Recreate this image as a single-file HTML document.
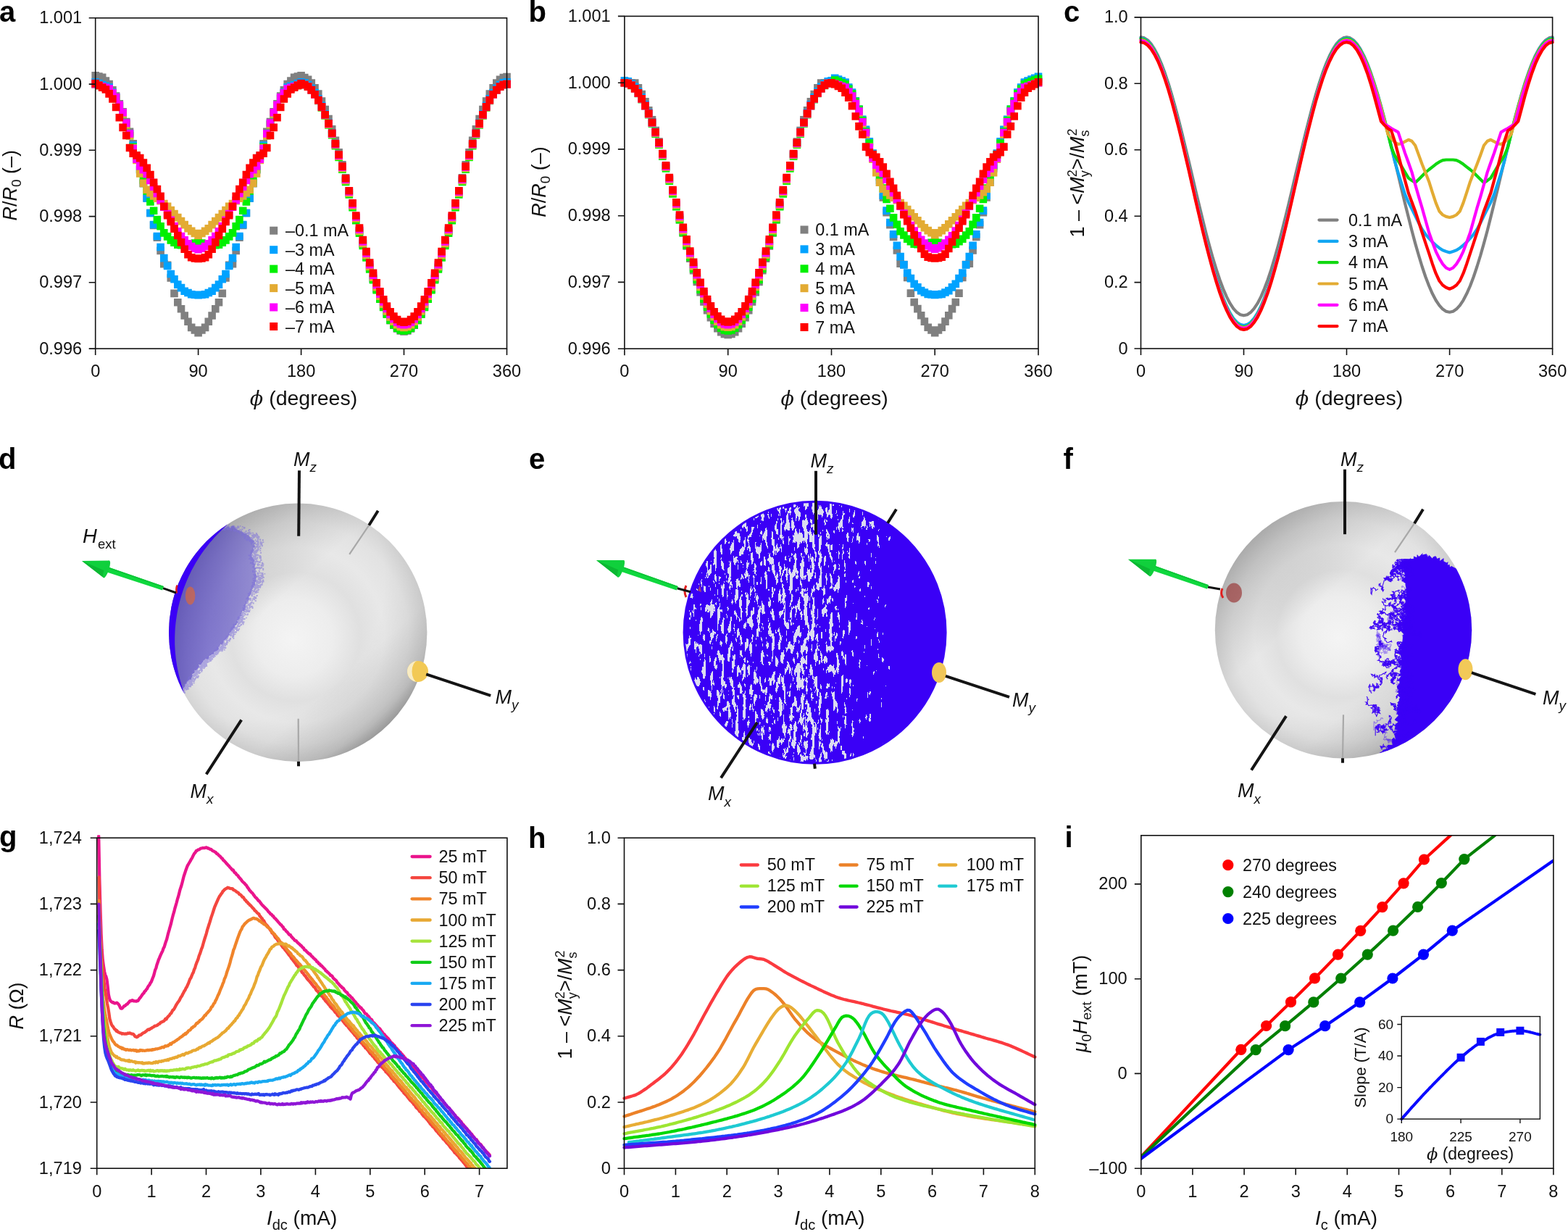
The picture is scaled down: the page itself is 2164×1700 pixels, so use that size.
<!DOCTYPE html>
<html><head><meta charset="utf-8"><title>Figure</title>
<style>html,body{margin:0;padding:0;background:#fff;} svg{display:block;}</style>
</head><body>
<svg width="2164" height="1700" viewBox="0 0 2164 1700" font-family="'Liberation Sans', Arial, sans-serif"><defs><clipPath id="clipG"><rect x="133.7" y="1152.2" width="566.2" height="460.0"/></clipPath><clipPath id="clipI"><rect x="1574.8" y="1152.8" width="569.1000000000001" height="459.4000000000001"/></clipPath>
<radialGradient id="sphG" cx="0.5" cy="0.5" r="0.5" fx="0.48" fy="0.53">
  <stop offset="0" stop-color="#f4f4f4"/>
  <stop offset="0.3" stop-color="#ededed"/>
  <stop offset="0.5" stop-color="#e0e0e0"/>
  <stop offset="0.68" stop-color="#e8e8e8"/>
  <stop offset="0.86" stop-color="#e2e2e2"/>
  <stop offset="1" stop-color="#d4d4d4"/>
</radialGradient>
<radialGradient id="sphS" cx="0.3" cy="0.3" r="0.86">
  <stop offset="0.62" stop-color="#000" stop-opacity="0"/>
  <stop offset="0.86" stop-color="#000" stop-opacity="0.07"/>
  <stop offset="1" stop-color="#000" stop-opacity="0.30"/>
</radialGradient>
<linearGradient id="sphT" x1="0.1" y1="0.05" x2="0.9" y2="0.95">
  <stop offset="0" stop-color="#000" stop-opacity="0.26"/>
  <stop offset="0.2" stop-color="#000" stop-opacity="0.11"/>
  <stop offset="0.38" stop-color="#000" stop-opacity="0"/>
  <stop offset="0.7" stop-color="#000" stop-opacity="0"/>
  <stop offset="0.86" stop-color="#000" stop-opacity="0.08"/>
  <stop offset="1" stop-color="#000" stop-opacity="0.25"/>
</linearGradient>
<linearGradient id="arrG" x1="0" y1="0" x2="0" y2="1">
  <stop offset="0" stop-color="#5ef07a"/>
  <stop offset="0.45" stop-color="#22d048"/>
  <stop offset="1" stop-color="#0f9a30"/>
</linearGradient>
<clipPath id="clipD"><circle cx="411.2" cy="872.8" r="178.2"/></clipPath><linearGradient id="lavD" gradientUnits="userSpaceOnUse" x1="235" y1="0" x2="365" y2="0"><stop offset="0" stop-color="#3424b0" stop-opacity="0.66"/><stop offset="0.5" stop-color="#3a2ac0" stop-opacity="0.55"/><stop offset="1" stop-color="#4434d0" stop-opacity="0.42"/></linearGradient><clipPath id="clipE"><circle cx="1124.6" cy="872.8" r="180.5"/></clipPath><linearGradient id="densE" gradientUnits="userSpaceOnUse" x1="944" y1="0" x2="1305" y2="0"><stop offset="0" stop-color="rgb(130,0,0)"/><stop offset="0.02" stop-color="rgb(150,0,0)"/><stop offset="0.08" stop-color="rgb(151,0,0)"/><stop offset="0.14" stop-color="rgb(158,0,0)"/><stop offset="0.2" stop-color="rgb(161,0,0)"/><stop offset="0.26" stop-color="rgb(158,0,0)"/><stop offset="0.33" stop-color="rgb(156,0,0)"/><stop offset="0.39" stop-color="rgb(160,0,0)"/><stop offset="0.43" stop-color="rgb(171,0,0)"/><stop offset="0.48" stop-color="rgb(172,0,0)"/><stop offset="0.51" stop-color="rgb(160,0,0)"/><stop offset="0.57" stop-color="rgb(156,0,0)"/><stop offset="0.6" stop-color="rgb(146,0,0)"/><stop offset="0.63" stop-color="rgb(136,0,0)"/><stop offset="0.66" stop-color="rgb(124,0,0)"/><stop offset="0.74" stop-color="rgb(118,0,0)"/><stop offset="0.8" stop-color="rgb(95,0,0)"/><stop offset="1" stop-color="rgb(80,0,0)"/></linearGradient><radialGradient id="densE2" gradientUnits="userSpaceOnUse" cx="1190" cy="725" r="70"><stop offset="0" stop-color="rgb(150,0,0)" stop-opacity="0.9"/><stop offset="1" stop-color="rgb(150,0,0)" stop-opacity="0"/></radialGradient>
<filter id="speckE" filterUnits="userSpaceOnUse" x="940" y="688" width="372" height="372" color-interpolation-filters="sRGB">
 <feTurbulence type="fractalNoise" baseFrequency="0.2 0.06" numOctaves="3" seed="4" result="n"/>
 <feColorMatrix in="n" type="matrix" values="1 0 0 0 0  1 0 0 0 0  1 0 0 0 0  0 0 0 0 1" result="n2"/>
 <feComposite in="n2" in2="SourceGraphic" operator="arithmetic" k2="1" k3="1" k4="-0.5" result="s"/>
 <feColorMatrix in="s" type="matrix" values="0 0 0 0 0.86  0 0 0 0 0.86  0 0 0 0 0.94  1 0 0 0 0" result="t"/>
 <feComponentTransfer in="t"><feFuncA type="discrete" tableValues="0 0 0 0 0 0 0 1 1 1"/></feComponentTransfer>
</filter><clipPath id="clipF"><circle cx="1854.0" cy="869.2" r="177.2"/></clipPath></defs><rect width="2164" height="1700" fill="#fff"/><text x="-1.0" y="29.6" font-size="40" text-anchor="start" font-weight="bold" fill="#000" >a</text>
<text x="729.5" y="29.6" font-size="40" text-anchor="start" font-weight="bold" fill="#000" >b</text>
<text x="1468.0" y="29.6" font-size="40" text-anchor="start" font-weight="bold" fill="#000" >c</text>
<text x="-2.0" y="646.7" font-size="40" text-anchor="start" font-weight="bold" fill="#000" >d</text>
<text x="730.0" y="646.7" font-size="40" text-anchor="start" font-weight="bold" fill="#000" >e</text>
<text x="1467.5" y="646.7" font-size="40" text-anchor="start" font-weight="bold" fill="#000" >f</text>
<text x="-1.0" y="1168.0" font-size="40" text-anchor="start" font-weight="bold" fill="#000" >g</text>
<text x="729.0" y="1169.6" font-size="40" text-anchor="start" font-weight="bold" fill="#000" >h</text>
<text x="1469.5" y="1168.6" font-size="40" text-anchor="start" font-weight="bold" fill="#000" >i</text>
<path d="M126.4,98.9h10.6v10.6h-10.6zM131.1,100.3h10.6v10.6h-10.6zM135.9,101.6h10.6v10.6h-10.6zM140.6,106.2h10.6v10.6h-10.6zM145.3,110.8h10.6v10.6h-10.6zM150.1,119.0h10.6v10.6h-10.6zM154.8,127.2h10.6v10.6h-10.6zM159.5,138.1h10.6v10.6h-10.6zM164.3,149.1h10.6v10.6h-10.6zM169.0,162.8h10.6v10.6h-10.6zM173.7,176.5h10.6v10.6h-10.6zM178.4,192.9h10.6v10.6h-10.6zM183.2,209.3h10.6v10.6h-10.6zM187.9,228.5h10.6v10.6h-10.6zM192.6,247.6h10.6v10.6h-10.6zM197.4,268.2h10.6v10.6h-10.6zM202.1,288.7h10.6v10.6h-10.6zM206.8,305.6h10.6v10.6h-10.6zM211.6,322.5h10.6v10.6h-10.6zM216.3,340.7h10.6v10.6h-10.6zM221.0,359.0h10.6v10.6h-10.6zM225.8,360.4h10.6v10.6h-10.6zM230.5,378.2h10.6v10.6h-10.6zM235.2,399.6h10.6v10.6h-10.6zM240.0,411.9h10.6v10.6h-10.6zM244.7,421.0h10.6v10.6h-10.6zM249.4,430.2h10.6v10.6h-10.6zM254.2,438.4h10.6v10.6h-10.6zM258.9,446.6h10.6v10.6h-10.6zM263.6,450.2h10.6v10.6h-10.6zM268.3,453.9h10.6v10.6h-10.6zM273.1,450.2h10.6v10.6h-10.6zM277.8,446.6h10.6v10.6h-10.6zM282.5,438.4h10.6v10.6h-10.6zM287.3,430.2h10.6v10.6h-10.6zM292.0,421.0h10.6v10.6h-10.6zM296.7,411.9h10.6v10.6h-10.6zM301.5,399.6h10.6v10.6h-10.6zM306.2,378.2h10.6v10.6h-10.6zM310.9,360.4h10.6v10.6h-10.6zM315.7,359.0h10.6v10.6h-10.6zM320.4,340.7h10.6v10.6h-10.6zM325.1,322.5h10.6v10.6h-10.6zM329.9,305.6h10.6v10.6h-10.6zM334.6,288.7h10.6v10.6h-10.6zM339.3,268.2h10.6v10.6h-10.6zM344.1,247.6h10.6v10.6h-10.6zM348.8,228.5h10.6v10.6h-10.6zM353.5,209.3h10.6v10.6h-10.6zM358.3,192.9h10.6v10.6h-10.6zM363.0,176.5h10.6v10.6h-10.6zM367.7,162.8h10.6v10.6h-10.6zM372.4,149.1h10.6v10.6h-10.6zM377.2,138.1h10.6v10.6h-10.6zM381.9,127.2h10.6v10.6h-10.6zM386.6,119.0h10.6v10.6h-10.6zM391.4,110.8h10.6v10.6h-10.6zM396.1,106.2h10.6v10.6h-10.6zM400.8,101.6h10.6v10.6h-10.6zM405.6,100.3h10.6v10.6h-10.6zM410.3,98.9h10.6v10.6h-10.6zM415.0,101.7h10.6v10.6h-10.6zM419.8,104.6h10.6v10.6h-10.6zM424.5,109.3h10.6v10.6h-10.6zM429.2,115.9h10.6v10.6h-10.6zM434.0,124.3h10.6v10.6h-10.6zM438.7,134.3h10.6v10.6h-10.6zM443.4,145.8h10.6v10.6h-10.6zM448.2,158.8h10.6v10.6h-10.6zM452.9,173.1h10.6v10.6h-10.6zM457.6,188.6h10.6v10.6h-10.6zM462.3,204.9h10.6v10.6h-10.6zM467.1,222.1h10.6v10.6h-10.6zM471.8,239.9h10.6v10.6h-10.6zM476.5,258.0h10.6v10.6h-10.6zM481.3,276.4h10.6v10.6h-10.6zM486.0,294.8h10.6v10.6h-10.6zM490.7,312.9h10.6v10.6h-10.6zM495.5,330.7h10.6v10.6h-10.6zM500.2,347.9h10.6v10.6h-10.6zM504.9,364.2h10.6v10.6h-10.6zM509.7,379.7h10.6v10.6h-10.6zM514.4,393.9h10.6v10.6h-10.6zM519.1,406.9h10.6v10.6h-10.6zM523.9,418.5h10.6v10.6h-10.6zM528.6,428.5h10.6v10.6h-10.6zM533.3,436.9h10.6v10.6h-10.6zM538.1,443.5h10.6v10.6h-10.6zM542.8,448.2h10.6v10.6h-10.6zM547.5,451.1h10.6v10.6h-10.6zM552.2,452.1h10.6v10.6h-10.6zM557.0,451.1h10.6v10.6h-10.6zM561.7,448.2h10.6v10.6h-10.6zM566.4,443.5h10.6v10.6h-10.6zM571.2,436.9h10.6v10.6h-10.6zM575.9,428.5h10.6v10.6h-10.6zM580.6,418.5h10.6v10.6h-10.6zM585.4,406.9h10.6v10.6h-10.6zM590.1,393.9h10.6v10.6h-10.6zM594.8,379.7h10.6v10.6h-10.6zM599.6,364.2h10.6v10.6h-10.6zM604.3,347.9h10.6v10.6h-10.6zM609.0,330.7h10.6v10.6h-10.6zM613.8,312.9h10.6v10.6h-10.6zM618.5,294.8h10.6v10.6h-10.6zM623.2,276.4h10.6v10.6h-10.6zM628.0,258.0h10.6v10.6h-10.6zM632.7,239.9h10.6v10.6h-10.6zM637.4,222.1h10.6v10.6h-10.6zM642.2,204.9h10.6v10.6h-10.6zM646.9,188.6h10.6v10.6h-10.6zM651.6,173.1h10.6v10.6h-10.6zM656.3,158.8h10.6v10.6h-10.6zM661.1,145.8h10.6v10.6h-10.6zM665.8,134.3h10.6v10.6h-10.6zM670.5,124.3h10.6v10.6h-10.6zM675.3,115.9h10.6v10.6h-10.6zM680.0,109.3h10.6v10.6h-10.6zM684.7,104.6h10.6v10.6h-10.6zM689.5,101.7h10.6v10.6h-10.6zM694.2,100.7h10.6v10.6h-10.6z" fill="#808080"/>
<path d="M126.4,108.0h10.6v10.6h-10.6zM131.1,109.8h10.6v10.6h-10.6zM135.9,111.7h10.6v10.6h-10.6zM140.6,113.5h10.6v10.6h-10.6zM145.3,115.3h10.6v10.6h-10.6zM150.1,122.2h10.6v10.6h-10.6zM154.8,129.0h10.6v10.6h-10.6zM159.5,140.4h10.6v10.6h-10.6zM164.3,151.8h10.6v10.6h-10.6zM169.0,165.5h10.6v10.6h-10.6zM173.7,179.2h10.6v10.6h-10.6zM178.4,195.2h10.6v10.6h-10.6zM183.2,211.1h10.6v10.6h-10.6zM187.9,229.4h10.6v10.6h-10.6zM192.6,247.6h10.6v10.6h-10.6zM197.4,268.2h10.6v10.6h-10.6zM202.1,288.7h10.6v10.6h-10.6zM206.8,304.7h10.6v10.6h-10.6zM211.6,320.7h10.6v10.6h-10.6zM216.3,335.7h10.6v10.6h-10.6zM221.0,350.8h10.6v10.6h-10.6zM225.8,361.7h10.6v10.6h-10.6zM230.5,372.7h10.6v10.6h-10.6zM235.2,380.0h10.6v10.6h-10.6zM240.0,387.3h10.6v10.6h-10.6zM244.7,391.8h10.6v10.6h-10.6zM249.4,396.4h10.6v10.6h-10.6zM254.2,398.7h10.6v10.6h-10.6zM258.9,401.0h10.6v10.6h-10.6zM263.6,401.4h10.6v10.6h-10.6zM268.3,401.9h10.6v10.6h-10.6zM273.1,401.4h10.6v10.6h-10.6zM277.8,401.0h10.6v10.6h-10.6zM282.5,398.7h10.6v10.6h-10.6zM287.3,396.4h10.6v10.6h-10.6zM292.0,391.8h10.6v10.6h-10.6zM296.7,387.3h10.6v10.6h-10.6zM301.5,380.0h10.6v10.6h-10.6zM306.2,372.7h10.6v10.6h-10.6zM310.9,361.7h10.6v10.6h-10.6zM315.7,350.8h10.6v10.6h-10.6zM320.4,335.7h10.6v10.6h-10.6zM325.1,320.7h10.6v10.6h-10.6zM329.9,304.7h10.6v10.6h-10.6zM334.6,288.7h10.6v10.6h-10.6zM339.3,268.2h10.6v10.6h-10.6zM344.1,247.6h10.6v10.6h-10.6zM348.8,229.4h10.6v10.6h-10.6zM353.5,211.1h10.6v10.6h-10.6zM358.3,195.2h10.6v10.6h-10.6zM363.0,179.2h10.6v10.6h-10.6zM367.7,165.5h10.6v10.6h-10.6zM372.4,151.8h10.6v10.6h-10.6zM377.2,140.4h10.6v10.6h-10.6zM381.9,129.0h10.6v10.6h-10.6zM386.6,122.2h10.6v10.6h-10.6zM391.4,115.3h10.6v10.6h-10.6zM396.1,113.5h10.6v10.6h-10.6zM400.8,111.7h10.6v10.6h-10.6zM405.6,109.8h10.6v10.6h-10.6zM410.3,108.0h10.6v10.6h-10.6zM415.0,109.0h10.6v10.6h-10.6zM419.8,111.8h10.6v10.6h-10.6zM424.5,116.4h10.6v10.6h-10.6zM429.2,122.8h10.6v10.6h-10.6zM434.0,130.9h10.6v10.6h-10.6zM438.7,140.6h10.6v10.6h-10.6zM443.4,151.9h10.6v10.6h-10.6zM448.2,164.5h10.6v10.6h-10.6zM452.9,178.4h10.6v10.6h-10.6zM457.6,193.4h10.6v10.6h-10.6zM462.3,209.3h10.6v10.6h-10.6zM467.1,225.9h10.6v10.6h-10.6zM471.8,243.2h10.6v10.6h-10.6zM476.5,260.8h10.6v10.6h-10.6zM481.3,278.7h10.6v10.6h-10.6zM486.0,296.5h10.6v10.6h-10.6zM490.7,314.2h10.6v10.6h-10.6zM495.5,331.4h10.6v10.6h-10.6zM500.2,348.1h10.6v10.6h-10.6zM504.9,364.0h10.6v10.6h-10.6zM509.7,379.0h10.6v10.6h-10.6zM514.4,392.9h10.6v10.6h-10.6zM519.1,405.5h10.6v10.6h-10.6zM523.9,416.7h10.6v10.6h-10.6zM528.6,426.5h10.6v10.6h-10.6zM533.3,434.6h10.6v10.6h-10.6zM538.1,441.0h10.6v10.6h-10.6zM542.8,445.6h10.6v10.6h-10.6zM547.5,448.4h10.6v10.6h-10.6zM552.2,449.3h10.6v10.6h-10.6zM557.0,448.4h10.6v10.6h-10.6zM561.7,445.6h10.6v10.6h-10.6zM566.4,441.0h10.6v10.6h-10.6zM571.2,434.6h10.6v10.6h-10.6zM575.9,426.5h10.6v10.6h-10.6zM580.6,416.7h10.6v10.6h-10.6zM585.4,405.5h10.6v10.6h-10.6zM590.1,392.9h10.6v10.6h-10.6zM594.8,379.0h10.6v10.6h-10.6zM599.6,364.0h10.6v10.6h-10.6zM604.3,348.1h10.6v10.6h-10.6zM609.0,331.4h10.6v10.6h-10.6zM613.8,314.2h10.6v10.6h-10.6zM618.5,296.5h10.6v10.6h-10.6zM623.2,278.7h10.6v10.6h-10.6zM628.0,260.8h10.6v10.6h-10.6zM632.7,243.2h10.6v10.6h-10.6zM637.4,225.9h10.6v10.6h-10.6zM642.2,209.3h10.6v10.6h-10.6zM646.9,193.4h10.6v10.6h-10.6zM651.6,178.4h10.6v10.6h-10.6zM656.3,164.5h10.6v10.6h-10.6zM661.1,151.9h10.6v10.6h-10.6zM665.8,140.6h10.6v10.6h-10.6zM670.5,130.9h10.6v10.6h-10.6zM675.3,122.8h10.6v10.6h-10.6zM680.0,116.4h10.6v10.6h-10.6zM684.7,111.8h10.6v10.6h-10.6zM689.5,109.0h10.6v10.6h-10.6zM694.2,108.0h10.6v10.6h-10.6z" fill="#00a2ff"/>
<path d="M126.4,110.8h10.6v10.6h-10.6zM131.1,112.6h10.6v10.6h-10.6zM135.9,114.4h10.6v10.6h-10.6zM140.6,116.2h10.6v10.6h-10.6zM145.3,118.1h10.6v10.6h-10.6zM150.1,124.4h10.6v10.6h-10.6zM154.8,130.8h10.6v10.6h-10.6zM159.5,141.3h10.6v10.6h-10.6zM164.3,151.8h10.6v10.6h-10.6zM169.0,166.9h10.6v10.6h-10.6zM173.7,181.9h10.6v10.6h-10.6zM178.4,197.5h10.6v10.6h-10.6zM183.2,213.0h10.6v10.6h-10.6zM187.9,228.0h10.6v10.6h-10.6zM192.6,243.1h10.6v10.6h-10.6zM197.4,258.1h10.6v10.6h-10.6zM202.1,273.2h10.6v10.6h-10.6zM206.8,285.5h10.6v10.6h-10.6zM211.6,297.8h10.6v10.6h-10.6zM216.3,307.0h10.6v10.6h-10.6zM221.0,316.1h10.6v10.6h-10.6zM225.8,321.1h10.6v10.6h-10.6zM230.5,326.1h10.6v10.6h-10.6zM235.2,329.3h10.6v10.6h-10.6zM240.0,332.5h10.6v10.6h-10.6zM244.7,332.9h10.6v10.6h-10.6zM249.4,333.2h10.6v10.6h-10.6zM254.2,333.0h10.6v10.6h-10.6zM258.9,331.6h10.6v10.6h-10.6zM263.6,330.2h10.6v10.6h-10.6zM268.3,328.9h10.6v10.6h-10.6zM273.1,330.2h10.6v10.6h-10.6zM277.8,331.6h10.6v10.6h-10.6zM282.5,333.0h10.6v10.6h-10.6zM287.3,333.2h10.6v10.6h-10.6zM292.0,332.9h10.6v10.6h-10.6zM296.7,332.5h10.6v10.6h-10.6zM301.5,329.3h10.6v10.6h-10.6zM306.2,326.1h10.6v10.6h-10.6zM310.9,321.1h10.6v10.6h-10.6zM315.7,316.1h10.6v10.6h-10.6zM320.4,307.0h10.6v10.6h-10.6zM325.1,297.8h10.6v10.6h-10.6zM329.9,285.5h10.6v10.6h-10.6zM334.6,273.2h10.6v10.6h-10.6zM339.3,258.1h10.6v10.6h-10.6zM344.1,243.1h10.6v10.6h-10.6zM348.8,228.0h10.6v10.6h-10.6zM353.5,213.0h10.6v10.6h-10.6zM358.3,197.5h10.6v10.6h-10.6zM363.0,181.9h10.6v10.6h-10.6zM367.7,166.9h10.6v10.6h-10.6zM372.4,151.8h10.6v10.6h-10.6zM377.2,141.3h10.6v10.6h-10.6zM381.9,130.8h10.6v10.6h-10.6zM386.6,124.4h10.6v10.6h-10.6zM391.4,118.1h10.6v10.6h-10.6zM396.1,116.2h10.6v10.6h-10.6zM400.8,114.4h10.6v10.6h-10.6zM405.6,112.6h10.6v10.6h-10.6zM410.3,110.8h10.6v10.6h-10.6zM415.0,111.7h10.6v10.6h-10.6zM419.8,114.5h10.6v10.6h-10.6zM424.5,119.1h10.6v10.6h-10.6zM429.2,125.5h10.6v10.6h-10.6zM434.0,133.6h10.6v10.6h-10.6zM438.7,143.3h10.6v10.6h-10.6zM443.4,154.5h10.6v10.6h-10.6zM448.2,167.1h10.6v10.6h-10.6zM452.9,180.9h10.6v10.6h-10.6zM457.6,195.9h10.6v10.6h-10.6zM462.3,211.7h10.6v10.6h-10.6zM467.1,228.4h10.6v10.6h-10.6zM471.8,245.6h10.6v10.6h-10.6zM476.5,263.2h10.6v10.6h-10.6zM481.3,281.0h10.6v10.6h-10.6zM486.0,298.8h10.6v10.6h-10.6zM490.7,316.3h10.6v10.6h-10.6zM495.5,333.6h10.6v10.6h-10.6zM500.2,350.2h10.6v10.6h-10.6zM504.9,366.1h10.6v10.6h-10.6zM509.7,381.0h10.6v10.6h-10.6zM514.4,394.8h10.6v10.6h-10.6zM519.1,407.4h10.6v10.6h-10.6zM523.9,418.7h10.6v10.6h-10.6zM528.6,428.4h10.6v10.6h-10.6zM533.3,436.4h10.6v10.6h-10.6zM538.1,442.8h10.6v10.6h-10.6zM542.8,447.4h10.6v10.6h-10.6zM547.5,450.2h10.6v10.6h-10.6zM552.2,451.2h10.6v10.6h-10.6zM557.0,450.2h10.6v10.6h-10.6zM561.7,447.4h10.6v10.6h-10.6zM566.4,442.8h10.6v10.6h-10.6zM571.2,436.4h10.6v10.6h-10.6zM575.9,428.4h10.6v10.6h-10.6zM580.6,418.7h10.6v10.6h-10.6zM585.4,407.4h10.6v10.6h-10.6zM590.1,394.8h10.6v10.6h-10.6zM594.8,381.0h10.6v10.6h-10.6zM599.6,366.1h10.6v10.6h-10.6zM604.3,350.2h10.6v10.6h-10.6zM609.0,333.6h10.6v10.6h-10.6zM613.8,316.3h10.6v10.6h-10.6zM618.5,298.8h10.6v10.6h-10.6zM623.2,281.0h10.6v10.6h-10.6zM628.0,263.2h10.6v10.6h-10.6zM632.7,245.6h10.6v10.6h-10.6zM637.4,228.4h10.6v10.6h-10.6zM642.2,211.7h10.6v10.6h-10.6zM646.9,195.9h10.6v10.6h-10.6zM651.6,180.9h10.6v10.6h-10.6zM656.3,167.1h10.6v10.6h-10.6zM661.1,154.5h10.6v10.6h-10.6zM665.8,143.3h10.6v10.6h-10.6zM670.5,133.6h10.6v10.6h-10.6zM675.3,125.5h10.6v10.6h-10.6zM680.0,119.1h10.6v10.6h-10.6zM684.7,114.5h10.6v10.6h-10.6zM689.5,111.7h10.6v10.6h-10.6zM694.2,110.8h10.6v10.6h-10.6z" fill="#00f000"/>
<path d="M126.4,110.8h10.6v10.6h-10.6zM131.1,112.6h10.6v10.6h-10.6zM135.9,114.4h10.6v10.6h-10.6zM140.6,116.2h10.6v10.6h-10.6zM145.3,118.1h10.6v10.6h-10.6zM150.1,124.4h10.6v10.6h-10.6zM154.8,130.8h10.6v10.6h-10.6zM159.5,141.3h10.6v10.6h-10.6zM164.3,151.8h10.6v10.6h-10.6zM169.0,166.9h10.6v10.6h-10.6zM173.7,181.9h10.6v10.6h-10.6zM178.4,198.8h10.6v10.6h-10.6zM183.2,215.7h10.6v10.6h-10.6zM187.9,234.2h10.6v10.6h-10.6zM192.6,247.6h10.6v10.6h-10.6zM197.4,256.5h10.6v10.6h-10.6zM202.1,261.0h10.6v10.6h-10.6zM206.8,265.1h10.6v10.6h-10.6zM211.6,268.3h10.6v10.6h-10.6zM216.3,271.8h10.6v10.6h-10.6zM221.0,275.7h10.6v10.6h-10.6zM225.8,279.6h10.6v10.6h-10.6zM230.5,284.7h10.6v10.6h-10.6zM235.2,289.8h10.6v10.6h-10.6zM240.0,294.8h10.6v10.6h-10.6zM244.7,299.8h10.6v10.6h-10.6zM249.4,304.8h10.6v10.6h-10.6zM254.2,309.9h10.6v10.6h-10.6zM258.9,313.6h10.6v10.6h-10.6zM263.6,316.7h10.6v10.6h-10.6zM268.3,319.7h10.6v10.6h-10.6zM273.1,316.7h10.6v10.6h-10.6zM277.8,313.6h10.6v10.6h-10.6zM282.5,309.9h10.6v10.6h-10.6zM287.3,304.8h10.6v10.6h-10.6zM292.0,299.8h10.6v10.6h-10.6zM296.7,294.8h10.6v10.6h-10.6zM301.5,289.8h10.6v10.6h-10.6zM306.2,284.7h10.6v10.6h-10.6zM310.9,279.6h10.6v10.6h-10.6zM315.7,275.7h10.6v10.6h-10.6zM320.4,271.8h10.6v10.6h-10.6zM325.1,268.3h10.6v10.6h-10.6zM329.9,265.1h10.6v10.6h-10.6zM334.6,261.0h10.6v10.6h-10.6zM339.3,256.5h10.6v10.6h-10.6zM344.1,247.6h10.6v10.6h-10.6zM348.8,234.2h10.6v10.6h-10.6zM353.5,215.7h10.6v10.6h-10.6zM358.3,198.8h10.6v10.6h-10.6zM363.0,181.9h10.6v10.6h-10.6zM367.7,166.9h10.6v10.6h-10.6zM372.4,151.8h10.6v10.6h-10.6zM377.2,141.3h10.6v10.6h-10.6zM381.9,130.8h10.6v10.6h-10.6zM386.6,124.4h10.6v10.6h-10.6zM391.4,118.1h10.6v10.6h-10.6zM396.1,116.2h10.6v10.6h-10.6zM400.8,114.4h10.6v10.6h-10.6zM405.6,112.6h10.6v10.6h-10.6zM410.3,110.8h10.6v10.6h-10.6zM415.0,111.7h10.6v10.6h-10.6zM419.8,114.4h10.6v10.6h-10.6zM424.5,119.0h10.6v10.6h-10.6zM429.2,125.3h10.6v10.6h-10.6zM434.0,133.3h10.6v10.6h-10.6zM438.7,142.8h10.6v10.6h-10.6zM443.4,153.9h10.6v10.6h-10.6zM448.2,166.3h10.6v10.6h-10.6zM452.9,180.0h10.6v10.6h-10.6zM457.6,194.7h10.6v10.6h-10.6zM462.3,210.4h10.6v10.6h-10.6zM467.1,226.8h10.6v10.6h-10.6zM471.8,243.8h10.6v10.6h-10.6zM476.5,261.1h10.6v10.6h-10.6zM481.3,278.7h10.6v10.6h-10.6zM486.0,296.2h10.6v10.6h-10.6zM490.7,313.6h10.6v10.6h-10.6zM495.5,330.6h10.6v10.6h-10.6zM500.2,347.0h10.6v10.6h-10.6zM504.9,362.6h10.6v10.6h-10.6zM509.7,377.4h10.6v10.6h-10.6zM514.4,391.0h10.6v10.6h-10.6zM519.1,403.5h10.6v10.6h-10.6zM523.9,414.5h10.6v10.6h-10.6zM528.6,424.1h10.6v10.6h-10.6zM533.3,432.1h10.6v10.6h-10.6zM538.1,438.4h10.6v10.6h-10.6zM542.8,442.9h10.6v10.6h-10.6zM547.5,445.7h10.6v10.6h-10.6zM552.2,446.6h10.6v10.6h-10.6zM557.0,445.7h10.6v10.6h-10.6zM561.7,442.9h10.6v10.6h-10.6zM566.4,438.4h10.6v10.6h-10.6zM571.2,432.1h10.6v10.6h-10.6zM575.9,424.1h10.6v10.6h-10.6zM580.6,414.5h10.6v10.6h-10.6zM585.4,403.5h10.6v10.6h-10.6zM590.1,391.0h10.6v10.6h-10.6zM594.8,377.4h10.6v10.6h-10.6zM599.6,362.6h10.6v10.6h-10.6zM604.3,347.0h10.6v10.6h-10.6zM609.0,330.6h10.6v10.6h-10.6zM613.8,313.6h10.6v10.6h-10.6zM618.5,296.2h10.6v10.6h-10.6zM623.2,278.7h10.6v10.6h-10.6zM628.0,261.1h10.6v10.6h-10.6zM632.7,243.8h10.6v10.6h-10.6zM637.4,226.8h10.6v10.6h-10.6zM642.2,210.4h10.6v10.6h-10.6zM646.9,194.7h10.6v10.6h-10.6zM651.6,180.0h10.6v10.6h-10.6zM656.3,166.3h10.6v10.6h-10.6zM661.1,153.9h10.6v10.6h-10.6zM665.8,142.8h10.6v10.6h-10.6zM670.5,133.3h10.6v10.6h-10.6zM675.3,125.3h10.6v10.6h-10.6zM680.0,119.0h10.6v10.6h-10.6zM684.7,114.4h10.6v10.6h-10.6zM689.5,111.7h10.6v10.6h-10.6zM694.2,110.8h10.6v10.6h-10.6z" fill="#e3ab33"/>
<path d="M126.4,110.8h10.6v10.6h-10.6zM131.1,112.4h10.6v10.6h-10.6zM135.9,114.0h10.6v10.6h-10.6zM140.6,115.6h10.6v10.6h-10.6zM145.3,117.1h10.6v10.6h-10.6zM150.1,123.1h10.6v10.6h-10.6zM154.8,129.0h10.6v10.6h-10.6zM159.5,139.5h10.6v10.6h-10.6zM164.3,150.0h10.6v10.6h-10.6zM169.0,164.6h10.6v10.6h-10.6zM173.7,179.2h10.6v10.6h-10.6zM178.4,199.7h10.6v10.6h-10.6zM183.2,214.3h10.6v10.6h-10.6zM187.9,223.8h10.6v10.6h-10.6zM192.6,228.8h10.6v10.6h-10.6zM197.4,235.0h10.6v10.6h-10.6zM202.1,243.7h10.6v10.6h-10.6zM206.8,252.5h10.6v10.6h-10.6zM211.6,261.6h10.6v10.6h-10.6zM216.3,270.9h10.6v10.6h-10.6zM221.0,280.5h10.6v10.6h-10.6zM225.8,289.8h10.6v10.6h-10.6zM230.5,298.5h10.6v10.6h-10.6zM235.2,306.7h10.6v10.6h-10.6zM240.0,314.0h10.6v10.6h-10.6zM244.7,320.7h10.6v10.6h-10.6zM249.4,326.1h10.6v10.6h-10.6zM254.2,331.0h10.6v10.6h-10.6zM258.9,334.7h10.6v10.6h-10.6zM263.6,337.5h10.6v10.6h-10.6zM268.3,338.9h10.6v10.6h-10.6zM273.1,337.5h10.6v10.6h-10.6zM277.8,334.7h10.6v10.6h-10.6zM282.5,331.0h10.6v10.6h-10.6zM287.3,326.1h10.6v10.6h-10.6zM292.0,320.7h10.6v10.6h-10.6zM296.7,314.0h10.6v10.6h-10.6zM301.5,306.7h10.6v10.6h-10.6zM306.2,298.5h10.6v10.6h-10.6zM310.9,289.8h10.6v10.6h-10.6zM315.7,280.5h10.6v10.6h-10.6zM320.4,270.9h10.6v10.6h-10.6zM325.1,261.6h10.6v10.6h-10.6zM329.9,252.5h10.6v10.6h-10.6zM334.6,243.7h10.6v10.6h-10.6zM339.3,235.0h10.6v10.6h-10.6zM344.1,228.8h10.6v10.6h-10.6zM348.8,223.8h10.6v10.6h-10.6zM353.5,214.3h10.6v10.6h-10.6zM358.3,199.7h10.6v10.6h-10.6zM363.0,179.2h10.6v10.6h-10.6zM367.7,164.6h10.6v10.6h-10.6zM372.4,150.0h10.6v10.6h-10.6zM377.2,139.5h10.6v10.6h-10.6zM381.9,129.0h10.6v10.6h-10.6zM386.6,123.1h10.6v10.6h-10.6zM391.4,117.1h10.6v10.6h-10.6zM396.1,115.6h10.6v10.6h-10.6zM400.8,114.0h10.6v10.6h-10.6zM405.6,112.4h10.6v10.6h-10.6zM410.3,110.8h10.6v10.6h-10.6zM415.0,111.7h10.6v10.6h-10.6zM419.8,114.4h10.6v10.6h-10.6zM424.5,118.9h10.6v10.6h-10.6zM429.2,125.1h10.6v10.6h-10.6zM434.0,133.0h10.6v10.6h-10.6zM438.7,142.5h10.6v10.6h-10.6zM443.4,153.4h10.6v10.6h-10.6zM448.2,165.7h10.6v10.6h-10.6zM452.9,179.2h10.6v10.6h-10.6zM457.6,193.8h10.6v10.6h-10.6zM462.3,209.3h10.6v10.6h-10.6zM467.1,225.5h10.6v10.6h-10.6zM471.8,242.3h10.6v10.6h-10.6zM476.5,259.5h10.6v10.6h-10.6zM481.3,276.9h10.6v10.6h-10.6zM486.0,294.2h10.6v10.6h-10.6zM490.7,311.4h10.6v10.6h-10.6zM495.5,328.2h10.6v10.6h-10.6zM500.2,344.4h10.6v10.6h-10.6zM504.9,359.9h10.6v10.6h-10.6zM509.7,374.5h10.6v10.6h-10.6zM514.4,388.0h10.6v10.6h-10.6zM519.1,400.3h10.6v10.6h-10.6zM523.9,411.2h10.6v10.6h-10.6zM528.6,420.7h10.6v10.6h-10.6zM533.3,428.6h10.6v10.6h-10.6zM538.1,434.8h10.6v10.6h-10.6zM542.8,439.3h10.6v10.6h-10.6zM547.5,442.0h10.6v10.6h-10.6zM552.2,442.9h10.6v10.6h-10.6zM557.0,442.0h10.6v10.6h-10.6zM561.7,439.3h10.6v10.6h-10.6zM566.4,434.8h10.6v10.6h-10.6zM571.2,428.6h10.6v10.6h-10.6zM575.9,420.7h10.6v10.6h-10.6zM580.6,411.2h10.6v10.6h-10.6zM585.4,400.3h10.6v10.6h-10.6zM590.1,388.0h10.6v10.6h-10.6zM594.8,374.5h10.6v10.6h-10.6zM599.6,359.9h10.6v10.6h-10.6zM604.3,344.4h10.6v10.6h-10.6zM609.0,328.2h10.6v10.6h-10.6zM613.8,311.4h10.6v10.6h-10.6zM618.5,294.2h10.6v10.6h-10.6zM623.2,276.9h10.6v10.6h-10.6zM628.0,259.5h10.6v10.6h-10.6zM632.7,242.3h10.6v10.6h-10.6zM637.4,225.5h10.6v10.6h-10.6zM642.2,209.3h10.6v10.6h-10.6zM646.9,193.8h10.6v10.6h-10.6zM651.6,179.2h10.6v10.6h-10.6zM656.3,165.7h10.6v10.6h-10.6zM661.1,153.4h10.6v10.6h-10.6zM665.8,142.5h10.6v10.6h-10.6zM670.5,133.0h10.6v10.6h-10.6zM675.3,125.1h10.6v10.6h-10.6zM680.0,118.9h10.6v10.6h-10.6zM684.7,114.4h10.6v10.6h-10.6zM689.5,111.7h10.6v10.6h-10.6zM694.2,110.8h10.6v10.6h-10.6z" fill="#ff00ff"/>
<path d="M126.4,109.8h10.6v10.6h-10.6zM131.1,112.6h10.6v10.6h-10.6zM135.9,115.4h10.6v10.6h-10.6zM140.6,118.2h10.6v10.6h-10.6zM145.3,124.1h10.6v10.6h-10.6zM150.1,131.2h10.6v10.6h-10.6zM154.8,142.7h10.6v10.6h-10.6zM159.5,156.9h10.6v10.6h-10.6zM164.3,170.6h10.6v10.6h-10.6zM169.0,181.7h10.6v10.6h-10.6zM173.7,198.7h10.6v10.6h-10.6zM178.4,206.3h10.6v10.6h-10.6zM183.2,209.2h10.6v10.6h-10.6zM187.9,212.8h10.6v10.6h-10.6zM192.6,219.2h10.6v10.6h-10.6zM197.4,226.5h10.6v10.6h-10.6zM202.1,235.7h10.6v10.6h-10.6zM206.8,246.6h10.6v10.6h-10.6zM211.6,255.7h10.6v10.6h-10.6zM216.3,265.6h10.6v10.6h-10.6zM221.0,279.6h10.6v10.6h-10.6zM225.8,291.8h10.6v10.6h-10.6zM230.5,300.6h10.6v10.6h-10.6zM235.2,310.3h10.6v10.6h-10.6zM240.0,319.7h10.6v10.6h-10.6zM244.7,329.1h10.6v10.6h-10.6zM249.4,338.4h10.6v10.6h-10.6zM254.2,346.0h10.6v10.6h-10.6zM258.9,349.9h10.6v10.6h-10.6zM263.6,351.2h10.6v10.6h-10.6zM268.3,351.7h10.6v10.6h-10.6zM273.1,351.2h10.6v10.6h-10.6zM277.8,349.9h10.6v10.6h-10.6zM282.5,346.0h10.6v10.6h-10.6zM287.3,338.4h10.6v10.6h-10.6zM292.0,329.1h10.6v10.6h-10.6zM296.7,319.7h10.6v10.6h-10.6zM301.5,310.3h10.6v10.6h-10.6zM306.2,300.6h10.6v10.6h-10.6zM310.9,291.8h10.6v10.6h-10.6zM315.7,279.6h10.6v10.6h-10.6zM320.4,265.6h10.6v10.6h-10.6zM325.1,255.7h10.6v10.6h-10.6zM329.9,246.6h10.6v10.6h-10.6zM334.6,235.7h10.6v10.6h-10.6zM339.3,226.5h10.6v10.6h-10.6zM344.1,219.2h10.6v10.6h-10.6zM348.8,212.8h10.6v10.6h-10.6zM353.5,209.2h10.6v10.6h-10.6zM358.3,206.3h10.6v10.6h-10.6zM363.0,198.7h10.6v10.6h-10.6zM367.7,181.7h10.6v10.6h-10.6zM372.4,170.6h10.6v10.6h-10.6zM377.2,156.9h10.6v10.6h-10.6zM381.9,142.7h10.6v10.6h-10.6zM386.6,131.2h10.6v10.6h-10.6zM391.4,124.1h10.6v10.6h-10.6zM396.1,118.2h10.6v10.6h-10.6zM400.8,115.4h10.6v10.6h-10.6zM405.6,112.6h10.6v10.6h-10.6zM410.3,109.8h10.6v10.6h-10.6zM415.0,111.7h10.6v10.6h-10.6zM419.8,114.3h10.6v10.6h-10.6zM424.5,118.8h10.6v10.6h-10.6zM429.2,125.0h10.6v10.6h-10.6zM434.0,132.8h10.6v10.6h-10.6zM438.7,142.1h10.6v10.6h-10.6zM443.4,153.0h10.6v10.6h-10.6zM448.2,165.1h10.6v10.6h-10.6zM452.9,178.5h10.6v10.6h-10.6zM457.6,192.9h10.6v10.6h-10.6zM462.3,208.2h10.6v10.6h-10.6zM467.1,224.3h10.6v10.6h-10.6zM471.8,240.9h10.6v10.6h-10.6zM476.5,257.9h10.6v10.6h-10.6zM481.3,275.0h10.6v10.6h-10.6zM486.0,292.2h10.6v10.6h-10.6zM490.7,309.2h10.6v10.6h-10.6zM495.5,325.8h10.6v10.6h-10.6zM500.2,341.8h10.6v10.6h-10.6zM504.9,357.2h10.6v10.6h-10.6zM509.7,371.6h10.6v10.6h-10.6zM514.4,384.9h10.6v10.6h-10.6zM519.1,397.1h10.6v10.6h-10.6zM523.9,407.9h10.6v10.6h-10.6zM528.6,417.3h10.6v10.6h-10.6zM533.3,425.1h10.6v10.6h-10.6zM538.1,431.3h10.6v10.6h-10.6zM542.8,435.7h10.6v10.6h-10.6zM547.5,438.4h10.6v10.6h-10.6zM552.2,439.3h10.6v10.6h-10.6zM557.0,438.4h10.6v10.6h-10.6zM561.7,435.7h10.6v10.6h-10.6zM566.4,431.3h10.6v10.6h-10.6zM571.2,425.1h10.6v10.6h-10.6zM575.9,417.3h10.6v10.6h-10.6zM580.6,407.9h10.6v10.6h-10.6zM585.4,397.1h10.6v10.6h-10.6zM590.1,384.9h10.6v10.6h-10.6zM594.8,371.6h10.6v10.6h-10.6zM599.6,357.2h10.6v10.6h-10.6zM604.3,341.8h10.6v10.6h-10.6zM609.0,325.8h10.6v10.6h-10.6zM613.8,309.2h10.6v10.6h-10.6zM618.5,292.2h10.6v10.6h-10.6zM623.2,275.0h10.6v10.6h-10.6zM628.0,257.9h10.6v10.6h-10.6zM632.7,240.9h10.6v10.6h-10.6zM637.4,224.3h10.6v10.6h-10.6zM642.2,208.2h10.6v10.6h-10.6zM646.9,192.9h10.6v10.6h-10.6zM651.6,178.5h10.6v10.6h-10.6zM656.3,165.1h10.6v10.6h-10.6zM661.1,153.0h10.6v10.6h-10.6zM665.8,142.1h10.6v10.6h-10.6zM670.5,132.8h10.6v10.6h-10.6zM675.3,125.0h10.6v10.6h-10.6zM680.0,118.8h10.6v10.6h-10.6zM684.7,114.3h10.6v10.6h-10.6zM689.5,111.7h10.6v10.6h-10.6zM694.2,110.8h10.6v10.6h-10.6z" fill="#ff0000"/>
<rect x="372.2" y="312.7" width="11" height="11" fill="#808080"/>
<text x="394.0" y="326.2" font-size="23.4" text-anchor="start" fill="#111" >–0.1 mA</text>
<rect x="372.2" y="339.2" width="11" height="11" fill="#00a2ff"/>
<text x="394.0" y="352.7" font-size="23.4" text-anchor="start" fill="#111" >–3 mA</text>
<rect x="372.2" y="365.6" width="11" height="11" fill="#00f000"/>
<text x="394.0" y="379.1" font-size="23.4" text-anchor="start" fill="#111" >–4 mA</text>
<rect x="372.2" y="392.1" width="11" height="11" fill="#e3ab33"/>
<text x="394.0" y="405.6" font-size="23.4" text-anchor="start" fill="#111" >–5 mA</text>
<rect x="372.2" y="418.5" width="11" height="11" fill="#ff00ff"/>
<text x="394.0" y="432.0" font-size="23.4" text-anchor="start" fill="#111" >–6 mA</text>
<rect x="372.2" y="445.0" width="11" height="11" fill="#ff0000"/>
<text x="394.0" y="458.5" font-size="23.4" text-anchor="start" fill="#111" >–7 mA</text>
<path d="M856.6,108.9h10.6v10.6h-10.6zM861.4,108.9h10.6v10.6h-10.6zM866.1,108.9h10.6v10.6h-10.6zM870.9,109.2h10.6v10.6h-10.6zM875.6,116.1h10.6v10.6h-10.6zM880.4,124.8h10.6v10.6h-10.6zM885.2,135.1h10.6v10.6h-10.6zM889.9,146.9h10.6v10.6h-10.6zM894.7,160.1h10.6v10.6h-10.6zM899.4,174.7h10.6v10.6h-10.6zM904.2,190.3h10.6v10.6h-10.6zM909.0,206.9h10.6v10.6h-10.6zM913.7,224.3h10.6v10.6h-10.6zM918.5,242.3h10.6v10.6h-10.6zM923.2,260.7h10.6v10.6h-10.6zM928.0,279.3h10.6v10.6h-10.6zM932.7,297.8h10.6v10.6h-10.6zM937.5,316.2h10.6v10.6h-10.6zM942.3,334.1h10.6v10.6h-10.6zM947.0,351.5h10.6v10.6h-10.6zM951.8,368.0h10.6v10.6h-10.6zM956.5,383.6h10.6v10.6h-10.6zM961.3,398.0h10.6v10.6h-10.6zM966.1,411.1h10.6v10.6h-10.6zM970.8,422.8h10.6v10.6h-10.6zM975.6,432.9h10.6v10.6h-10.6zM980.3,441.3h10.6v10.6h-10.6zM985.1,448.0h10.6v10.6h-10.6zM989.9,452.8h10.6v10.6h-10.6zM994.6,455.7h10.6v10.6h-10.6zM999.4,456.6h10.6v10.6h-10.6zM1004.1,455.7h10.6v10.6h-10.6zM1008.9,452.8h10.6v10.6h-10.6zM1013.7,448.0h10.6v10.6h-10.6zM1018.4,441.3h10.6v10.6h-10.6zM1023.2,432.9h10.6v10.6h-10.6zM1027.9,422.8h10.6v10.6h-10.6zM1032.7,411.1h10.6v10.6h-10.6zM1037.4,398.0h10.6v10.6h-10.6zM1042.2,383.6h10.6v10.6h-10.6zM1047.0,368.0h10.6v10.6h-10.6zM1051.7,351.5h10.6v10.6h-10.6zM1056.5,334.1h10.6v10.6h-10.6zM1061.2,316.2h10.6v10.6h-10.6zM1066.0,297.8h10.6v10.6h-10.6zM1070.8,279.3h10.6v10.6h-10.6zM1075.5,260.7h10.6v10.6h-10.6zM1080.3,242.3h10.6v10.6h-10.6zM1085.0,224.3h10.6v10.6h-10.6zM1089.8,206.9h10.6v10.6h-10.6zM1094.6,190.3h10.6v10.6h-10.6zM1099.3,174.7h10.6v10.6h-10.6zM1104.1,160.1h10.6v10.6h-10.6zM1108.8,146.9h10.6v10.6h-10.6zM1113.6,135.1h10.6v10.6h-10.6zM1118.4,124.8h10.6v10.6h-10.6zM1123.1,116.1h10.6v10.6h-10.6zM1127.9,109.2h10.6v10.6h-10.6zM1132.6,108.9h10.6v10.6h-10.6zM1137.4,108.9h10.6v10.6h-10.6zM1142.2,108.9h10.6v10.6h-10.6zM1146.9,107.0h10.6v10.6h-10.6zM1151.7,107.0h10.6v10.6h-10.6zM1156.4,107.0h10.6v10.6h-10.6zM1161.2,108.9h10.6v10.6h-10.6zM1165.9,117.1h10.6v10.6h-10.6zM1170.7,125.4h10.6v10.6h-10.6zM1175.5,136.4h10.6v10.6h-10.6zM1180.2,147.4h10.6v10.6h-10.6zM1185.0,161.2h10.6v10.6h-10.6zM1189.7,174.9h10.6v10.6h-10.6zM1194.5,191.4h10.6v10.6h-10.6zM1199.3,208.0h10.6v10.6h-10.6zM1204.0,227.2h10.6v10.6h-10.6zM1208.8,246.5h10.6v10.6h-10.6zM1213.5,267.1h10.6v10.6h-10.6zM1218.3,287.8h10.6v10.6h-10.6zM1223.1,304.8h10.6v10.6h-10.6zM1227.8,321.7h10.6v10.6h-10.6zM1232.6,340.1h10.6v10.6h-10.6zM1237.3,358.4h10.6v10.6h-10.6zM1242.1,359.8h10.6v10.6h-10.6zM1246.9,377.7h10.6v10.6h-10.6zM1251.6,399.3h10.6v10.6h-10.6zM1256.4,411.7h10.6v10.6h-10.6zM1261.1,420.8h10.6v10.6h-10.6zM1265.9,430.0h10.6v10.6h-10.6zM1270.6,438.3h10.6v10.6h-10.6zM1275.4,446.5h10.6v10.6h-10.6zM1280.2,450.2h10.6v10.6h-10.6zM1284.9,453.9h10.6v10.6h-10.6zM1289.7,450.2h10.6v10.6h-10.6zM1294.4,446.5h10.6v10.6h-10.6zM1299.2,438.3h10.6v10.6h-10.6zM1304.0,430.0h10.6v10.6h-10.6zM1308.7,420.8h10.6v10.6h-10.6zM1313.5,411.7h10.6v10.6h-10.6zM1318.2,399.3h10.6v10.6h-10.6zM1323.0,377.7h10.6v10.6h-10.6zM1327.8,359.8h10.6v10.6h-10.6zM1332.5,358.4h10.6v10.6h-10.6zM1337.3,340.1h10.6v10.6h-10.6zM1342.0,321.7h10.6v10.6h-10.6zM1346.8,304.8h10.6v10.6h-10.6zM1351.6,287.8h10.6v10.6h-10.6zM1356.3,267.1h10.6v10.6h-10.6zM1361.1,246.5h10.6v10.6h-10.6zM1365.8,227.2h10.6v10.6h-10.6zM1370.6,208.0h10.6v10.6h-10.6zM1375.3,191.4h10.6v10.6h-10.6zM1380.1,174.9h10.6v10.6h-10.6zM1384.9,161.2h10.6v10.6h-10.6zM1389.6,147.4h10.6v10.6h-10.6zM1394.4,136.4h10.6v10.6h-10.6zM1399.1,125.4h10.6v10.6h-10.6zM1403.9,117.1h10.6v10.6h-10.6zM1408.7,108.9h10.6v10.6h-10.6zM1413.4,107.0h10.6v10.6h-10.6zM1418.2,107.0h10.6v10.6h-10.6zM1422.9,107.0h10.6v10.6h-10.6zM1427.7,107.0h10.6v10.6h-10.6z" fill="#808080"/>
<path d="M856.6,106.1h10.6v10.6h-10.6zM861.4,107.0h10.6v10.6h-10.6zM866.1,109.9h10.6v10.6h-10.6zM870.9,114.5h10.6v10.6h-10.6zM875.6,120.9h10.6v10.6h-10.6zM880.4,129.1h10.6v10.6h-10.6zM885.2,138.9h10.6v10.6h-10.6zM889.9,150.2h10.6v10.6h-10.6zM894.7,162.9h10.6v10.6h-10.6zM899.4,176.8h10.6v10.6h-10.6zM904.2,191.9h10.6v10.6h-10.6zM909.0,207.9h10.6v10.6h-10.6zM913.7,224.7h10.6v10.6h-10.6zM918.5,242.0h10.6v10.6h-10.6zM923.2,259.8h10.6v10.6h-10.6zM928.0,277.7h10.6v10.6h-10.6zM932.7,295.6h10.6v10.6h-10.6zM937.5,313.4h10.6v10.6h-10.6zM942.3,330.7h10.6v10.6h-10.6zM947.0,347.5h10.6v10.6h-10.6zM951.8,363.5h10.6v10.6h-10.6zM956.5,378.6h10.6v10.6h-10.6zM961.3,392.5h10.6v10.6h-10.6zM966.1,405.2h10.6v10.6h-10.6zM970.8,416.5h10.6v10.6h-10.6zM975.6,426.3h10.6v10.6h-10.6zM980.3,434.5h10.6v10.6h-10.6zM985.1,440.9h10.6v10.6h-10.6zM989.9,445.5h10.6v10.6h-10.6zM994.6,448.3h10.6v10.6h-10.6zM999.4,449.3h10.6v10.6h-10.6zM1004.1,448.3h10.6v10.6h-10.6zM1008.9,445.5h10.6v10.6h-10.6zM1013.7,440.9h10.6v10.6h-10.6zM1018.4,434.5h10.6v10.6h-10.6zM1023.2,426.3h10.6v10.6h-10.6zM1027.9,416.5h10.6v10.6h-10.6zM1032.7,405.2h10.6v10.6h-10.6zM1037.4,392.5h10.6v10.6h-10.6zM1042.2,378.6h10.6v10.6h-10.6zM1047.0,363.5h10.6v10.6h-10.6zM1051.7,347.5h10.6v10.6h-10.6zM1056.5,330.7h10.6v10.6h-10.6zM1061.2,313.4h10.6v10.6h-10.6zM1066.0,295.6h10.6v10.6h-10.6zM1070.8,277.7h10.6v10.6h-10.6zM1075.5,259.8h10.6v10.6h-10.6zM1080.3,242.0h10.6v10.6h-10.6zM1085.0,224.7h10.6v10.6h-10.6zM1089.8,207.9h10.6v10.6h-10.6zM1094.6,191.9h10.6v10.6h-10.6zM1099.3,176.8h10.6v10.6h-10.6zM1104.1,162.9h10.6v10.6h-10.6zM1108.8,150.2h10.6v10.6h-10.6zM1113.6,138.9h10.6v10.6h-10.6zM1118.4,129.1h10.6v10.6h-10.6zM1123.1,120.9h10.6v10.6h-10.6zM1127.9,114.5h10.6v10.6h-10.6zM1132.6,109.9h10.6v10.6h-10.6zM1137.4,107.0h10.6v10.6h-10.6zM1142.2,106.1h10.6v10.6h-10.6zM1146.9,102.5h10.6v10.6h-10.6zM1151.7,104.3h10.6v10.6h-10.6zM1156.4,106.2h10.6v10.6h-10.6zM1161.2,108.2h10.6v10.6h-10.6zM1165.9,115.2h10.6v10.6h-10.6zM1170.7,122.2h10.6v10.6h-10.6zM1175.5,133.9h10.6v10.6h-10.6zM1180.2,145.6h10.6v10.6h-10.6zM1185.0,159.5h10.6v10.6h-10.6zM1189.7,173.6h10.6v10.6h-10.6zM1194.5,189.9h10.6v10.6h-10.6zM1199.3,206.2h10.6v10.6h-10.6zM1204.0,224.8h10.6v10.6h-10.6zM1208.8,243.5h10.6v10.6h-10.6zM1213.5,264.4h10.6v10.6h-10.6zM1218.3,285.3h10.6v10.6h-10.6zM1223.1,301.7h10.6v10.6h-10.6zM1227.8,318.0h10.6v10.6h-10.6zM1232.6,333.4h10.6v10.6h-10.6zM1237.3,348.8h10.6v10.6h-10.6zM1242.1,360.1h10.6v10.6h-10.6zM1246.9,371.3h10.6v10.6h-10.6zM1251.6,378.8h10.6v10.6h-10.6zM1256.4,386.4h10.6v10.6h-10.6zM1261.1,391.1h10.6v10.6h-10.6zM1265.9,395.8h10.6v10.6h-10.6zM1270.6,398.2h10.6v10.6h-10.6zM1275.4,400.6h10.6v10.6h-10.6zM1280.2,401.1h10.6v10.6h-10.6zM1284.9,401.6h10.6v10.6h-10.6zM1289.7,401.1h10.6v10.6h-10.6zM1294.4,400.6h10.6v10.6h-10.6zM1299.2,398.2h10.6v10.6h-10.6zM1304.0,395.8h10.6v10.6h-10.6zM1308.7,391.1h10.6v10.6h-10.6zM1313.5,386.4h10.6v10.6h-10.6zM1318.2,378.8h10.6v10.6h-10.6zM1323.0,371.3h10.6v10.6h-10.6zM1327.8,360.1h10.6v10.6h-10.6zM1332.5,348.8h10.6v10.6h-10.6zM1337.3,333.4h10.6v10.6h-10.6zM1342.0,318.0h10.6v10.6h-10.6zM1346.8,301.7h10.6v10.6h-10.6zM1351.6,285.3h10.6v10.6h-10.6zM1356.3,264.4h10.6v10.6h-10.6zM1361.1,243.5h10.6v10.6h-10.6zM1365.8,224.8h10.6v10.6h-10.6zM1370.6,206.2h10.6v10.6h-10.6zM1375.3,189.9h10.6v10.6h-10.6zM1380.1,173.6h10.6v10.6h-10.6zM1384.9,159.5h10.6v10.6h-10.6zM1389.6,145.6h10.6v10.6h-10.6zM1394.4,133.9h10.6v10.6h-10.6zM1399.1,122.2h10.6v10.6h-10.6zM1403.9,115.2h10.6v10.6h-10.6zM1408.7,108.2h10.6v10.6h-10.6zM1413.4,106.2h10.6v10.6h-10.6zM1418.2,104.3h10.6v10.6h-10.6zM1422.9,102.5h10.6v10.6h-10.6zM1427.7,100.6h10.6v10.6h-10.6z" fill="#00a2ff"/>
<path d="M856.6,108.9h10.6v10.6h-10.6zM861.4,109.8h10.6v10.6h-10.6zM866.1,112.6h10.6v10.6h-10.6zM870.9,117.2h10.6v10.6h-10.6zM875.6,123.7h10.6v10.6h-10.6zM880.4,131.8h10.6v10.6h-10.6zM885.2,141.5h10.6v10.6h-10.6zM889.9,152.8h10.6v10.6h-10.6zM894.7,165.5h10.6v10.6h-10.6zM899.4,179.4h10.6v10.6h-10.6zM904.2,194.4h10.6v10.6h-10.6zM909.0,210.4h10.6v10.6h-10.6zM913.7,227.1h10.6v10.6h-10.6zM918.5,244.4h10.6v10.6h-10.6zM923.2,262.1h10.6v10.6h-10.6zM928.0,280.0h10.6v10.6h-10.6zM932.7,297.9h10.6v10.6h-10.6zM937.5,315.6h10.6v10.6h-10.6zM942.3,332.9h10.6v10.6h-10.6zM947.0,349.6h10.6v10.6h-10.6zM951.8,365.6h10.6v10.6h-10.6zM956.5,380.6h10.6v10.6h-10.6zM961.3,394.5h10.6v10.6h-10.6zM966.1,407.2h10.6v10.6h-10.6zM970.8,418.4h10.6v10.6h-10.6zM975.6,428.2h10.6v10.6h-10.6zM980.3,436.3h10.6v10.6h-10.6zM985.1,442.7h10.6v10.6h-10.6zM989.9,447.4h10.6v10.6h-10.6zM994.6,450.2h10.6v10.6h-10.6zM999.4,451.1h10.6v10.6h-10.6zM1004.1,450.2h10.6v10.6h-10.6zM1008.9,447.4h10.6v10.6h-10.6zM1013.7,442.7h10.6v10.6h-10.6zM1018.4,436.3h10.6v10.6h-10.6zM1023.2,428.2h10.6v10.6h-10.6zM1027.9,418.4h10.6v10.6h-10.6zM1032.7,407.2h10.6v10.6h-10.6zM1037.4,394.5h10.6v10.6h-10.6zM1042.2,380.6h10.6v10.6h-10.6zM1047.0,365.6h10.6v10.6h-10.6zM1051.7,349.6h10.6v10.6h-10.6zM1056.5,332.9h10.6v10.6h-10.6zM1061.2,315.6h10.6v10.6h-10.6zM1066.0,297.9h10.6v10.6h-10.6zM1070.8,280.0h10.6v10.6h-10.6zM1075.5,262.1h10.6v10.6h-10.6zM1080.3,244.4h10.6v10.6h-10.6zM1085.0,227.1h10.6v10.6h-10.6zM1089.8,210.4h10.6v10.6h-10.6zM1094.6,194.4h10.6v10.6h-10.6zM1099.3,179.4h10.6v10.6h-10.6zM1104.1,165.5h10.6v10.6h-10.6zM1108.8,152.8h10.6v10.6h-10.6zM1113.6,141.5h10.6v10.6h-10.6zM1118.4,131.8h10.6v10.6h-10.6zM1123.1,123.7h10.6v10.6h-10.6zM1127.9,117.2h10.6v10.6h-10.6zM1132.6,112.6h10.6v10.6h-10.6zM1137.4,109.8h10.6v10.6h-10.6zM1142.2,108.9h10.6v10.6h-10.6zM1146.9,105.2h10.6v10.6h-10.6zM1151.7,107.1h10.6v10.6h-10.6zM1156.4,109.0h10.6v10.6h-10.6zM1161.2,110.9h10.6v10.6h-10.6zM1165.9,117.5h10.6v10.6h-10.6zM1170.7,124.1h10.6v10.6h-10.6zM1175.5,134.8h10.6v10.6h-10.6zM1180.2,145.6h10.6v10.6h-10.6zM1185.0,160.9h10.6v10.6h-10.6zM1189.7,176.3h10.6v10.6h-10.6zM1194.5,192.2h10.6v10.6h-10.6zM1199.3,208.0h10.6v10.6h-10.6zM1204.0,223.4h10.6v10.6h-10.6zM1208.8,238.9h10.6v10.6h-10.6zM1213.5,254.3h10.6v10.6h-10.6zM1218.3,269.7h10.6v10.6h-10.6zM1223.1,282.4h10.6v10.6h-10.6zM1227.8,295.1h10.6v10.6h-10.6zM1232.6,304.5h10.6v10.6h-10.6zM1237.3,313.9h10.6v10.6h-10.6zM1242.1,319.2h10.6v10.6h-10.6zM1246.9,324.5h10.6v10.6h-10.6zM1251.6,327.9h10.6v10.6h-10.6zM1256.4,331.3h10.6v10.6h-10.6zM1261.1,331.8h10.6v10.6h-10.6zM1265.9,332.3h10.6v10.6h-10.6zM1270.6,332.2h10.6v10.6h-10.6zM1275.4,330.9h10.6v10.6h-10.6zM1280.2,329.5h10.6v10.6h-10.6zM1284.9,328.2h10.6v10.6h-10.6zM1289.7,329.5h10.6v10.6h-10.6zM1294.4,330.9h10.6v10.6h-10.6zM1299.2,332.2h10.6v10.6h-10.6zM1304.0,332.3h10.6v10.6h-10.6zM1308.7,331.8h10.6v10.6h-10.6zM1313.5,331.3h10.6v10.6h-10.6zM1318.2,327.9h10.6v10.6h-10.6zM1323.0,324.5h10.6v10.6h-10.6zM1327.8,319.2h10.6v10.6h-10.6zM1332.5,313.9h10.6v10.6h-10.6zM1337.3,304.5h10.6v10.6h-10.6zM1342.0,295.1h10.6v10.6h-10.6zM1346.8,282.4h10.6v10.6h-10.6zM1351.6,269.7h10.6v10.6h-10.6zM1356.3,254.3h10.6v10.6h-10.6zM1361.1,238.9h10.6v10.6h-10.6zM1365.8,223.4h10.6v10.6h-10.6zM1370.6,208.0h10.6v10.6h-10.6zM1375.3,192.2h10.6v10.6h-10.6zM1380.1,176.3h10.6v10.6h-10.6zM1384.9,160.9h10.6v10.6h-10.6zM1389.6,145.6h10.6v10.6h-10.6zM1394.4,134.8h10.6v10.6h-10.6zM1399.1,124.1h10.6v10.6h-10.6zM1403.9,117.5h10.6v10.6h-10.6zM1408.7,110.9h10.6v10.6h-10.6zM1413.4,109.0h10.6v10.6h-10.6zM1418.2,107.1h10.6v10.6h-10.6zM1422.9,105.2h10.6v10.6h-10.6zM1427.7,103.4h10.6v10.6h-10.6z" fill="#00f000"/>
<path d="M856.6,108.9h10.6v10.6h-10.6zM861.4,109.8h10.6v10.6h-10.6zM866.1,112.5h10.6v10.6h-10.6zM870.9,117.1h10.6v10.6h-10.6zM875.6,123.5h10.6v10.6h-10.6zM880.4,131.5h10.6v10.6h-10.6zM885.2,141.1h10.6v10.6h-10.6zM889.9,152.2h10.6v10.6h-10.6zM894.7,164.7h10.6v10.6h-10.6zM899.4,178.5h10.6v10.6h-10.6zM904.2,193.3h10.6v10.6h-10.6zM909.0,209.0h10.6v10.6h-10.6zM913.7,225.5h10.6v10.6h-10.6zM918.5,242.6h10.6v10.6h-10.6zM923.2,260.0h10.6v10.6h-10.6zM928.0,277.7h10.6v10.6h-10.6zM932.7,295.3h10.6v10.6h-10.6zM937.5,312.8h10.6v10.6h-10.6zM942.3,329.9h10.6v10.6h-10.6zM947.0,346.4h10.6v10.6h-10.6zM951.8,362.1h10.6v10.6h-10.6zM956.5,376.9h10.6v10.6h-10.6zM961.3,390.7h10.6v10.6h-10.6zM966.1,403.2h10.6v10.6h-10.6zM970.8,414.3h10.6v10.6h-10.6zM975.6,423.9h10.6v10.6h-10.6zM980.3,431.9h10.6v10.6h-10.6zM985.1,438.3h10.6v10.6h-10.6zM989.9,442.8h10.6v10.6h-10.6zM994.6,445.6h10.6v10.6h-10.6zM999.4,446.5h10.6v10.6h-10.6zM1004.1,445.6h10.6v10.6h-10.6zM1008.9,442.8h10.6v10.6h-10.6zM1013.7,438.3h10.6v10.6h-10.6zM1018.4,431.9h10.6v10.6h-10.6zM1023.2,423.9h10.6v10.6h-10.6zM1027.9,414.3h10.6v10.6h-10.6zM1032.7,403.2h10.6v10.6h-10.6zM1037.4,390.7h10.6v10.6h-10.6zM1042.2,376.9h10.6v10.6h-10.6zM1047.0,362.1h10.6v10.6h-10.6zM1051.7,346.4h10.6v10.6h-10.6zM1056.5,329.9h10.6v10.6h-10.6zM1061.2,312.8h10.6v10.6h-10.6zM1066.0,295.3h10.6v10.6h-10.6zM1070.8,277.7h10.6v10.6h-10.6zM1075.5,260.0h10.6v10.6h-10.6zM1080.3,242.6h10.6v10.6h-10.6zM1085.0,225.5h10.6v10.6h-10.6zM1089.8,209.0h10.6v10.6h-10.6zM1094.6,193.3h10.6v10.6h-10.6zM1099.3,178.5h10.6v10.6h-10.6zM1104.1,164.7h10.6v10.6h-10.6zM1108.8,152.2h10.6v10.6h-10.6zM1113.6,141.1h10.6v10.6h-10.6zM1118.4,131.5h10.6v10.6h-10.6zM1123.1,123.5h10.6v10.6h-10.6zM1127.9,117.1h10.6v10.6h-10.6zM1132.6,112.5h10.6v10.6h-10.6zM1137.4,109.8h10.6v10.6h-10.6zM1142.2,108.9h10.6v10.6h-10.6zM1146.9,110.7h10.6v10.6h-10.6zM1151.7,112.5h10.6v10.6h-10.6zM1156.4,114.4h10.6v10.6h-10.6zM1161.2,116.2h10.6v10.6h-10.6zM1165.9,122.6h10.6v10.6h-10.6zM1170.7,129.0h10.6v10.6h-10.6zM1175.5,139.6h10.6v10.6h-10.6zM1180.2,150.2h10.6v10.6h-10.6zM1185.0,165.3h10.6v10.6h-10.6zM1189.7,180.4h10.6v10.6h-10.6zM1194.5,197.4h10.6v10.6h-10.6zM1199.3,214.4h10.6v10.6h-10.6zM1204.0,233.0h10.6v10.6h-10.6zM1208.8,246.5h10.6v10.6h-10.6zM1213.5,255.4h10.6v10.6h-10.6zM1218.3,260.0h10.6v10.6h-10.6zM1223.1,264.1h10.6v10.6h-10.6zM1227.8,267.3h10.6v10.6h-10.6zM1232.6,270.8h10.6v10.6h-10.6zM1237.3,274.7h10.6v10.6h-10.6zM1242.1,278.6h10.6v10.6h-10.6zM1246.9,283.7h10.6v10.6h-10.6zM1251.6,288.8h10.6v10.6h-10.6zM1256.4,293.9h10.6v10.6h-10.6zM1261.1,299.0h10.6v10.6h-10.6zM1265.9,304.0h10.6v10.6h-10.6zM1270.6,309.0h10.6v10.6h-10.6zM1275.4,312.8h10.6v10.6h-10.6zM1280.2,315.9h10.6v10.6h-10.6zM1284.9,319.0h10.6v10.6h-10.6zM1289.7,315.9h10.6v10.6h-10.6zM1294.4,312.8h10.6v10.6h-10.6zM1299.2,309.0h10.6v10.6h-10.6zM1304.0,304.0h10.6v10.6h-10.6zM1308.7,299.0h10.6v10.6h-10.6zM1313.5,293.9h10.6v10.6h-10.6zM1318.2,288.8h10.6v10.6h-10.6zM1323.0,283.7h10.6v10.6h-10.6zM1327.8,278.6h10.6v10.6h-10.6zM1332.5,274.7h10.6v10.6h-10.6zM1337.3,270.8h10.6v10.6h-10.6zM1342.0,267.3h10.6v10.6h-10.6zM1346.8,264.1h10.6v10.6h-10.6zM1351.6,260.0h10.6v10.6h-10.6zM1356.3,255.4h10.6v10.6h-10.6zM1361.1,246.5h10.6v10.6h-10.6zM1365.8,233.0h10.6v10.6h-10.6zM1370.6,214.4h10.6v10.6h-10.6zM1375.3,197.4h10.6v10.6h-10.6zM1380.1,180.4h10.6v10.6h-10.6zM1384.9,165.3h10.6v10.6h-10.6zM1389.6,150.2h10.6v10.6h-10.6zM1394.4,139.6h10.6v10.6h-10.6zM1399.1,129.0h10.6v10.6h-10.6zM1403.9,122.6h10.6v10.6h-10.6zM1408.7,116.2h10.6v10.6h-10.6zM1413.4,114.4h10.6v10.6h-10.6zM1418.2,112.5h10.6v10.6h-10.6zM1422.9,110.7h10.6v10.6h-10.6zM1427.7,108.9h10.6v10.6h-10.6z" fill="#e3ab33"/>
<path d="M856.6,108.9h10.6v10.6h-10.6zM861.4,109.8h10.6v10.6h-10.6zM866.1,112.5h10.6v10.6h-10.6zM870.9,117.0h10.6v10.6h-10.6zM875.6,123.3h10.6v10.6h-10.6zM880.4,131.2h10.6v10.6h-10.6zM885.2,140.8h10.6v10.6h-10.6zM889.9,151.8h10.6v10.6h-10.6zM894.7,164.1h10.6v10.6h-10.6zM899.4,177.7h10.6v10.6h-10.6zM904.2,192.4h10.6v10.6h-10.6zM909.0,207.9h10.6v10.6h-10.6zM913.7,224.3h10.6v10.6h-10.6zM918.5,241.1h10.6v10.6h-10.6zM923.2,258.4h10.6v10.6h-10.6zM928.0,275.9h10.6v10.6h-10.6zM932.7,293.3h10.6v10.6h-10.6zM937.5,310.6h10.6v10.6h-10.6zM942.3,327.5h10.6v10.6h-10.6zM947.0,343.8h10.6v10.6h-10.6zM951.8,359.4h10.6v10.6h-10.6zM956.5,374.0h10.6v10.6h-10.6zM961.3,387.6h10.6v10.6h-10.6zM966.1,400.0h10.6v10.6h-10.6zM970.8,411.0h10.6v10.6h-10.6zM975.6,420.5h10.6v10.6h-10.6zM980.3,428.4h10.6v10.6h-10.6zM985.1,434.7h10.6v10.6h-10.6zM989.9,439.2h10.6v10.6h-10.6zM994.6,442.0h10.6v10.6h-10.6zM999.4,442.9h10.6v10.6h-10.6zM1004.1,442.0h10.6v10.6h-10.6zM1008.9,439.2h10.6v10.6h-10.6zM1013.7,434.7h10.6v10.6h-10.6zM1018.4,428.4h10.6v10.6h-10.6zM1023.2,420.5h10.6v10.6h-10.6zM1027.9,411.0h10.6v10.6h-10.6zM1032.7,400.0h10.6v10.6h-10.6zM1037.4,387.6h10.6v10.6h-10.6zM1042.2,374.0h10.6v10.6h-10.6zM1047.0,359.4h10.6v10.6h-10.6zM1051.7,343.8h10.6v10.6h-10.6zM1056.5,327.5h10.6v10.6h-10.6zM1061.2,310.6h10.6v10.6h-10.6zM1066.0,293.3h10.6v10.6h-10.6zM1070.8,275.9h10.6v10.6h-10.6zM1075.5,258.4h10.6v10.6h-10.6zM1080.3,241.1h10.6v10.6h-10.6zM1085.0,224.3h10.6v10.6h-10.6zM1089.8,207.9h10.6v10.6h-10.6zM1094.6,192.4h10.6v10.6h-10.6zM1099.3,177.7h10.6v10.6h-10.6zM1104.1,164.1h10.6v10.6h-10.6zM1108.8,151.8h10.6v10.6h-10.6zM1113.6,140.8h10.6v10.6h-10.6zM1118.4,131.2h10.6v10.6h-10.6zM1123.1,123.3h10.6v10.6h-10.6zM1127.9,117.0h10.6v10.6h-10.6zM1132.6,112.5h10.6v10.6h-10.6zM1137.4,109.8h10.6v10.6h-10.6zM1142.2,108.9h10.6v10.6h-10.6zM1146.9,110.5h10.6v10.6h-10.6zM1151.7,112.1h10.6v10.6h-10.6zM1156.4,113.7h10.6v10.6h-10.6zM1161.2,115.3h10.6v10.6h-10.6zM1165.9,121.2h10.6v10.6h-10.6zM1170.7,127.2h10.6v10.6h-10.6zM1175.5,137.8h10.6v10.6h-10.6zM1180.2,148.3h10.6v10.6h-10.6zM1185.0,163.0h10.6v10.6h-10.6zM1189.7,177.7h10.6v10.6h-10.6zM1194.5,198.3h10.6v10.6h-10.6zM1199.3,213.0h10.6v10.6h-10.6zM1204.0,222.5h10.6v10.6h-10.6zM1208.8,227.5h10.6v10.6h-10.6zM1213.5,233.8h10.6v10.6h-10.6zM1218.3,242.5h10.6v10.6h-10.6zM1223.1,251.4h10.6v10.6h-10.6zM1227.8,260.6h10.6v10.6h-10.6zM1232.6,269.9h10.6v10.6h-10.6zM1237.3,279.5h10.6v10.6h-10.6zM1242.1,288.9h10.6v10.6h-10.6zM1246.9,297.6h10.6v10.6h-10.6zM1251.6,305.8h10.6v10.6h-10.6zM1256.4,313.2h10.6v10.6h-10.6zM1261.1,319.9h10.6v10.6h-10.6zM1265.9,325.4h10.6v10.6h-10.6zM1270.6,330.3h10.6v10.6h-10.6zM1275.4,334.0h10.6v10.6h-10.6zM1280.2,336.9h10.6v10.6h-10.6zM1284.9,338.3h10.6v10.6h-10.6zM1289.7,336.9h10.6v10.6h-10.6zM1294.4,334.0h10.6v10.6h-10.6zM1299.2,330.3h10.6v10.6h-10.6zM1304.0,325.4h10.6v10.6h-10.6zM1308.7,319.9h10.6v10.6h-10.6zM1313.5,313.2h10.6v10.6h-10.6zM1318.2,305.8h10.6v10.6h-10.6zM1323.0,297.6h10.6v10.6h-10.6zM1327.8,288.9h10.6v10.6h-10.6zM1332.5,279.5h10.6v10.6h-10.6zM1337.3,269.9h10.6v10.6h-10.6zM1342.0,260.6h10.6v10.6h-10.6zM1346.8,251.4h10.6v10.6h-10.6zM1351.6,242.5h10.6v10.6h-10.6zM1356.3,233.8h10.6v10.6h-10.6zM1361.1,227.5h10.6v10.6h-10.6zM1365.8,222.5h10.6v10.6h-10.6zM1370.6,213.0h10.6v10.6h-10.6zM1375.3,198.3h10.6v10.6h-10.6zM1380.1,177.7h10.6v10.6h-10.6zM1384.9,163.0h10.6v10.6h-10.6zM1389.6,148.3h10.6v10.6h-10.6zM1394.4,137.8h10.6v10.6h-10.6zM1399.1,127.2h10.6v10.6h-10.6zM1403.9,121.2h10.6v10.6h-10.6zM1408.7,115.3h10.6v10.6h-10.6zM1413.4,113.7h10.6v10.6h-10.6zM1418.2,112.1h10.6v10.6h-10.6zM1422.9,110.5h10.6v10.6h-10.6zM1427.7,108.9h10.6v10.6h-10.6z" fill="#ff00ff"/>
<path d="M856.6,108.9h10.6v10.6h-10.6zM861.4,109.8h10.6v10.6h-10.6zM866.1,112.5h10.6v10.6h-10.6zM870.9,116.9h10.6v10.6h-10.6zM875.6,123.1h10.6v10.6h-10.6zM880.4,131.0h10.6v10.6h-10.6zM885.2,140.4h10.6v10.6h-10.6zM889.9,151.3h10.6v10.6h-10.6zM894.7,163.5h10.6v10.6h-10.6zM899.4,176.9h10.6v10.6h-10.6zM904.2,191.4h10.6v10.6h-10.6zM909.0,206.8h10.6v10.6h-10.6zM913.7,223.0h10.6v10.6h-10.6zM918.5,239.7h10.6v10.6h-10.6zM923.2,256.8h10.6v10.6h-10.6zM928.0,274.0h10.6v10.6h-10.6zM932.7,291.3h10.6v10.6h-10.6zM937.5,308.4h10.6v10.6h-10.6zM942.3,325.1h10.6v10.6h-10.6zM947.0,341.2h10.6v10.6h-10.6zM951.8,356.6h10.6v10.6h-10.6zM956.5,371.1h10.6v10.6h-10.6zM961.3,384.5h10.6v10.6h-10.6zM966.1,396.8h10.6v10.6h-10.6zM970.8,407.7h10.6v10.6h-10.6zM975.6,417.1h10.6v10.6h-10.6zM980.3,424.9h10.6v10.6h-10.6zM985.1,431.1h10.6v10.6h-10.6zM989.9,435.6h10.6v10.6h-10.6zM994.6,438.3h10.6v10.6h-10.6zM999.4,439.2h10.6v10.6h-10.6zM1004.1,438.3h10.6v10.6h-10.6zM1008.9,435.6h10.6v10.6h-10.6zM1013.7,431.1h10.6v10.6h-10.6zM1018.4,424.9h10.6v10.6h-10.6zM1023.2,417.1h10.6v10.6h-10.6zM1027.9,407.7h10.6v10.6h-10.6zM1032.7,396.8h10.6v10.6h-10.6zM1037.4,384.5h10.6v10.6h-10.6zM1042.2,371.1h10.6v10.6h-10.6zM1047.0,356.6h10.6v10.6h-10.6zM1051.7,341.2h10.6v10.6h-10.6zM1056.5,325.1h10.6v10.6h-10.6zM1061.2,308.4h10.6v10.6h-10.6zM1066.0,291.3h10.6v10.6h-10.6zM1070.8,274.0h10.6v10.6h-10.6zM1075.5,256.8h10.6v10.6h-10.6zM1080.3,239.7h10.6v10.6h-10.6zM1085.0,223.0h10.6v10.6h-10.6zM1089.8,206.8h10.6v10.6h-10.6zM1094.6,191.4h10.6v10.6h-10.6zM1099.3,176.9h10.6v10.6h-10.6zM1104.1,163.5h10.6v10.6h-10.6zM1108.8,151.3h10.6v10.6h-10.6zM1113.6,140.4h10.6v10.6h-10.6zM1118.4,131.0h10.6v10.6h-10.6zM1123.1,123.1h10.6v10.6h-10.6zM1127.9,116.9h10.6v10.6h-10.6zM1132.6,112.5h10.6v10.6h-10.6zM1137.4,109.8h10.6v10.6h-10.6zM1142.2,108.9h10.6v10.6h-10.6zM1146.9,110.8h10.6v10.6h-10.6zM1151.7,113.6h10.6v10.6h-10.6zM1156.4,116.4h10.6v10.6h-10.6zM1161.2,122.3h10.6v10.6h-10.6zM1165.9,129.4h10.6v10.6h-10.6zM1170.7,141.0h10.6v10.6h-10.6zM1175.5,155.2h10.6v10.6h-10.6zM1180.2,169.1h10.6v10.6h-10.6zM1185.0,180.2h10.6v10.6h-10.6zM1189.7,197.3h10.6v10.6h-10.6zM1194.5,205.0h10.6v10.6h-10.6zM1199.3,207.8h10.6v10.6h-10.6zM1204.0,211.5h10.6v10.6h-10.6zM1208.8,217.9h10.6v10.6h-10.6zM1213.5,225.2h10.6v10.6h-10.6zM1218.3,234.5h10.6v10.6h-10.6zM1223.1,245.5h10.6v10.6h-10.6zM1227.8,254.6h10.6v10.6h-10.6zM1232.6,264.5h10.6v10.6h-10.6zM1237.3,278.6h10.6v10.6h-10.6zM1242.1,290.8h10.6v10.6h-10.6zM1246.9,299.8h10.6v10.6h-10.6zM1251.6,309.5h10.6v10.6h-10.6zM1256.4,319.0h10.6v10.6h-10.6zM1261.1,328.4h10.6v10.6h-10.6zM1265.9,337.7h10.6v10.6h-10.6zM1270.6,345.3h10.6v10.6h-10.6zM1275.4,349.3h10.6v10.6h-10.6zM1280.2,350.6h10.6v10.6h-10.6zM1284.9,351.1h10.6v10.6h-10.6zM1289.7,350.6h10.6v10.6h-10.6zM1294.4,349.3h10.6v10.6h-10.6zM1299.2,345.3h10.6v10.6h-10.6zM1304.0,337.7h10.6v10.6h-10.6zM1308.7,328.4h10.6v10.6h-10.6zM1313.5,319.0h10.6v10.6h-10.6zM1318.2,309.5h10.6v10.6h-10.6zM1323.0,299.8h10.6v10.6h-10.6zM1327.8,290.8h10.6v10.6h-10.6zM1332.5,278.6h10.6v10.6h-10.6zM1337.3,264.5h10.6v10.6h-10.6zM1342.0,254.6h10.6v10.6h-10.6zM1346.8,245.5h10.6v10.6h-10.6zM1351.6,234.5h10.6v10.6h-10.6zM1356.3,225.2h10.6v10.6h-10.6zM1361.1,217.9h10.6v10.6h-10.6zM1365.8,211.5h10.6v10.6h-10.6zM1370.6,207.8h10.6v10.6h-10.6zM1375.3,205.0h10.6v10.6h-10.6zM1380.1,197.3h10.6v10.6h-10.6zM1384.9,180.2h10.6v10.6h-10.6zM1389.6,169.1h10.6v10.6h-10.6zM1394.4,155.2h10.6v10.6h-10.6zM1399.1,141.0h10.6v10.6h-10.6zM1403.9,129.4h10.6v10.6h-10.6zM1408.7,122.3h10.6v10.6h-10.6zM1413.4,116.4h10.6v10.6h-10.6zM1418.2,113.6h10.6v10.6h-10.6zM1422.9,110.8h10.6v10.6h-10.6zM1427.7,107.9h10.6v10.6h-10.6z" fill="#ff0000"/>
<rect x="1104.5" y="311.5" width="11" height="11" fill="#808080"/>
<text x="1125.3" y="325.0" font-size="23.4" text-anchor="start" fill="#111" >0.1 mA</text>
<rect x="1104.5" y="338.4" width="11" height="11" fill="#00a2ff"/>
<text x="1125.3" y="351.9" font-size="23.4" text-anchor="start" fill="#111" >3 mA</text>
<rect x="1104.5" y="365.3" width="11" height="11" fill="#00f000"/>
<text x="1125.3" y="378.8" font-size="23.4" text-anchor="start" fill="#111" >4 mA</text>
<rect x="1104.5" y="392.2" width="11" height="11" fill="#e3ab33"/>
<text x="1125.3" y="405.7" font-size="23.4" text-anchor="start" fill="#111" >5 mA</text>
<rect x="1104.5" y="419.1" width="11" height="11" fill="#ff00ff"/>
<text x="1125.3" y="432.6" font-size="23.4" text-anchor="start" fill="#111" >6 mA</text>
<rect x="1104.5" y="446.0" width="11" height="11" fill="#ff0000"/>
<text x="1125.3" y="459.5" font-size="23.4" text-anchor="start" fill="#111" >7 mA</text>
<rect x="131.7" y="24.8" width="567.8" height="456.3" fill="none" stroke="#111" stroke-width="1.6"/>
<path d="M131.7,481.1v9M273.6,481.1v9M415.6,481.1v9M557.5,481.1v9M699.5,481.1v9M131.7,481.1h-9M131.7,389.8h-9M131.7,298.6h-9M131.7,207.3h-9M131.7,116.1h-9M131.7,24.8h-9" stroke="#111" stroke-width="1.6" fill="none"/>
<text x="131.7" y="520.2" font-size="23.6" text-anchor="middle" fill="#111" >0</text>
<text x="273.6" y="520.2" font-size="23.6" text-anchor="middle" fill="#111" >90</text>
<text x="415.6" y="520.2" font-size="23.6" text-anchor="middle" fill="#111" >180</text>
<text x="557.5" y="520.2" font-size="23.6" text-anchor="middle" fill="#111" >270</text>
<text x="699.5" y="520.2" font-size="23.6" text-anchor="middle" fill="#111" >360</text>
<text x="113.2" y="488.6" font-size="23.6" text-anchor="end" fill="#111" >0.996</text>
<text x="113.2" y="397.4" font-size="23.6" text-anchor="end" fill="#111" >0.997</text>
<text x="113.2" y="306.1" font-size="23.6" text-anchor="end" fill="#111" >0.998</text>
<text x="113.2" y="214.8" font-size="23.6" text-anchor="end" fill="#111" >0.999</text>
<text x="113.2" y="123.6" font-size="23.6" text-anchor="end" fill="#111" >1.000</text>
<text x="113.2" y="32.3" font-size="23.6" text-anchor="end" fill="#111" >1.001</text>
<rect x="861.9" y="22.4" width="571.1" height="458.8" fill="none" stroke="#111" stroke-width="1.6"/>
<path d="M861.9,481.2v9M1004.7,481.2v9M1147.5,481.2v9M1290.2,481.2v9M1433.0,481.2v9M861.9,481.2h-9M861.9,389.4h-9M861.9,297.7h-9M861.9,205.9h-9M861.9,114.2h-9M861.9,22.4h-9" stroke="#111" stroke-width="1.6" fill="none"/>
<text x="861.9" y="520.2" font-size="23.6" text-anchor="middle" fill="#111" >0</text>
<text x="1004.7" y="520.2" font-size="23.6" text-anchor="middle" fill="#111" >90</text>
<text x="1147.5" y="520.2" font-size="23.6" text-anchor="middle" fill="#111" >180</text>
<text x="1290.2" y="520.2" font-size="23.6" text-anchor="middle" fill="#111" >270</text>
<text x="1433.0" y="520.2" font-size="23.6" text-anchor="middle" fill="#111" >360</text>
<text x="842.7" y="488.7" font-size="23.6" text-anchor="end" fill="#111" >0.996</text>
<text x="842.7" y="397.0" font-size="23.6" text-anchor="end" fill="#111" >0.997</text>
<text x="842.7" y="305.2" font-size="23.6" text-anchor="end" fill="#111" >0.998</text>
<text x="842.7" y="213.4" font-size="23.6" text-anchor="end" fill="#111" >0.999</text>
<text x="842.7" y="121.7" font-size="23.6" text-anchor="end" fill="#111" >1.000</text>
<text x="842.7" y="29.9" font-size="23.6" text-anchor="end" fill="#111" >1.001</text>
<text x="419.0" y="559.0" font-size="28.5" text-anchor="middle" fill="#111"><tspan font-family="'DejaVu Serif', 'Liberation Serif', serif" font-style="italic" font-size="27">ϕ</tspan> (degrees)</text>
<text x="1151.7" y="559.0" font-size="28.5" text-anchor="middle" fill="#111"><tspan font-family="'DejaVu Serif', 'Liberation Serif', serif" font-style="italic" font-size="27">ϕ</tspan> (degrees)</text>
<text x="1862.0" y="559.0" font-size="28.5" text-anchor="middle" fill="#111"><tspan font-family="'DejaVu Serif', 'Liberation Serif', serif" font-style="italic" font-size="27">ϕ</tspan> (degrees)</text>
<text transform="translate(23.0,255.7) rotate(-90)" x="0" y="0" font-size="27" text-anchor="middle" fill="#111"><tspan font-style="italic">R</tspan>/<tspan font-style="italic">R</tspan><tspan font-size="19" dy="6">0</tspan><tspan dy="-6"> (–)</tspan></text>
<text transform="translate(753.0,251.0) rotate(-90)" x="0" y="0" font-size="27" text-anchor="middle" fill="#111"><tspan font-style="italic">R</tspan>/<tspan font-style="italic">R</tspan><tspan font-size="19" dy="6">0</tspan><tspan dy="-6"> (–)</tspan></text>
<path d="M1574.5,51.3 L1579.2,52.4 L1584.0,55.5 L1588.7,60.7 L1593.4,67.9 L1598.2,77.0 L1602.9,88.0 L1607.6,100.6 L1612.4,114.8 L1617.1,130.5 L1621.8,147.3 L1626.6,165.2 L1631.3,184.0 L1636.0,203.4 L1640.8,223.2 L1645.5,243.3 L1650.2,263.4 L1655.0,283.2 L1659.7,302.6 L1664.4,321.4 L1669.2,339.3 L1673.9,356.2 L1678.7,371.8 L1683.4,386.0 L1688.1,398.6 L1692.9,409.6 L1697.6,418.7 L1702.3,425.9 L1707.1,431.1 L1711.8,434.2 L1716.5,435.3 L1721.3,434.2 L1726.0,431.1 L1730.7,425.9 L1735.5,418.7 L1740.2,409.6 L1744.9,398.6 L1749.7,386.0 L1754.4,371.8 L1759.1,356.2 L1763.9,339.3 L1768.6,321.4 L1773.3,302.6 L1778.1,283.2 L1782.8,263.4 L1787.5,243.3 L1792.3,223.2 L1797.0,203.4 L1801.7,184.0 L1806.5,165.2 L1811.2,147.3 L1815.9,130.5 L1820.7,114.8 L1825.4,100.6 L1830.1,88.0 L1834.9,77.0 L1839.6,67.9 L1844.3,60.7 L1849.1,55.5 L1853.8,52.4 L1858.5,51.3 L1863.3,52.4 L1868.0,55.5 L1872.8,60.6 L1877.5,67.7 L1882.2,76.7 L1887.0,87.6 L1891.7,100.1 L1896.4,114.1 L1901.2,129.5 L1905.9,146.2 L1910.6,163.9 L1915.4,182.4 L1920.1,201.6 L1924.8,221.2 L1929.6,241.0 L1934.3,260.9 L1939.0,280.5 L1943.8,299.6 L1948.5,318.2 L1953.2,335.9 L1958.0,352.5 L1962.7,368.0 L1967.4,382.0 L1972.2,394.5 L1976.9,405.3 L1981.6,414.3 L1986.4,421.4 L1991.1,426.6 L1995.8,429.7 L2000.6,430.7 L2005.3,429.7 L2010.0,426.6 L2014.8,421.4 L2019.5,414.3 L2024.2,405.3 L2029.0,394.5 L2033.7,382.0 L2038.4,368.0 L2043.2,352.5 L2047.9,335.9 L2052.7,318.2 L2057.4,299.6 L2062.1,280.5 L2066.9,260.9 L2071.6,241.0 L2076.3,221.2 L2081.1,201.6 L2085.8,182.4 L2090.5,163.9 L2095.3,146.2 L2100.0,129.5 L2104.7,114.1 L2109.5,100.1 L2114.2,87.6 L2118.9,76.7 L2123.7,67.7 L2128.4,60.6 L2133.1,55.5 L2137.9,52.4 L2142.6,51.3" stroke="#808080" stroke-width="4.2" fill="none" stroke-linejoin="round" stroke-linecap="round" />
<path d="M1574.5,52.7 L1579.2,53.8 L1584.0,57.0 L1588.7,62.4 L1593.4,69.8 L1598.2,79.2 L1602.9,90.5 L1607.6,103.6 L1612.4,118.3 L1617.1,134.4 L1621.8,151.8 L1626.6,170.3 L1631.3,189.6 L1636.0,209.7 L1640.8,230.1 L1645.5,250.9 L1650.2,271.6 L1655.0,292.0 L1659.7,312.1 L1664.4,331.4 L1669.2,349.9 L1673.9,367.3 L1678.7,383.4 L1683.4,398.1 L1688.1,411.2 L1692.9,422.5 L1697.6,431.9 L1702.3,439.3 L1707.1,444.7 L1711.8,447.9 L1716.5,449.0 L1721.3,447.9 L1726.0,444.7 L1730.7,439.3 L1735.5,431.9 L1740.2,422.5 L1744.9,411.2 L1749.7,398.1 L1754.4,383.4 L1759.1,367.3 L1763.9,349.9 L1768.6,331.4 L1773.3,312.1 L1778.1,292.0 L1782.8,271.6 L1787.5,250.9 L1792.3,230.1 L1797.0,209.7 L1801.7,189.6 L1806.5,170.3 L1811.2,151.8 L1815.9,134.4 L1820.7,118.3 L1825.4,103.6 L1830.1,90.5 L1834.9,79.2 L1839.6,69.8 L1844.3,62.4 L1849.1,57.0 L1853.8,53.8 L1858.5,52.7 L1863.3,53.7 L1868.0,56.8 L1872.8,61.9 L1877.5,69.0 L1882.2,78.0 L1887.0,88.8 L1891.7,101.2 L1896.4,115.2 L1901.2,130.6 L1905.9,147.2 L1910.6,164.8 L1915.4,183.3 L1920.1,202.4 L1924.8,222.0 L1929.6,238.7 L1934.3,253.4 L1939.0,268.1 L1943.8,279.1 L1948.5,288.3 L1953.2,297.8 L1958.0,307.6 L1962.7,316.4 L1967.4,323.3 L1972.2,328.9 L1976.9,334.0 L1981.6,338.3 L1986.4,342.2 L1991.1,345.3 L1995.8,346.9 L2000.6,348.4 L2005.3,346.9 L2010.0,345.3 L2014.8,342.2 L2019.5,338.3 L2024.2,334.0 L2029.0,328.9 L2033.7,323.3 L2038.4,316.4 L2043.2,307.6 L2047.9,297.8 L2052.7,288.3 L2057.4,279.1 L2062.1,268.1 L2066.9,253.4 L2071.6,238.7 L2076.3,222.0 L2081.1,202.4 L2085.8,183.3 L2090.5,164.8 L2095.3,147.2 L2100.0,130.6 L2104.7,115.2 L2109.5,101.2 L2114.2,88.8 L2118.9,78.0 L2123.7,69.0 L2128.4,61.9 L2133.1,56.8 L2137.9,53.7 L2142.6,52.7" stroke="#12a6f2" stroke-width="4.2" fill="none" stroke-linejoin="round" stroke-linecap="round" />
<path d="M1574.5,53.6 L1579.2,54.7 L1584.0,58.0 L1588.7,63.3 L1593.4,70.8 L1598.2,80.3 L1602.9,91.6 L1607.6,104.7 L1612.4,119.4 L1617.1,135.6 L1621.8,153.0 L1626.6,171.6 L1631.3,191.0 L1636.0,211.1 L1640.8,231.7 L1645.5,252.4 L1650.2,273.2 L1655.0,293.8 L1659.7,313.9 L1664.4,333.3 L1669.2,351.9 L1673.9,369.3 L1678.7,385.5 L1683.4,400.2 L1688.1,413.3 L1692.9,424.6 L1697.6,434.1 L1702.3,441.6 L1707.1,446.9 L1711.8,450.2 L1716.5,451.3 L1721.3,450.2 L1726.0,446.9 L1730.7,441.6 L1735.5,434.1 L1740.2,424.6 L1744.9,413.3 L1749.7,400.2 L1754.4,385.5 L1759.1,369.3 L1763.9,351.9 L1768.6,333.3 L1773.3,313.9 L1778.1,293.8 L1782.8,273.2 L1787.5,252.5 L1792.3,231.7 L1797.0,211.1 L1801.7,191.0 L1806.5,171.6 L1811.2,153.0 L1815.9,135.6 L1820.7,119.4 L1825.4,104.7 L1830.1,91.6 L1834.9,80.3 L1839.6,70.8 L1844.3,63.3 L1849.1,58.0 L1853.8,54.7 L1858.5,53.6 L1863.3,54.6 L1868.0,57.7 L1872.8,62.8 L1877.5,69.9 L1882.2,78.9 L1887.0,89.6 L1891.7,102.0 L1896.4,116.0 L1901.2,131.3 L1905.9,147.9 L1910.6,165.5 L1915.4,183.9 L1920.1,203.0 L1924.8,214.5 L1929.6,222.0 L1934.3,229.6 L1939.0,237.6 L1943.8,245.6 L1948.5,249.1 L1953.2,252.1 L1958.0,247.4 L1962.7,242.7 L1967.4,238.0 L1972.2,234.0 L1976.9,230.3 L1981.6,226.6 L1986.4,223.4 L1991.1,221.2 L1995.8,220.5 L2000.6,220.5 L2005.3,220.5 L2010.0,221.2 L2014.8,223.4 L2019.5,226.6 L2024.2,230.3 L2029.0,234.0 L2033.7,238.0 L2038.4,242.7 L2043.2,247.4 L2047.9,252.1 L2052.7,249.1 L2057.4,245.6 L2062.1,237.6 L2066.9,229.6 L2071.6,222.0 L2076.3,214.5 L2081.1,203.0 L2085.8,183.9 L2090.5,165.5 L2095.3,147.9 L2100.0,131.3 L2104.7,116.0 L2109.5,102.0 L2114.2,89.6 L2118.9,78.9 L2123.7,69.9 L2128.4,62.8 L2133.1,57.7 L2137.9,54.6 L2142.6,53.6" stroke="#10d810" stroke-width="4.2" fill="none" stroke-linejoin="round" stroke-linecap="round" />
<path d="M1574.5,55.0 L1579.2,56.1 L1584.0,59.3 L1588.7,64.7 L1593.4,72.2 L1598.2,81.6 L1602.9,92.9 L1607.6,106.0 L1612.4,120.7 L1617.1,136.9 L1621.8,154.3 L1626.6,172.8 L1631.3,192.2 L1636.0,212.3 L1640.8,232.8 L1645.5,253.6 L1650.2,274.4 L1655.0,294.9 L1659.7,315.0 L1664.4,334.4 L1669.2,352.9 L1673.9,370.3 L1678.7,386.5 L1683.4,401.2 L1688.1,414.3 L1692.9,425.6 L1697.6,435.0 L1702.3,442.5 L1707.1,447.9 L1711.8,451.1 L1716.5,452.2 L1721.3,451.1 L1726.0,447.9 L1730.7,442.5 L1735.5,435.0 L1740.2,425.6 L1744.9,414.3 L1749.7,401.2 L1754.4,386.5 L1759.1,370.3 L1763.9,352.9 L1768.6,334.4 L1773.3,315.0 L1778.1,294.9 L1782.8,274.4 L1787.5,253.6 L1792.3,232.8 L1797.0,212.3 L1801.7,192.2 L1806.5,172.8 L1811.2,154.3 L1815.9,136.9 L1820.7,120.7 L1825.4,106.0 L1830.1,92.9 L1834.9,81.6 L1839.6,72.2 L1844.3,64.7 L1849.1,59.3 L1853.8,56.1 L1858.5,55.0 L1863.3,56.0 L1868.0,59.1 L1872.8,64.2 L1877.5,71.2 L1882.2,80.2 L1887.0,90.9 L1891.7,103.2 L1896.4,117.1 L1901.2,132.4 L1905.9,148.9 L1910.6,166.4 L1915.4,184.8 L1920.1,191.1 L1924.8,196.2 L1929.6,199.0 L1934.3,198.1 L1939.0,195.3 L1943.8,192.8 L1948.5,194.8 L1953.2,200.8 L1958.0,213.9 L1962.7,226.7 L1967.4,238.6 L1972.2,250.7 L1976.9,265.7 L1981.6,279.9 L1986.4,291.5 L1991.1,296.5 L1995.8,298.9 L2000.6,300.0 L2005.3,298.9 L2010.0,296.5 L2014.8,291.5 L2019.5,279.9 L2024.2,265.7 L2029.0,250.7 L2033.7,238.6 L2038.4,226.7 L2043.2,213.9 L2047.9,200.8 L2052.7,194.8 L2057.4,192.8 L2062.1,195.3 L2066.9,198.1 L2071.6,199.0 L2076.3,196.2 L2081.1,191.1 L2085.8,184.8 L2090.5,166.4 L2095.3,148.9 L2100.0,132.4 L2104.7,117.1 L2109.5,103.2 L2114.2,90.9 L2118.9,80.2 L2123.7,71.2 L2128.4,64.2 L2133.1,59.1 L2137.9,56.0 L2142.6,55.0" stroke="#e3ab33" stroke-width="4.2" fill="none" stroke-linejoin="round" stroke-linecap="round" />
<path d="M1574.5,55.9 L1579.2,57.0 L1584.0,60.2 L1588.7,65.6 L1593.4,73.1 L1598.2,82.5 L1602.9,93.8 L1607.6,106.9 L1612.4,121.6 L1617.1,137.8 L1621.8,155.2 L1626.6,173.7 L1631.3,193.1 L1636.0,213.2 L1640.8,233.7 L1645.5,254.5 L1650.2,275.3 L1655.0,295.8 L1659.7,315.9 L1664.4,335.3 L1669.2,353.8 L1673.9,371.2 L1678.7,387.4 L1683.4,402.1 L1688.1,415.2 L1692.9,426.5 L1697.6,435.9 L1702.3,443.4 L1707.1,448.8 L1711.8,452.0 L1716.5,453.1 L1721.3,452.0 L1726.0,448.8 L1730.7,443.4 L1735.5,435.9 L1740.2,426.5 L1744.9,415.2 L1749.7,402.1 L1754.4,387.4 L1759.1,371.2 L1763.9,353.8 L1768.6,335.3 L1773.3,315.9 L1778.1,295.8 L1782.8,275.3 L1787.5,254.5 L1792.3,233.7 L1797.0,213.2 L1801.7,193.1 L1806.5,173.7 L1811.2,155.2 L1815.9,137.8 L1820.7,121.6 L1825.4,106.9 L1830.1,93.8 L1834.9,82.5 L1839.6,73.1 L1844.3,65.6 L1849.1,60.2 L1853.8,57.0 L1858.5,55.9 L1863.3,57.0 L1868.0,60.2 L1872.8,65.4 L1877.5,72.7 L1882.2,82.0 L1887.0,93.1 L1891.7,105.9 L1896.4,120.3 L1901.2,136.0 L1905.9,153.0 L1910.6,171.0 L1915.4,174.0 L1920.1,177.0 L1924.8,179.7 L1929.6,182.3 L1934.3,196.6 L1939.0,211.1 L1943.8,224.2 L1948.5,237.6 L1953.2,254.7 L1958.0,271.4 L1962.7,287.2 L1967.4,304.0 L1972.2,321.0 L1976.9,334.2 L1981.6,346.8 L1986.4,356.6 L1991.1,364.4 L1995.8,369.7 L2000.6,371.8 L2005.3,369.7 L2010.0,364.4 L2014.8,356.6 L2019.5,346.8 L2024.2,334.2 L2029.0,321.0 L2033.7,304.0 L2038.4,287.2 L2043.2,271.4 L2047.9,254.7 L2052.7,237.6 L2057.4,224.2 L2062.1,211.1 L2066.9,196.6 L2071.6,182.3 L2076.3,179.7 L2081.1,177.0 L2085.8,174.0 L2090.5,171.0 L2095.3,153.0 L2100.0,136.0 L2104.7,120.3 L2109.5,105.9 L2114.2,93.1 L2118.9,82.0 L2123.7,72.7 L2128.4,65.4 L2133.1,60.2 L2137.9,57.0 L2142.6,55.9" stroke="#ff00ff" stroke-width="4.2" fill="none" stroke-linejoin="round" stroke-linecap="round" />
<path d="M1574.5,58.2 L1579.2,59.3 L1584.0,62.5 L1588.7,67.9 L1593.4,75.3 L1598.2,84.8 L1602.9,96.1 L1607.6,109.1 L1612.4,123.8 L1617.1,140.0 L1621.8,157.4 L1626.6,175.9 L1631.3,195.3 L1636.0,215.3 L1640.8,235.8 L1645.5,256.6 L1650.2,277.3 L1655.0,297.8 L1659.7,317.9 L1664.4,337.3 L1669.2,355.8 L1673.9,373.2 L1678.7,389.3 L1683.4,404.0 L1688.1,417.1 L1692.9,428.4 L1697.6,437.8 L1702.3,445.2 L1707.1,450.6 L1711.8,453.9 L1716.5,454.9 L1721.3,453.9 L1726.0,450.6 L1730.7,445.2 L1735.5,437.8 L1740.2,428.4 L1744.9,417.1 L1749.7,404.0 L1754.4,389.3 L1759.1,373.2 L1763.9,355.8 L1768.6,337.3 L1773.3,317.9 L1778.1,297.8 L1782.8,277.3 L1787.5,256.6 L1792.3,235.8 L1797.0,215.3 L1801.7,195.3 L1806.5,175.9 L1811.2,157.4 L1815.9,140.0 L1820.7,123.8 L1825.4,109.1 L1830.1,96.1 L1834.9,84.8 L1839.6,75.3 L1844.3,67.9 L1849.1,62.5 L1853.8,59.3 L1858.5,58.2 L1863.3,59.4 L1868.0,63.1 L1872.8,69.2 L1877.5,77.6 L1882.2,88.2 L1887.0,100.9 L1891.7,115.5 L1896.4,131.8 L1901.2,149.6 L1905.9,167.3 L1910.6,172.6 L1915.4,177.2 L1920.1,180.3 L1924.8,194.6 L1929.6,212.8 L1934.3,231.0 L1939.0,248.7 L1943.8,266.2 L1948.5,278.7 L1953.2,291.4 L1958.0,306.4 L1962.7,321.2 L1967.4,335.3 L1972.2,349.6 L1976.9,364.2 L1981.6,377.2 L1986.4,387.5 L1991.1,393.5 L1995.8,396.8 L2000.6,398.7 L2005.3,396.8 L2010.0,393.5 L2014.8,387.5 L2019.5,377.2 L2024.2,364.2 L2029.0,349.6 L2033.7,335.3 L2038.4,321.2 L2043.2,306.4 L2047.9,291.4 L2052.7,278.7 L2057.4,266.2 L2062.1,248.7 L2066.9,231.0 L2071.6,212.8 L2076.3,194.6 L2081.1,180.3 L2085.8,177.2 L2090.5,172.6 L2095.3,167.3 L2100.0,149.6 L2104.7,131.8 L2109.5,115.5 L2114.2,100.9 L2118.9,88.2 L2123.7,77.6 L2128.4,69.2 L2133.1,63.1 L2137.9,59.4 L2142.6,58.2" stroke="#ff0000" stroke-width="4.2" fill="none" stroke-linejoin="round" stroke-linecap="round" />
<rect x="1574.5" y="23.9" width="568.1" height="457.1" fill="none" stroke="#111" stroke-width="1.6"/>
<path d="M1574.5,481.0v9M1716.5,481.0v9M1858.5,481.0v9M2000.6,481.0v9M2142.6,481.0v9M1574.5,481.0h-9M1574.5,389.6h-9M1574.5,298.2h-9M1574.5,206.7h-9M1574.5,115.3h-9M1574.5,23.9h-9" stroke="#111" stroke-width="1.6" fill="none"/>
<text x="1574.5" y="520.2" font-size="23.6" text-anchor="middle" fill="#111" >0</text>
<text x="1716.5" y="520.2" font-size="23.6" text-anchor="middle" fill="#111" >90</text>
<text x="1858.5" y="520.2" font-size="23.6" text-anchor="middle" fill="#111" >180</text>
<text x="2000.6" y="520.2" font-size="23.6" text-anchor="middle" fill="#111" >270</text>
<text x="2142.6" y="520.2" font-size="23.6" text-anchor="middle" fill="#111" >360</text>
<text x="1556.7" y="488.5" font-size="23.6" text-anchor="end" fill="#111" >0</text>
<text x="1556.7" y="397.1" font-size="23.6" text-anchor="end" fill="#111" >0.2</text>
<text x="1556.7" y="305.7" font-size="23.6" text-anchor="end" fill="#111" >0.4</text>
<text x="1556.7" y="214.3" font-size="23.6" text-anchor="end" fill="#111" >0.6</text>
<text x="1556.7" y="122.8" font-size="23.6" text-anchor="end" fill="#111" >0.8</text>
<text x="1556.7" y="31.4" font-size="23.6" text-anchor="end" fill="#111" >1.0</text>
<path d="M1820.5,303.6H1845.5" stroke="#808080" stroke-width="4.2" stroke-linecap="round"/>
<text x="1861.0" y="311.6" font-size="23.4" text-anchor="start" fill="#111" >0.1 mA</text>
<path d="M1820.5,332.9H1845.5" stroke="#12a6f2" stroke-width="4.2" stroke-linecap="round"/>
<text x="1861.0" y="340.9" font-size="23.4" text-anchor="start" fill="#111" >3 mA</text>
<path d="M1820.5,362.2H1845.5" stroke="#10d810" stroke-width="4.2" stroke-linecap="round"/>
<text x="1861.0" y="370.2" font-size="23.4" text-anchor="start" fill="#111" >4 mA</text>
<path d="M1820.5,391.5H1845.5" stroke="#e3ab33" stroke-width="4.2" stroke-linecap="round"/>
<text x="1861.0" y="399.5" font-size="23.4" text-anchor="start" fill="#111" >5 mA</text>
<path d="M1820.5,420.8H1845.5" stroke="#ff00ff" stroke-width="4.2" stroke-linecap="round"/>
<text x="1861.0" y="428.8" font-size="23.4" text-anchor="start" fill="#111" >6 mA</text>
<path d="M1820.5,450.1H1845.5" stroke="#ff0000" stroke-width="4.2" stroke-linecap="round"/>
<text x="1861.0" y="458.1" font-size="23.4" text-anchor="start" fill="#111" >7 mA</text>
<text transform="translate(1496.0,252.5) rotate(-90)" x="0" y="0" font-size="27" text-anchor="middle" fill="#111">1 – &lt;<tspan font-style="italic">M</tspan><tspan font-size="18" dy="7">y</tspan><tspan font-size="18" dx="-9" dy="-17">2</tspan><tspan dy="10">&gt;/</tspan><tspan font-style="italic">M</tspan><tspan font-size="18" dy="7">s</tspan><tspan font-size="18" dx="-8" dy="-17">2</tspan></text>
<g clip-path="url(#clipG)">
<path d="M136.2,1153.7 L137.3,1212.3 L138.5,1256.1 L139.6,1289.0 L140.7,1311.0 L141.8,1324.9 L143.0,1333.6 L144.1,1340.7 L145.2,1345.1 L146.4,1347.7 L147.5,1351.9 L148.6,1360.8 L149.8,1372.5 L150.9,1377.3 L152.0,1380.3 L153.2,1381.8 L154.3,1382.6 L155.4,1383.4 L156.6,1383.1 L157.7,1384.3 L158.8,1384.5 L159.9,1384.2 L161.1,1383.6 L162.2,1384.3 L163.3,1385.4 L164.5,1387.0 L165.6,1389.4 L166.7,1391.5 L167.9,1391.7 L169.0,1390.9 L170.1,1389.6 L171.3,1388.1 L172.4,1388.1 L173.5,1386.8 L174.6,1385.9 L175.8,1385.5 L176.9,1383.9 L178.0,1383.0 L179.2,1381.3 L180.3,1381.0 L181.4,1381.1 L182.6,1380.1 L183.7,1380.6 L184.8,1381.4 L186.0,1381.3 L187.1,1381.5 L188.2,1381.6 L189.4,1380.9 L190.5,1381.0 L191.6,1379.2 L192.7,1377.5 L193.9,1376.2 L195.0,1374.6 L196.1,1373.0 L197.3,1371.2 L198.4,1370.5 L199.5,1368.1 L200.7,1367.4 L201.8,1365.5 L202.9,1364.5 L204.1,1361.9 L205.2,1360.2 L206.3,1359.1 L207.5,1356.5 L208.6,1355.2 L209.7,1352.4 L210.8,1349.5 L212.0,1346.6 L213.1,1342.5 L214.2,1338.3 L215.4,1335.6 L216.5,1331.3 L217.6,1328.3 L218.8,1324.5 L219.9,1322.1 L221.0,1319.3 L222.2,1316.7 L223.3,1314.3 L224.4,1312.2 L225.6,1308.5 L226.7,1306.6 L227.8,1302.9 L228.9,1299.4 L230.1,1296.2 L231.2,1291.8 L232.3,1287.3 L233.5,1283.4 L234.6,1279.3 L235.7,1275.7 L236.9,1270.5 L238.0,1266.1 L239.1,1261.8 L240.3,1257.9 L241.4,1253.3 L242.5,1249.6 L243.7,1245.5 L244.8,1241.2 L245.9,1237.7 L247.0,1233.6 L248.2,1228.7 L249.3,1225.2 L250.4,1222.0 L251.6,1217.5 L252.7,1213.0 L253.8,1208.7 L255.0,1205.2 L256.1,1201.8 L257.2,1198.7 L258.4,1195.5 L259.5,1193.3 L260.6,1191.5 L261.8,1189.5 L262.9,1187.7 L264.0,1185.4 L265.1,1183.9 L266.3,1181.3 L267.4,1179.1 L268.5,1177.3 L269.7,1176.2 L270.8,1174.1 L271.9,1173.9 L273.1,1172.6 L274.2,1172.4 L275.3,1172.1 L276.5,1170.9 L277.6,1170.5 L278.7,1170.3 L279.9,1170.0 L281.0,1170.2 L282.1,1170.1 L283.2,1169.9 L284.4,1169.3 L285.5,1169.8 L286.6,1170.6 L287.8,1170.5 L288.9,1171.3 L290.0,1171.8 L291.2,1171.8 L292.3,1172.9 L293.4,1174.0 L294.6,1174.4 L295.7,1174.9 L296.8,1175.7 L297.9,1176.2 L299.1,1177.9 L300.2,1178.3 L301.3,1179.5 L302.5,1180.7 L303.6,1181.5 L304.7,1182.7 L305.9,1184.3 L307.0,1184.8 L308.1,1186.9 L309.3,1187.6 L310.4,1188.9 L311.5,1190.0 L312.7,1191.7 L313.8,1192.7 L314.9,1194.0 L316.0,1194.8 L317.2,1196.7 L318.3,1197.6 L319.4,1198.9 L320.6,1200.5 L321.7,1200.3 L322.8,1202.5 L324.0,1204.3 L325.1,1204.5 L326.2,1206.6 L327.4,1207.3 L328.5,1208.4 L329.6,1210.3 L330.8,1211.5 L331.9,1212.8 L333.0,1214.0 L334.1,1215.8 L335.3,1217.0 L336.4,1218.0 L337.5,1218.9 L338.7,1220.5 L339.8,1221.4 L340.9,1223.2 L342.1,1225.0 L343.2,1226.3 L344.3,1228.4 L345.5,1229.4 L346.6,1230.8 L347.7,1231.8 L348.9,1233.0 L350.0,1234.8 L351.1,1236.2 L352.2,1238.0 L353.4,1238.8 L354.5,1240.0 L355.6,1241.3 L356.8,1243.1 L357.9,1243.4 L359.0,1245.0 L360.2,1246.7 L361.3,1248.1 L362.4,1249.3 L363.6,1250.4 L364.7,1251.7 L365.8,1252.7 L367.0,1253.8 L368.1,1254.8 L369.2,1256.1 L370.3,1257.8 L371.5,1258.8 L372.6,1260.2 L373.7,1261.5 L374.9,1261.8 L376.0,1263.8 L377.1,1264.1 L378.3,1266.1 L379.4,1267.1 L380.5,1268.0 L381.7,1269.6 L382.8,1270.7 L383.9,1272.1 L385.1,1273.4 L386.2,1274.6 L387.3,1276.0 L388.4,1276.5 L389.6,1278.5 L390.7,1279.1 L391.8,1282.1 L393.0,1282.4 L394.1,1283.6 L395.2,1285.2 L396.4,1286.0 L397.5,1287.5 L398.6,1289.0 L399.8,1290.0 L400.9,1290.2 L402.0,1292.3 L403.2,1293.4 L404.3,1294.8 L405.4,1295.7 L406.5,1297.4 L407.7,1298.1 L408.8,1298.2 L409.9,1299.8 L411.1,1301.0 L412.2,1301.9 L413.3,1302.7 L414.5,1304.3 L415.6,1304.8 L416.7,1306.2 L417.9,1307.6 L419.0,1308.2 L420.1,1310.7 L421.2,1311.1 L422.4,1311.9 L423.5,1313.4 L424.6,1314.2 L425.8,1315.5 L426.9,1316.6 L428.0,1316.5 L429.2,1318.3 L430.3,1319.7 L431.4,1320.3 L432.6,1322.0 L433.7,1322.7 L434.8,1324.0 L436.0,1324.7 L437.1,1326.9 L438.2,1327.2 L439.3,1328.6 L440.5,1330.1 L441.6,1330.4 L442.7,1332.3 L443.9,1332.5 L445.0,1334.0 L446.1,1335.1 L447.3,1336.4 L448.4,1337.3 L449.5,1339.4 L450.7,1339.9 L451.8,1341.3 L452.9,1342.1 L454.1,1343.4 L455.2,1344.3 L456.3,1346.0 L457.4,1346.2 L458.6,1347.2 L459.7,1349.3 L460.8,1350.4 L462.0,1351.5 L463.1,1352.4 L464.2,1353.3 L465.4,1355.7 L466.5,1356.7 L467.6,1358.0 L468.8,1359.3 L469.9,1360.7 L471.0,1361.2 L472.2,1362.9 L473.3,1363.2 L474.4,1364.6 L475.5,1366.6 L476.7,1367.8 L477.8,1368.9 L478.9,1369.4 L480.1,1371.4 L481.2,1372.9 L482.3,1373.6 L483.5,1374.7 L484.6,1376.3 L485.7,1376.7 L486.9,1378.5 L488.0,1379.7 L489.1,1381.4 L490.3,1382.3 L491.4,1383.6 L492.5,1385.7 L493.6,1386.0 L494.8,1388.0 L495.9,1388.6 L497.0,1390.4 L498.2,1390.4 L499.3,1392.2 L500.4,1393.3 L501.6,1394.5 L502.7,1396.6 L503.8,1398.2 L505.0,1398.8 L506.1,1399.6 L507.2,1401.2 L508.4,1402.2 L509.5,1403.4 L510.6,1405.6 L511.7,1406.2 L512.9,1406.8 L514.0,1409.0 L515.1,1410.8 L516.3,1411.4 L517.4,1412.8 L518.5,1413.8 L519.7,1415.5 L520.8,1416.4 L521.9,1418.5 L523.1,1418.7 L524.2,1419.7 L525.3,1421.1 L526.5,1423.4 L527.6,1424.0 L528.7,1426.5 L529.8,1426.6 L531.0,1428.0 L532.1,1429.6 L533.2,1430.4 L534.4,1431.8 L535.5,1432.7 L536.6,1434.3 L537.8,1435.6 L538.9,1437.6 L540.0,1438.6 L541.2,1439.7 L542.3,1440.7 L543.4,1442.1 L544.5,1442.8 L545.7,1445.0 L546.8,1446.0 L547.9,1447.1 L549.1,1448.6 L550.2,1449.6 L551.3,1451.3 L552.5,1451.9 L553.6,1453.8 L554.7,1454.6 L555.9,1456.3 L557.0,1457.0 L558.1,1459.3 L559.3,1459.9 L560.4,1461.6 L561.5,1462.6 L562.6,1463.6 L563.8,1465.7 L564.9,1467.1 L566.0,1468.2 L567.2,1469.1 L568.3,1471.2 L569.4,1471.7 L570.6,1473.5 L571.7,1474.8 L572.8,1475.8 L574.0,1476.8 L575.1,1478.5 L576.2,1479.7 L577.4,1480.8 L578.5,1482.2 L579.6,1484.4 L580.7,1484.9 L581.9,1486.0 L583.0,1486.9 L584.1,1487.8 L585.3,1489.6 L586.4,1491.1 L587.5,1492.8 L588.7,1493.7 L589.8,1494.8 L590.9,1495.9 L592.1,1498.0 L593.2,1498.8 L594.3,1499.9 L595.5,1500.8 L596.6,1502.7 L597.7,1504.3 L598.8,1505.7 L600.0,1506.8 L601.1,1508.2 L602.2,1509.0 L603.4,1510.2 L604.5,1511.6 L605.6,1512.8 L606.8,1514.7 L607.9,1515.7 L609.0,1517.2 L610.2,1518.4 L611.3,1519.2 L612.4,1521.0 L613.6,1523.0 L614.7,1523.7 L615.8,1525.2 L616.9,1526.7 L618.1,1527.8 L619.2,1528.4 L620.3,1529.5 L621.5,1531.6 L622.6,1532.3 L623.7,1533.6 L624.9,1535.7 L626.0,1536.6 L627.1,1537.9 L628.3,1539.1 L629.4,1541.1 L630.5,1541.9 L631.7,1542.7 L632.8,1543.9 L633.9,1545.0 L635.0,1547.1 L636.2,1547.6 L637.3,1549.4 L638.4,1551.4 L639.6,1551.9 L640.7,1553.7 L641.8,1554.6 L643.0,1556.2 L644.1,1557.0 L645.2,1558.6 L646.4,1560.1 L647.5,1561.0 L648.6,1562.5 L649.8,1564.1 L650.9,1564.8 L652.0,1566.7 L653.1,1568.1 L654.3,1569.3 L655.4,1571.0 L656.5,1572.0 L657.7,1572.4 L658.8,1574.7 L659.9,1575.7 L661.1,1577.4 L662.2,1578.5 L663.3,1579.0 L664.5,1580.5 L665.6,1582.4 L666.7,1583.5 L667.8,1585.1 L669.0,1586.4 L670.1,1587.7 L671.2,1589.0 L672.4,1589.9 L673.5,1591.1 L674.6,1592.4 L675.8,1593.9" stroke="#ea148c" stroke-width="4.3" fill="none" stroke-linejoin="round" stroke-linecap="round" />
</g>
<g clip-path="url(#clipG)">
<path d="M136.7,1210.5 L137.8,1271.8 L139.0,1296.8 L140.1,1315.5 L141.2,1331.2 L142.4,1343.8 L143.5,1354.8 L144.6,1364.1 L145.8,1370.7 L146.9,1377.3 L148.0,1384.8 L149.2,1390.9 L150.3,1397.8 L151.4,1405.8 L152.6,1409.9 L153.7,1413.2 L154.8,1415.4 L155.9,1416.3 L157.1,1418.3 L158.2,1420.0 L159.3,1420.6 L160.5,1422.7 L161.6,1422.3 L162.7,1424.0 L163.9,1424.3 L165.0,1425.2 L166.1,1425.4 L167.3,1425.6 L168.4,1426.5 L169.5,1426.1 L170.7,1426.5 L171.8,1426.7 L172.9,1426.4 L174.0,1426.6 L175.2,1426.4 L176.3,1425.6 L177.4,1425.9 L178.6,1425.4 L179.7,1425.6 L180.8,1426.2 L182.0,1426.7 L183.1,1426.6 L184.2,1427.2 L185.4,1428.7 L186.5,1430.4 L187.6,1430.4 L188.8,1431.2 L189.9,1430.6 L191.0,1429.6 L192.1,1428.3 L193.3,1428.4 L194.4,1428.2 L195.5,1426.9 L196.7,1426.1 L197.8,1425.2 L198.9,1424.9 L200.1,1424.3 L201.2,1423.2 L202.3,1422.4 L203.5,1421.2 L204.6,1420.4 L205.7,1420.8 L206.9,1420.1 L208.0,1419.3 L209.1,1418.8 L210.2,1417.9 L211.4,1417.3 L212.5,1416.7 L213.6,1415.7 L214.8,1415.6 L215.9,1415.2 L217.0,1414.7 L218.2,1413.8 L219.3,1413.0 L220.4,1412.6 L221.6,1411.0 L222.7,1410.5 L223.8,1410.0 L224.9,1409.4 L226.1,1408.9 L227.2,1407.8 L228.3,1405.9 L229.5,1406.4 L230.6,1404.4 L231.7,1403.0 L232.9,1401.9 L234.0,1400.7 L235.1,1398.9 L236.3,1398.0 L237.4,1395.8 L238.5,1393.9 L239.7,1393.1 L240.8,1391.3 L241.9,1389.2 L243.0,1387.0 L244.2,1385.1 L245.3,1383.4 L246.4,1382.0 L247.6,1380.3 L248.7,1377.9 L249.8,1375.8 L251.0,1374.4 L252.1,1372.0 L253.2,1369.9 L254.4,1367.6 L255.5,1366.2 L256.6,1363.5 L257.8,1361.9 L258.9,1359.4 L260.0,1356.9 L261.1,1354.0 L262.3,1350.8 L263.4,1349.4 L264.5,1346.6 L265.7,1343.7 L266.8,1341.8 L267.9,1338.1 L269.1,1335.8 L270.2,1331.7 L271.3,1328.7 L272.5,1325.9 L273.6,1323.1 L274.7,1319.0 L275.9,1316.2 L277.0,1312.9 L278.1,1309.4 L279.2,1306.8 L280.4,1302.5 L281.5,1298.6 L282.6,1295.0 L283.8,1291.3 L284.9,1287.8 L286.0,1283.4 L287.2,1279.8 L288.3,1276.2 L289.4,1272.9 L290.6,1268.9 L291.7,1265.2 L292.8,1262.1 L294.0,1258.5 L295.1,1255.0 L296.2,1251.7 L297.3,1249.1 L298.5,1246.4 L299.6,1243.9 L300.7,1241.3 L301.9,1238.9 L303.0,1236.7 L304.1,1235.4 L305.3,1233.4 L306.4,1232.2 L307.5,1229.9 L308.7,1229.1 L309.8,1227.6 L310.9,1226.9 L312.1,1226.0 L313.2,1225.7 L314.3,1224.6 L315.4,1225.1 L316.6,1225.5 L317.7,1226.0 L318.8,1226.2 L320.0,1226.2 L321.1,1226.3 L322.2,1228.0 L323.4,1228.4 L324.5,1228.9 L325.6,1229.8 L326.8,1231.0 L327.9,1231.3 L329.0,1232.0 L330.2,1233.9 L331.3,1234.3 L332.4,1235.1 L333.5,1236.3 L334.7,1238.0 L335.8,1238.2 L336.9,1240.0 L338.1,1241.8 L339.2,1242.4 L340.3,1244.4 L341.5,1244.8 L342.6,1246.8 L343.7,1247.3 L344.9,1249.0 L346.0,1249.5 L347.1,1250.9 L348.2,1252.2 L349.4,1253.5 L350.5,1254.4 L351.6,1256.6 L352.8,1257.1 L353.9,1258.3 L355.0,1259.6 L356.2,1260.8 L357.3,1261.1 L358.4,1263.8 L359.6,1264.9 L360.7,1266.6 L361.8,1267.5 L363.0,1270.3 L364.1,1270.4 L365.2,1272.8 L366.3,1274.9 L367.5,1276.0 L368.6,1277.2 L369.7,1278.6 L370.9,1280.2 L372.0,1281.5 L373.1,1283.4 L374.3,1284.9 L375.4,1287.3 L376.5,1287.9 L377.7,1289.2 L378.8,1291.3 L379.9,1293.4 L381.1,1294.7 L382.2,1295.2 L383.3,1297.5 L384.4,1299.0 L385.6,1300.6 L386.7,1301.5 L387.8,1303.5 L389.0,1305.1 L390.1,1306.8 L391.2,1307.8 L392.4,1308.9 L393.5,1310.8 L394.6,1311.9 L395.8,1313.6 L396.9,1315.1 L398.0,1316.6 L399.2,1318.1 L400.3,1319.3 L401.4,1320.9 L402.5,1322.8 L403.7,1324.0 L404.8,1325.6 L405.9,1326.9 L407.1,1328.5 L408.2,1329.8 L409.3,1332.0 L410.5,1332.8 L411.6,1333.9 L412.7,1336.3 L413.9,1336.7 L415.0,1338.7 L416.1,1340.3 L417.3,1342.3 L418.4,1342.7 L419.5,1344.9 L420.6,1346.2 L421.8,1347.2 L422.9,1349.2 L424.0,1350.6 L425.2,1352.1 L426.3,1353.2 L427.4,1354.3 L428.6,1355.8 L429.7,1357.2 L430.8,1358.8 L432.0,1360.1 L433.1,1361.7 L434.2,1362.1 L435.4,1364.2 L436.5,1366.3 L437.6,1367.4 L438.7,1367.8 L439.9,1370.2 L441.0,1371.2 L442.1,1372.3 L443.3,1374.2 L444.4,1374.7 L445.5,1375.8 L446.7,1378.1 L447.8,1378.7 L448.9,1380.8 L450.1,1382.1 L451.2,1383.0 L452.3,1384.3 L453.5,1386.0 L454.6,1386.8 L455.7,1388.9 L456.8,1390.0 L458.0,1391.5 L459.1,1392.1 L460.2,1393.4 L461.4,1394.8 L462.5,1396.8 L463.6,1397.6 L464.8,1398.8 L465.9,1400.9 L467.0,1401.9 L468.2,1402.7 L469.3,1404.0 L470.4,1405.5 L471.5,1406.8 L472.7,1408.2 L473.8,1409.6 L474.9,1411.0 L476.1,1412.6 L477.2,1413.7 L478.3,1415.1 L479.5,1415.4 L480.6,1417.5 L481.7,1418.9 L482.9,1420.4 L484.0,1421.6 L485.1,1423.0 L486.3,1424.1 L487.4,1425.6 L488.5,1426.6 L489.6,1428.5 L490.8,1429.4 L491.9,1430.6 L493.0,1432.6 L494.2,1433.5 L495.3,1434.8 L496.4,1436.3 L497.6,1437.7 L498.7,1439.5 L499.8,1439.8 L501.0,1441.8 L502.1,1443.3 L503.2,1443.9 L504.4,1446.1 L505.5,1446.4 L506.6,1448.0 L507.7,1449.2 L508.9,1450.8 L510.0,1452.5 L511.1,1454.1 L512.3,1454.2 L513.4,1456.2 L514.5,1457.6 L515.7,1458.1 L516.8,1460.3 L517.9,1461.5 L519.1,1462.8 L520.2,1464.1 L521.3,1465.7 L522.5,1466.9 L523.6,1467.5 L524.7,1469.1 L525.8,1471.7 L527.0,1472.7 L528.1,1473.2 L529.2,1474.7 L530.4,1476.1 L531.5,1476.9 L532.6,1479.3 L533.8,1479.5 L534.9,1481.2 L536.0,1482.4 L537.2,1483.8 L538.3,1484.9 L539.4,1486.7 L540.6,1488.1 L541.7,1488.9 L542.8,1490.5 L543.9,1492.3 L545.1,1492.7 L546.2,1494.1 L547.3,1495.3 L548.5,1497.2 L549.6,1498.4 L550.7,1500.0 L551.9,1501.5 L553.0,1502.5 L554.1,1503.8 L555.3,1505.4 L556.4,1505.8 L557.5,1508.4 L558.7,1509.4 L559.8,1510.7 L560.9,1511.3 L562.0,1513.2 L563.2,1514.6 L564.3,1516.1 L565.4,1517.4 L566.6,1518.9 L567.7,1519.4 L568.8,1520.9 L570.0,1522.0 L571.1,1524.0 L572.2,1524.1 L573.4,1526.7 L574.5,1528.5 L575.6,1529.2 L576.8,1530.3 L577.9,1531.4 L579.0,1533.4 L580.1,1534.1 L581.3,1535.1 L582.4,1537.3 L583.5,1538.6 L584.7,1540.3 L585.8,1540.9 L586.9,1542.0 L588.1,1543.4 L589.2,1544.7 L590.3,1545.8 L591.5,1547.6 L592.6,1548.6 L593.7,1550.6 L594.8,1551.9 L596.0,1552.8 L597.1,1554.6 L598.2,1555.4 L599.4,1556.4 L600.5,1558.1 L601.6,1559.8 L602.8,1561.2 L603.9,1561.7 L605.0,1563.8 L606.2,1564.8 L607.3,1566.3 L608.4,1567.5 L609.6,1568.5 L610.7,1570.4 L611.8,1572.0 L612.9,1572.3 L614.1,1574.1 L615.2,1575.2 L616.3,1576.8 L617.5,1577.9 L618.6,1579.0 L619.7,1580.3 L620.9,1582.2 L622.0,1583.6 L623.1,1584.6 L624.3,1586.0 L625.4,1587.2 L626.5,1589.0 L627.7,1590.9 L628.8,1591.2 L629.9,1592.5 L631.0,1593.8 L632.2,1594.8 L633.3,1596.4 L634.4,1598.2 L635.6,1599.0 L636.7,1600.7 L637.8,1601.6 L639.0,1603.3 L640.1,1604.5 L641.2,1605.9 L642.4,1607.3 L643.5,1609.2 L644.6,1610.0 L645.8,1612.1 L646.9,1612.5 L648.0,1613.6 L649.1,1614.5 L650.3,1616.5 L651.4,1618.2 L652.5,1619.9 L653.7,1619.9 L654.8,1622.5 L655.9,1622.9 L657.1,1625.4 L658.2,1625.9 L659.3,1627.0 L660.5,1628.4 L661.6,1629.9 L662.7,1631.5 L663.9,1632.9 L665.0,1633.5 L666.1,1635.0 L667.2,1636.6 L668.4,1637.8 L669.5,1639.5 L670.6,1640.1 L671.8,1641.4 L672.9,1643.4 L674.0,1644.5 L675.2,1645.4 L676.3,1647.4" stroke="#f4463f" stroke-width="4.3" fill="none" stroke-linejoin="round" stroke-linecap="round" />
</g>
<g clip-path="url(#clipG)">
<path d="M136.7,1243.0 L137.8,1280.8 L139.0,1320.0 L140.1,1349.9 L141.2,1366.4 L142.4,1379.9 L143.5,1388.8 L144.6,1396.5 L145.8,1402.6 L146.9,1407.6 L148.0,1413.4 L149.2,1419.4 L150.3,1424.1 L151.4,1427.3 L152.6,1430.1 L153.7,1432.8 L154.8,1434.9 L155.9,1436.8 L157.1,1438.0 L158.2,1439.7 L159.3,1441.3 L160.5,1442.1 L161.6,1442.4 L162.7,1443.7 L163.9,1444.3 L165.0,1444.7 L166.1,1445.7 L167.3,1445.5 L168.4,1447.2 L169.5,1446.3 L170.7,1447.4 L171.8,1448.0 L172.9,1447.8 L174.0,1448.8 L175.2,1448.2 L176.3,1448.3 L177.4,1448.9 L178.6,1449.0 L179.7,1448.6 L180.8,1449.3 L182.0,1449.1 L183.1,1449.1 L184.2,1448.8 L185.4,1449.6 L186.5,1449.5 L187.6,1449.1 L188.8,1450.5 L189.9,1449.7 L191.0,1450.4 L192.1,1450.4 L193.3,1449.0 L194.4,1449.6 L195.5,1449.2 L196.7,1449.8 L197.8,1449.5 L198.9,1449.8 L200.1,1449.8 L201.2,1449.5 L202.3,1449.4 L203.5,1448.8 L204.6,1449.3 L205.7,1449.0 L206.9,1449.0 L208.0,1448.7 L209.1,1449.1 L210.2,1448.1 L211.4,1448.5 L212.5,1448.1 L213.6,1448.0 L214.8,1447.4 L215.9,1447.4 L217.0,1447.3 L218.2,1447.0 L219.3,1446.7 L220.4,1446.3 L221.6,1446.1 L222.7,1445.5 L223.8,1445.0 L224.9,1445.0 L226.1,1445.3 L227.2,1443.8 L228.3,1443.2 L229.5,1443.6 L230.6,1443.1 L231.7,1443.2 L232.9,1441.6 L234.0,1441.6 L235.1,1439.9 L236.3,1440.9 L237.4,1439.3 L238.5,1438.4 L239.7,1438.0 L240.8,1437.5 L241.9,1436.4 L243.0,1435.9 L244.2,1435.1 L245.3,1434.2 L246.4,1433.6 L247.6,1432.6 L248.7,1431.5 L249.8,1431.1 L251.0,1430.0 L252.1,1429.5 L253.2,1428.0 L254.4,1427.9 L255.5,1426.2 L256.6,1426.7 L257.8,1425.0 L258.9,1424.4 L260.0,1422.5 L261.1,1421.8 L262.3,1421.4 L263.4,1420.1 L264.5,1418.4 L265.7,1418.0 L266.8,1416.7 L267.9,1416.5 L269.1,1415.4 L270.2,1413.6 L271.3,1412.0 L272.5,1412.0 L273.6,1410.5 L274.7,1410.0 L275.9,1408.1 L277.0,1407.7 L278.1,1406.6 L279.2,1406.0 L280.4,1404.3 L281.5,1402.9 L282.6,1401.2 L283.8,1400.9 L284.9,1398.8 L286.0,1397.9 L287.2,1396.5 L288.3,1395.3 L289.4,1394.1 L290.6,1392.4 L291.7,1389.7 L292.8,1389.1 L294.0,1387.1 L295.1,1384.7 L296.2,1384.0 L297.3,1381.0 L298.5,1379.1 L299.6,1376.5 L300.7,1373.8 L301.9,1371.6 L303.0,1368.9 L304.1,1365.8 L305.3,1363.0 L306.4,1360.6 L307.5,1357.4 L308.7,1354.8 L309.8,1350.8 L310.9,1348.6 L312.1,1345.1 L313.2,1341.3 L314.3,1338.3 L315.4,1335.1 L316.6,1331.5 L317.7,1327.6 L318.8,1323.1 L320.0,1319.4 L321.1,1315.7 L322.2,1310.9 L323.4,1308.6 L324.5,1305.0 L325.6,1301.7 L326.8,1298.2 L327.9,1295.0 L329.0,1292.0 L330.2,1288.7 L331.3,1285.9 L332.4,1283.6 L333.5,1282.0 L334.7,1278.8 L335.8,1277.6 L336.9,1276.0 L338.1,1274.4 L339.2,1273.6 L340.3,1272.4 L341.5,1271.2 L342.6,1270.5 L343.7,1269.6 L344.9,1269.4 L346.0,1268.5 L347.1,1268.3 L348.2,1267.4 L349.4,1266.9 L350.5,1267.0 L351.6,1267.6 L352.8,1267.6 L353.9,1267.9 L355.0,1268.2 L356.2,1269.3 L357.3,1270.1 L358.4,1271.1 L359.6,1270.7 L360.7,1272.5 L361.8,1273.4 L363.0,1273.8 L364.1,1275.3 L365.2,1275.1 L366.3,1276.4 L367.5,1277.3 L368.6,1278.8 L369.7,1279.7 L370.9,1280.3 L372.0,1281.5 L373.1,1281.9 L374.3,1283.8 L375.4,1286.1 L376.5,1286.7 L377.7,1288.2 L378.8,1289.0 L379.9,1290.7 L381.1,1291.9 L382.2,1293.6 L383.3,1294.6 L384.4,1295.7 L385.6,1297.8 L386.7,1299.7 L387.8,1300.7 L389.0,1301.2 L390.1,1303.0 L391.2,1304.5 L392.4,1306.1 L393.5,1306.7 L394.6,1308.3 L395.8,1309.8 L396.9,1311.3 L398.0,1312.4 L399.2,1313.8 L400.3,1314.8 L401.4,1315.9 L402.5,1318.4 L403.7,1319.5 L404.8,1320.3 L405.9,1321.6 L407.1,1323.5 L408.2,1324.5 L409.3,1325.7 L410.5,1327.1 L411.6,1328.4 L412.7,1329.6 L413.9,1330.6 L415.0,1332.0 L416.1,1333.4 L417.3,1334.9 L418.4,1336.6 L419.5,1337.9 L420.6,1338.8 L421.8,1340.4 L422.9,1341.5 L424.0,1343.1 L425.2,1344.5 L426.3,1345.8 L427.4,1347.9 L428.6,1348.8 L429.7,1350.4 L430.8,1351.3 L432.0,1353.3 L433.1,1354.3 L434.2,1356.0 L435.4,1357.1 L436.5,1358.5 L437.6,1360.3 L438.7,1361.6 L439.9,1363.0 L441.0,1364.2 L442.1,1366.1 L443.3,1367.4 L444.4,1369.0 L445.5,1370.7 L446.7,1371.7 L447.8,1373.1 L448.9,1375.0 L450.1,1375.5 L451.2,1377.8 L452.3,1378.7 L453.5,1380.3 L454.6,1382.5 L455.7,1383.3 L456.8,1385.4 L458.0,1386.3 L459.1,1387.4 L460.2,1388.4 L461.4,1390.2 L462.5,1392.5 L463.6,1393.5 L464.8,1394.2 L465.9,1396.1 L467.0,1396.9 L468.2,1399.2 L469.3,1400.5 L470.4,1402.2 L471.5,1403.2 L472.7,1404.0 L473.8,1406.1 L474.9,1406.9 L476.1,1408.4 L477.2,1409.6 L478.3,1411.3 L479.5,1412.6 L480.6,1413.1 L481.7,1415.7 L482.9,1416.3 L484.0,1417.4 L485.1,1419.1 L486.3,1420.0 L487.4,1423.0 L488.5,1423.3 L489.6,1425.0 L490.8,1426.0 L491.9,1427.2 L493.0,1428.3 L494.2,1430.1 L495.3,1430.8 L496.4,1433.0 L497.6,1433.4 L498.7,1435.1 L499.8,1437.0 L501.0,1438.3 L502.1,1439.6 L503.2,1440.6 L504.4,1441.6 L505.5,1442.4 L506.6,1443.9 L507.7,1446.0 L508.9,1447.7 L510.0,1448.3 L511.1,1450.0 L512.3,1450.9 L513.4,1452.4 L514.5,1452.5 L515.7,1455.4 L516.8,1456.0 L517.9,1456.8 L519.1,1458.9 L520.2,1460.4 L521.3,1460.8 L522.5,1463.5 L523.6,1464.7 L524.7,1465.8 L525.8,1466.6 L527.0,1467.8 L528.1,1469.4 L529.2,1469.9 L530.4,1472.1 L531.5,1473.4 L532.6,1474.8 L533.8,1475.6 L534.9,1477.3 L536.0,1478.8 L537.2,1479.4 L538.3,1480.8 L539.4,1482.3 L540.6,1484.4 L541.7,1485.7 L542.8,1486.7 L543.9,1488.0 L545.1,1489.4 L546.2,1490.7 L547.3,1491.7 L548.5,1493.6 L549.6,1494.5 L550.7,1496.0 L551.9,1497.4 L553.0,1498.7 L554.1,1499.6 L555.3,1501.1 L556.4,1502.8 L557.5,1503.7 L558.7,1505.1 L559.8,1506.4 L560.9,1507.9 L562.0,1508.8 L563.2,1510.3 L564.3,1512.2 L565.4,1513.6 L566.6,1515.0 L567.7,1515.6 L568.8,1517.4 L570.0,1518.6 L571.1,1519.8 L572.2,1520.6 L573.4,1521.6 L574.5,1523.8 L575.6,1524.3 L576.8,1526.2 L577.9,1527.3 L579.0,1529.1 L580.1,1530.8 L581.3,1531.5 L582.4,1532.6 L583.5,1534.9 L584.7,1535.7 L585.8,1536.9 L586.9,1538.1 L588.1,1540.1 L589.2,1541.2 L590.3,1542.0 L591.5,1543.0 L592.6,1544.9 L593.7,1545.9 L594.8,1547.6 L596.0,1548.8 L597.1,1550.4 L598.2,1551.7 L599.4,1553.1 L600.5,1554.2 L601.6,1555.2 L602.8,1556.8 L603.9,1558.0 L605.0,1559.8 L606.2,1560.6 L607.3,1563.4 L608.4,1564.1 L609.6,1565.0 L610.7,1566.9 L611.8,1567.3 L612.9,1568.8 L614.1,1570.5 L615.2,1571.5 L616.3,1573.4 L617.5,1574.5 L618.6,1575.6 L619.7,1577.4 L620.9,1577.8 L622.0,1579.7 L623.1,1580.4 L624.3,1582.2 L625.4,1583.3 L626.5,1585.1 L627.7,1586.2 L628.8,1587.6 L629.9,1588.7 L631.0,1589.6 L632.2,1591.6 L633.3,1592.8 L634.4,1593.9 L635.6,1595.1 L636.7,1596.8 L637.8,1598.2 L639.0,1599.6 L640.1,1600.7 L641.2,1601.9 L642.4,1603.6 L643.5,1604.8 L644.6,1605.7 L645.8,1607.3 L646.9,1608.9 L648.0,1609.7 L649.1,1611.1 L650.3,1612.4 L651.4,1613.7 L652.5,1615.4 L653.7,1616.5 L654.8,1617.8 L655.9,1619.2 L657.1,1621.2 L658.2,1621.9 L659.3,1623.1 L660.5,1624.4 L661.6,1626.0 L662.7,1627.2 L663.9,1629.2 L665.0,1630.4 L666.1,1632.3 L667.2,1632.6 L668.4,1633.3 L669.5,1634.6 L670.6,1636.9 L671.8,1637.6 L672.9,1638.7 L674.0,1640.6 L675.2,1642.6 L676.3,1642.6" stroke="#f0842a" stroke-width="4.3" fill="none" stroke-linejoin="round" stroke-linecap="round" />
</g>
<g clip-path="url(#clipG)">
<path d="M136.3,1251.2 L137.5,1281.9 L138.6,1313.6 L139.7,1344.4 L140.9,1368.6 L142.0,1384.8 L143.1,1398.1 L144.3,1408.4 L145.4,1415.8 L146.5,1422.7 L147.7,1428.3 L148.8,1434.2 L149.9,1440.1 L151.0,1444.4 L152.2,1448.1 L153.3,1450.9 L154.4,1453.0 L155.6,1454.4 L156.7,1455.6 L157.8,1457.0 L159.0,1457.2 L160.1,1458.7 L161.2,1458.1 L162.4,1459.8 L163.5,1460.1 L164.6,1460.2 L165.8,1461.2 L166.9,1462.1 L168.0,1462.5 L169.1,1462.3 L170.3,1462.6 L171.4,1462.7 L172.5,1463.2 L173.7,1463.7 L174.8,1463.6 L175.9,1463.4 L177.1,1464.5 L178.2,1463.0 L179.3,1464.7 L180.5,1464.2 L181.6,1464.1 L182.7,1464.7 L183.8,1465.1 L185.0,1465.1 L186.1,1465.0 L187.2,1466.7 L188.4,1465.7 L189.5,1466.2 L190.6,1466.4 L191.8,1466.2 L192.9,1466.3 L194.0,1466.3 L195.2,1466.8 L196.3,1466.2 L197.4,1467.5 L198.6,1467.1 L199.7,1467.3 L200.8,1466.8 L201.9,1467.0 L203.1,1466.7 L204.2,1467.1 L205.3,1466.3 L206.5,1466.5 L207.6,1466.9 L208.7,1467.2 L209.9,1467.0 L211.0,1467.0 L212.1,1465.9 L213.3,1465.9 L214.4,1466.5 L215.5,1465.1 L216.7,1465.8 L217.8,1466.3 L218.9,1464.8 L220.0,1464.5 L221.2,1464.7 L222.3,1464.8 L223.4,1463.8 L224.6,1464.2 L225.7,1463.7 L226.8,1463.3 L228.0,1463.0 L229.1,1463.0 L230.2,1463.0 L231.4,1462.0 L232.5,1462.8 L233.6,1461.5 L234.8,1461.2 L235.9,1460.8 L237.0,1460.8 L238.1,1460.2 L239.3,1459.7 L240.4,1460.0 L241.5,1459.2 L242.7,1458.7 L243.8,1459.0 L244.9,1458.5 L246.1,1457.2 L247.2,1457.0 L248.3,1457.2 L249.5,1456.3 L250.6,1456.0 L251.7,1455.2 L252.9,1454.9 L254.0,1455.8 L255.1,1454.6 L256.2,1453.5 L257.4,1453.0 L258.5,1453.4 L259.6,1453.1 L260.8,1452.1 L261.9,1452.0 L263.0,1451.3 L264.2,1451.3 L265.3,1450.1 L266.4,1449.7 L267.6,1449.3 L268.7,1449.4 L269.8,1449.1 L271.0,1448.4 L272.1,1447.3 L273.2,1447.6 L274.3,1446.2 L275.5,1445.3 L276.6,1445.6 L277.7,1444.9 L278.9,1443.9 L280.0,1443.4 L281.1,1443.4 L282.3,1442.6 L283.4,1441.9 L284.5,1441.4 L285.7,1440.5 L286.8,1439.9 L287.9,1438.9 L289.1,1439.4 L290.2,1437.6 L291.3,1437.1 L292.4,1436.7 L293.6,1435.8 L294.7,1434.8 L295.8,1434.3 L297.0,1433.7 L298.1,1432.7 L299.2,1432.3 L300.4,1431.7 L301.5,1430.7 L302.6,1429.8 L303.8,1428.5 L304.9,1427.4 L306.0,1426.6 L307.1,1425.2 L308.3,1424.8 L309.4,1424.0 L310.5,1423.0 L311.7,1422.0 L312.8,1420.7 L313.9,1419.0 L315.1,1418.8 L316.2,1416.9 L317.3,1415.9 L318.5,1414.4 L319.6,1413.6 L320.7,1411.9 L321.9,1411.0 L323.0,1409.2 L324.1,1408.8 L325.2,1406.5 L326.4,1404.9 L327.5,1404.3 L328.6,1401.9 L329.8,1401.0 L330.9,1398.6 L332.0,1397.3 L333.2,1395.2 L334.3,1393.5 L335.4,1392.1 L336.6,1389.1 L337.7,1387.2 L338.8,1385.9 L340.0,1383.1 L341.1,1380.9 L342.2,1379.0 L343.3,1376.9 L344.5,1373.6 L345.6,1371.9 L346.7,1369.0 L347.9,1366.2 L349.0,1364.1 L350.1,1361.7 L351.3,1358.0 L352.4,1355.7 L353.5,1352.3 L354.7,1347.7 L355.8,1345.8 L356.9,1342.3 L358.1,1339.8 L359.2,1336.7 L360.3,1334.0 L361.4,1332.6 L362.6,1329.4 L363.7,1326.6 L364.8,1324.2 L366.0,1322.2 L367.1,1320.4 L368.2,1317.9 L369.4,1316.2 L370.5,1314.4 L371.6,1312.3 L372.8,1309.7 L373.9,1309.3 L375.0,1307.2 L376.2,1306.2 L377.3,1305.8 L378.4,1304.7 L379.5,1303.7 L380.7,1303.3 L381.8,1302.6 L382.9,1302.7 L384.1,1302.5 L385.2,1301.7 L386.3,1302.0 L387.5,1302.4 L388.6,1302.1 L389.7,1301.6 L390.9,1302.6 L392.0,1303.2 L393.1,1302.6 L394.3,1302.6 L395.4,1303.3 L396.5,1304.7 L397.6,1305.6 L398.8,1305.0 L399.9,1306.2 L401.0,1306.7 L402.2,1307.8 L403.3,1307.9 L404.4,1309.4 L405.6,1310.4 L406.7,1311.1 L407.8,1312.5 L409.0,1313.0 L410.1,1314.0 L411.2,1315.8 L412.4,1316.5 L413.5,1317.6 L414.6,1318.8 L415.7,1319.2 L416.9,1320.0 L418.0,1321.5 L419.1,1323.4 L420.3,1324.8 L421.4,1325.1 L422.5,1326.8 L423.7,1328.1 L424.8,1329.9 L425.9,1331.6 L427.1,1331.5 L428.2,1334.0 L429.3,1335.4 L430.4,1337.3 L431.6,1337.8 L432.7,1340.1 L433.8,1341.6 L435.0,1343.1 L436.1,1344.8 L437.2,1345.9 L438.4,1348.7 L439.5,1349.5 L440.6,1351.6 L441.8,1353.2 L442.9,1355.0 L444.0,1356.3 L445.2,1358.6 L446.3,1360.1 L447.4,1361.4 L448.5,1363.5 L449.7,1365.2 L450.8,1366.6 L451.9,1368.4 L453.1,1370.3 L454.2,1371.8 L455.3,1373.9 L456.5,1374.9 L457.6,1377.3 L458.7,1379.2 L459.9,1380.1 L461.0,1382.4 L462.1,1383.9 L463.3,1385.2 L464.4,1386.5 L465.5,1388.5 L466.6,1390.1 L467.8,1391.6 L468.9,1392.9 L470.0,1394.7 L471.2,1395.9 L472.3,1396.9 L473.4,1399.0 L474.6,1400.5 L475.7,1402.1 L476.8,1403.4 L478.0,1405.0 L479.1,1406.4 L480.2,1407.5 L481.4,1408.6 L482.5,1409.9 L483.6,1411.6 L484.7,1412.6 L485.9,1414.5 L487.0,1414.6 L488.1,1415.8 L489.3,1418.1 L490.4,1419.1 L491.5,1420.6 L492.7,1421.6 L493.8,1423.4 L494.9,1425.0 L496.1,1425.5 L497.2,1427.5 L498.3,1428.2 L499.5,1430.0 L500.6,1431.2 L501.7,1431.8 L502.8,1432.9 L504.0,1434.8 L505.1,1436.2 L506.2,1437.2 L507.4,1438.8 L508.5,1440.5 L509.6,1441.2 L510.8,1443.3 L511.9,1443.6 L513.0,1445.2 L514.2,1446.3 L515.3,1448.2 L516.4,1449.3 L517.6,1450.1 L518.7,1451.2 L519.8,1452.7 L520.9,1454.2 L522.1,1456.1 L523.2,1456.8 L524.3,1458.3 L525.5,1459.7 L526.6,1460.5 L527.7,1462.6 L528.9,1463.0 L530.0,1465.2 L531.1,1466.5 L532.3,1467.6 L533.4,1469.4 L534.5,1470.4 L535.7,1471.5 L536.8,1473.5 L537.9,1474.5 L539.0,1476.1 L540.2,1477.0 L541.3,1477.8 L542.4,1479.7 L543.6,1480.9 L544.7,1482.1 L545.8,1483.9 L547.0,1484.8 L548.1,1486.4 L549.2,1487.7 L550.4,1489.4 L551.5,1490.4 L552.6,1491.1 L553.7,1492.4 L554.9,1494.2 L556.0,1495.4 L557.1,1496.9 L558.3,1498.5 L559.4,1500.1 L560.5,1500.1 L561.7,1502.4 L562.8,1503.3 L563.9,1504.2 L565.1,1506.2 L566.2,1507.5 L567.3,1508.6 L568.5,1510.2 L569.6,1511.3 L570.7,1512.8 L571.8,1513.6 L573.0,1515.2 L574.1,1517.1 L575.2,1518.5 L576.4,1519.6 L577.5,1520.9 L578.6,1522.2 L579.8,1523.0 L580.9,1524.9 L582.0,1526.1 L583.2,1527.2 L584.3,1529.3 L585.4,1529.8 L586.6,1531.1 L587.7,1532.1 L588.8,1534.3 L589.9,1535.4 L591.1,1536.5 L592.2,1538.0 L593.3,1539.8 L594.5,1540.2 L595.6,1542.0 L596.7,1543.1 L597.9,1544.9 L599.0,1545.5 L600.1,1547.3 L601.3,1548.8 L602.4,1549.5 L603.5,1550.8 L604.7,1552.8 L605.8,1553.5 L606.9,1554.6 L608.0,1556.4 L609.2,1558.3 L610.3,1558.9 L611.4,1560.1 L612.6,1562.1 L613.7,1562.5 L614.8,1564.5 L616.0,1565.8 L617.1,1566.7 L618.2,1568.3 L619.4,1569.3 L620.5,1571.1 L621.6,1572.2 L622.8,1573.7 L623.9,1575.0 L625.0,1576.2 L626.1,1577.5 L627.3,1579.1 L628.4,1580.0 L629.5,1581.7 L630.7,1582.6 L631.8,1584.1 L632.9,1585.7 L634.1,1587.3 L635.2,1588.3 L636.3,1589.1 L637.5,1590.9 L638.6,1591.9 L639.7,1593.7 L640.9,1595.1 L642.0,1596.5 L643.1,1598.3 L644.2,1598.8 L645.4,1600.2 L646.5,1601.6 L647.6,1602.6 L648.8,1604.6 L649.9,1604.9 L651.0,1607.4 L652.2,1608.1 L653.3,1610.0 L654.4,1611.0 L655.6,1611.8 L656.7,1614.1 L657.8,1614.8 L659.0,1616.1 L660.1,1617.4 L661.2,1618.7 L662.3,1619.9 L663.5,1621.3 L664.6,1622.7 L665.7,1623.8 L666.9,1625.2 L668.0,1626.8 L669.1,1628.6 L670.3,1629.2 L671.4,1630.9 L672.5,1631.5 L673.7,1633.6 L674.8,1635.2 L675.9,1635.7" stroke="#e8a832" stroke-width="4.3" fill="none" stroke-linejoin="round" stroke-linecap="round" />
</g>
<g clip-path="url(#clipG)">
<path d="M136.3,1257.7 L137.5,1285.0 L138.6,1312.6 L139.7,1342.0 L140.9,1367.4 L142.0,1390.8 L143.1,1407.4 L144.3,1420.2 L145.4,1430.5 L146.5,1437.1 L147.7,1442.8 L148.8,1447.0 L149.9,1451.0 L151.0,1454.8 L152.2,1459.0 L153.3,1462.0 L154.4,1463.7 L155.6,1466.3 L156.7,1468.0 L157.8,1470.1 L159.0,1471.1 L160.1,1471.6 L161.2,1472.0 L162.4,1472.3 L163.5,1471.9 L164.6,1473.8 L165.8,1473.9 L166.9,1473.9 L168.0,1474.4 L169.1,1474.4 L170.3,1475.2 L171.4,1475.7 L172.5,1474.8 L173.7,1475.7 L174.8,1476.4 L175.9,1476.3 L177.1,1476.4 L178.2,1477.0 L179.3,1476.3 L180.5,1476.6 L181.6,1476.9 L182.7,1477.1 L183.8,1476.3 L185.0,1477.0 L186.1,1477.3 L187.2,1477.8 L188.4,1477.4 L189.5,1476.8 L190.6,1476.5 L191.8,1477.5 L192.9,1477.8 L194.0,1477.1 L195.2,1477.1 L196.3,1476.8 L197.4,1477.4 L198.6,1477.1 L199.7,1477.9 L200.8,1477.7 L201.9,1477.5 L203.1,1477.5 L204.2,1477.1 L205.3,1476.9 L206.5,1477.9 L207.6,1476.8 L208.7,1477.8 L209.9,1477.7 L211.0,1477.1 L212.1,1478.4 L213.3,1478.1 L214.4,1477.9 L215.5,1477.6 L216.7,1477.2 L217.8,1477.2 L218.9,1478.0 L220.0,1477.4 L221.2,1477.8 L222.3,1477.1 L223.4,1477.7 L224.6,1477.2 L225.7,1477.9 L226.8,1477.2 L228.0,1478.0 L229.1,1477.4 L230.2,1478.0 L231.4,1477.4 L232.5,1477.6 L233.6,1477.6 L234.8,1477.1 L235.9,1476.8 L237.0,1477.0 L238.1,1476.8 L239.3,1476.6 L240.4,1476.3 L241.5,1476.3 L242.7,1476.4 L243.8,1475.7 L244.9,1476.5 L246.1,1475.8 L247.2,1476.4 L248.3,1475.0 L249.5,1475.8 L250.6,1475.5 L251.7,1474.8 L252.9,1475.2 L254.0,1475.3 L255.1,1475.5 L256.2,1474.7 L257.4,1473.7 L258.5,1474.1 L259.6,1473.3 L260.8,1473.5 L261.9,1473.7 L263.0,1473.8 L264.2,1473.1 L265.3,1472.6 L266.4,1472.7 L267.6,1472.3 L268.7,1471.9 L269.8,1471.9 L271.0,1472.1 L272.1,1471.4 L273.2,1470.8 L274.3,1471.0 L275.5,1470.8 L276.6,1470.5 L277.7,1469.9 L278.9,1469.5 L280.0,1469.2 L281.1,1469.3 L282.3,1468.5 L283.4,1468.4 L284.5,1468.2 L285.7,1468.2 L286.8,1467.5 L287.9,1467.0 L289.1,1466.4 L290.2,1465.9 L291.3,1465.6 L292.4,1465.2 L293.6,1465.3 L294.7,1464.2 L295.8,1463.7 L297.0,1463.4 L298.1,1463.4 L299.2,1462.8 L300.4,1462.5 L301.5,1462.4 L302.6,1461.6 L303.8,1461.6 L304.9,1461.2 L306.0,1459.9 L307.1,1459.4 L308.3,1458.9 L309.4,1458.9 L310.5,1458.3 L311.7,1457.6 L312.8,1457.5 L313.9,1457.7 L315.1,1455.6 L316.2,1455.5 L317.3,1455.1 L318.5,1455.0 L319.6,1454.9 L320.7,1454.0 L321.9,1453.5 L323.0,1453.6 L324.1,1452.8 L325.2,1451.9 L326.4,1451.0 L327.5,1450.8 L328.6,1450.7 L329.8,1450.5 L330.9,1448.7 L332.0,1448.9 L333.2,1448.1 L334.3,1447.8 L335.4,1447.7 L336.6,1445.8 L337.7,1445.8 L338.8,1445.0 L340.0,1445.1 L341.1,1444.2 L342.2,1443.1 L343.3,1443.1 L344.5,1442.5 L345.6,1442.0 L346.7,1441.4 L347.9,1439.9 L349.0,1439.6 L350.1,1439.5 L351.3,1437.5 L352.4,1436.9 L353.5,1436.1 L354.7,1436.5 L355.8,1435.0 L356.9,1433.7 L358.1,1433.8 L359.2,1432.8 L360.3,1431.7 L361.4,1431.4 L362.6,1429.4 L363.7,1428.0 L364.8,1426.8 L366.0,1425.1 L367.1,1424.1 L368.2,1422.6 L369.4,1421.1 L370.5,1419.6 L371.6,1418.0 L372.8,1416.0 L373.9,1414.0 L375.0,1412.2 L376.2,1410.0 L377.3,1408.1 L378.4,1405.8 L379.5,1404.2 L380.7,1402.7 L381.8,1400.0 L382.9,1396.4 L384.1,1394.2 L385.2,1391.8 L386.3,1388.9 L387.5,1385.9 L388.6,1383.1 L389.7,1379.9 L390.9,1376.8 L392.0,1373.8 L393.1,1371.7 L394.3,1369.1 L395.4,1366.7 L396.5,1364.2 L397.6,1361.6 L398.8,1360.0 L399.9,1356.7 L401.0,1355.2 L402.2,1352.9 L403.3,1351.6 L404.4,1349.5 L405.6,1347.7 L406.7,1345.7 L407.8,1344.8 L409.0,1342.3 L410.1,1341.6 L411.2,1339.5 L412.4,1338.1 L413.5,1337.5 L414.6,1336.8 L415.7,1336.1 L416.9,1335.6 L418.0,1335.0 L419.1,1334.4 L420.3,1334.2 L421.4,1333.7 L422.5,1334.0 L423.7,1334.1 L424.8,1334.1 L425.9,1334.5 L427.1,1334.4 L428.2,1334.7 L429.3,1334.2 L430.4,1335.1 L431.6,1335.2 L432.7,1337.1 L433.8,1336.8 L435.0,1337.2 L436.1,1338.1 L437.2,1339.1 L438.4,1339.6 L439.5,1340.4 L440.6,1341.2 L441.8,1342.0 L442.9,1342.6 L444.0,1343.8 L445.2,1344.7 L446.3,1345.7 L447.4,1346.5 L448.5,1347.8 L449.7,1348.3 L450.8,1349.5 L451.9,1350.0 L453.1,1351.4 L454.2,1352.1 L455.3,1353.1 L456.5,1354.4 L457.6,1354.6 L458.7,1355.9 L459.9,1357.2 L461.0,1358.0 L462.1,1359.9 L463.3,1361.2 L464.4,1362.4 L465.5,1363.5 L466.6,1366.0 L467.8,1367.1 L468.9,1369.3 L470.0,1371.4 L471.2,1372.6 L472.3,1374.1 L473.4,1376.2 L474.6,1377.9 L475.7,1380.3 L476.8,1382.5 L478.0,1383.4 L479.1,1385.9 L480.2,1387.2 L481.4,1389.3 L482.5,1390.8 L483.6,1392.4 L484.7,1395.2 L485.9,1396.5 L487.0,1398.4 L488.1,1399.7 L489.3,1402.0 L490.4,1404.1 L491.5,1405.9 L492.7,1406.9 L493.8,1409.7 L494.9,1411.1 L496.1,1412.9 L497.2,1415.2 L498.3,1416.8 L499.5,1419.0 L500.6,1420.3 L501.7,1421.5 L502.8,1423.4 L504.0,1425.8 L505.1,1426.3 L506.2,1428.9 L507.4,1430.4 L508.5,1431.0 L509.6,1433.0 L510.8,1434.7 L511.9,1435.6 L513.0,1437.7 L514.2,1439.0 L515.3,1440.8 L516.4,1442.0 L517.6,1443.4 L518.7,1444.4 L519.8,1446.4 L520.9,1447.6 L522.1,1449.7 L523.2,1450.9 L524.3,1451.3 L525.5,1453.1 L526.6,1454.3 L527.7,1455.3 L528.9,1456.9 L530.0,1458.1 L531.1,1459.5 L532.3,1461.4 L533.4,1461.7 L534.5,1462.7 L535.7,1464.0 L536.8,1465.7 L537.9,1466.9 L539.0,1468.1 L540.2,1468.9 L541.3,1470.3 L542.4,1472.1 L543.6,1473.3 L544.7,1474.6 L545.8,1476.0 L547.0,1477.3 L548.1,1478.4 L549.2,1480.5 L550.4,1480.8 L551.5,1482.4 L552.6,1484.0 L553.7,1484.9 L554.9,1486.4 L556.0,1487.1 L557.1,1489.2 L558.3,1490.1 L559.4,1491.4 L560.5,1493.1 L561.7,1494.6 L562.8,1495.3 L563.9,1496.9 L565.1,1498.5 L566.2,1500.0 L567.3,1500.5 L568.5,1501.5 L569.6,1503.6 L570.7,1504.6 L571.8,1505.7 L573.0,1507.0 L574.1,1508.9 L575.2,1509.9 L576.4,1511.1 L577.5,1511.8 L578.6,1513.9 L579.8,1515.0 L580.9,1516.4 L582.0,1517.8 L583.2,1519.7 L584.3,1520.5 L585.4,1521.4 L586.6,1523.4 L587.7,1524.5 L588.8,1526.2 L589.9,1527.2 L591.1,1528.5 L592.2,1529.7 L593.3,1531.4 L594.5,1532.7 L595.6,1534.1 L596.7,1535.1 L597.9,1536.5 L599.0,1537.1 L600.1,1539.4 L601.3,1540.3 L602.4,1542.1 L603.5,1543.4 L604.7,1544.1 L605.8,1545.7 L606.9,1547.0 L608.0,1549.0 L609.2,1548.9 L610.3,1550.4 L611.4,1552.7 L612.6,1554.3 L613.7,1555.4 L614.8,1556.4 L616.0,1558.1 L617.1,1559.0 L618.2,1560.7 L619.4,1560.8 L620.5,1563.2 L621.6,1564.6 L622.8,1565.0 L623.9,1567.0 L625.0,1568.4 L626.1,1569.7 L627.3,1570.9 L628.4,1572.5 L629.5,1573.7 L630.7,1575.2 L631.8,1576.8 L632.9,1577.8 L634.1,1579.0 L635.2,1579.8 L636.3,1581.6 L637.5,1583.1 L638.6,1584.3 L639.7,1585.4 L640.9,1587.8 L642.0,1588.5 L643.1,1590.4 L644.2,1591.6 L645.4,1592.6 L646.5,1593.7 L647.6,1594.9 L648.8,1596.2 L649.9,1597.1 L651.0,1598.8 L652.2,1600.1 L653.3,1601.7 L654.4,1602.2 L655.6,1603.8 L656.7,1605.8 L657.8,1607.1 L659.0,1607.9 L660.1,1609.2 L661.2,1611.0 L662.3,1611.8 L663.5,1613.9 L664.6,1614.9 L665.7,1615.8 L666.9,1617.7 L668.0,1618.8 L669.1,1620.2 L670.3,1621.6 L671.4,1623.5 L672.5,1624.2 L673.7,1625.4 L674.8,1626.7 L675.9,1627.8" stroke="#a6e33a" stroke-width="4.3" fill="none" stroke-linejoin="round" stroke-linecap="round" />
</g>
<g clip-path="url(#clipG)">
<path d="M136.3,1263.5 L137.5,1291.5 L138.6,1320.8 L139.7,1349.2 L140.9,1376.4 L142.0,1399.5 L143.1,1416.6 L144.3,1428.4 L145.4,1437.2 L146.5,1443.9 L147.7,1448.3 L148.8,1452.1 L149.9,1455.8 L151.0,1459.2 L152.2,1464.0 L153.3,1466.6 L154.4,1470.2 L155.6,1472.6 L156.7,1474.1 L157.8,1476.7 L159.0,1477.9 L160.1,1479.0 L161.2,1479.4 L162.4,1479.7 L163.5,1479.8 L164.6,1480.9 L165.8,1480.8 L166.9,1481.9 L168.0,1481.1 L169.1,1482.3 L170.3,1482.6 L171.4,1482.5 L172.5,1482.8 L173.7,1483.1 L174.8,1483.8 L175.9,1483.0 L177.1,1483.1 L178.2,1483.6 L179.3,1483.9 L180.5,1483.5 L181.6,1483.2 L182.7,1484.2 L183.8,1484.0 L185.0,1483.6 L186.1,1483.9 L187.2,1483.7 L188.4,1483.6 L189.5,1483.2 L190.6,1483.2 L191.8,1483.1 L192.9,1483.1 L194.0,1483.6 L195.2,1484.3 L196.3,1483.3 L197.4,1483.3 L198.6,1483.3 L199.7,1483.7 L200.8,1482.9 L201.9,1484.2 L203.1,1483.4 L204.2,1483.6 L205.3,1483.6 L206.5,1483.5 L207.6,1483.9 L208.7,1484.0 L209.9,1484.3 L211.0,1484.0 L212.1,1484.3 L213.3,1484.2 L214.4,1485.0 L215.5,1485.2 L216.7,1484.7 L217.8,1484.6 L218.9,1485.4 L220.0,1485.3 L221.2,1485.2 L222.3,1485.0 L223.4,1485.1 L224.6,1484.9 L225.7,1485.4 L226.8,1485.3 L228.0,1485.0 L229.1,1485.7 L230.2,1484.8 L231.4,1485.8 L232.5,1485.7 L233.6,1486.5 L234.8,1485.9 L235.9,1486.2 L237.0,1486.3 L238.1,1486.0 L239.3,1486.6 L240.4,1486.2 L241.5,1487.0 L242.7,1486.5 L243.8,1485.9 L244.9,1486.4 L246.1,1486.3 L247.2,1486.9 L248.3,1487.1 L249.5,1486.2 L250.6,1486.4 L251.7,1486.5 L252.9,1486.8 L254.0,1486.4 L255.1,1487.0 L256.2,1486.7 L257.4,1486.7 L258.5,1487.3 L259.6,1486.5 L260.8,1487.0 L261.9,1486.8 L263.0,1487.7 L264.2,1487.6 L265.3,1487.3 L266.4,1487.0 L267.6,1486.8 L268.7,1487.1 L269.8,1487.3 L271.0,1487.1 L272.1,1487.4 L273.2,1487.3 L274.3,1487.2 L275.5,1487.7 L276.6,1487.3 L277.7,1488.0 L278.9,1487.8 L280.0,1487.3 L281.1,1487.8 L282.3,1487.4 L283.4,1487.5 L284.5,1487.7 L285.7,1487.1 L286.8,1487.5 L287.9,1487.9 L289.1,1487.9 L290.2,1487.7 L291.3,1488.3 L292.4,1487.3 L293.6,1487.8 L294.7,1488.3 L295.8,1488.1 L297.0,1487.2 L298.1,1487.6 L299.2,1486.9 L300.4,1487.6 L301.5,1487.4 L302.6,1486.8 L303.8,1486.6 L304.9,1487.6 L306.0,1486.9 L307.1,1487.5 L308.3,1487.2 L309.4,1487.5 L310.5,1486.5 L311.7,1487.0 L312.8,1486.7 L313.9,1485.6 L315.1,1485.8 L316.2,1485.9 L317.3,1486.3 L318.5,1485.3 L319.6,1486.0 L320.7,1485.2 L321.9,1484.4 L323.0,1484.0 L324.1,1483.9 L325.2,1483.3 L326.4,1483.2 L327.5,1483.1 L328.6,1482.4 L329.8,1481.4 L330.9,1481.6 L332.0,1481.0 L333.2,1480.5 L334.3,1480.7 L335.4,1480.1 L336.6,1479.7 L337.7,1478.6 L338.8,1478.3 L340.0,1478.1 L341.1,1477.6 L342.2,1476.3 L343.3,1475.7 L344.5,1475.3 L345.6,1474.9 L346.7,1474.2 L347.9,1473.8 L349.0,1473.2 L350.1,1472.9 L351.3,1472.5 L352.4,1471.9 L353.5,1471.0 L354.7,1469.9 L355.8,1470.3 L356.9,1469.9 L358.1,1468.7 L359.2,1468.2 L360.3,1468.2 L361.4,1467.7 L362.6,1467.1 L363.7,1466.3 L364.8,1464.8 L366.0,1465.6 L367.1,1464.7 L368.2,1464.5 L369.4,1463.7 L370.5,1463.1 L371.6,1462.5 L372.8,1462.4 L373.9,1461.8 L375.0,1460.5 L376.2,1460.2 L377.3,1459.6 L378.4,1458.8 L379.5,1458.6 L380.7,1457.2 L381.8,1457.3 L382.9,1456.7 L384.1,1456.1 L385.2,1455.1 L386.3,1453.4 L387.5,1453.7 L388.6,1452.8 L389.7,1451.6 L390.9,1451.4 L392.0,1450.8 L393.1,1449.5 L394.3,1448.3 L395.4,1447.6 L396.5,1445.8 L397.6,1444.3 L398.8,1442.1 L399.9,1441.0 L401.0,1439.7 L402.2,1438.2 L403.3,1436.6 L404.4,1435.2 L405.6,1432.8 L406.7,1431.7 L407.8,1429.1 L409.0,1426.5 L410.1,1425.3 L411.2,1423.0 L412.4,1421.4 L413.5,1419.6 L414.6,1416.6 L415.7,1414.5 L416.9,1411.9 L418.0,1409.6 L419.1,1407.1 L420.3,1405.1 L421.4,1402.5 L422.5,1400.0 L423.7,1398.4 L424.8,1396.2 L425.9,1393.8 L427.1,1392.1 L428.2,1390.4 L429.3,1389.0 L430.4,1386.7 L431.6,1384.3 L432.7,1383.2 L433.8,1381.4 L435.0,1380.0 L436.1,1378.2 L437.2,1376.7 L438.4,1375.2 L439.5,1374.2 L440.6,1373.2 L441.8,1371.0 L442.9,1370.8 L444.0,1370.3 L445.2,1369.4 L446.3,1368.6 L447.4,1367.9 L448.5,1367.8 L449.7,1367.7 L450.8,1367.1 L451.9,1367.6 L453.1,1367.4 L454.2,1366.5 L455.3,1366.8 L456.5,1367.0 L457.6,1367.3 L458.7,1367.7 L459.9,1367.5 L461.0,1367.9 L462.1,1367.7 L463.3,1369.1 L464.4,1369.3 L465.5,1370.0 L466.6,1370.8 L467.8,1370.4 L468.9,1371.2 L470.0,1372.3 L471.2,1373.4 L472.3,1373.4 L473.4,1374.0 L474.6,1375.0 L475.7,1376.0 L476.8,1375.5 L478.0,1377.4 L479.1,1377.3 L480.2,1378.8 L481.4,1379.6 L482.5,1380.1 L483.6,1381.9 L484.7,1382.8 L485.9,1383.9 L487.0,1384.8 L488.1,1386.3 L489.3,1388.1 L490.4,1390.1 L491.5,1390.7 L492.7,1392.8 L493.8,1394.1 L494.9,1396.4 L496.1,1397.5 L497.2,1398.8 L498.3,1400.8 L499.5,1402.1 L500.6,1403.5 L501.7,1405.1 L502.8,1407.5 L504.0,1409.6 L505.1,1411.6 L506.2,1412.6 L507.4,1414.8 L508.5,1415.8 L509.6,1418.4 L510.8,1419.0 L511.9,1421.1 L513.0,1423.5 L514.2,1424.5 L515.3,1426.1 L516.4,1427.9 L517.6,1429.8 L518.7,1431.3 L519.8,1433.0 L520.9,1435.0 L522.1,1436.5 L523.2,1438.7 L524.3,1439.6 L525.5,1442.0 L526.6,1443.2 L527.7,1445.1 L528.9,1445.9 L530.0,1447.7 L531.1,1449.7 L532.3,1450.7 L533.4,1452.4 L534.5,1453.5 L535.7,1455.2 L536.8,1456.6 L537.9,1458.1 L539.0,1460.0 L540.2,1460.7 L541.3,1462.0 L542.4,1463.9 L543.6,1464.8 L544.7,1465.9 L545.8,1467.3 L547.0,1468.5 L548.1,1470.0 L549.2,1471.8 L550.4,1472.1 L551.5,1474.2 L552.6,1475.7 L553.7,1476.3 L554.9,1478.3 L556.0,1479.1 L557.1,1480.9 L558.3,1481.5 L559.4,1482.8 L560.5,1484.6 L561.7,1485.6 L562.8,1486.8 L563.9,1488.3 L565.1,1489.4 L566.2,1490.9 L567.3,1492.4 L568.5,1493.8 L569.6,1494.6 L570.7,1495.8 L571.8,1497.0 L573.0,1498.4 L574.1,1499.6 L575.2,1501.3 L576.4,1501.9 L577.5,1504.1 L578.6,1504.9 L579.8,1506.5 L580.9,1507.9 L582.0,1508.4 L583.2,1510.3 L584.3,1512.2 L585.4,1513.0 L586.6,1514.6 L587.7,1515.1 L588.8,1517.4 L589.9,1518.4 L591.1,1519.9 L592.2,1521.3 L593.3,1522.1 L594.5,1523.3 L595.6,1524.6 L596.7,1526.4 L597.9,1527.9 L599.0,1528.8 L600.1,1530.5 L601.3,1531.1 L602.4,1533.5 L603.5,1534.2 L604.7,1536.1 L605.8,1537.3 L606.9,1538.9 L608.0,1540.1 L609.2,1540.8 L610.3,1542.6 L611.4,1544.0 L612.6,1545.4 L613.7,1546.6 L614.8,1547.8 L616.0,1548.6 L617.1,1550.3 L618.2,1551.6 L619.4,1553.0 L620.5,1554.0 L621.6,1555.9 L622.8,1556.8 L623.9,1558.6 L625.0,1559.9 L626.1,1560.7 L627.3,1562.2 L628.4,1563.6 L629.5,1565.2 L630.7,1566.0 L631.8,1566.8 L632.9,1568.7 L634.1,1570.0 L635.2,1571.5 L636.3,1572.4 L637.5,1574.3 L638.6,1574.4 L639.7,1576.7 L640.9,1578.1 L642.0,1579.0 L643.1,1581.2 L644.2,1582.4 L645.4,1583.7 L646.5,1584.8 L647.6,1585.5 L648.8,1587.8 L649.9,1587.9 L651.0,1589.7 L652.2,1590.8 L653.3,1592.6 L654.4,1594.6 L655.6,1595.8 L656.7,1596.2 L657.8,1598.1 L659.0,1599.2 L660.1,1600.6 L661.2,1601.5 L662.3,1602.9 L663.5,1604.5 L664.6,1605.9 L665.7,1607.0 L666.9,1609.0 L668.0,1610.2 L669.1,1611.8 L670.3,1612.9 L671.4,1614.5 L672.5,1615.0 L673.7,1616.7 L674.8,1617.3 L675.9,1619.4" stroke="#0fcc18" stroke-width="4.3" fill="none" stroke-linejoin="round" stroke-linecap="round" />
</g>
<g clip-path="url(#clipG)">
<path d="M136.3,1274.6 L137.5,1302.2 L138.6,1330.8 L139.7,1359.7 L140.9,1386.7 L142.0,1408.9 L143.1,1425.7 L144.3,1437.2 L145.4,1445.5 L146.5,1450.3 L147.7,1454.8 L148.8,1457.8 L149.9,1460.2 L151.0,1464.2 L152.2,1468.1 L153.3,1471.1 L154.4,1473.6 L155.6,1476.1 L156.7,1477.7 L157.8,1479.7 L159.0,1481.0 L160.1,1481.1 L161.2,1481.3 L162.4,1481.9 L163.5,1482.9 L164.6,1483.0 L165.8,1483.6 L166.9,1483.3 L168.0,1484.1 L169.1,1484.4 L170.3,1484.2 L171.4,1484.8 L172.5,1485.5 L173.7,1486.2 L174.8,1486.3 L175.9,1486.9 L177.1,1486.1 L178.2,1487.0 L179.3,1486.9 L180.5,1487.4 L181.6,1487.9 L182.7,1487.8 L183.8,1488.0 L185.0,1488.3 L186.1,1488.5 L187.2,1488.6 L188.4,1489.2 L189.5,1489.1 L190.6,1489.4 L191.8,1489.7 L192.9,1489.5 L194.0,1490.5 L195.2,1490.3 L196.3,1490.1 L197.4,1489.6 L198.6,1490.1 L199.7,1490.7 L200.8,1490.0 L201.9,1490.6 L203.1,1491.0 L204.2,1490.9 L205.3,1490.5 L206.5,1490.8 L207.6,1491.5 L208.7,1491.7 L209.9,1491.2 L211.0,1491.9 L212.1,1491.8 L213.3,1491.5 L214.4,1492.2 L215.5,1492.2 L216.7,1491.9 L217.8,1492.2 L218.9,1491.7 L220.0,1492.3 L221.2,1492.2 L222.3,1492.2 L223.4,1492.8 L224.6,1492.4 L225.7,1492.3 L226.8,1492.9 L228.0,1493.2 L229.1,1493.2 L230.2,1492.7 L231.4,1493.3 L232.5,1493.6 L233.6,1494.0 L234.8,1493.7 L235.9,1494.2 L237.0,1493.6 L238.1,1494.3 L239.3,1494.6 L240.4,1493.9 L241.5,1494.2 L242.7,1494.3 L243.8,1494.9 L244.9,1494.4 L246.1,1494.7 L247.2,1494.8 L248.3,1494.7 L249.5,1494.7 L250.6,1495.2 L251.7,1494.7 L252.9,1495.2 L254.0,1495.5 L255.1,1495.3 L256.2,1495.5 L257.4,1495.2 L258.5,1495.7 L259.6,1495.9 L260.8,1495.9 L261.9,1495.7 L263.0,1496.6 L264.2,1496.6 L265.3,1496.3 L266.4,1496.1 L267.6,1496.1 L268.7,1496.5 L269.8,1497.0 L271.0,1497.3 L272.1,1496.7 L273.2,1496.8 L274.3,1496.6 L275.5,1496.4 L276.6,1497.1 L277.7,1496.4 L278.9,1497.0 L280.0,1497.0 L281.1,1496.9 L282.3,1497.7 L283.4,1496.2 L284.5,1497.2 L285.7,1496.7 L286.8,1497.4 L287.9,1497.7 L289.1,1497.6 L290.2,1497.6 L291.3,1497.9 L292.4,1498.1 L293.6,1497.0 L294.7,1497.5 L295.8,1497.2 L297.0,1496.9 L298.1,1497.5 L299.2,1497.3 L300.4,1497.0 L301.5,1497.2 L302.6,1497.2 L303.8,1497.6 L304.9,1497.6 L306.0,1497.0 L307.1,1497.3 L308.3,1496.9 L309.4,1496.9 L310.5,1497.0 L311.7,1496.9 L312.8,1497.0 L313.9,1496.6 L315.1,1497.7 L316.2,1497.2 L317.3,1496.7 L318.5,1496.2 L319.6,1497.3 L320.7,1496.8 L321.9,1496.4 L323.0,1496.0 L324.1,1496.5 L325.2,1497.0 L326.4,1496.1 L327.5,1495.8 L328.6,1495.9 L329.8,1495.8 L330.9,1495.6 L332.0,1496.0 L333.2,1495.4 L334.3,1495.2 L335.4,1495.4 L336.6,1495.6 L337.7,1495.4 L338.8,1494.8 L340.0,1495.2 L341.1,1494.4 L342.2,1494.6 L343.3,1494.7 L344.5,1494.2 L345.6,1494.4 L346.7,1493.5 L347.9,1493.6 L349.0,1494.3 L350.1,1494.0 L351.3,1494.5 L352.4,1493.4 L353.5,1493.4 L354.7,1493.3 L355.8,1493.8 L356.9,1492.6 L358.1,1492.6 L359.2,1493.0 L360.3,1492.9 L361.4,1492.7 L362.6,1492.1 L363.7,1492.1 L364.8,1492.1 L366.0,1492.0 L367.1,1492.2 L368.2,1491.7 L369.4,1491.9 L370.5,1490.8 L371.6,1490.9 L372.8,1490.7 L373.9,1490.6 L375.0,1490.6 L376.2,1490.7 L377.3,1490.1 L378.4,1489.7 L379.5,1489.4 L380.7,1488.6 L381.8,1488.3 L382.9,1488.8 L384.1,1488.4 L385.2,1487.5 L386.3,1488.4 L387.5,1487.4 L388.6,1486.8 L389.7,1486.7 L390.9,1486.6 L392.0,1485.9 L393.1,1486.1 L394.3,1485.8 L395.4,1485.1 L396.5,1484.9 L397.6,1484.2 L398.8,1483.6 L399.9,1483.1 L401.0,1484.0 L402.2,1482.5 L403.3,1482.0 L404.4,1481.3 L405.6,1481.1 L406.7,1480.5 L407.8,1479.6 L409.0,1479.4 L410.1,1479.0 L411.2,1477.4 L412.4,1476.6 L413.5,1476.5 L414.6,1474.9 L415.7,1474.8 L416.9,1473.5 L418.0,1473.2 L419.1,1471.8 L420.3,1471.1 L421.4,1470.1 L422.5,1468.8 L423.7,1467.7 L424.8,1467.2 L425.9,1465.2 L427.1,1465.0 L428.2,1464.2 L429.3,1462.6 L430.4,1460.6 L431.6,1460.3 L432.7,1459.4 L433.8,1457.9 L435.0,1456.2 L436.1,1454.7 L437.2,1453.2 L438.4,1451.3 L439.5,1449.3 L440.6,1448.2 L441.8,1446.3 L442.9,1444.6 L444.0,1442.6 L445.2,1440.4 L446.3,1438.9 L447.4,1437.6 L448.5,1435.2 L449.7,1433.2 L450.8,1431.9 L451.9,1429.5 L453.1,1427.9 L454.2,1426.9 L455.3,1424.6 L456.5,1423.0 L457.6,1420.9 L458.7,1419.2 L459.9,1417.1 L461.0,1415.3 L462.1,1414.6 L463.3,1412.1 L464.4,1411.1 L465.5,1409.4 L466.6,1408.7 L467.8,1408.3 L468.9,1406.5 L470.0,1405.3 L471.2,1404.3 L472.3,1403.5 L473.4,1403.0 L474.6,1402.2 L475.7,1401.4 L476.8,1400.7 L478.0,1399.7 L479.1,1399.0 L480.2,1398.3 L481.4,1398.0 L482.5,1397.8 L483.6,1397.2 L484.7,1397.1 L485.9,1397.3 L487.0,1396.5 L488.1,1396.9 L489.3,1397.1 L490.4,1396.9 L491.5,1397.5 L492.7,1397.9 L493.8,1397.9 L494.9,1398.7 L496.1,1399.4 L497.2,1400.3 L498.3,1401.8 L499.5,1402.6 L500.6,1402.7 L501.7,1402.2 L502.8,1403.8 L504.0,1404.5 L505.1,1404.8 L506.2,1405.2 L507.4,1406.2 L508.5,1406.9 L509.6,1407.7 L510.8,1408.8 L511.9,1409.7 L513.0,1411.3 L514.2,1411.5 L515.3,1412.7 L516.4,1413.8 L517.6,1414.9 L518.7,1417.1 L519.8,1418.5 L520.9,1419.3 L522.1,1421.6 L523.2,1422.5 L524.3,1424.1 L525.5,1425.4 L526.6,1427.5 L527.7,1428.5 L528.9,1430.8 L530.0,1431.7 L531.1,1433.6 L532.3,1435.3 L533.4,1436.7 L534.5,1438.0 L535.7,1440.5 L536.8,1441.8 L537.9,1443.8 L539.0,1444.7 L540.2,1446.5 L541.3,1448.7 L542.4,1450.1 L543.6,1452.1 L544.7,1453.4 L545.8,1454.7 L547.0,1456.9 L548.1,1458.3 L549.2,1460.6 L550.4,1461.0 L551.5,1463.6 L552.6,1464.8 L553.7,1466.6 L554.9,1467.6 L556.0,1469.7 L557.1,1471.3 L558.3,1473.2 L559.4,1473.8 L560.5,1476.3 L561.7,1476.7 L562.8,1478.2 L563.9,1479.5 L565.1,1481.9 L566.2,1483.2 L567.3,1484.3 L568.5,1485.4 L569.6,1487.6 L570.7,1488.1 L571.8,1490.3 L573.0,1491.0 L574.1,1492.6 L575.2,1493.9 L576.4,1495.4 L577.5,1496.4 L578.6,1498.6 L579.8,1498.9 L580.9,1500.8 L582.0,1502.0 L583.2,1503.5 L584.3,1504.3 L585.4,1505.7 L586.6,1507.3 L587.7,1508.7 L588.8,1509.0 L589.9,1511.1 L591.1,1512.1 L592.2,1513.7 L593.3,1514.5 L594.5,1515.6 L595.6,1517.0 L596.7,1518.1 L597.9,1519.4 L599.0,1522.0 L600.1,1522.8 L601.3,1524.3 L602.4,1524.9 L603.5,1526.3 L604.7,1528.2 L605.8,1528.5 L606.9,1530.3 L608.0,1531.1 L609.2,1533.2 L610.3,1534.0 L611.4,1535.2 L612.6,1537.1 L613.7,1538.2 L614.8,1539.7 L616.0,1541.1 L617.1,1542.2 L618.2,1544.3 L619.4,1544.7 L620.5,1546.2 L621.6,1548.1 L622.8,1548.7 L623.9,1551.0 L625.0,1552.0 L626.1,1552.5 L627.3,1554.1 L628.4,1555.8 L629.5,1556.4 L630.7,1558.3 L631.8,1559.6 L632.9,1560.9 L634.1,1562.0 L635.2,1563.4 L636.3,1565.2 L637.5,1566.3 L638.6,1567.3 L639.7,1568.4 L640.9,1570.1 L642.0,1571.2 L643.1,1572.5 L644.2,1574.5 L645.4,1575.6 L646.5,1576.0 L647.6,1578.2 L648.8,1579.2 L649.9,1581.2 L651.0,1581.0 L652.2,1583.7 L653.3,1584.5 L654.4,1585.9 L655.6,1588.0 L656.7,1588.8 L657.8,1589.7 L659.0,1591.6 L660.1,1592.4 L661.2,1594.2 L662.3,1594.9 L663.5,1595.9 L664.6,1598.4 L665.7,1599.2 L666.9,1600.9 L668.0,1602.4 L669.1,1603.3 L670.3,1604.6 L671.4,1605.8 L672.5,1607.2 L673.7,1609.4 L674.8,1610.2 L675.9,1612.1" stroke="#19a9f2" stroke-width="4.3" fill="none" stroke-linejoin="round" stroke-linecap="round" />
</g>
<g clip-path="url(#clipG)">
<path d="M136.3,1283.8 L137.5,1310.9 L138.6,1340.3 L139.7,1369.5 L140.9,1395.8 L142.0,1418.0 L143.1,1434.3 L144.3,1445.7 L145.4,1452.9 L146.5,1457.0 L147.7,1460.4 L148.8,1462.6 L149.9,1465.2 L151.0,1468.3 L152.2,1471.5 L153.3,1474.7 L154.4,1477.3 L155.6,1479.5 L156.7,1481.3 L157.8,1482.7 L159.0,1484.7 L160.1,1484.5 L161.2,1486.0 L162.4,1486.0 L163.5,1486.8 L164.6,1487.0 L165.8,1487.3 L166.9,1487.4 L168.0,1487.9 L169.1,1488.0 L170.3,1488.8 L171.4,1488.5 L172.5,1489.9 L173.7,1489.6 L174.8,1489.9 L175.9,1490.5 L177.1,1490.6 L178.2,1491.2 L179.3,1491.0 L180.5,1491.6 L181.6,1491.4 L182.7,1491.8 L183.8,1492.0 L185.0,1492.4 L186.1,1492.9 L187.2,1492.6 L188.4,1492.8 L189.5,1493.4 L190.6,1493.8 L191.8,1493.9 L192.9,1493.5 L194.0,1494.6 L195.2,1494.1 L196.3,1494.5 L197.4,1494.3 L198.6,1495.2 L199.7,1494.7 L200.8,1495.4 L201.9,1495.0 L203.1,1494.7 L204.2,1495.6 L205.3,1495.0 L206.5,1495.8 L207.6,1495.7 L208.7,1495.2 L209.9,1495.8 L211.0,1496.1 L212.1,1497.3 L213.3,1496.9 L214.4,1496.6 L215.5,1497.1 L216.7,1497.3 L217.8,1496.9 L218.9,1497.7 L220.0,1497.7 L221.2,1497.2 L222.3,1496.9 L223.4,1498.0 L224.6,1497.8 L225.7,1497.8 L226.8,1498.3 L228.0,1498.6 L229.1,1498.2 L230.2,1498.9 L231.4,1498.9 L232.5,1498.2 L233.6,1499.6 L234.8,1498.4 L235.9,1498.8 L237.0,1499.6 L238.1,1499.2 L239.3,1499.6 L240.4,1500.2 L241.5,1500.2 L242.7,1500.4 L243.8,1499.8 L244.9,1500.9 L246.1,1501.0 L247.2,1500.9 L248.3,1501.1 L249.5,1500.3 L250.6,1501.3 L251.7,1501.6 L252.9,1501.7 L254.0,1501.9 L255.1,1502.4 L256.2,1501.8 L257.4,1502.2 L258.5,1502.2 L259.6,1501.8 L260.8,1502.0 L261.9,1502.2 L263.0,1502.9 L264.2,1502.8 L265.3,1503.1 L266.4,1503.1 L267.6,1503.2 L268.7,1503.4 L269.8,1503.0 L271.0,1503.7 L272.1,1503.1 L273.2,1503.6 L274.3,1503.9 L275.5,1503.8 L276.6,1504.2 L277.7,1504.3 L278.9,1503.9 L280.0,1504.5 L281.1,1503.0 L282.3,1505.0 L283.4,1505.2 L284.5,1504.4 L285.7,1505.1 L286.8,1505.3 L287.9,1505.5 L289.1,1505.4 L290.2,1505.7 L291.3,1505.2 L292.4,1505.8 L293.6,1505.7 L294.7,1505.6 L295.8,1505.8 L297.0,1506.2 L298.1,1506.5 L299.2,1506.8 L300.4,1506.9 L301.5,1506.2 L302.6,1506.7 L303.8,1506.8 L304.9,1506.7 L306.0,1506.7 L307.1,1506.5 L308.3,1506.8 L309.4,1507.2 L310.5,1507.6 L311.7,1507.1 L312.8,1507.4 L313.9,1507.5 L315.1,1507.9 L316.2,1507.6 L317.3,1507.4 L318.5,1507.9 L319.6,1507.7 L320.7,1508.0 L321.9,1508.2 L323.0,1507.8 L324.1,1508.4 L325.2,1508.3 L326.4,1509.0 L327.5,1508.2 L328.6,1508.8 L329.8,1508.8 L330.9,1508.9 L332.0,1508.8 L333.2,1509.2 L334.3,1509.4 L335.4,1509.1 L336.6,1509.1 L337.7,1509.5 L338.8,1509.1 L340.0,1509.1 L341.1,1509.8 L342.2,1509.5 L343.3,1509.5 L344.5,1510.3 L345.6,1510.3 L346.7,1510.7 L347.9,1509.5 L349.0,1510.2 L350.1,1510.2 L351.3,1509.9 L352.4,1509.7 L353.5,1510.1 L354.7,1509.7 L355.8,1509.9 L356.9,1509.1 L358.1,1510.8 L359.2,1510.6 L360.3,1510.8 L361.4,1510.3 L362.6,1510.8 L363.7,1510.3 L364.8,1511.2 L366.0,1510.2 L367.1,1510.4 L368.2,1510.0 L369.4,1510.3 L370.5,1510.5 L371.6,1510.3 L372.8,1511.2 L373.9,1510.5 L375.0,1510.3 L376.2,1509.7 L377.3,1510.2 L378.4,1510.7 L379.5,1509.3 L380.7,1510.4 L381.8,1509.9 L382.9,1510.2 L384.1,1510.9 L385.2,1509.2 L386.3,1509.5 L387.5,1508.9 L388.6,1509.2 L389.7,1508.5 L390.9,1507.9 L392.0,1508.1 L393.1,1508.1 L394.3,1508.0 L395.4,1507.5 L396.5,1507.8 L397.6,1507.0 L398.8,1506.5 L399.9,1507.0 L401.0,1506.6 L402.2,1505.2 L403.3,1505.6 L404.4,1504.6 L405.6,1504.8 L406.7,1504.4 L407.8,1504.3 L409.0,1503.5 L410.1,1503.3 L411.2,1503.5 L412.4,1503.9 L413.5,1503.4 L414.6,1502.7 L415.7,1502.8 L416.9,1502.0 L418.0,1501.8 L419.1,1501.5 L420.3,1501.2 L421.4,1501.0 L422.5,1500.7 L423.7,1500.5 L424.8,1500.7 L425.9,1500.0 L427.1,1499.7 L428.2,1499.0 L429.3,1499.2 L430.4,1499.0 L431.6,1497.6 L432.7,1497.7 L433.8,1497.2 L435.0,1496.6 L436.1,1496.8 L437.2,1495.9 L438.4,1495.7 L439.5,1495.7 L440.6,1494.7 L441.8,1494.2 L442.9,1493.5 L444.0,1493.2 L445.2,1492.6 L446.3,1492.3 L447.4,1490.9 L448.5,1491.3 L449.7,1489.8 L450.8,1489.3 L451.9,1488.5 L453.1,1487.5 L454.2,1486.9 L455.3,1486.5 L456.5,1485.8 L457.6,1484.8 L458.7,1483.4 L459.9,1482.3 L461.0,1481.2 L462.1,1480.0 L463.3,1478.9 L464.4,1477.9 L465.5,1477.1 L466.6,1475.4 L467.8,1474.0 L468.9,1471.7 L470.0,1470.4 L471.2,1469.5 L472.3,1467.6 L473.4,1465.4 L474.6,1464.1 L475.7,1462.1 L476.8,1460.7 L478.0,1459.0 L479.1,1457.2 L480.2,1456.0 L481.4,1454.5 L482.5,1452.8 L483.6,1450.8 L484.7,1449.6 L485.9,1448.7 L487.0,1446.4 L488.1,1445.2 L489.3,1443.6 L490.4,1442.4 L491.5,1441.1 L492.7,1440.5 L493.8,1438.4 L494.9,1437.9 L496.1,1436.2 L497.2,1434.4 L498.3,1434.1 L499.5,1433.2 L500.6,1432.7 L501.7,1431.8 L502.8,1431.8 L504.0,1430.9 L505.1,1430.3 L506.2,1430.1 L507.4,1430.1 L508.5,1430.3 L509.6,1429.5 L510.8,1429.4 L511.9,1429.2 L513.0,1428.8 L514.2,1429.6 L515.3,1428.7 L516.4,1429.5 L517.6,1428.3 L518.7,1428.9 L519.8,1429.4 L520.9,1430.2 L522.1,1430.2 L523.2,1430.6 L524.3,1431.3 L525.5,1431.7 L526.6,1431.6 L527.7,1432.5 L528.9,1432.4 L530.0,1433.2 L531.1,1434.3 L532.3,1434.6 L533.4,1435.5 L534.5,1436.7 L535.7,1436.8 L536.8,1438.1 L537.9,1438.2 L539.0,1439.4 L540.2,1441.7 L541.3,1442.0 L542.4,1443.7 L543.6,1444.0 L544.7,1445.9 L545.8,1447.1 L547.0,1448.3 L548.1,1450.2 L549.2,1451.1 L550.4,1452.1 L551.5,1454.1 L552.6,1455.1 L553.7,1456.7 L554.9,1457.2 L556.0,1458.7 L557.1,1460.8 L558.3,1462.3 L559.4,1463.5 L560.5,1465.1 L561.7,1466.5 L562.8,1468.1 L563.9,1468.7 L565.1,1470.0 L566.2,1472.0 L567.3,1474.2 L568.5,1475.6 L569.6,1476.3 L570.7,1478.3 L571.8,1479.6 L573.0,1480.8 L574.1,1482.4 L575.2,1483.2 L576.4,1485.6 L577.5,1486.5 L578.6,1488.3 L579.8,1489.3 L580.9,1491.4 L582.0,1492.3 L583.2,1493.1 L584.3,1495.2 L585.4,1496.2 L586.6,1497.8 L587.7,1498.9 L588.8,1500.5 L589.9,1501.5 L591.1,1503.5 L592.2,1504.5 L593.3,1505.5 L594.5,1507.4 L595.6,1508.2 L596.7,1509.5 L597.9,1511.0 L599.0,1513.2 L600.1,1513.1 L601.3,1515.5 L602.4,1516.4 L603.5,1517.6 L604.7,1518.5 L605.8,1520.4 L606.9,1522.0 L608.0,1522.8 L609.2,1523.8 L610.3,1526.0 L611.4,1526.8 L612.6,1528.3 L613.7,1529.6 L614.8,1531.0 L616.0,1532.1 L617.1,1533.3 L618.2,1534.0 L619.4,1536.9 L620.5,1536.9 L621.6,1538.8 L622.8,1540.5 L623.9,1542.0 L625.0,1542.3 L626.1,1544.7 L627.3,1544.7 L628.4,1547.3 L629.5,1547.9 L630.7,1549.7 L631.8,1551.2 L632.9,1552.3 L634.1,1552.7 L635.2,1554.6 L636.3,1555.9 L637.5,1557.0 L638.6,1558.2 L639.7,1560.3 L640.9,1561.2 L642.0,1562.6 L643.1,1564.1 L644.2,1566.1 L645.4,1566.3 L646.5,1567.7 L647.6,1569.5 L648.8,1569.3 L649.9,1572.4 L651.0,1573.4 L652.2,1574.5 L653.3,1576.2 L654.4,1577.3 L655.6,1578.0 L656.7,1580.3 L657.8,1582.0 L659.0,1582.8 L660.1,1584.2 L661.2,1585.4 L662.3,1586.8 L663.5,1587.9 L664.6,1588.4 L665.7,1590.5 L666.9,1591.1 L668.0,1593.2 L669.1,1594.7 L670.3,1596.6 L671.4,1597.1 L672.5,1598.3 L673.7,1598.9 L674.8,1601.8 L675.9,1602.8" stroke="#2a44ef" stroke-width="4.3" fill="none" stroke-linejoin="round" stroke-linecap="round" />
</g>
<g clip-path="url(#clipG)">
<path d="M136.3,1247.6 L137.5,1286.2 L138.6,1327.1 L139.7,1365.5 L140.9,1395.2 L142.0,1414.4 L143.1,1427.2 L144.3,1435.1 L145.4,1440.1 L146.5,1444.5 L147.7,1448.4 L148.8,1451.9 L149.9,1455.5 L151.0,1458.9 L152.2,1461.4 L153.3,1464.9 L154.4,1467.0 L155.6,1469.2 L156.7,1470.2 L157.8,1472.2 L159.0,1473.8 L160.1,1475.1 L161.2,1475.4 L162.4,1477.1 L163.5,1477.0 L164.6,1477.9 L165.8,1478.8 L166.9,1479.6 L168.0,1480.4 L169.1,1480.7 L170.3,1481.7 L171.4,1481.9 L172.5,1483.3 L173.7,1482.8 L174.8,1483.9 L175.9,1483.9 L177.1,1484.6 L178.2,1485.4 L179.3,1485.7 L180.5,1486.3 L181.6,1486.1 L182.7,1487.3 L183.8,1487.7 L185.0,1487.1 L186.1,1487.7 L187.2,1488.5 L188.4,1488.2 L189.5,1489.2 L190.6,1489.0 L191.8,1489.8 L192.9,1489.3 L194.0,1489.9 L195.2,1490.1 L196.3,1491.2 L197.4,1491.2 L198.6,1491.6 L199.7,1491.5 L200.8,1491.7 L201.9,1492.6 L203.1,1492.5 L204.2,1492.6 L205.3,1492.7 L206.5,1493.2 L207.6,1493.4 L208.7,1493.3 L209.9,1494.7 L211.0,1493.9 L212.1,1495.1 L213.3,1494.9 L214.4,1495.4 L215.5,1495.3 L216.7,1495.8 L217.8,1495.5 L218.9,1496.8 L220.0,1496.1 L221.2,1496.5 L222.3,1496.5 L223.4,1497.4 L224.6,1496.9 L225.7,1497.6 L226.8,1497.6 L228.0,1498.1 L229.1,1498.1 L230.2,1498.1 L231.4,1498.9 L232.5,1499.7 L233.6,1499.2 L234.8,1499.2 L235.9,1500.0 L237.0,1500.1 L238.1,1500.7 L239.3,1500.2 L240.4,1500.9 L241.5,1500.4 L242.7,1500.6 L243.8,1500.5 L244.9,1500.9 L246.1,1501.2 L247.2,1501.7 L248.3,1501.2 L249.5,1502.9 L250.6,1502.8 L251.7,1501.9 L252.9,1503.0 L254.0,1503.4 L255.1,1503.4 L256.2,1503.1 L257.4,1503.2 L258.5,1503.5 L259.6,1504.1 L260.8,1504.2 L261.9,1504.1 L263.0,1504.6 L264.2,1504.5 L265.3,1505.4 L266.4,1504.7 L267.6,1505.3 L268.7,1505.5 L269.8,1505.9 L271.0,1506.8 L272.1,1505.6 L273.2,1506.5 L274.3,1506.5 L275.5,1506.7 L276.6,1506.5 L277.7,1507.1 L278.9,1506.5 L280.0,1507.1 L281.1,1507.7 L282.3,1508.0 L283.4,1507.0 L284.5,1508.4 L285.7,1508.4 L286.8,1508.8 L287.9,1508.5 L289.1,1508.8 L290.2,1508.5 L291.3,1509.5 L292.4,1509.8 L293.6,1508.8 L294.7,1510.6 L295.8,1509.8 L297.0,1510.6 L298.1,1509.9 L299.2,1510.5 L300.4,1510.1 L301.5,1510.7 L302.6,1510.6 L303.8,1511.3 L304.9,1511.0 L306.0,1511.1 L307.1,1511.3 L308.3,1511.1 L309.4,1511.3 L310.5,1510.8 L311.7,1512.4 L312.8,1512.0 L313.9,1512.3 L315.1,1512.2 L316.2,1512.1 L317.3,1512.0 L318.5,1512.3 L319.6,1513.4 L320.7,1513.6 L321.9,1513.8 L323.0,1513.6 L324.1,1514.3 L325.2,1514.0 L326.4,1514.7 L327.5,1514.4 L328.6,1514.4 L329.8,1514.2 L330.9,1514.8 L332.0,1515.1 L333.2,1514.9 L334.3,1515.6 L335.4,1515.0 L336.6,1515.7 L337.7,1515.7 L338.8,1516.2 L340.0,1516.3 L341.1,1516.7 L342.2,1517.0 L343.3,1517.0 L344.5,1516.9 L345.6,1518.0 L346.7,1517.7 L347.9,1517.6 L349.0,1518.3 L350.1,1518.1 L351.3,1518.5 L352.4,1519.4 L353.5,1519.5 L354.7,1519.0 L355.8,1519.3 L356.9,1519.8 L358.1,1520.2 L359.2,1521.4 L360.3,1520.8 L361.4,1521.6 L362.6,1521.3 L363.7,1521.5 L364.8,1521.7 L366.0,1521.7 L367.1,1522.1 L368.2,1522.8 L369.4,1522.7 L370.5,1522.3 L371.6,1522.1 L372.8,1523.4 L373.9,1523.0 L375.0,1522.9 L376.2,1523.2 L377.3,1523.6 L378.4,1523.2 L379.5,1523.0 L380.7,1523.7 L381.8,1524.1 L382.9,1524.4 L384.1,1523.6 L385.2,1523.4 L386.3,1524.0 L387.5,1523.9 L388.6,1524.0 L389.7,1523.1 L390.9,1524.2 L392.0,1523.6 L393.1,1524.0 L394.3,1523.5 L395.4,1523.5 L396.5,1523.1 L397.6,1523.6 L398.8,1523.7 L399.9,1523.6 L401.0,1523.6 L402.2,1522.8 L403.3,1523.1 L404.4,1523.6 L405.6,1522.8 L406.7,1523.0 L407.8,1523.3 L409.0,1522.7 L410.1,1522.5 L411.2,1522.6 L412.4,1522.4 L413.5,1522.6 L414.6,1522.5 L415.7,1521.2 L416.9,1522.3 L418.0,1521.5 L419.1,1521.4 L420.3,1521.5 L421.4,1522.1 L422.5,1520.9 L423.7,1521.5 L424.8,1520.3 L425.9,1521.2 L427.1,1521.3 L428.2,1520.4 L429.3,1520.9 L430.4,1520.6 L431.6,1520.3 L432.7,1520.9 L433.8,1520.9 L435.0,1520.4 L436.1,1519.9 L437.2,1520.3 L438.4,1520.3 L439.5,1519.5 L440.6,1519.5 L441.8,1519.8 L442.9,1519.0 L444.0,1519.8 L445.2,1519.4 L446.3,1519.8 L447.4,1519.1 L448.5,1518.8 L449.7,1519.1 L450.8,1519.5 L451.9,1518.7 L453.1,1518.8 L454.2,1518.4 L455.3,1518.9 L456.5,1518.2 L457.6,1518.4 L458.7,1517.6 L459.9,1517.7 L461.0,1517.5 L462.1,1517.1 L463.3,1516.7 L464.4,1516.1 L465.5,1516.4 L466.6,1516.0 L467.8,1516.1 L468.9,1515.5 L470.0,1515.7 L471.2,1515.1 L472.3,1514.2 L473.4,1514.5 L474.6,1514.4 L475.7,1514.3 L476.8,1514.3 L478.0,1513.6 L479.1,1513.9 L480.2,1514.5 L481.4,1514.6 L482.5,1515.9 L483.6,1516.5 L484.7,1511.8 L485.9,1508.8 L487.0,1507.7 L488.1,1507.6 L489.3,1506.7 L490.4,1506.0 L491.5,1505.1 L492.7,1504.9 L493.8,1504.4 L494.9,1504.1 L496.1,1503.5 L497.2,1502.4 L498.3,1501.6 L499.5,1500.8 L500.6,1500.0 L501.7,1498.5 L502.8,1497.4 L504.0,1495.9 L505.1,1494.2 L506.2,1492.9 L507.4,1491.3 L508.5,1491.0 L509.6,1488.4 L510.8,1487.9 L511.9,1485.9 L513.0,1484.6 L514.2,1482.9 L515.3,1482.1 L516.4,1480.0 L517.6,1479.4 L518.7,1476.7 L519.8,1475.9 L520.9,1473.1 L522.1,1472.6 L523.2,1471.0 L524.3,1469.6 L525.5,1468.1 L526.6,1467.3 L527.7,1466.3 L528.9,1465.5 L530.0,1464.4 L531.1,1463.1 L532.3,1462.9 L533.4,1461.9 L534.5,1461.4 L535.7,1460.7 L536.8,1459.9 L537.9,1459.4 L539.0,1459.4 L540.2,1458.4 L541.3,1458.3 L542.4,1457.9 L543.6,1456.9 L544.7,1457.7 L545.8,1458.3 L547.0,1457.2 L548.1,1458.2 L549.2,1458.3 L550.4,1458.5 L551.5,1458.3 L552.6,1459.5 L553.7,1459.5 L554.9,1460.0 L556.0,1459.8 L557.1,1460.4 L558.3,1461.0 L559.4,1461.4 L560.5,1462.2 L561.7,1462.8 L562.8,1462.6 L563.9,1463.7 L565.1,1464.2 L566.2,1465.2 L567.3,1466.3 L568.5,1467.2 L569.6,1467.6 L570.7,1468.2 L571.8,1470.2 L573.0,1470.8 L574.1,1472.7 L575.2,1474.0 L576.4,1475.0 L577.5,1476.9 L578.6,1477.9 L579.8,1479.4 L580.9,1480.4 L582.0,1482.7 L583.2,1483.0 L584.3,1484.4 L585.4,1486.1 L586.6,1487.5 L587.7,1489.1 L588.8,1490.6 L589.9,1491.8 L591.1,1493.8 L592.2,1495.1 L593.3,1496.4 L594.5,1496.9 L595.6,1499.3 L596.7,1499.9 L597.9,1502.4 L599.0,1504.8 L600.1,1505.1 L601.3,1506.5 L602.4,1507.3 L603.5,1509.8 L604.7,1510.7 L605.8,1512.7 L606.9,1513.7 L608.0,1515.0 L609.2,1517.0 L610.3,1517.8 L611.4,1519.3 L612.6,1521.2 L613.7,1522.0 L614.8,1524.0 L616.0,1524.9 L617.1,1526.6 L618.2,1528.1 L619.4,1528.7 L620.5,1529.8 L621.6,1531.5 L622.8,1533.0 L623.9,1534.7 L625.0,1535.1 L626.1,1537.2 L627.3,1538.4 L628.4,1540.1 L629.5,1541.7 L630.7,1542.4 L631.8,1543.6 L632.9,1545.6 L634.1,1546.7 L635.2,1547.9 L636.3,1549.1 L637.5,1550.9 L638.6,1552.4 L639.7,1553.4 L640.9,1554.4 L642.0,1555.5 L643.1,1557.2 L644.2,1557.8 L645.4,1560.2 L646.5,1561.2 L647.6,1562.3 L648.8,1563.6 L649.9,1564.9 L651.0,1566.6 L652.2,1567.9 L653.3,1569.5 L654.4,1570.0 L655.6,1571.8 L656.7,1572.9 L657.8,1573.8 L659.0,1575.5 L660.1,1577.4 L661.2,1578.2 L662.3,1579.4 L663.5,1580.2 L664.6,1582.0 L665.7,1583.8 L666.9,1583.6 L668.0,1585.7 L669.1,1587.3 L670.3,1589.1 L671.4,1590.6 L672.5,1591.5 L673.7,1592.7 L674.8,1594.3 L675.9,1595.3" stroke="#8f16d6" stroke-width="4.3" fill="none" stroke-linejoin="round" stroke-linecap="round" />
</g>
<rect x="133.7" y="1156.2" width="566.2" height="456.0" fill="none" stroke="#111" stroke-width="1.6"/>
<path d="M133.7,1612.2v9M209.1,1612.2v9M284.5,1612.2v9M359.9,1612.2v9M435.4,1612.2v9M510.8,1612.2v9M586.2,1612.2v9M661.6,1612.2v9M133.7,1612.2h-9M133.7,1521.0h-9M133.7,1429.8h-9M133.7,1338.6h-9M133.7,1247.4h-9M133.7,1156.2h-9" stroke="#111" stroke-width="1.6" fill="none"/>
<text x="133.7" y="1651.5" font-size="23.6" text-anchor="middle" fill="#111" >0</text>
<text x="209.1" y="1651.5" font-size="23.6" text-anchor="middle" fill="#111" >1</text>
<text x="284.5" y="1651.5" font-size="23.6" text-anchor="middle" fill="#111" >2</text>
<text x="359.9" y="1651.5" font-size="23.6" text-anchor="middle" fill="#111" >3</text>
<text x="435.4" y="1651.5" font-size="23.6" text-anchor="middle" fill="#111" >4</text>
<text x="510.8" y="1651.5" font-size="23.6" text-anchor="middle" fill="#111" >5</text>
<text x="586.2" y="1651.5" font-size="23.6" text-anchor="middle" fill="#111" >6</text>
<text x="661.6" y="1651.5" font-size="23.6" text-anchor="middle" fill="#111" >7</text>
<text x="112.9" y="1619.7" font-size="23.6" text-anchor="end" fill="#111" >1,719</text>
<text x="112.9" y="1528.5" font-size="23.6" text-anchor="end" fill="#111" >1,720</text>
<text x="112.9" y="1437.3" font-size="23.6" text-anchor="end" fill="#111" >1,721</text>
<text x="112.9" y="1346.1" font-size="23.6" text-anchor="end" fill="#111" >1,722</text>
<text x="112.9" y="1254.9" font-size="23.6" text-anchor="end" fill="#111" >1,723</text>
<text x="112.9" y="1163.7" font-size="23.6" text-anchor="end" fill="#111" >1,724</text>
<path d="M568.6,1182.0H593.6" stroke="#ea148c" stroke-width="4.3" stroke-linecap="round"/>
<text x="605.5" y="1190.0" font-size="23.4" text-anchor="start" fill="#111" >25 mT</text>
<path d="M568.6,1211.2H593.6" stroke="#f4463f" stroke-width="4.3" stroke-linecap="round"/>
<text x="605.5" y="1219.2" font-size="23.4" text-anchor="start" fill="#111" >50 mT</text>
<path d="M568.6,1240.3H593.6" stroke="#f0842a" stroke-width="4.3" stroke-linecap="round"/>
<text x="605.5" y="1248.3" font-size="23.4" text-anchor="start" fill="#111" >75 mT</text>
<path d="M568.6,1269.5H593.6" stroke="#e8a832" stroke-width="4.3" stroke-linecap="round"/>
<text x="605.5" y="1277.5" font-size="23.4" text-anchor="start" fill="#111" >100 mT</text>
<path d="M568.6,1298.6H593.6" stroke="#a6e33a" stroke-width="4.3" stroke-linecap="round"/>
<text x="605.5" y="1306.6" font-size="23.4" text-anchor="start" fill="#111" >125 mT</text>
<path d="M568.6,1327.8H593.6" stroke="#0fcc18" stroke-width="4.3" stroke-linecap="round"/>
<text x="605.5" y="1335.8" font-size="23.4" text-anchor="start" fill="#111" >150 mT</text>
<path d="M568.6,1356.9H593.6" stroke="#19a9f2" stroke-width="4.3" stroke-linecap="round"/>
<text x="605.5" y="1364.9" font-size="23.4" text-anchor="start" fill="#111" >175 mT</text>
<path d="M568.6,1386.0H593.6" stroke="#2a44ef" stroke-width="4.3" stroke-linecap="round"/>
<text x="605.5" y="1394.0" font-size="23.4" text-anchor="start" fill="#111" >200 mT</text>
<path d="M568.6,1415.2H593.6" stroke="#8f16d6" stroke-width="4.3" stroke-linecap="round"/>
<text x="605.5" y="1423.2" font-size="23.4" text-anchor="start" fill="#111" >225 mT</text>
<text x="416.6" y="1690.0" font-size="28" text-anchor="middle" fill="#111"><tspan font-style="italic">I</tspan><tspan font-size="20" dy="7">dc</tspan><tspan dy="-7"> (mA)</tspan></text>
<text x="1145.0" y="1690.0" font-size="28" text-anchor="middle" fill="#111"><tspan font-style="italic">I</tspan><tspan font-size="20" dy="7">dc</tspan><tspan dy="-7"> (mA)</tspan></text>
<text x="1858.0" y="1690.0" font-size="28" text-anchor="middle" fill="#111"><tspan font-style="italic">I</tspan><tspan font-size="20" dy="7">c</tspan><tspan dy="-7"> (mA)</tspan></text>
<text transform="translate(31.5,1388.0) rotate(-90)" x="0" y="0" font-size="27" text-anchor="middle" fill="#111"><tspan font-style="italic">R</tspan> (Ω)</text>
<path d="M861.5,1515.5 L864.3,1514.7 L867.2,1513.9 L870.0,1513.1 L872.8,1512.3 L875.7,1511.4 L878.5,1510.2 L881.3,1508.8 L884.2,1507.1 L887.0,1505.3 L889.8,1503.4 L892.7,1501.4 L895.5,1499.3 L898.3,1497.1 L901.2,1495.0 L904.0,1492.8 L906.8,1490.7 L909.7,1488.5 L912.5,1486.2 L915.3,1483.9 L918.2,1481.3 L921.0,1478.6 L923.8,1475.7 L926.7,1472.6 L929.5,1469.3 L932.4,1465.9 L935.2,1462.3 L938.0,1458.5 L940.9,1454.5 L943.7,1450.2 L946.5,1445.8 L949.4,1441.2 L952.2,1436.4 L955.0,1431.6 L957.9,1426.6 L960.7,1421.4 L963.5,1416.1 L966.4,1410.7 L969.2,1405.4 L972.0,1400.2 L974.9,1395.1 L977.7,1390.0 L980.5,1384.9 L983.4,1379.9 L986.2,1375.0 L989.0,1370.2 L991.9,1365.5 L994.7,1360.7 L997.5,1356.1 L1000.4,1351.6 L1003.2,1347.4 L1006.0,1343.6 L1008.9,1340.1 L1011.7,1337.0 L1014.5,1334.1 L1017.4,1331.4 L1020.2,1328.9 L1023.0,1326.5 L1025.9,1324.3 L1028.7,1322.4 L1031.5,1321.0 L1034.4,1320.2 L1037.2,1320.4 L1040.0,1321.2 L1042.9,1322.1 L1045.7,1322.8 L1048.5,1323.0 L1051.4,1323.3 L1054.2,1323.9 L1057.0,1325.2 L1059.9,1326.7 L1062.7,1328.3 L1065.5,1330.0 L1068.4,1331.8 L1071.2,1333.6 L1074.0,1335.4 L1076.9,1337.2 L1079.7,1339.0 L1082.6,1340.8 L1085.4,1342.5 L1088.2,1344.1 L1091.1,1345.7 L1093.9,1347.2 L1096.7,1348.7 L1099.6,1350.2 L1102.4,1351.7 L1105.2,1353.1 L1108.1,1354.5 L1110.9,1355.9 L1113.7,1357.3 L1116.6,1358.7 L1119.4,1360.1 L1122.2,1361.4 L1125.1,1362.8 L1127.9,1364.1 L1130.7,1365.5 L1133.6,1366.8 L1136.4,1368.2 L1139.2,1369.5 L1142.1,1370.8 L1144.9,1372.0 L1147.7,1373.2 L1150.6,1374.3 L1153.4,1375.4 L1156.2,1376.4 L1159.1,1377.4 L1161.9,1378.2 L1164.7,1379.0 L1167.6,1379.7 L1170.4,1380.4 L1173.2,1381.0 L1176.1,1381.6 L1178.9,1382.2 L1181.7,1382.8 L1184.6,1383.5 L1187.4,1384.1 L1190.2,1384.8 L1193.1,1385.6 L1195.9,1386.3 L1198.7,1387.0 L1201.6,1387.8 L1204.4,1388.6 L1207.2,1389.3 L1210.1,1390.1 L1212.9,1390.8 L1215.8,1391.5 L1218.6,1392.3 L1221.4,1393.0 L1224.3,1393.7 L1227.1,1394.3 L1229.9,1395.0 L1232.8,1395.6 L1235.6,1396.2 L1238.4,1396.8 L1241.3,1397.4 L1244.1,1398.0 L1246.9,1398.6 L1249.8,1399.3 L1252.6,1400.0 L1255.4,1400.7 L1258.3,1401.5 L1261.1,1402.3 L1263.9,1403.1 L1266.8,1404.0 L1269.6,1404.9 L1272.4,1405.8 L1275.3,1406.7 L1278.1,1407.7 L1280.9,1408.6 L1283.8,1409.5 L1286.6,1410.4 L1289.4,1411.3 L1292.3,1412.2 L1295.1,1413.1 L1297.9,1413.9 L1300.8,1414.8 L1303.6,1415.7 L1306.4,1416.5 L1309.3,1417.4 L1312.1,1418.2 L1314.9,1419.1 L1317.8,1419.9 L1320.6,1420.7 L1323.4,1421.6 L1326.3,1422.4 L1329.1,1423.3 L1331.9,1424.1 L1334.8,1424.9 L1337.6,1425.8 L1340.4,1426.6 L1343.3,1427.4 L1346.1,1428.3 L1348.9,1429.1 L1351.8,1429.9 L1354.6,1430.8 L1357.4,1431.6 L1360.3,1432.5 L1363.1,1433.3 L1366.0,1434.0 L1368.8,1434.8 L1371.6,1435.6 L1374.5,1436.4 L1377.3,1437.2 L1380.1,1438.1 L1383.0,1438.9 L1385.8,1439.9 L1388.6,1440.9 L1391.5,1441.9 L1394.3,1443.0 L1397.1,1444.2 L1400.0,1445.4 L1402.8,1446.7 L1405.6,1448.0 L1408.5,1449.3 L1411.3,1450.6 L1414.1,1451.9 L1417.0,1453.3 L1419.8,1454.6 L1422.6,1455.9 L1425.5,1457.2 L1428.3,1458.5" stroke="#fb3a3f" stroke-width="4.3" fill="none" stroke-linejoin="round" stroke-linecap="round" />
<path d="M861.5,1540.6 L864.3,1539.6 L867.2,1538.6 L870.0,1537.7 L872.8,1536.7 L875.7,1535.8 L878.5,1534.9 L881.3,1534.0 L884.2,1533.1 L887.0,1532.2 L889.8,1531.3 L892.7,1530.3 L895.5,1529.4 L898.3,1528.4 L901.2,1527.4 L904.0,1526.4 L906.8,1525.3 L909.7,1524.2 L912.5,1523.0 L915.3,1521.8 L918.2,1520.5 L921.0,1519.2 L923.8,1517.8 L926.7,1516.3 L929.5,1514.7 L932.4,1513.0 L935.2,1511.2 L938.0,1509.3 L940.9,1507.3 L943.7,1505.2 L946.5,1502.9 L949.4,1500.6 L952.2,1498.1 L955.0,1495.5 L957.9,1492.7 L960.7,1489.8 L963.5,1486.8 L966.4,1483.7 L969.2,1480.4 L972.0,1477.0 L974.9,1473.5 L977.7,1469.9 L980.5,1466.2 L983.4,1462.3 L986.2,1458.4 L989.0,1454.3 L991.9,1449.9 L994.7,1445.3 L997.5,1440.4 L1000.4,1435.4 L1003.2,1430.2 L1006.0,1425.0 L1008.9,1419.8 L1011.7,1414.6 L1014.5,1409.6 L1017.4,1404.6 L1020.2,1399.4 L1023.0,1394.0 L1025.9,1388.7 L1028.7,1383.5 L1031.5,1378.6 L1034.4,1374.1 L1037.2,1370.0 L1040.0,1366.8 L1042.9,1365.0 L1045.7,1364.3 L1048.5,1364.2 L1051.4,1364.2 L1054.2,1364.1 L1057.0,1364.4 L1059.9,1365.3 L1062.7,1366.9 L1065.5,1368.9 L1068.4,1371.1 L1071.2,1373.5 L1074.0,1376.2 L1076.9,1379.1 L1079.7,1382.3 L1082.6,1385.9 L1085.4,1389.7 L1088.2,1393.8 L1091.1,1398.0 L1093.9,1402.0 L1096.7,1405.8 L1099.6,1409.2 L1102.4,1412.4 L1105.2,1415.6 L1108.1,1418.6 L1110.9,1421.5 L1113.7,1424.3 L1116.6,1426.9 L1119.4,1429.4 L1122.2,1431.6 L1125.1,1433.7 L1127.9,1435.7 L1130.7,1437.6 L1133.6,1439.4 L1136.4,1441.1 L1139.2,1442.8 L1142.1,1444.4 L1144.9,1446.0 L1147.7,1447.5 L1150.6,1449.1 L1153.4,1450.6 L1156.2,1452.1 L1159.1,1453.7 L1161.9,1455.2 L1164.7,1456.7 L1167.6,1458.2 L1170.4,1459.6 L1173.2,1461.0 L1176.1,1462.4 L1178.9,1463.8 L1181.7,1465.1 L1184.6,1466.4 L1187.4,1467.6 L1190.2,1468.9 L1193.1,1470.0 L1195.9,1471.2 L1198.7,1472.3 L1201.6,1473.3 L1204.4,1474.4 L1207.2,1475.4 L1210.1,1476.4 L1212.9,1477.3 L1215.8,1478.2 L1218.6,1479.1 L1221.4,1480.0 L1224.3,1480.8 L1227.1,1481.6 L1229.9,1482.4 L1232.8,1483.1 L1235.6,1483.7 L1238.4,1484.4 L1241.3,1485.0 L1244.1,1485.7 L1246.9,1486.3 L1249.8,1486.9 L1252.6,1487.6 L1255.4,1488.3 L1258.3,1489.0 L1261.1,1489.7 L1263.9,1490.4 L1266.8,1491.2 L1269.6,1491.9 L1272.4,1492.7 L1275.3,1493.4 L1278.1,1494.2 L1280.9,1494.9 L1283.8,1495.6 L1286.6,1496.4 L1289.4,1497.1 L1292.3,1497.8 L1295.1,1498.5 L1297.9,1499.2 L1300.8,1499.9 L1303.6,1500.6 L1306.4,1501.2 L1309.3,1501.9 L1312.1,1502.6 L1314.9,1503.3 L1317.8,1504.0 L1320.6,1504.7 L1323.4,1505.5 L1326.3,1506.3 L1329.1,1507.1 L1331.9,1507.9 L1334.8,1508.8 L1337.6,1509.6 L1340.4,1510.5 L1343.3,1511.4 L1346.1,1512.2 L1348.9,1513.1 L1351.8,1513.9 L1354.6,1514.7 L1357.4,1515.5 L1360.3,1516.3 L1363.1,1517.1 L1366.0,1517.8 L1368.8,1518.6 L1371.6,1519.4 L1374.5,1520.1 L1377.3,1520.9 L1380.1,1521.6 L1383.0,1522.4 L1385.8,1523.1 L1388.6,1523.9 L1391.5,1524.6 L1394.3,1525.3 L1397.1,1526.1 L1400.0,1526.8 L1402.8,1527.6 L1405.6,1528.3 L1408.5,1529.0 L1411.3,1529.8 L1414.1,1530.5 L1417.0,1531.2 L1419.8,1532.0 L1422.6,1532.7 L1425.5,1533.5 L1428.3,1534.2" stroke="#ec8128" stroke-width="4.3" fill="none" stroke-linejoin="round" stroke-linecap="round" />
<path d="M861.5,1555.2 L864.3,1554.5 L867.2,1553.8 L870.0,1553.2 L872.8,1552.5 L875.7,1551.9 L878.5,1551.2 L881.3,1550.6 L884.2,1549.9 L887.0,1549.3 L889.8,1548.6 L892.7,1548.0 L895.5,1547.3 L898.3,1546.6 L901.2,1545.9 L904.0,1545.2 L906.8,1544.5 L909.7,1543.8 L912.5,1543.0 L915.3,1542.2 L918.2,1541.4 L921.0,1540.6 L923.8,1539.8 L926.7,1538.9 L929.5,1538.1 L932.4,1537.2 L935.2,1536.3 L938.0,1535.4 L940.9,1534.5 L943.7,1533.6 L946.5,1532.6 L949.4,1531.6 L952.2,1530.6 L955.0,1529.5 L957.9,1528.4 L960.7,1527.2 L963.5,1526.0 L966.4,1524.7 L969.2,1523.4 L972.0,1522.0 L974.9,1520.5 L977.7,1519.0 L980.5,1517.3 L983.4,1515.5 L986.2,1513.7 L989.0,1511.8 L991.9,1509.7 L994.7,1507.6 L997.5,1505.3 L1000.4,1503.0 L1003.2,1500.6 L1006.0,1498.0 L1008.9,1495.2 L1011.7,1492.0 L1014.5,1488.6 L1017.4,1484.9 L1020.2,1481.0 L1023.0,1476.8 L1025.9,1472.5 L1028.7,1467.6 L1031.5,1462.2 L1034.4,1456.5 L1037.2,1450.9 L1040.0,1445.5 L1042.9,1440.4 L1045.7,1435.6 L1048.5,1430.7 L1051.4,1425.8 L1054.2,1421.0 L1057.0,1416.3 L1059.9,1411.7 L1062.7,1407.3 L1065.5,1403.2 L1068.4,1399.3 L1071.2,1395.7 L1074.0,1392.7 L1076.9,1390.3 L1079.7,1388.6 L1082.6,1387.6 L1085.4,1387.4 L1088.2,1388.2 L1091.1,1389.8 L1093.9,1391.9 L1096.7,1394.4 L1099.6,1397.2 L1102.4,1400.2 L1105.2,1403.5 L1108.1,1407.0 L1110.9,1410.6 L1113.7,1414.2 L1116.6,1417.9 L1119.4,1421.6 L1122.2,1425.2 L1125.1,1428.9 L1127.9,1432.6 L1130.7,1436.4 L1133.6,1440.3 L1136.4,1444.2 L1139.2,1448.0 L1142.1,1451.8 L1144.9,1455.5 L1147.7,1459.0 L1150.6,1462.4 L1153.4,1465.6 L1156.2,1468.6 L1159.1,1471.3 L1161.9,1473.8 L1164.7,1476.2 L1167.6,1478.4 L1170.4,1480.4 L1173.2,1482.4 L1176.1,1484.2 L1178.9,1486.0 L1181.7,1487.7 L1184.6,1489.4 L1187.4,1491.0 L1190.2,1492.7 L1193.1,1494.3 L1195.9,1495.7 L1198.7,1497.2 L1201.6,1498.5 L1204.4,1499.8 L1207.2,1501.0 L1210.1,1502.2 L1212.9,1503.4 L1215.8,1504.5 L1218.6,1505.6 L1221.4,1506.8 L1224.3,1507.9 L1227.1,1509.0 L1229.9,1510.1 L1232.8,1511.1 L1235.6,1512.2 L1238.4,1513.2 L1241.3,1514.2 L1244.1,1515.1 L1246.9,1516.1 L1249.8,1517.0 L1252.6,1517.9 L1255.4,1518.7 L1258.3,1519.6 L1261.1,1520.5 L1263.9,1521.3 L1266.8,1522.2 L1269.6,1523.0 L1272.4,1523.9 L1275.3,1524.7 L1278.1,1525.6 L1280.9,1526.4 L1283.8,1527.3 L1286.6,1528.1 L1289.4,1528.9 L1292.3,1529.7 L1295.1,1530.5 L1297.9,1531.3 L1300.8,1532.1 L1303.6,1532.8 L1306.4,1533.5 L1309.3,1534.2 L1312.1,1534.9 L1314.9,1535.6 L1317.8,1536.2 L1320.6,1536.8 L1323.4,1537.4 L1326.3,1538.0 L1329.1,1538.5 L1331.9,1539.0 L1334.8,1539.6 L1337.6,1540.1 L1340.4,1540.6 L1343.3,1541.1 L1346.1,1541.5 L1348.9,1542.0 L1351.8,1542.4 L1354.6,1542.9 L1357.4,1543.3 L1360.3,1543.8 L1363.1,1544.2 L1366.0,1544.6 L1368.8,1545.0 L1371.6,1545.4 L1374.5,1545.8 L1377.3,1546.2 L1380.1,1546.6 L1383.0,1547.0 L1385.8,1547.4 L1388.6,1547.8 L1391.5,1548.2 L1394.3,1548.6 L1397.1,1548.9 L1400.0,1549.3 L1402.8,1549.7 L1405.6,1550.1 L1408.5,1550.5 L1411.3,1550.9 L1414.1,1551.3 L1417.0,1551.7 L1419.8,1552.1 L1422.6,1552.5 L1425.5,1552.9 L1428.3,1553.4" stroke="#e8ad35" stroke-width="4.3" fill="none" stroke-linejoin="round" stroke-linecap="round" />
<path d="M861.5,1564.3 L864.3,1563.8 L867.2,1563.2 L870.0,1562.7 L872.8,1562.2 L875.7,1561.6 L878.5,1561.1 L881.3,1560.6 L884.2,1560.1 L887.0,1559.6 L889.8,1559.0 L892.7,1558.5 L895.5,1558.0 L898.3,1557.4 L901.2,1556.9 L904.0,1556.3 L906.8,1555.7 L909.7,1555.1 L912.5,1554.5 L915.3,1553.8 L918.2,1553.2 L921.0,1552.5 L923.8,1551.7 L926.7,1551.0 L929.5,1550.3 L932.4,1549.6 L935.2,1548.8 L938.0,1548.0 L940.9,1547.3 L943.7,1546.5 L946.5,1545.7 L949.4,1544.9 L952.2,1544.1 L955.0,1543.3 L957.9,1542.4 L960.7,1541.6 L963.5,1540.7 L966.4,1539.8 L969.2,1538.9 L972.0,1538.0 L974.9,1537.1 L977.7,1536.1 L980.5,1535.2 L983.4,1534.2 L986.2,1533.2 L989.0,1532.1 L991.9,1531.1 L994.7,1530.0 L997.5,1528.9 L1000.4,1527.8 L1003.2,1526.6 L1006.0,1525.4 L1008.9,1524.1 L1011.7,1522.8 L1014.5,1521.5 L1017.4,1520.1 L1020.2,1518.6 L1023.0,1517.1 L1025.9,1515.6 L1028.7,1514.0 L1031.5,1512.3 L1034.4,1510.6 L1037.2,1508.6 L1040.0,1506.6 L1042.9,1504.3 L1045.7,1501.9 L1048.5,1499.4 L1051.4,1496.6 L1054.2,1493.8 L1057.0,1490.7 L1059.9,1487.4 L1062.7,1483.8 L1065.5,1480.0 L1068.4,1475.9 L1071.2,1471.8 L1074.0,1467.5 L1076.9,1463.1 L1079.7,1458.4 L1082.6,1453.5 L1085.4,1448.4 L1088.2,1443.3 L1091.1,1438.4 L1093.9,1433.8 L1096.7,1429.5 L1099.6,1425.5 L1102.4,1421.7 L1105.2,1418.0 L1108.1,1414.5 L1110.9,1411.0 L1113.7,1407.7 L1116.6,1404.3 L1119.4,1400.8 L1122.2,1397.5 L1125.1,1395.1 L1127.9,1394.1 L1130.7,1394.4 L1133.6,1395.6 L1136.4,1397.9 L1139.2,1401.5 L1142.1,1406.6 L1144.9,1412.7 L1147.7,1419.4 L1150.6,1426.3 L1153.4,1432.8 L1156.2,1438.5 L1159.1,1443.5 L1161.9,1448.3 L1164.7,1453.1 L1167.6,1457.7 L1170.4,1462.1 L1173.2,1466.3 L1176.1,1470.3 L1178.9,1474.2 L1181.7,1477.7 L1184.6,1481.0 L1187.4,1484.0 L1190.2,1486.7 L1193.1,1489.1 L1195.9,1491.4 L1198.7,1493.5 L1201.6,1495.4 L1204.4,1497.3 L1207.2,1499.1 L1210.1,1500.9 L1212.9,1502.6 L1215.8,1504.2 L1218.6,1505.8 L1221.4,1507.3 L1224.3,1508.8 L1227.1,1510.2 L1229.9,1511.5 L1232.8,1512.7 L1235.6,1513.9 L1238.4,1515.0 L1241.3,1516.0 L1244.1,1517.0 L1246.9,1518.0 L1249.8,1518.9 L1252.6,1519.8 L1255.4,1520.6 L1258.3,1521.4 L1261.1,1522.2 L1263.9,1523.0 L1266.8,1523.7 L1269.6,1524.4 L1272.4,1525.1 L1275.3,1525.8 L1278.1,1526.4 L1280.9,1527.1 L1283.8,1527.7 L1286.6,1528.4 L1289.4,1529.0 L1292.3,1529.7 L1295.1,1530.3 L1297.9,1530.9 L1300.8,1531.6 L1303.6,1532.2 L1306.4,1532.8 L1309.3,1533.3 L1312.1,1533.9 L1314.9,1534.5 L1317.8,1535.0 L1320.6,1535.6 L1323.4,1536.1 L1326.3,1536.7 L1329.1,1537.2 L1331.9,1537.8 L1334.8,1538.3 L1337.6,1538.8 L1340.4,1539.3 L1343.3,1539.9 L1346.1,1540.4 L1348.9,1540.9 L1351.8,1541.4 L1354.6,1541.9 L1357.4,1542.4 L1360.3,1542.9 L1363.1,1543.4 L1366.0,1543.9 L1368.8,1544.4 L1371.6,1544.9 L1374.5,1545.4 L1377.3,1545.9 L1380.1,1546.4 L1383.0,1546.8 L1385.8,1547.3 L1388.6,1547.8 L1391.5,1548.3 L1394.3,1548.7 L1397.1,1549.2 L1400.0,1549.6 L1402.8,1550.1 L1405.6,1550.6 L1408.5,1551.0 L1411.3,1551.5 L1414.1,1551.9 L1417.0,1552.4 L1419.8,1552.9 L1422.6,1553.3 L1425.5,1553.8 L1428.3,1554.3" stroke="#9de531" stroke-width="4.3" fill="none" stroke-linejoin="round" stroke-linecap="round" />
<path d="M861.5,1571.2 L864.3,1570.8 L867.2,1570.4 L870.0,1570.0 L872.8,1569.6 L875.7,1569.2 L878.5,1568.8 L881.3,1568.5 L884.2,1568.1 L887.0,1567.7 L889.8,1567.3 L892.7,1566.9 L895.5,1566.6 L898.3,1566.2 L901.2,1565.7 L904.0,1565.3 L906.8,1564.9 L909.7,1564.5 L912.5,1564.0 L915.3,1563.5 L918.2,1563.0 L921.0,1562.5 L923.8,1562.0 L926.7,1561.4 L929.5,1560.9 L932.4,1560.3 L935.2,1559.7 L938.0,1559.1 L940.9,1558.6 L943.7,1558.0 L946.5,1557.3 L949.4,1556.7 L952.2,1556.1 L955.0,1555.5 L957.9,1554.8 L960.7,1554.2 L963.5,1553.5 L966.4,1552.9 L969.2,1552.2 L972.0,1551.5 L974.9,1550.8 L977.7,1550.1 L980.5,1549.4 L983.4,1548.7 L986.2,1548.0 L989.0,1547.3 L991.9,1546.5 L994.7,1545.8 L997.5,1545.1 L1000.4,1544.3 L1003.2,1543.6 L1006.0,1542.8 L1008.9,1542.0 L1011.7,1541.2 L1014.5,1540.4 L1017.4,1539.6 L1020.2,1538.7 L1023.0,1537.8 L1025.9,1536.9 L1028.7,1536.0 L1031.5,1535.0 L1034.4,1534.0 L1037.2,1532.9 L1040.0,1531.9 L1042.9,1530.7 L1045.7,1529.5 L1048.5,1528.3 L1051.4,1527.0 L1054.2,1525.6 L1057.0,1524.2 L1059.9,1522.7 L1062.7,1521.1 L1065.5,1519.5 L1068.4,1517.8 L1071.2,1516.0 L1074.0,1514.1 L1076.9,1512.3 L1079.7,1510.4 L1082.6,1508.4 L1085.4,1506.4 L1088.2,1504.3 L1091.1,1502.1 L1093.9,1499.9 L1096.7,1497.4 L1099.6,1494.9 L1102.4,1492.2 L1105.2,1489.4 L1108.1,1486.3 L1110.9,1482.9 L1113.7,1479.3 L1116.6,1475.4 L1119.4,1471.3 L1122.2,1467.2 L1125.1,1462.9 L1127.9,1458.6 L1130.7,1454.3 L1133.6,1450.0 L1136.4,1445.5 L1139.2,1440.9 L1142.1,1436.1 L1144.9,1431.3 L1147.7,1426.6 L1150.6,1421.8 L1153.4,1417.2 L1156.2,1412.2 L1159.1,1407.3 L1161.9,1403.9 L1164.7,1402.3 L1167.6,1401.7 L1170.4,1401.8 L1173.2,1402.7 L1176.1,1404.3 L1178.9,1406.7 L1181.7,1410.0 L1184.6,1413.9 L1187.4,1418.3 L1190.2,1422.7 L1193.1,1427.6 L1195.9,1432.9 L1198.7,1438.3 L1201.6,1443.7 L1204.4,1448.7 L1207.2,1453.2 L1210.1,1457.2 L1212.9,1460.9 L1215.8,1464.3 L1218.6,1467.6 L1221.4,1470.7 L1224.3,1473.7 L1227.1,1476.8 L1229.9,1479.9 L1232.8,1483.0 L1235.6,1486.0 L1238.4,1488.9 L1241.3,1491.6 L1244.1,1494.2 L1246.9,1496.5 L1249.8,1498.7 L1252.6,1500.6 L1255.4,1502.4 L1258.3,1504.2 L1261.1,1505.8 L1263.9,1507.4 L1266.8,1508.9 L1269.6,1510.4 L1272.4,1511.8 L1275.3,1513.1 L1278.1,1514.3 L1280.9,1515.6 L1283.8,1516.7 L1286.6,1517.8 L1289.4,1518.9 L1292.3,1519.9 L1295.1,1520.9 L1297.9,1521.9 L1300.8,1522.7 L1303.6,1523.6 L1306.4,1524.4 L1309.3,1525.1 L1312.1,1525.8 L1314.9,1526.5 L1317.8,1527.2 L1320.6,1527.9 L1323.4,1528.5 L1326.3,1529.2 L1329.1,1529.8 L1331.9,1530.4 L1334.8,1531.1 L1337.6,1531.7 L1340.4,1532.4 L1343.3,1533.1 L1346.1,1533.7 L1348.9,1534.4 L1351.8,1535.1 L1354.6,1535.7 L1357.4,1536.4 L1360.3,1537.0 L1363.1,1537.6 L1366.0,1538.3 L1368.8,1538.9 L1371.6,1539.5 L1374.5,1540.2 L1377.3,1540.8 L1380.1,1541.4 L1383.0,1542.1 L1385.8,1542.7 L1388.6,1543.3 L1391.5,1543.9 L1394.3,1544.5 L1397.1,1545.2 L1400.0,1545.8 L1402.8,1546.4 L1405.6,1547.0 L1408.5,1547.6 L1411.3,1548.3 L1414.1,1548.9 L1417.0,1549.5 L1419.8,1550.1 L1422.6,1550.7 L1425.5,1551.4 L1428.3,1552.0" stroke="#00d800" stroke-width="4.3" fill="none" stroke-linejoin="round" stroke-linecap="round" />
<path d="M867.9,1576.2 L870.7,1575.8 L873.5,1575.5 L876.4,1575.1 L879.2,1574.7 L882.0,1574.4 L884.9,1574.0 L887.7,1573.7 L890.5,1573.3 L893.4,1573.0 L896.2,1572.6 L899.1,1572.2 L901.9,1571.9 L904.7,1571.5 L907.6,1571.2 L910.4,1570.8 L913.2,1570.4 L916.1,1570.0 L918.9,1569.6 L921.7,1569.2 L924.6,1568.8 L927.4,1568.5 L930.2,1568.1 L933.1,1567.7 L935.9,1567.3 L938.7,1567.0 L941.6,1566.6 L944.4,1566.2 L947.2,1565.8 L950.1,1565.5 L952.9,1565.1 L955.7,1564.7 L958.6,1564.3 L961.4,1563.9 L964.2,1563.4 L967.1,1563.0 L969.9,1562.6 L972.7,1562.1 L975.6,1561.6 L978.4,1561.2 L981.2,1560.7 L984.1,1560.1 L986.9,1559.6 L989.7,1559.0 L992.6,1558.4 L995.4,1557.9 L998.2,1557.3 L1001.1,1556.7 L1003.9,1556.0 L1006.7,1555.4 L1009.6,1554.8 L1012.4,1554.1 L1015.2,1553.5 L1018.1,1552.8 L1020.9,1552.1 L1023.7,1551.4 L1026.6,1550.7 L1029.4,1549.9 L1032.2,1549.2 L1035.1,1548.4 L1037.9,1547.7 L1040.8,1546.9 L1043.6,1546.1 L1046.4,1545.2 L1049.3,1544.4 L1052.1,1543.5 L1054.9,1542.7 L1057.8,1541.8 L1060.6,1540.9 L1063.4,1539.9 L1066.3,1539.0 L1069.1,1538.0 L1071.9,1537.0 L1074.8,1536.0 L1077.6,1534.9 L1080.4,1533.9 L1083.3,1532.7 L1086.1,1531.6 L1088.9,1530.4 L1091.8,1529.2 L1094.6,1527.9 L1097.4,1526.6 L1100.3,1525.2 L1103.1,1523.8 L1105.9,1522.4 L1108.8,1520.8 L1111.6,1519.2 L1114.4,1517.5 L1117.3,1515.7 L1120.1,1513.8 L1122.9,1511.8 L1125.8,1509.7 L1128.6,1507.6 L1131.4,1505.3 L1134.3,1503.0 L1137.1,1500.5 L1139.9,1498.0 L1142.8,1495.4 L1145.6,1492.7 L1148.4,1489.9 L1151.3,1487.0 L1154.1,1483.9 L1156.9,1480.6 L1159.8,1477.1 L1162.6,1473.5 L1165.4,1469.6 L1168.3,1465.4 L1171.1,1460.7 L1173.9,1455.6 L1176.8,1450.2 L1179.6,1444.5 L1182.5,1438.8 L1185.3,1433.1 L1188.1,1426.9 L1191.0,1419.9 L1193.8,1412.7 L1196.6,1406.3 L1199.5,1401.5 L1202.3,1398.6 L1205.1,1396.9 L1208.0,1396.2 L1210.8,1396.2 L1213.6,1396.7 L1216.5,1398.0 L1219.3,1400.4 L1222.1,1404.1 L1225.0,1408.8 L1227.8,1414.1 L1230.6,1419.7 L1233.5,1425.6 L1236.3,1431.6 L1239.1,1437.3 L1242.0,1442.8 L1244.8,1447.8 L1247.6,1452.7 L1250.5,1457.4 L1253.3,1462.0 L1256.1,1466.3 L1259.0,1470.3 L1261.8,1473.8 L1264.6,1476.9 L1267.5,1479.7 L1270.3,1482.2 L1273.1,1484.5 L1276.0,1486.6 L1278.8,1488.6 L1281.6,1490.4 L1284.5,1492.2 L1287.3,1493.8 L1290.1,1495.5 L1293.0,1497.1 L1295.8,1498.6 L1298.6,1500.2 L1301.5,1501.7 L1304.3,1503.2 L1307.1,1504.6 L1310.0,1506.0 L1312.8,1507.4 L1315.6,1508.8 L1318.5,1510.1 L1321.3,1511.4 L1324.2,1512.6 L1327.0,1513.9 L1329.8,1515.1 L1332.7,1516.2 L1335.5,1517.3 L1338.3,1518.4 L1341.2,1519.4 L1344.0,1520.4 L1346.8,1521.4 L1349.7,1522.4 L1352.5,1523.4 L1355.3,1524.3 L1358.2,1525.2 L1361.0,1526.1 L1363.8,1527.0 L1366.7,1527.9 L1369.5,1528.7 L1372.3,1529.6 L1375.2,1530.4 L1378.0,1531.2 L1380.8,1532.1 L1383.7,1532.9 L1386.5,1533.7 L1389.3,1534.5 L1392.2,1535.3 L1395.0,1536.1 L1397.8,1536.9 L1400.7,1537.7 L1403.5,1538.5 L1406.3,1539.3 L1409.2,1540.1 L1412.0,1540.9 L1414.8,1541.7 L1417.7,1542.5 L1420.5,1543.3 L1423.3,1544.1 L1426.2,1545.0" stroke="#1ecad2" stroke-width="4.3" fill="none" stroke-linejoin="round" stroke-linecap="round" />
<path d="M861.5,1579.8 L864.3,1579.6 L867.2,1579.4 L870.0,1579.2 L872.8,1579.0 L875.7,1578.8 L878.5,1578.6 L881.3,1578.4 L884.2,1578.2 L887.0,1578.0 L889.8,1577.8 L892.7,1577.6 L895.5,1577.4 L898.3,1577.2 L901.2,1577.0 L904.0,1576.8 L906.8,1576.6 L909.7,1576.4 L912.5,1576.2 L915.3,1576.0 L918.2,1575.8 L921.0,1575.6 L923.8,1575.3 L926.7,1575.1 L929.5,1574.9 L932.4,1574.7 L935.2,1574.4 L938.0,1574.2 L940.9,1573.9 L943.7,1573.7 L946.5,1573.4 L949.4,1573.1 L952.2,1572.8 L955.0,1572.5 L957.9,1572.2 L960.7,1571.9 L963.5,1571.6 L966.4,1571.3 L969.2,1571.1 L972.0,1570.8 L974.9,1570.5 L977.7,1570.2 L980.5,1569.9 L983.4,1569.6 L986.2,1569.3 L989.0,1569.0 L991.9,1568.6 L994.7,1568.3 L997.5,1568.0 L1000.4,1567.7 L1003.2,1567.3 L1006.0,1567.0 L1008.9,1566.7 L1011.7,1566.3 L1014.5,1565.9 L1017.4,1565.6 L1020.2,1565.2 L1023.0,1564.8 L1025.9,1564.4 L1028.7,1564.0 L1031.5,1563.5 L1034.4,1563.1 L1037.2,1562.6 L1040.0,1562.2 L1042.9,1561.7 L1045.7,1561.2 L1048.5,1560.7 L1051.4,1560.1 L1054.2,1559.6 L1057.0,1559.0 L1059.9,1558.4 L1062.7,1557.9 L1065.5,1557.2 L1068.4,1556.6 L1071.2,1556.0 L1074.0,1555.3 L1076.9,1554.6 L1079.7,1553.9 L1082.6,1553.2 L1085.4,1552.4 L1088.2,1551.6 L1091.1,1550.8 L1093.9,1549.9 L1096.7,1549.0 L1099.6,1548.1 L1102.4,1547.1 L1105.2,1546.1 L1108.1,1545.1 L1110.9,1544.0 L1113.7,1542.9 L1116.6,1541.7 L1119.4,1540.5 L1122.2,1539.2 L1125.1,1537.9 L1127.9,1536.5 L1130.7,1534.9 L1133.6,1533.3 L1136.4,1531.6 L1139.2,1529.8 L1142.1,1527.9 L1144.9,1526.0 L1147.7,1523.9 L1150.6,1521.8 L1153.4,1519.7 L1156.2,1517.4 L1159.1,1515.1 L1161.9,1512.8 L1164.7,1510.4 L1167.6,1507.9 L1170.4,1505.3 L1173.2,1502.6 L1176.1,1499.7 L1178.9,1496.8 L1181.7,1493.7 L1184.6,1490.5 L1187.4,1487.2 L1190.2,1483.8 L1193.1,1480.4 L1195.9,1476.8 L1198.7,1473.1 L1201.6,1469.3 L1204.4,1465.1 L1207.2,1460.6 L1210.1,1455.8 L1212.9,1450.9 L1215.8,1445.9 L1218.6,1440.9 L1221.4,1435.9 L1224.3,1430.6 L1227.1,1425.0 L1229.9,1419.4 L1232.8,1414.1 L1235.6,1409.4 L1238.4,1405.5 L1241.3,1402.2 L1244.1,1399.4 L1246.9,1397.1 L1249.8,1395.1 L1252.6,1393.8 L1255.4,1394.1 L1258.3,1396.6 L1261.1,1400.1 L1263.9,1404.1 L1266.8,1408.4 L1269.6,1412.8 L1272.4,1417.3 L1275.3,1421.8 L1278.1,1426.4 L1280.9,1431.3 L1283.8,1436.1 L1286.6,1440.9 L1289.4,1445.6 L1292.3,1450.0 L1295.1,1454.2 L1297.9,1458.3 L1300.8,1462.4 L1303.6,1466.4 L1306.4,1470.2 L1309.3,1473.9 L1312.1,1477.2 L1314.9,1480.2 L1317.8,1482.9 L1320.6,1485.3 L1323.4,1487.6 L1326.3,1489.8 L1329.1,1491.8 L1331.9,1493.8 L1334.8,1495.7 L1337.6,1497.5 L1340.4,1499.2 L1343.3,1500.9 L1346.1,1502.6 L1348.9,1504.2 L1351.8,1505.9 L1354.6,1507.5 L1357.4,1509.1 L1360.3,1510.8 L1363.1,1512.4 L1366.0,1513.9 L1368.8,1515.4 L1371.6,1516.9 L1374.5,1518.3 L1377.3,1519.7 L1380.1,1521.0 L1383.0,1522.3 L1385.8,1523.5 L1388.6,1524.7 L1391.5,1525.8 L1394.3,1526.9 L1397.1,1527.9 L1400.0,1528.9 L1402.8,1529.8 L1405.6,1530.7 L1408.5,1531.6 L1411.3,1532.4 L1414.1,1533.2 L1417.0,1534.0 L1419.8,1534.9 L1422.6,1535.7 L1425.5,1536.5 L1428.3,1537.4" stroke="#1f3dff" stroke-width="4.3" fill="none" stroke-linejoin="round" stroke-linecap="round" />
<path d="M861.5,1583.5 L864.3,1583.2 L867.2,1583.0 L870.0,1582.8 L872.8,1582.5 L875.7,1582.3 L878.5,1582.1 L881.3,1581.9 L884.2,1581.6 L887.0,1581.4 L889.8,1581.2 L892.7,1581.0 L895.5,1580.8 L898.3,1580.6 L901.2,1580.4 L904.0,1580.1 L906.8,1579.9 L909.7,1579.7 L912.5,1579.5 L915.3,1579.3 L918.2,1579.1 L921.0,1578.9 L923.8,1578.7 L926.7,1578.4 L929.5,1578.2 L932.4,1578.0 L935.2,1577.8 L938.0,1577.5 L940.9,1577.3 L943.7,1577.1 L946.5,1576.8 L949.4,1576.6 L952.2,1576.3 L955.0,1576.1 L957.9,1575.8 L960.7,1575.5 L963.5,1575.2 L966.4,1575.0 L969.2,1574.7 L972.0,1574.4 L974.9,1574.1 L977.7,1573.8 L980.5,1573.4 L983.4,1573.1 L986.2,1572.8 L989.0,1572.4 L991.9,1572.1 L994.7,1571.7 L997.5,1571.4 L1000.4,1571.0 L1003.2,1570.6 L1006.0,1570.2 L1008.9,1569.8 L1011.7,1569.5 L1014.5,1569.0 L1017.4,1568.6 L1020.2,1568.2 L1023.0,1567.8 L1025.9,1567.4 L1028.7,1566.9 L1031.5,1566.5 L1034.4,1566.0 L1037.2,1565.6 L1040.0,1565.1 L1042.9,1564.6 L1045.7,1564.1 L1048.5,1563.6 L1051.4,1563.1 L1054.2,1562.6 L1057.0,1562.1 L1059.9,1561.6 L1062.7,1561.0 L1065.5,1560.5 L1068.4,1559.9 L1071.2,1559.4 L1074.0,1558.8 L1076.9,1558.2 L1079.7,1557.6 L1082.6,1557.0 L1085.4,1556.4 L1088.2,1555.8 L1091.1,1555.2 L1093.9,1554.5 L1096.7,1553.9 L1099.6,1553.2 L1102.4,1552.5 L1105.2,1551.7 L1108.1,1551.0 L1110.9,1550.2 L1113.7,1549.4 L1116.6,1548.6 L1119.4,1547.8 L1122.2,1546.9 L1125.1,1546.1 L1127.9,1545.2 L1130.7,1544.3 L1133.6,1543.4 L1136.4,1542.5 L1139.2,1541.5 L1142.1,1540.6 L1144.9,1539.6 L1147.7,1538.6 L1150.6,1537.6 L1153.4,1536.6 L1156.2,1535.6 L1159.1,1534.5 L1161.9,1533.4 L1164.7,1532.3 L1167.6,1531.1 L1170.4,1529.8 L1173.2,1528.5 L1176.1,1527.1 L1178.9,1525.6 L1181.7,1524.0 L1184.6,1522.3 L1187.4,1520.6 L1190.2,1518.7 L1193.1,1516.7 L1195.9,1514.5 L1198.7,1512.2 L1201.6,1509.7 L1204.4,1507.2 L1207.2,1504.5 L1210.1,1501.8 L1212.9,1499.0 L1215.8,1496.2 L1218.6,1493.3 L1221.4,1490.5 L1224.3,1487.6 L1227.1,1484.6 L1229.9,1481.4 L1232.8,1478.1 L1235.6,1474.5 L1238.4,1470.6 L1241.3,1466.3 L1244.1,1461.2 L1246.9,1455.6 L1249.8,1449.6 L1252.6,1443.6 L1255.4,1437.9 L1258.3,1432.7 L1261.1,1427.6 L1263.9,1422.7 L1266.8,1417.9 L1269.6,1413.5 L1272.4,1409.3 L1275.3,1405.6 L1278.1,1402.4 L1280.9,1399.6 L1283.8,1397.2 L1286.6,1395.1 L1289.4,1393.5 L1292.3,1392.6 L1295.1,1392.7 L1297.9,1394.2 L1300.8,1396.5 L1303.6,1399.5 L1306.4,1403.1 L1309.3,1407.3 L1312.1,1412.0 L1314.9,1417.5 L1317.8,1423.4 L1320.6,1429.4 L1323.4,1435.2 L1326.3,1440.5 L1329.1,1445.1 L1331.9,1449.4 L1334.8,1453.5 L1337.6,1457.4 L1340.4,1461.1 L1343.3,1464.6 L1346.1,1467.8 L1348.9,1470.8 L1351.8,1473.7 L1354.6,1476.5 L1357.4,1479.1 L1360.3,1481.6 L1363.1,1484.1 L1366.0,1486.4 L1368.8,1488.6 L1371.6,1490.7 L1374.5,1492.8 L1377.3,1494.7 L1380.1,1496.6 L1383.0,1498.3 L1385.8,1500.0 L1388.6,1501.7 L1391.5,1503.3 L1394.3,1504.8 L1397.1,1506.4 L1400.0,1507.9 L1402.8,1509.5 L1405.6,1511.1 L1408.5,1512.8 L1411.3,1514.4 L1414.1,1516.0 L1417.0,1517.7 L1419.8,1519.3 L1422.6,1520.9 L1425.5,1522.6 L1428.3,1524.2" stroke="#7008dc" stroke-width="4.3" fill="none" stroke-linejoin="round" stroke-linecap="round" />
<rect x="861.5" y="1156.2" width="566.8" height="456.0" fill="none" stroke="#111" stroke-width="1.6"/>
<path d="M861.5,1612.2v9M932.4,1612.2v9M1003.2,1612.2v9M1074.0,1612.2v9M1144.9,1612.2v9M1215.8,1612.2v9M1286.6,1612.2v9M1357.4,1612.2v9M1428.3,1612.2v9M861.5,1612.2h-9M861.5,1521.0h-9M861.5,1429.8h-9M861.5,1338.6h-9M861.5,1247.4h-9M861.5,1156.2h-9" stroke="#111" stroke-width="1.6" fill="none"/>
<text x="861.5" y="1651.5" font-size="23.6" text-anchor="middle" fill="#111" >0</text>
<text x="932.4" y="1651.5" font-size="23.6" text-anchor="middle" fill="#111" >1</text>
<text x="1003.2" y="1651.5" font-size="23.6" text-anchor="middle" fill="#111" >2</text>
<text x="1074.0" y="1651.5" font-size="23.6" text-anchor="middle" fill="#111" >3</text>
<text x="1144.9" y="1651.5" font-size="23.6" text-anchor="middle" fill="#111" >4</text>
<text x="1215.8" y="1651.5" font-size="23.6" text-anchor="middle" fill="#111" >5</text>
<text x="1286.6" y="1651.5" font-size="23.6" text-anchor="middle" fill="#111" >6</text>
<text x="1357.4" y="1651.5" font-size="23.6" text-anchor="middle" fill="#111" >7</text>
<text x="1428.3" y="1651.5" font-size="23.6" text-anchor="middle" fill="#111" >8</text>
<text x="842.9" y="1619.7" font-size="23.6" text-anchor="end" fill="#111" >0</text>
<text x="842.9" y="1528.5" font-size="23.6" text-anchor="end" fill="#111" >0.2</text>
<text x="842.9" y="1437.3" font-size="23.6" text-anchor="end" fill="#111" >0.4</text>
<text x="842.9" y="1346.1" font-size="23.6" text-anchor="end" fill="#111" >0.6</text>
<text x="842.9" y="1254.9" font-size="23.6" text-anchor="end" fill="#111" >0.8</text>
<text x="842.9" y="1163.7" font-size="23.6" text-anchor="end" fill="#111" >1.0</text>
<path d="M1022.8,1193.5h23" stroke="#fb3a3f" stroke-width="4.3" stroke-linecap="round"/>
<text x="1058.7" y="1200.5" font-size="23.4" text-anchor="start" fill="#111" >50 mT</text>
<path d="M1159.6,1193.5h23" stroke="#ec8128" stroke-width="4.3" stroke-linecap="round"/>
<text x="1195.5" y="1200.5" font-size="23.4" text-anchor="start" fill="#111" >75 mT</text>
<path d="M1296.2,1193.5h23" stroke="#e8ad35" stroke-width="4.3" stroke-linecap="round"/>
<text x="1333.7" y="1200.5" font-size="23.4" text-anchor="start" fill="#111" >100 mT</text>
<path d="M1022.8,1222.7h23" stroke="#9de531" stroke-width="4.3" stroke-linecap="round"/>
<text x="1058.7" y="1229.7" font-size="23.4" text-anchor="start" fill="#111" >125 mT</text>
<path d="M1159.6,1222.7h23" stroke="#00d800" stroke-width="4.3" stroke-linecap="round"/>
<text x="1195.5" y="1229.7" font-size="23.4" text-anchor="start" fill="#111" >150 mT</text>
<path d="M1296.2,1222.7h23" stroke="#1ecad2" stroke-width="4.3" stroke-linecap="round"/>
<text x="1333.7" y="1229.7" font-size="23.4" text-anchor="start" fill="#111" >175 mT</text>
<path d="M1022.8,1251.5h23" stroke="#1f3dff" stroke-width="4.3" stroke-linecap="round"/>
<text x="1058.7" y="1258.5" font-size="23.4" text-anchor="start" fill="#111" >200 mT</text>
<path d="M1159.6,1251.5h23" stroke="#7008dc" stroke-width="4.3" stroke-linecap="round"/>
<text x="1195.5" y="1258.5" font-size="23.4" text-anchor="start" fill="#111" >225 mT</text>
<text transform="translate(789.0,1386.5) rotate(-90)" x="0" y="0" font-size="27" text-anchor="middle" fill="#111">1 – &lt;<tspan font-style="italic">M</tspan><tspan font-size="18" dy="7">y</tspan><tspan font-size="18" dx="-9" dy="-17">2</tspan><tspan dy="10">&gt;/</tspan><tspan font-style="italic">M</tspan><tspan font-size="18" dy="7">s</tspan><tspan font-size="18" dx="-8" dy="-17">2</tspan></text>
<g clip-path="url(#clipI)">
<path d="M1574.8,1596.1 L1712.8,1448.3 L1747.6,1415.5 L1781.5,1382.7 L1814.5,1349.9 L1846.5,1317.1 L1877.7,1284.3 L1907.8,1251.6 L1937.1,1218.8 L1965.4,1186.0 L2001.7,1152.9" stroke="#ff0000" stroke-width="4.2" fill="none" stroke-linejoin="round" stroke-linecap="round" />
<path d="M1574.8,1596.6 L1733.1,1448.6 L1773.6,1415.7 L1812.8,1382.9 L1850.7,1350.0 L1887.3,1317.1 L1922.6,1284.2 L1956.6,1251.4 L1989.3,1218.5 L2020.8,1185.6 L2062.9,1152.9" stroke="#008000" stroke-width="4.2" fill="none" stroke-linejoin="round" stroke-linecap="round" />
<path d="M1574.8,1598.8 L1778.1,1448.6 L1828.7,1415.7 L1876.7,1382.9 L1921.9,1350.0 L1964.5,1317.1 L2004.3,1284.2 L2144.3,1187.2" stroke="#0000ff" stroke-width="4.2" fill="none" stroke-linejoin="round" stroke-linecap="round" />
</g>
<circle cx="1712.8" cy="1448.3" r="7.6" fill="#ff0000"/>
<circle cx="1747.6" cy="1415.5" r="7.6" fill="#ff0000"/>
<circle cx="1781.5" cy="1382.7" r="7.6" fill="#ff0000"/>
<circle cx="1814.5" cy="1349.9" r="7.6" fill="#ff0000"/>
<circle cx="1846.5" cy="1317.1" r="7.6" fill="#ff0000"/>
<circle cx="1877.7" cy="1284.3" r="7.6" fill="#ff0000"/>
<circle cx="1907.8" cy="1251.6" r="7.6" fill="#ff0000"/>
<circle cx="1937.1" cy="1218.8" r="7.6" fill="#ff0000"/>
<circle cx="1965.4" cy="1186.0" r="7.6" fill="#ff0000"/>
<circle cx="1733.1" cy="1448.6" r="7.6" fill="#008000"/>
<circle cx="1773.6" cy="1415.7" r="7.6" fill="#008000"/>
<circle cx="1812.8" cy="1382.9" r="7.6" fill="#008000"/>
<circle cx="1850.7" cy="1350.0" r="7.6" fill="#008000"/>
<circle cx="1887.3" cy="1317.1" r="7.6" fill="#008000"/>
<circle cx="1922.6" cy="1284.2" r="7.6" fill="#008000"/>
<circle cx="1956.6" cy="1251.4" r="7.6" fill="#008000"/>
<circle cx="1989.3" cy="1218.5" r="7.6" fill="#008000"/>
<circle cx="2020.8" cy="1185.6" r="7.6" fill="#008000"/>
<circle cx="1778.1" cy="1448.6" r="7.6" fill="#0000ff"/>
<circle cx="1828.7" cy="1415.7" r="7.6" fill="#0000ff"/>
<circle cx="1876.7" cy="1382.9" r="7.6" fill="#0000ff"/>
<circle cx="1921.9" cy="1350.0" r="7.6" fill="#0000ff"/>
<circle cx="1964.5" cy="1317.1" r="7.6" fill="#0000ff"/>
<circle cx="2004.3" cy="1284.2" r="7.6" fill="#0000ff"/>
<rect x="1574.8" y="1152.8" width="569.1" height="459.4" fill="none" stroke="#111" stroke-width="1.6"/>
<path d="M1574.8,1612.2v9M1645.9,1612.2v9M1717.1,1612.2v9M1788.2,1612.2v9M1859.3,1612.2v9M1930.5,1612.2v9M2001.6,1612.2v9M2072.8,1612.2v9M2143.9,1612.2v9M1574.8,1612.2h-9M1574.8,1481.4h-9M1574.8,1350.7h-9M1574.8,1219.9h-9" stroke="#111" stroke-width="1.6" fill="none"/>
<text x="1574.8" y="1651.5" font-size="23.6" text-anchor="middle" fill="#111" >0</text>
<text x="1645.9" y="1651.5" font-size="23.6" text-anchor="middle" fill="#111" >1</text>
<text x="1717.1" y="1651.5" font-size="23.6" text-anchor="middle" fill="#111" >2</text>
<text x="1788.2" y="1651.5" font-size="23.6" text-anchor="middle" fill="#111" >3</text>
<text x="1859.3" y="1651.5" font-size="23.6" text-anchor="middle" fill="#111" >4</text>
<text x="1930.5" y="1651.5" font-size="23.6" text-anchor="middle" fill="#111" >5</text>
<text x="2001.6" y="1651.5" font-size="23.6" text-anchor="middle" fill="#111" >6</text>
<text x="2072.8" y="1651.5" font-size="23.6" text-anchor="middle" fill="#111" >7</text>
<text x="2143.9" y="1651.5" font-size="23.6" text-anchor="middle" fill="#111" >8</text>
<text x="1555.7" y="1619.7" font-size="23.6" text-anchor="end" fill="#111" >–100</text>
<text x="1555.7" y="1489.0" font-size="23.6" text-anchor="end" fill="#111" >0</text>
<text x="1555.7" y="1358.2" font-size="23.6" text-anchor="end" fill="#111" >100</text>
<text x="1555.7" y="1227.4" font-size="23.6" text-anchor="end" fill="#111" >200</text>
<circle cx="1694.8" cy="1193.7" r="7.6" fill="#ff0000"/>
<text x="1715.0" y="1201.7" font-size="23.4" text-anchor="start" fill="#111" >270 degrees</text>
<circle cx="1694.8" cy="1230.6" r="7.6" fill="#008000"/>
<text x="1715.0" y="1238.6" font-size="23.4" text-anchor="start" fill="#111" >240 degrees</text>
<circle cx="1694.8" cy="1267.5" r="7.6" fill="#0000ff"/>
<text x="1715.0" y="1275.5" font-size="23.4" text-anchor="start" fill="#111" >225 degrees</text>
<text transform="translate(1500,1385) rotate(-90)" font-size="27" text-anchor="middle" fill="#111"><tspan font-style="italic">μ</tspan><tspan font-size="19" dy="6">0</tspan><tspan dy="-6" font-style="italic">H</tspan><tspan font-size="19" dy="6">ext</tspan><tspan dy="-6"> (mT)</tspan></text>
<path d="M1934.3,1544.1 L1936.1,1542.1 L1937.9,1540.0 L1939.8,1538.0 L1941.6,1535.9 L1943.4,1533.9 L1945.2,1531.8 L1947.0,1529.7 L1948.8,1527.7 L1950.7,1525.7 L1952.5,1523.6 L1954.3,1521.6 L1956.1,1519.6 L1957.9,1517.6 L1959.8,1515.6 L1961.6,1513.6 L1963.4,1511.7 L1965.2,1509.7 L1967.0,1507.8 L1968.8,1505.9 L1970.7,1504.0 L1972.5,1502.0 L1974.3,1500.1 L1976.1,1498.3 L1977.9,1496.4 L1979.8,1494.5 L1981.6,1492.7 L1983.4,1490.8 L1985.2,1489.0 L1987.0,1487.1 L1988.8,1485.3 L1990.7,1483.5 L1992.5,1481.7 L1994.3,1479.9 L1996.1,1478.0 L1997.9,1476.2 L1999.8,1474.4 L2001.6,1472.6 L2003.4,1470.9 L2005.2,1469.1 L2007.0,1467.4 L2008.8,1465.7 L2010.7,1464.0 L2012.5,1462.4 L2014.3,1460.8 L2016.1,1459.2 L2017.9,1457.7 L2019.8,1456.1 L2021.6,1454.6 L2023.4,1453.1 L2025.2,1451.6 L2027.0,1450.1 L2028.8,1448.7 L2030.7,1447.3 L2032.5,1445.9 L2034.3,1444.5 L2036.1,1443.2 L2037.9,1442.0 L2039.8,1440.8 L2041.6,1439.6 L2043.4,1438.5 L2045.2,1437.4 L2047.0,1436.4 L2048.9,1435.3 L2050.7,1434.2 L2052.5,1433.1 L2054.3,1432.1 L2056.1,1431.1 L2057.9,1430.2 L2059.8,1429.3 L2061.6,1428.4 L2063.4,1427.7 L2065.2,1427.0 L2067.0,1426.4 L2068.9,1425.9 L2070.7,1425.5 L2072.5,1425.1 L2074.3,1424.8 L2076.1,1424.4 L2077.9,1424.1 L2079.8,1423.8 L2081.6,1423.6 L2083.4,1423.3 L2085.2,1423.1 L2087.0,1422.8 L2088.9,1422.7 L2090.7,1422.5 L2092.5,1422.4 L2094.3,1422.3 L2096.1,1422.2 L2097.9,1422.2 L2099.8,1422.2 L2101.6,1422.4 L2103.4,1422.6 L2105.2,1422.9 L2107.0,1423.2 L2108.9,1423.6 L2110.7,1424.0 L2112.5,1424.5 L2114.3,1424.9 L2116.1,1425.4 L2117.9,1425.9 L2119.8,1426.4 L2121.6,1426.8 L2123.4,1427.2 L2125.2,1427.6" stroke="#0a0aff" stroke-width="4.0" fill="none" stroke-linejoin="round" stroke-linecap="round" />
<rect x="2010.6" y="1453.7" width="11" height="11" fill="#0a0aff"/>
<rect x="2037.9" y="1431.9" width="11" height="11" fill="#0a0aff"/>
<rect x="2065.2" y="1418.9" width="11" height="11" fill="#0a0aff"/>
<rect x="2092.4" y="1416.7" width="11" height="11" fill="#0a0aff"/>
<rect x="1934.3" y="1402.6" width="191.1" height="141.5" fill="none" stroke="#111" stroke-width="1.4"/>
<path d="M1934.3,1544.1v6M2016.1,1544.1v6M2097.9,1544.1v6M1934.3,1544.1h-6M1934.3,1500.6h-6M1934.3,1457.0h-6M1934.3,1413.5h-6" stroke="#111" stroke-width="1.4" fill="none"/>
<text x="1934.3" y="1575.0" font-size="19" text-anchor="middle" fill="#111" >180</text>
<text x="2016.1" y="1575.0" font-size="19" text-anchor="middle" fill="#111" >225</text>
<text x="2097.9" y="1575.0" font-size="19" text-anchor="middle" fill="#111" >270</text>
<text x="1923.2" y="1550.3" font-size="19" text-anchor="end" fill="#111" >0</text>
<text x="1923.2" y="1506.8" font-size="19" text-anchor="end" fill="#111" >20</text>
<text x="1923.2" y="1463.2" font-size="19" text-anchor="end" fill="#111" >40</text>
<text x="1923.2" y="1419.7" font-size="19" text-anchor="end" fill="#111" >60</text>
<text transform="translate(1885,1473) rotate(-90)" font-size="22" text-anchor="middle" fill="#111">Slope (T/A)</text>
<text x="2029" y="1600" font-size="23" text-anchor="middle" fill="#111"><tspan font-family="'DejaVu Serif', 'Liberation Serif', serif" font-style="italic" font-size="22.5">ϕ</tspan> (degrees)</text>
<circle cx="411.2" cy="872.8" r="178.2" fill="url(#sphG)"/>
<circle cx="411.2" cy="872.8" r="178.2" fill="url(#sphS)"/>
<circle cx="411.2" cy="872.8" r="178.2" fill="url(#sphT)"/>
<g clip-path="url(#clipD)">
<path d="M200,700 L300,716 L299.3,729.0 L302.8,728.5 L303.7,728.7 L304.8,728.3 L308.3,729.0 L308.8,727.4 L310.9,728.7 L314.8,726.3 L317.8,728.9 L318.9,727.7 L319.6,725.7 L322.8,725.7 L323.5,727.3 L324.8,729.1 L327.8,731.3 L329.8,731.8 L331.5,732.9 L333.1,732.9 L336.5,736.1 L337.8,736.4 L337.9,736.0 L339.6,736.6 L342.8,738.7 L344.6,740.3 L346.4,743.3 L345.0,743.0 L349.3,745.4 L351.0,746.8 L349.8,749.2 L353.4,749.7 L350.7,751.8 L352.7,755.1 L349.5,755.5 L348.8,756.9 L350.2,759.1 L348.8,761.9 L347.1,764.7 L347.4,766.6 L347.8,768.1 L348.6,769.8 L351.4,773.6 L349.9,776.0 L350.1,776.7 L352.5,779.4 L350.7,782.5 L351.4,782.3 L353.5,784.5 L352.5,785.7 L352.3,789.2 L353.2,791.3 L353.4,793.0 L354.9,795.2 L353.5,798.4 L352.1,798.4 L354.1,802.5 L351.8,802.7 L352.5,807.0 L350.0,809.1 L351.3,810.1 L349.1,810.6 L347.1,815.2 L346.9,816.5 L346.1,818.9 L346.3,819.4 L344.3,822.5 L343.2,822.9 L343.9,826.7 L343.4,826.9 L343.5,828.5 L340.1,830.6 L340.6,831.8 L339.1,834.6 L339.5,835.8 L337.9,840.0 L338.7,841.2 L336.8,842.9 L334.1,843.1 L332.7,847.6 L333.7,849.7 L330.6,850.6 L331.0,852.8 L329.5,855.5 L327.5,855.9 L328.4,858.8 L327.2,860.0 L326.2,862.4 L323.7,863.6 L324.1,865.9 L321.5,867.5 L321.7,868.6 L319.8,869.8 L318.5,872.3 L315.8,874.1 L317.4,876.5 L315.4,876.8 L314.2,879.1 L312.2,881.6 L309.9,883.0 L308.6,884.3 L308.6,884.8 L307.9,887.2 L306.4,890.1 L304.0,888.9 L302.8,892.5 L301.2,892.6 L301.9,895.7 L299.2,898.0 L297.1,898.8 L295.0,899.7 L295.1,902.6 L293.6,902.6 L291.0,903.9 L287.9,906.0 L288.4,908.3 L286.5,909.8 L283.6,908.7 L282.5,910.3 L280.2,911.9 L279.9,913.4 L277.5,916.2 L278.1,916.8 L274.0,917.3 L275.0,919.1 L273.0,922.4 L270.4,924.9 L268.4,924.7 L268.5,926.2 L268.5,928.7 L265.2,929.9 L265.5,932.9 L264.4,935.4 L263.7,938.1 L262.0,937.5 L260.0,939.1 L257.3,941.6 L258.0,942.4 L255.3,944.5 L255.3,946.7 L253.7,949.1 L251.8,950.9 L252.0,950.4 L250.8,954.0 L247.3,955.0 L247.7,958.2 L245.9,958.9 L246.4,961.4 L245.5,962.3 L243.5,963.3 L242.0,966.0 L240,1060 L200,1060 Z" fill="url(#lavD)"/>
<path d="M321.6,869.2h1.3v2.0h-2zM276.9,922.8h2.0v1.3h-2zM261.1,945.2h2.0v1.8h-2zM348.6,804.7h1.4v1.6h-2zM351.0,777.1h2.2v2.0h-2zM246.9,955.8h2.0v1.8h-2zM344.1,837.4h1.6v1.9h-2zM328.3,862.9h1.8v2.3h-2zM354.8,773.9h2.0v2.3h-2zM330.0,859.0h1.3v1.3h-2zM340.9,829.0h2.1v2.6h-2zM289.9,905.5h1.8v1.4h-2zM355.3,755.6h1.8v2.5h-2zM281.2,914.6h2.3v2.4h-2zM337.3,833.6h1.5v1.3h-2zM354.1,765.2h1.6v1.2h-2zM293.4,900.7h2.4v2.5h-2zM329.7,734.5h2.0v1.8h-2zM307.4,884.3h1.5v1.4h-2zM331.5,860.8h2.5v2.1h-2zM350.2,748.3h1.7v1.7h-2zM355.2,751.3h1.6v1.4h-2zM324.6,865.4h1.5v2.5h-2zM317.6,872.0h2.6v2.4h-2zM338.5,829.6h2.0v1.9h-2zM347.2,813.8h1.5v1.8h-2zM353.6,807.8h2.3v1.9h-2zM348.7,802.9h2.6v2.5h-2zM326.2,867.8h1.9v2.6h-2zM245.5,964.2h1.3v2.1h-2zM299.9,893.9h2.3v1.7h-2zM302.2,889.7h2.6v1.2h-2zM246.7,954.6h2.6v2.1h-2zM317.4,873.0h2.2v1.3h-2zM347.1,770.2h1.6v1.6h-2zM351.7,815.6h1.3v2.2h-2zM280.3,913.0h2.4v1.4h-2zM358.8,766.1h1.2v2.3h-2zM350.3,777.8h2.2v1.9h-2zM280.6,918.0h1.6v2.3h-2zM277.6,924.8h1.7v2.6h-2zM244.5,960.4h1.9v2.5h-2zM259.1,937.1h2.5v2.4h-2zM351.7,768.8h1.8v1.5h-2zM327.5,852.5h2.1v1.4h-2zM357.9,774.1h1.9v2.6h-2zM354.1,804.9h1.5v1.6h-2zM319.9,868.8h1.7v2.1h-2zM271.8,932.4h2.4v1.3h-2zM343.0,820.5h1.8v2.5h-2zM344.4,826.5h1.7v1.6h-2zM361.8,780.1h2.3v1.3h-2zM348.9,805.6h2.0v2.5h-2zM351.3,828.3h2.6v1.6h-2zM355.2,779.0h1.6v1.9h-2zM350.9,780.5h1.2v1.9h-2zM358.3,795.9h2.1v2.1h-2zM260.2,943.1h2.6v1.7h-2zM351.6,766.8h1.3v2.2h-2zM352.2,823.5h1.9v2.6h-2zM252.0,953.6h1.8v1.6h-2zM319.8,870.9h1.6v1.7h-2zM314.5,725.5h1.5v2.3h-2zM352.4,737.5h1.2v1.6h-2zM348.9,805.8h2.4v2.3h-2zM252.0,955.7h2.2v2.1h-2zM337.4,737.3h2.2v1.9h-2zM266.4,932.0h2.2v2.3h-2zM361.3,802.9h1.7v1.8h-2zM335.2,734.7h1.2v2.3h-2zM271.5,933.0h1.9v2.3h-2zM341.8,825.3h1.8v2.4h-2zM347.0,745.3h2.1v1.3h-2zM349.1,769.0h1.4v1.9h-2zM277.1,917.2h1.6v1.9h-2zM284.1,910.5h1.6v1.3h-2zM282.4,914.3h1.8v1.6h-2zM347.5,803.1h2.2v1.6h-2zM315.6,874.4h2.2v1.5h-2zM284.1,915.5h1.8v2.2h-2zM301.0,896.9h2.3v2.4h-2zM352.8,761.6h1.6v1.3h-2zM299.4,896.6h1.6v1.3h-2zM352.2,750.4h2.6v1.8h-2zM332.7,857.0h2.3v2.1h-2zM256.4,942.6h1.8v2.3h-2zM331.3,845.9h1.8v1.6h-2zM335.9,834.9h1.6v2.0h-2zM307.1,885.8h2.3v2.0h-2zM275.6,913.7h1.5v1.3h-2zM327.8,862.4h1.5v1.2h-2zM292.9,900.4h2.3v1.9h-2zM256.9,950.6h2.4v1.5h-2zM343.6,833.8h1.6v2.3h-2zM305.7,728.6h2.6v1.9h-2zM343.3,746.3h2.6v1.5h-2zM359.7,749.6h2.4v2.2h-2zM284.7,906.5h2.0v1.3h-2zM330.3,853.4h2.3v1.3h-2zM334.5,845.0h2.0v1.2h-2zM334.2,853.1h1.5v1.9h-2zM257.5,940.1h1.2v1.9h-2zM303.8,895.0h1.9v2.2h-2zM297.1,898.4h2.4v1.3h-2zM276.4,921.3h1.5v2.3h-2zM338.5,840.1h1.9v2.5h-2zM347.5,734.8h2.6v1.4h-2zM342.4,733.7h1.6v1.4h-2zM354.9,749.4h2.2v1.2h-2zM296.4,895.6h1.3v1.3h-2zM298.1,901.9h1.7v2.4h-2zM296.4,898.3h1.8v1.7h-2zM283.0,913.5h1.3v1.2h-2zM358.0,743.5h2.0v1.7h-2zM319.1,870.3h1.6v1.6h-2zM317.4,728.9h1.3v2.4h-2zM347.6,758.4h1.6v1.8h-2zM278.5,915.6h1.6v2.2h-2zM353.2,770.0h2.3v1.3h-2zM359.8,793.8h1.9v2.0h-2zM352.1,791.5h1.3v1.3h-2zM265.7,924.7h1.8v2.4h-2zM345.3,816.1h2.4v1.6h-2zM258.6,945.1h1.5v1.5h-2zM331.1,851.6h2.6v1.9h-2zM355.9,809.8h1.2v2.4h-2zM342.0,818.4h1.4v1.5h-2zM262.9,942.4h2.0v2.3h-2zM302.5,727.8h1.7v1.4h-2zM362.2,801.3h2.3v2.3h-2zM298.0,899.7h2.3v2.0h-2zM344.6,743.7h1.9v2.1h-2zM304.8,891.3h2.5v1.6h-2zM251.5,952.1h2.3v2.1h-2zM306.7,892.2h1.8v2.3h-2zM308.1,889.0h1.3v1.4h-2zM308.6,885.3h1.4v1.6h-2zM277.5,923.6h2.3v2.3h-2zM335.5,840.8h1.3v2.5h-2zM308.4,886.9h2.1v2.4h-2zM244.6,958.8h1.5v1.8h-2zM272.2,926.1h2.3v1.5h-2zM256.9,943.6h1.7v1.8h-2zM336.8,846.0h1.7v1.9h-2zM351.0,776.7h2.3v2.3h-2zM278.3,912.0h1.7v1.7h-2zM282.3,909.0h2.5v1.6h-2zM269.8,926.3h2.3v1.2h-2zM352.0,750.2h2.6v1.9h-2zM350.9,788.3h2.1v1.6h-2zM326.2,865.6h1.9v2.5h-2zM352.4,798.2h1.5v1.8h-2zM337.0,833.9h1.4v1.9h-2zM312.6,883.3h2.5v1.6h-2zM262.4,940.1h2.6v2.0h-2zM323.5,871.9h2.5v1.6h-2zM270.1,927.7h2.1v1.6h-2zM321.8,725.7h1.8v1.7h-2zM331.2,725.0h1.2v1.7h-2zM351.0,756.6h1.4v1.7h-2zM288.6,911.9h1.8v1.3h-2zM348.2,775.6h1.2v2.1h-2zM257.3,944.4h1.9v1.9h-2zM362.6,785.9h1.5v1.3h-2zM354.7,749.3h1.5v2.1h-2zM268.7,931.3h1.3v2.1h-2zM284.2,917.8h1.9v2.2h-2zM281.9,909.8h1.4v2.4h-2zM346.3,829.9h2.3v1.9h-2zM341.3,825.5h1.9v1.4h-2zM351.9,816.3h1.5v1.7h-2zM244.5,958.5h2.1v2.6h-2zM275.1,916.6h2.5v1.5h-2zM335.3,849.5h1.4v1.2h-2zM347.8,752.5h1.2v1.3h-2zM333.3,736.4h1.7v2.3h-2zM266.2,942.0h2.5v1.3h-2zM364.1,791.2h2.3v1.3h-2zM342.8,842.7h1.6v1.7h-2zM350.2,819.0h1.7v1.6h-2zM243.1,959.6h1.8v1.8h-2zM350.0,754.9h2.4v1.3h-2zM346.7,836.6h2.6v1.2h-2zM278.7,916.4h2.0v2.5h-2zM264.2,928.3h2.2v1.9h-2zM346.3,765.6h2.0v1.3h-2zM328.8,859.9h1.3v2.4h-2zM312.2,726.6h1.4v2.6h-2zM353.8,816.8h2.0v1.2h-2zM261.6,945.6h2.2v1.4h-2zM286.7,908.7h2.1v2.2h-2zM274.4,925.8h1.4v1.4h-2zM347.6,814.7h2.5v1.6h-2zM350.4,751.9h1.4v1.6h-2zM341.7,840.8h1.5v1.7h-2zM319.8,727.7h2.6v1.6h-2zM302.6,729.3h2.5v1.8h-2zM252.8,950.7h2.1v2.4h-2zM250.1,952.4h1.6v2.1h-2zM353.4,761.2h1.4v2.4h-2zM275.3,918.9h2.5v1.5h-2zM324.8,866.9h1.3v2.0h-2zM348.1,788.4h2.4v1.8h-2zM354.8,800.6h1.9v1.8h-2zM285.8,908.8h1.4v2.6h-2zM318.2,875.7h1.3v2.5h-2zM320.9,874.9h2.5v2.6h-2zM312.9,886.1h2.3v1.5h-2zM254.3,944.3h2.4v2.3h-2zM299.1,898.3h2.4v1.7h-2zM353.4,806.5h1.5v1.2h-2zM342.6,826.3h2.1v1.3h-2zM322.0,869.4h2.0v1.7h-2zM353.6,770.0h1.5v1.3h-2zM343.5,837.4h2.3v1.7h-2zM351.6,766.0h2.2v2.6h-2zM346.5,749.2h1.5v2.2h-2zM268.1,925.1h1.4v1.8h-2zM350.2,771.2h2.2v1.5h-2zM348.1,787.0h1.9v2.0h-2zM334.5,851.4h1.3v2.1h-2zM309.3,726.8h2.3v1.3h-2zM270.5,920.8h2.1v1.7h-2zM314.3,877.1h1.6v1.7h-2zM339.0,831.6h1.8v1.9h-2zM343.0,833.3h1.4v1.5h-2zM332.5,842.5h1.8v2.0h-2zM312.3,886.1h1.5v2.5h-2zM252.2,959.8h1.7v1.4h-2zM249.5,961.7h2.1v1.4h-2zM355.0,789.5h1.2v2.4h-2zM350.3,773.5h1.8v1.6h-2zM295.3,901.9h1.9v2.4h-2zM289.5,902.3h1.7v2.0h-2zM351.0,769.6h1.5v1.4h-2zM319.5,725.6h2.4v1.5h-2zM362.1,747.6h2.2v1.5h-2zM328.7,731.1h2.3v1.6h-2zM261.4,941.1h2.6v2.2h-2zM298.0,730.6h1.7v1.6h-2zM245.2,955.5h1.7v2.0h-2zM292.4,905.8h2.5v1.4h-2zM292.3,901.5h2.3v1.7h-2zM341.8,824.0h1.7v2.0h-2zM318.4,727.1h2.4v1.7h-2zM301.1,892.6h1.2v1.6h-2zM294.8,900.8h1.6v1.4h-2zM251.5,948.3h2.3v1.9h-2zM263.9,936.3h2.3v2.5h-2zM358.7,805.9h2.5v2.0h-2zM318.7,727.6h2.3v1.5h-2zM258.6,946.9h1.9v1.5h-2zM360.6,790.6h2.0v1.8h-2zM270.4,932.8h2.4v1.7h-2zM288.5,908.7h1.9v1.2h-2zM323.7,731.2h1.5v2.5h-2zM339.9,830.0h2.5v1.6h-2zM324.2,731.7h1.2v1.7h-2zM282.7,912.0h2.1v2.5h-2zM345.8,743.1h2.1v1.8h-2zM283.5,911.7h1.4v2.5h-2zM318.3,872.1h1.6v1.9h-2zM286.7,912.6h2.1v1.6h-2zM252.6,948.6h1.7v1.7h-2zM312.5,884.6h1.2v2.2h-2zM360.5,797.2h2.1v1.7h-2zM347.4,775.6h1.2v1.3h-2zM330.8,856.7h1.7v2.2h-2zM352.9,787.9h1.6v1.8h-2zM348.1,765.1h1.6v1.4h-2zM289.3,908.4h2.5v2.1h-2zM349.3,800.1h2.6v1.8h-2zM334.3,837.9h2.5v1.3h-2zM337.5,839.6h1.9v1.8h-2zM270.8,926.0h1.6v1.5h-2zM357.0,782.5h2.4v2.4h-2zM278.3,919.5h2.1v1.5h-2zM346.4,836.8h2.2v1.3h-2zM314.5,876.1h1.2v2.5h-2zM277.0,915.4h2.6v1.3h-2zM310.5,880.8h2.6v1.3h-2zM311.3,880.7h2.2v1.7h-2zM336.5,727.4h1.2v2.3h-2zM342.9,765.2h1.3v1.6h-2zM296.7,729.8h2.4v2.1h-2zM281.7,911.6h2.2v1.3h-2zM351.6,755.5h1.4v2.4h-2zM254.7,943.2h2.2v1.4h-2zM324.1,727.0h1.9v1.8h-2zM340.7,734.4h1.8v2.6h-2zM317.1,868.6h2.5v2.5h-2zM344.8,817.1h1.5v1.7h-2zM361.5,795.0h2.3v2.5h-2zM336.1,736.8h2.1v1.6h-2zM249.7,956.9h1.6v1.9h-2zM304.7,895.0h1.4v1.3h-2zM271.8,933.6h1.8v1.9h-2zM330.6,853.2h2.2v1.6h-2zM284.3,909.5h2.2v1.8h-2zM263.5,937.2h1.7v1.5h-2zM259.1,939.4h2.4v1.5h-2zM266.6,936.7h1.3v1.2h-2zM259.0,937.4h1.7v1.8h-2zM346.1,760.8h1.8v2.1h-2zM351.1,773.9h1.9v2.2h-2zM277.4,917.1h1.8v1.3h-2zM291.8,905.2h2.0v1.8h-2zM339.9,834.7h1.8v2.2h-2zM337.5,843.0h1.2v2.2h-2zM280.8,916.7h1.8v1.7h-2zM347.7,807.8h2.4v2.5h-2zM350.6,803.4h1.6v2.5h-2zM328.9,855.1h1.9v1.9h-2zM299.2,898.6h2.5v2.1h-2zM271.9,926.3h2.5v1.4h-2zM354.2,802.9h2.6v1.7h-2zM272.3,930.0h1.3v1.6h-2zM348.4,781.1h2.6v2.4h-2zM295.0,901.4h2.5v1.8h-2zM334.6,736.1h2.1v1.3h-2zM309.8,893.1h2.5v1.8h-2zM348.3,758.8h2.0v1.6h-2zM265.3,938.6h1.4v1.9h-2zM276.8,922.4h2.4v2.1h-2zM334.6,734.2h1.5v1.6h-2zM336.7,727.4h1.7v1.8h-2zM315.1,882.9h1.3v1.3h-2zM361.0,805.3h1.6v2.5h-2zM287.7,908.3h2.5v1.5h-2zM303.0,892.3h2.2v1.2h-2zM358.1,801.0h2.4v1.8h-2zM319.1,871.2h1.3v1.4h-2zM317.2,876.2h1.8v1.6h-2zM314.6,724.3h1.6v2.4h-2zM352.5,769.7h1.7v1.5h-2zM300.9,892.1h1.9v1.5h-2zM280.0,913.1h1.8v2.6h-2zM260.4,939.9h1.4v1.9h-2zM256.3,943.1h2.2v1.4h-2zM315.4,726.0h1.6v2.1h-2zM349.5,753.8h1.5v2.2h-2zM352.2,738.1h1.8v2.5h-2zM356.7,774.6h2.2v2.5h-2zM312.9,729.2h1.7v2.1h-2zM357.0,778.4h2.1v1.8h-2zM253.7,952.7h1.3v1.6h-2zM358.2,782.8h2.5v2.1h-2zM264.7,944.8h1.6v1.3h-2zM260.0,945.4h2.3v1.5h-2zM320.9,877.1h2.2v2.4h-2zM347.5,827.4h1.7v1.9h-2zM282.5,910.7h2.4v2.3h-2zM282.4,918.9h1.6v2.0h-2zM352.8,810.1h1.8v1.5h-2zM337.1,839.7h2.2v1.2h-2zM288.0,906.1h2.2v2.0h-2zM348.0,811.0h1.4v2.1h-2zM239.1,966.1h2.2v1.2h-2zM285.5,911.3h2.2v1.8h-2zM354.4,751.1h2.0v1.3h-2zM276.6,914.8h2.6v2.0h-2zM345.4,761.9h1.7v1.7h-2zM350.0,747.0h1.6v1.5h-2zM359.2,769.0h1.7v2.5h-2zM259.2,937.3h2.4v2.2h-2zM325.2,859.6h1.4v2.5h-2zM353.4,820.9h2.3v2.2h-2zM342.6,736.8h1.6v2.0h-2zM347.9,738.9h1.8v2.6h-2zM289.7,905.9h2.1v2.4h-2zM272.6,927.7h1.8v1.7h-2zM283.7,908.6h1.7v1.2h-2zM252.2,950.6h1.9v1.8h-2zM254.9,947.0h2.1v2.3h-2zM341.0,734.4h1.8v1.7h-2zM353.8,765.1h1.5v2.2h-2zM289.5,908.6h2.5v1.7h-2zM350.7,810.8h2.4v2.0h-2zM349.3,753.7h2.1v2.2h-2zM354.7,809.4h1.9v2.0h-2zM351.1,748.1h1.9v1.9h-2zM345.5,760.7h2.2v2.0h-2zM350.1,799.9h1.3v1.5h-2zM319.3,871.2h1.4v1.4h-2zM345.6,748.8h2.4v1.4h-2zM318.5,867.1h1.5v1.9h-2zM260.5,937.0h1.3v2.0h-2zM245.3,955.7h1.5v1.8h-2zM250.9,948.4h1.6v1.4h-2zM331.5,852.5h1.6v2.6h-2zM348.7,831.2h1.9v2.4h-2zM324.5,728.3h2.4v2.6h-2zM282.4,909.1h1.7v1.5h-2zM357.6,767.7h1.9v2.0h-2zM303.7,894.4h1.5v1.5h-2zM256.5,950.5h1.6v1.9h-2zM344.4,824.8h2.2v2.5h-2zM347.0,763.6h1.7v1.6h-2zM343.4,819.1h2.3v2.2h-2zM270.3,933.5h1.7v2.2h-2zM318.5,870.5h2.3v2.6h-2zM359.2,761.7h1.8v2.0h-2zM330.0,853.4h1.6v2.0h-2zM336.6,853.1h1.6v1.7h-2zM283.4,910.7h1.3v1.9h-2zM355.4,777.9h1.6v2.2h-2zM357.4,790.1h1.9v1.3h-2zM343.8,816.3h2.3v2.4h-2zM331.5,862.2h1.2v1.7h-2zM309.1,727.3h1.8v2.2h-2zM326.0,857.0h2.1v2.3h-2zM243.6,958.7h1.6v2.1h-2zM330.1,854.5h1.3v1.4h-2zM346.4,771.8h1.7v2.2h-2zM257.5,939.2h2.1v2.3h-2zM270.4,923.3h2.6v1.8h-2zM344.0,825.0h2.0v1.3h-2zM317.5,873.9h2.5v2.1h-2zM354.0,749.8h2.5v1.7h-2zM348.6,778.0h1.9v1.7h-2zM345.8,813.5h2.5v1.7h-2zM348.8,797.4h1.3v2.1h-2zM305.7,890.9h2.5v1.7h-2zM362.4,799.6h1.7v1.7h-2zM298.6,900.2h2.0v1.4h-2zM346.0,832.1h1.2v2.4h-2zM351.0,806.6h2.0v2.4h-2zM349.9,803.3h1.8v1.8h-2zM354.0,774.1h2.6v1.2h-2zM335.2,839.2h2.2v1.3h-2zM322.3,864.3h2.5v2.0h-2zM350.6,801.5h1.5v1.8h-2zM359.1,755.5h1.4v2.5h-2zM358.6,767.0h2.1v2.0h-2zM348.7,757.6h2.6v2.4h-2zM351.6,813.0h1.3v1.3h-2zM269.8,924.9h1.7v1.3h-2zM285.3,911.2h2.4v2.2h-2zM306.2,888.1h2.3v2.4h-2zM349.7,775.9h2.6v2.2h-2zM297.4,896.7h2.1v1.2h-2zM331.8,731.5h2.1v1.8h-2zM255.4,945.8h2.0v2.6h-2zM346.1,817.7h1.3v2.6h-2zM340.6,831.2h2.0v1.5h-2zM249.7,962.2h1.7v2.0h-2zM262.8,944.2h1.9v1.9h-2zM324.5,870.9h2.1v2.4h-2zM333.5,729.3h1.8v2.2h-2zM313.4,884.0h1.8v1.3h-2zM308.0,887.3h2.2v1.4h-2zM268.6,926.4h1.5v1.7h-2zM326.8,863.5h1.6v2.0h-2zM336.9,846.6h2.4v1.3h-2zM277.9,921.1h2.1v1.7h-2zM338.4,735.1h2.6v1.8h-2zM246.7,962.5h2.5v1.5h-2zM252.4,947.2h2.3v1.7h-2zM264.1,931.9h1.4v2.0h-2zM286.2,909.3h1.3v1.8h-2zM347.4,772.6h1.8v1.3h-2zM333.0,846.2h1.5v1.3h-2zM310.4,725.7h1.3v2.2h-2zM334.0,858.2h2.0v2.6h-2zM345.9,734.8h1.2v2.6h-2zM350.1,826.1h1.6v1.8h-2zM295.8,901.1h1.8v2.0h-2zM346.1,836.5h1.8v1.9h-2zM250.7,947.8h2.2v2.1h-2zM339.6,851.8h1.2v1.5h-2zM285.9,909.1h1.8v2.5h-2zM292.0,906.3h1.4v1.4h-2zM350.8,748.4h2.2v1.4h-2zM346.8,814.2h2.4v1.4h-2zM354.4,795.6h1.3v1.5h-2zM343.4,832.2h2.5v1.4h-2zM357.2,787.2h1.6v2.0h-2zM354.1,765.2h2.5v2.1h-2zM358.7,806.8h1.5v2.0h-2zM349.9,738.1h1.8v1.3h-2zM315.9,874.9h1.9v1.6h-2zM318.3,872.7h1.5v1.6h-2zM333.5,845.8h1.6v2.5h-2zM353.4,810.2h1.2v1.5h-2zM358.1,768.9h1.5v2.2h-2zM349.5,780.5h1.8v2.2h-2zM349.1,759.7h1.9v1.3h-2zM345.2,771.4h2.2v1.7h-2zM343.8,744.0h1.4v1.3h-2zM353.5,803.8h1.9v1.4h-2zM268.9,934.4h2.0v2.6h-2zM348.1,814.0h1.3v1.3h-2zM251.8,946.6h2.4v2.6h-2zM296.0,901.2h1.3v2.0h-2zM349.0,809.5h2.3v1.3h-2zM328.8,867.0h2.3v1.7h-2zM289.0,909.2h2.3v1.2h-2zM352.0,806.5h2.3v1.5h-2zM345.6,814.0h2.4v1.3h-2zM261.7,935.9h1.5v2.1h-2zM320.5,877.5h1.4v2.6h-2zM277.0,917.3h2.2v2.4h-2zM258.5,946.5h1.9v2.2h-2zM247.3,952.6h2.3v1.6h-2zM351.6,808.6h2.0v2.5h-2zM329.0,733.3h2.5v2.4h-2zM305.9,894.9h2.1v2.5h-2zM300.9,898.7h1.4v2.3h-2zM298.5,899.0h1.3v1.8h-2zM286.4,908.2h2.2v1.8h-2zM265.1,939.1h2.4v1.5h-2zM349.5,822.5h2.3v2.4h-2zM312.0,887.3h2.0v2.4h-2zM362.9,777.4h1.5v2.0h-2zM341.8,833.6h2.3v2.1h-2zM347.8,776.4h2.1v1.8h-2zM335.8,843.1h1.9v2.1h-2zM272.9,920.3h2.4v1.4h-2zM304.7,891.3h2.2v1.2h-2zM335.9,857.2h1.5v2.5h-2zM274.4,923.9h1.6v2.3h-2zM341.5,846.2h1.3v2.5h-2zM299.9,893.5h1.7v2.4h-2zM269.8,922.1h1.9v2.4h-2zM353.7,782.1h2.0v2.6h-2zM315.9,882.4h1.5v1.6h-2zM283.9,908.9h2.3v1.9h-2zM347.9,755.8h2.1v2.3h-2zM334.3,853.4h2.4v1.8h-2zM349.6,740.9h1.6v2.1h-2zM352.7,824.4h1.6v2.0h-2zM320.9,872.0h2.3v2.1h-2zM290.8,904.1h1.4v2.2h-2zM353.4,760.6h1.7v1.7h-2zM333.6,857.3h1.9v2.1h-2zM340.6,837.5h1.9v2.4h-2zM351.9,811.3h2.4v2.3h-2zM348.5,766.4h2.5v2.5h-2zM308.4,893.1h2.1v1.6h-2zM350.4,748.2h2.5v1.6h-2zM309.5,881.1h2.2v1.3h-2zM330.6,856.6h1.9v2.6h-2zM248.6,951.7h1.4v1.5h-2zM320.1,869.5h2.3v1.6h-2zM262.4,944.4h1.9v1.8h-2zM355.7,746.9h1.7v2.5h-2zM295.4,901.2h2.5v1.7h-2zM346.3,820.4h2.2v2.2h-2zM286.0,906.5h2.3v1.3h-2zM269.7,925.9h2.3v1.5h-2zM329.5,852.2h2.2v1.3h-2zM351.1,798.3h2.0v2.0h-2zM356.4,782.1h2.2v2.2h-2zM287.5,905.0h1.3v1.4h-2zM282.9,914.8h2.5v2.6h-2zM355.0,755.2h2.1v2.5h-2zM350.4,801.6h2.2v1.7h-2zM306.7,894.5h1.7v1.2h-2zM356.9,740.9h1.3v1.7h-2zM248.2,960.9h1.2v1.5h-2zM323.7,871.4h1.5v1.8h-2zM250.4,953.9h2.0v2.2h-2zM278.7,917.0h2.2v1.9h-2zM281.7,916.6h2.2v2.3h-2zM354.0,802.7h2.2v2.1h-2zM348.5,805.7h1.3v1.5h-2zM356.4,813.1h1.8v1.3h-2zM285.9,908.4h2.2v1.5h-2zM269.9,926.5h2.4v2.5h-2zM310.6,723.8h2.0v2.1h-2zM271.0,933.3h1.8v1.2h-2zM352.2,792.4h1.4v2.1h-2zM348.9,800.2h1.9v2.1h-2zM347.9,747.5h1.7v1.6h-2zM339.5,840.3h1.2v1.3h-2zM346.7,760.3h2.6v2.5h-2zM248.8,952.9h2.5v2.4h-2zM323.3,725.7h1.3v2.1h-2zM333.3,844.5h1.7v1.7h-2zM359.7,750.5h1.9v2.1h-2zM332.0,855.0h1.5v2.4h-2zM327.2,854.5h1.3v1.4h-2zM343.2,734.9h2.0v2.6h-2zM360.7,775.8h2.5v2.5h-2zM259.8,933.8h1.6v2.5h-2zM317.4,728.0h2.1v2.1h-2zM352.2,786.7h1.6v1.2h-2zM353.6,799.9h1.4v1.3h-2zM352.4,744.0h1.2v1.7h-2zM348.8,772.0h2.4v2.5h-2zM294.4,904.0h2.2v1.8h-2zM350.2,760.5h1.7v2.3h-2zM346.8,762.5h1.2v1.5h-2zM343.4,741.6h1.5v1.4h-2zM356.5,757.2h2.0v1.3h-2zM335.1,839.9h1.7v2.2h-2zM347.2,768.6h2.1v2.4h-2zM355.9,779.0h1.5v1.5h-2zM307.4,892.2h1.2v1.3h-2zM305.1,892.4h1.4v1.8h-2zM286.0,910.5h1.5v1.8h-2zM356.4,750.3h1.7v1.3h-2zM267.7,928.7h2.5v2.4h-2zM353.5,750.4h1.9v1.6h-2zM358.4,749.5h2.2v1.3h-2zM290.1,908.5h1.3v2.2h-2zM280.2,916.5h1.9v1.2h-2zM283.2,917.9h2.1v1.4h-2zM317.0,874.0h2.4v1.7h-2zM362.4,783.7h1.8v2.4h-2zM341.2,842.4h2.0v2.5h-2zM315.8,881.7h1.3v1.7h-2zM280.7,917.4h1.9v1.6h-2zM282.8,908.6h1.4v1.8h-2zM309.9,729.7h1.4v2.3h-2zM247.4,957.8h1.5v1.4h-2zM304.9,895.7h2.4v1.3h-2zM358.8,808.2h1.6v2.0h-2zM342.0,820.9h1.8v1.3h-2zM343.3,765.9h1.4v1.4h-2zM345.6,746.8h1.9v1.4h-2zM351.0,811.1h1.9v2.0h-2zM295.3,898.1h2.2v1.6h-2zM344.9,813.2h2.2v1.3h-2zM282.9,914.0h1.7v2.3h-2zM357.8,783.4h1.3v2.6h-2zM257.0,941.2h2.2v1.7h-2zM279.3,917.8h1.6v1.2h-2zM351.1,775.5h1.8v1.7h-2zM259.1,939.3h1.9v1.2h-2zM359.9,779.0h2.0v1.5h-2zM342.7,817.9h1.6v1.6h-2zM346.6,747.5h1.5v1.2h-2zM259.3,940.8h2.4v1.3h-2zM357.3,802.2h2.6v1.2h-2zM359.2,748.3h1.3v1.7h-2zM336.5,842.1h1.3v1.4h-2zM352.7,735.2h2.4v1.7h-2zM274.4,928.0h1.3v1.4h-2zM293.3,901.9h2.3v1.3h-2zM252.6,947.2h2.3v2.1h-2zM280.8,916.9h1.4v2.1h-2zM349.2,814.9h1.3v1.5h-2zM309.5,727.2h2.1v2.5h-2zM349.1,804.4h1.3v1.8h-2zM321.3,868.9h1.6v1.6h-2zM337.6,836.6h1.9v1.4h-2zM354.4,808.9h1.9v1.7h-2zM271.8,918.7h1.7v1.9h-2zM341.8,834.2h2.5v1.8h-2zM313.0,878.0h1.3v2.3h-2zM352.1,745.9h2.5v1.4h-2zM292.0,908.5h2.1v1.7h-2zM272.1,925.4h1.3v1.6h-2zM348.0,772.4h2.0v1.8h-2zM349.4,806.9h1.4v1.5h-2zM267.7,936.9h2.5v1.9h-2zM357.3,784.4h2.2v1.4h-2zM355.5,802.0h2.3v1.2h-2zM261.5,933.1h1.6v1.4h-2zM320.9,863.9h1.5v1.7h-2zM339.8,831.3h2.4v2.3h-2zM344.3,834.1h1.6v2.5h-2zM323.8,727.3h2.3v1.5h-2zM341.2,740.5h1.6v2.1h-2zM308.9,888.6h2.1v1.3h-2zM349.2,791.7h2.2v2.1h-2zM336.6,739.2h1.9v1.8h-2zM355.2,797.7h2.4v2.5h-2zM311.6,725.8h1.5v1.8h-2zM308.2,887.8h2.4v2.0h-2zM318.4,870.4h2.0v1.3h-2zM244.7,954.7h1.2v2.5h-2zM354.3,807.1h2.2v1.4h-2zM255.9,945.9h1.8v1.3h-2zM270.7,926.1h2.3v2.0h-2zM325.1,730.9h1.7v2.2h-2zM301.1,897.7h1.5v2.0h-2zM268.0,925.2h2.4v2.5h-2zM348.1,782.0h2.4v1.7h-2zM336.0,727.0h2.5v2.5h-2zM273.0,926.2h1.8v1.2h-2zM354.1,769.7h1.9v1.9h-2zM349.1,747.9h2.3v2.0h-2zM355.8,810.8h1.5v2.0h-2zM348.6,760.5h2.4v2.5h-2zM343.1,730.0h2.5v2.0h-2zM300.4,898.9h1.7v2.3h-2zM352.6,817.4h1.8v1.6h-2zM360.5,792.8h1.6v1.8h-2zM281.9,911.0h1.9v1.9h-2zM275.0,923.9h2.6v1.8h-2zM317.0,879.9h2.1v1.9h-2zM262.1,946.0h1.9v2.2h-2zM298.8,896.8h2.2v1.2h-2zM348.8,772.1h2.0v1.5h-2zM354.6,782.5h2.5v2.3h-2zM311.2,728.1h1.9v1.2h-2zM255.7,942.8h1.7v1.7h-2zM240.8,962.8h1.3v2.3h-2zM258.7,938.3h2.5v1.7h-2zM353.4,736.8h1.5v1.3h-2zM342.0,822.8h1.4v2.0h-2zM358.0,743.8h1.9v2.2h-2zM296.0,899.4h2.6v1.3h-2zM334.2,726.0h1.4v1.8h-2zM352.4,754.4h1.7v2.6h-2zM298.7,898.7h1.2v2.1h-2zM348.9,781.2h2.1v1.8h-2zM253.2,959.2h2.0v1.8h-2zM316.9,727.6h2.4v2.5h-2zM261.4,939.4h2.1v1.9h-2zM260.0,937.8h1.5v1.7h-2zM298.0,900.7h1.4v2.5h-2zM350.9,796.9h2.3v2.6h-2zM324.1,860.4h1.4v2.4h-2zM269.8,924.8h2.4v1.3h-2zM293.3,904.0h1.8v2.5h-2zM354.9,744.1h2.0v1.8h-2zM347.3,819.2h2.4v1.6h-2zM353.3,745.9h2.5v2.6h-2zM290.9,903.7h2.1v1.6h-2zM281.1,921.0h1.6v2.0h-2zM253.4,945.6h2.4v1.6h-2zM271.3,924.8h2.5v1.2h-2zM278.8,911.3h2.4v2.1h-2zM348.6,774.3h1.6v1.4h-2zM346.6,813.6h1.5v2.5h-2zM241.3,958.8h2.1v2.6h-2zM351.1,794.4h2.2v1.5h-2zM284.7,908.5h1.9v1.4h-2zM331.1,857.9h1.9v1.6h-2zM321.5,870.5h1.7v1.3h-2zM294.2,898.5h2.6v1.7h-2zM259.1,939.0h2.5v1.8h-2zM310.6,879.4h2.5v2.1h-2zM254.7,944.1h1.5v1.6h-2zM348.1,814.3h1.3v1.9h-2zM353.3,757.9h1.3v1.5h-2zM259.9,946.7h2.6v1.6h-2zM252.4,951.0h1.9v1.5h-2zM262.0,943.0h2.5v1.6h-2zM262.1,938.1h1.2v2.0h-2zM295.9,897.6h1.7v2.1h-2zM318.3,729.5h1.4v2.2h-2zM257.7,939.6h1.4v1.4h-2zM346.5,759.5h2.0v2.0h-2zM293.6,901.1h1.4v2.5h-2zM301.7,728.3h1.9v1.7h-2zM335.2,859.7h1.3v2.6h-2zM345.7,817.5h1.3v1.7h-2zM354.4,738.4h2.3v1.8h-2zM352.3,764.2h1.9v2.5h-2zM264.0,943.0h1.4v2.1h-2zM335.7,726.9h2.2v1.5h-2zM307.3,887.0h1.3v2.5h-2zM314.0,727.6h2.0v1.6h-2zM321.7,872.1h1.8v2.2h-2zM305.3,893.4h1.6v2.1h-2zM305.5,890.4h1.9v2.3h-2zM340.2,836.8h1.3v1.8h-2zM317.6,726.1h2.2v2.3h-2zM353.4,760.6h1.6v1.4h-2zM311.9,876.9h1.5v1.4h-2zM255.2,943.1h2.4v2.2h-2zM355.9,757.2h2.4v1.3h-2zM335.4,853.2h2.4v2.0h-2zM255.9,948.5h1.4v1.7h-2zM263.7,939.4h1.9v1.8h-2zM248.6,956.1h2.2v2.3h-2zM267.1,930.8h2.0v1.6h-2zM341.0,735.4h1.8v1.7h-2zM342.6,842.0h2.4v2.6h-2zM292.2,903.8h1.6v1.3h-2zM318.3,876.2h2.4v1.6h-2zM352.9,809.2h1.5v1.3h-2zM356.0,795.0h2.4v2.4h-2zM291.9,905.9h2.2v1.7h-2zM337.0,740.5h2.4v1.8h-2zM351.7,792.8h1.6v1.9h-2zM237.2,966.9h2.3v2.2h-2zM353.5,759.6h1.5v1.2h-2zM255.6,949.4h2.5v1.5h-2zM246.5,953.1h1.9v2.4h-2zM353.8,741.4h1.8v1.7h-2zM346.5,808.6h1.5v2.0h-2zM304.7,891.1h1.9v2.2h-2zM287.8,909.1h2.1v2.3h-2zM278.8,916.9h1.6v2.3h-2zM276.2,915.5h2.2v1.3h-2zM353.5,737.0h2.5v1.7h-2zM316.6,881.2h1.7v2.4h-2zM357.8,792.9h2.0v1.6h-2zM348.3,746.3h2.6v2.1h-2zM345.6,769.3h2.5v1.7h-2zM304.4,886.2h1.7v1.6h-2zM356.5,786.9h2.2v1.2h-2zM350.5,815.2h2.0v2.3h-2zM261.8,937.7h2.1v1.4h-2zM244.3,962.8h1.9v2.2h-2zM252.8,952.0h2.6v2.3h-2zM250.6,951.8h1.4v2.4h-2zM272.3,920.5h1.3v2.1h-2zM333.2,733.6h2.3v1.3h-2zM270.0,923.2h2.4v1.8h-2zM354.0,815.0h1.2v1.7h-2zM361.6,744.3h2.2v2.1h-2zM328.3,855.7h1.8v2.3h-2zM350.7,824.8h1.6v2.5h-2zM260.9,940.4h2.0v1.7h-2zM276.3,913.2h2.5v1.9h-2zM352.2,771.1h2.5v1.7h-2zM270.3,928.6h2.3v2.2h-2zM312.2,885.8h1.8v1.9h-2zM356.9,766.2h2.5v2.1h-2zM346.6,809.9h2.1v1.9h-2zM300.3,893.8h2.4v1.6h-2zM350.2,770.1h2.3v1.6h-2zM349.1,761.4h2.1v2.5h-2zM358.5,800.2h1.6v2.1h-2zM301.2,897.9h1.5v1.9h-2zM261.1,937.4h2.6v2.4h-2zM286.9,907.3h1.5v2.3h-2zM335.0,846.7h1.7v1.3h-2zM358.5,746.8h2.3v2.3h-2zM334.4,737.8h1.3v1.6h-2zM349.5,740.8h1.5v1.5h-2zM302.3,895.2h1.4v2.2h-2zM327.0,725.5h1.8v2.5h-2zM310.7,886.8h2.2v2.1h-2zM248.2,951.7h1.8v2.4h-2zM305.0,896.6h2.5v2.6h-2zM271.6,932.9h2.6v1.2h-2zM271.2,920.3h1.6v2.2h-2zM355.3,791.1h1.7v2.2h-2zM268.8,930.6h1.6v2.3h-2zM330.0,849.8h2.1v2.6h-2zM337.3,837.1h1.8v1.9h-2zM297.3,902.1h1.8v1.3h-2zM356.0,808.1h1.7v1.9h-2zM267.0,935.9h2.4v1.5h-2zM285.0,909.3h1.4v1.4h-2zM345.5,832.8h1.2v1.8h-2zM334.0,850.4h2.3v1.8h-2zM274.1,928.2h1.9v1.2h-2zM350.2,771.0h2.0v1.3h-2zM333.6,849.2h2.4v1.3h-2zM349.0,756.8h1.4v1.8h-2zM252.5,950.1h1.9v1.5h-2zM300.8,896.4h2.1v1.9h-2zM349.7,759.6h1.9v1.9h-2zM339.8,841.6h2.6v2.4h-2zM295.6,903.9h1.5v2.6h-2zM349.9,775.4h1.4v1.6h-2zM244.5,964.5h1.6v2.3h-2zM352.6,782.6h1.5v2.5h-2zM309.2,890.6h2.6v1.6h-2zM256.1,946.1h1.9v1.7h-2zM256.1,942.6h2.2v2.5h-2zM316.9,880.4h1.6v1.7h-2zM351.9,788.2h2.0v1.5h-2zM321.0,867.8h2.6v2.3h-2zM341.0,838.7h1.8v1.7h-2zM310.3,727.0h2.5v1.8h-2zM360.7,801.2h1.9v1.5h-2zM346.0,835.8h2.4v2.3h-2zM255.6,946.4h2.0v2.3h-2zM352.3,773.9h1.3v2.6h-2zM320.8,865.6h1.7v2.5h-2zM322.8,874.4h2.5v1.6h-2zM337.5,836.7h2.3v1.6h-2zM354.6,758.0h2.1v2.2h-2zM355.0,793.5h2.6v1.8h-2zM342.7,731.1h1.3v1.8h-2zM318.4,726.8h1.5v1.4h-2zM338.8,731.9h1.8v2.1h-2zM280.7,920.3h1.5v2.6h-2zM309.9,726.2h2.2v2.6h-2zM348.9,758.0h1.6v2.1h-2zM347.3,743.1h2.1v1.9h-2zM290.2,904.5h2.4v2.6h-2zM336.1,838.5h2.5v2.4h-2zM351.1,809.1h2.0v1.3h-2zM330.6,849.2h2.0v2.6h-2zM306.5,729.8h1.4v2.2h-2zM335.1,848.8h1.2v1.6h-2zM343.9,733.1h1.6v2.2h-2zM347.8,817.3h2.1v1.4h-2zM352.4,752.9h2.3v1.4h-2zM260.4,943.0h2.3v1.3h-2zM348.7,754.1h2.5v1.3h-2zM333.8,854.1h1.3v2.4h-2zM292.0,908.0h1.5v2.5h-2zM348.2,837.8h1.3v2.3h-2zM281.7,911.4h2.4v2.5h-2zM324.5,864.8h1.8v2.3h-2zM253.5,958.6h1.5v2.2h-2zM354.5,751.0h2.2v2.5h-2zM282.2,910.5h1.8v1.5h-2zM350.9,793.3h1.3v1.5h-2zM342.2,735.1h1.7v1.5h-2zM289.9,905.0h1.4v1.7h-2zM338.8,842.1h1.8v1.5h-2zM275.6,915.6h1.3v1.8h-2zM300.6,897.2h2.3v1.4h-2zM308.3,895.7h2.5v1.7h-2zM347.4,758.3h1.4v1.8h-2zM351.1,768.2h2.5v2.5h-2zM273.3,919.3h1.9v1.2h-2zM306.8,729.1h2.4v1.8h-2zM312.2,727.8h2.2v1.3h-2zM356.1,806.9h2.2v1.8h-2zM301.8,897.2h2.0v1.8h-2zM293.5,902.0h2.1v1.9h-2zM300.6,899.4h1.3v1.9h-2zM276.9,922.8h2.3v2.4h-2zM354.9,809.8h1.3v2.2h-2zM351.7,788.1h2.3v1.6h-2zM347.3,738.0h1.3v1.7h-2zM307.9,889.4h1.5v1.5h-2zM277.3,913.5h2.2v2.3h-2zM266.3,934.9h1.5v2.3h-2zM267.0,935.9h1.8v2.4h-2zM322.6,871.6h2.2v1.7h-2zM273.6,920.3h2.6v1.2h-2zM312.5,728.7h1.9v1.8h-2zM266.0,939.3h2.4v1.7h-2zM320.7,724.7h2.3v2.3h-2zM250.4,959.8h2.2v1.5h-2zM344.3,841.2h1.5v1.4h-2zM299.9,899.6h1.3v1.6h-2zM267.1,930.7h2.3v2.2h-2zM261.3,940.6h1.5v1.5h-2zM357.4,799.8h2.1v1.6h-2zM267.6,932.4h1.7v1.4h-2zM361.5,779.8h1.7v1.9h-2zM326.5,733.0h1.9v1.7h-2zM354.3,764.4h1.5v1.5h-2zM358.5,798.8h1.7v1.9h-2zM326.1,730.9h1.5v2.2h-2zM328.0,726.7h2.4v2.5h-2zM356.6,754.2h2.0v1.7h-2zM355.4,749.6h1.7v2.6h-2zM280.1,914.1h2.4v2.3h-2zM357.7,809.2h2.3v2.2h-2zM333.1,856.8h1.6v2.1h-2zM281.5,910.8h1.2v1.9h-2zM348.1,739.0h2.2v1.3h-2zM343.4,745.2h1.9v1.9h-2zM250.9,959.4h2.0v1.9h-2zM341.1,823.5h1.4v2.5h-2zM255.6,947.8h1.8v2.2h-2zM271.8,934.7h2.2v1.3h-2zM350.1,769.9h2.3v1.4h-2zM303.3,897.5h1.7v1.3h-2zM272.9,927.3h1.3v1.5h-2zM353.1,805.9h1.9v2.4h-2zM358.0,798.0h2.0v2.0h-2zM282.8,914.7h2.6v1.4h-2zM361.5,793.2h1.9v2.5h-2zM249.0,951.8h2.0v1.9h-2zM300.4,899.0h1.8v2.0h-2zM320.6,874.0h2.1v1.8h-2zM325.2,864.9h1.7v1.5h-2zM312.2,726.2h2.1v2.5h-2zM351.6,815.9h2.3v1.9h-2zM315.9,883.9h1.7v1.7h-2zM275.7,913.8h2.2v1.8h-2zM250.8,950.8h1.3v2.0h-2zM297.3,901.6h2.0v1.8h-2zM357.0,797.6h1.5v2.2h-2zM317.0,871.5h1.2v1.6h-2zM250.8,954.9h1.7v1.5h-2zM342.6,842.7h2.5v2.2h-2zM287.5,909.0h2.5v1.4h-2zM350.8,797.1h2.3v1.6h-2zM277.5,919.8h2.4v2.1h-2zM355.7,790.0h1.6v1.4h-2zM307.5,885.5h1.4v2.1h-2zM261.0,938.4h2.5v1.3h-2zM349.2,760.6h1.6v1.6h-2zM310.7,880.8h2.0v2.1h-2zM261.5,942.9h2.4v2.0h-2zM299.2,898.9h1.8v2.4h-2zM332.9,843.1h1.7v2.4h-2zM332.4,850.9h2.0v2.2h-2zM330.6,858.2h1.3v2.1h-2zM313.0,877.8h2.1v2.4h-2zM274.2,926.9h1.4v1.5h-2zM275.2,927.5h2.0v1.4h-2zM320.4,876.8h2.0v2.3h-2zM347.5,770.5h1.9v1.4h-2zM293.0,901.5h1.8v1.8h-2zM354.7,777.8h1.8v2.3h-2zM347.6,745.8h1.3v2.3h-2zM256.9,942.4h1.3v2.4h-2zM329.0,863.3h2.5v1.8h-2zM351.5,823.2h1.7v1.7h-2zM353.4,773.9h1.6v2.2h-2zM345.4,762.6h1.8v2.4h-2zM261.8,941.2h2.3v1.6h-2zM348.6,745.9h2.5v1.6h-2zM258.0,938.8h1.5v2.2h-2zM281.1,913.2h1.3v1.2h-2zM343.4,818.8h1.4v2.4h-2zM254.6,949.1h2.3v2.2h-2zM333.3,846.1h1.8v1.4h-2zM247.7,958.9h2.5v1.2h-2zM274.2,919.0h2.4v1.8h-2zM247.8,952.4h1.3v2.0h-2zM327.5,857.9h2.0v2.4h-2zM284.7,909.9h2.4v2.6h-2zM359.9,797.7h1.4v1.8h-2zM357.4,799.5h1.6v1.3h-2zM264.7,930.7h2.2v2.3h-2zM250.2,951.3h1.6v1.3h-2zM284.5,911.5h1.2v2.2h-2zM277.2,920.8h2.0v1.7h-2zM257.7,945.4h2.4v1.7h-2zM329.1,863.1h2.4v2.4h-2zM283.8,912.1h1.3v1.7h-2zM288.9,902.2h2.5v1.6h-2zM266.8,939.4h1.7v2.0h-2zM316.1,723.0h1.3v1.3h-2zM256.3,944.2h1.3v2.2h-2zM315.0,874.3h2.4v1.8h-2zM342.5,820.5h1.9v2.6h-2zM270.7,922.0h2.4v1.5h-2zM307.7,730.1h2.4v1.7h-2zM295.2,899.1h1.3v2.2h-2zM351.0,765.4h2.2v2.2h-2zM315.3,726.2h1.5v2.0h-2zM295.7,903.1h1.5v1.8h-2zM355.2,752.2h1.8v2.2h-2zM328.3,859.9h1.3v2.0h-2zM277.5,914.9h1.4v2.1h-2zM297.0,900.8h1.8v1.5h-2zM294.3,906.2h1.4v1.7h-2zM242.5,962.6h2.6v1.7h-2zM276.4,917.5h1.7v2.6h-2zM349.1,736.8h2.6v2.4h-2zM295.8,902.5h1.2v1.9h-2zM345.3,769.4h1.7v2.1h-2zM263.6,943.5h2.5v2.2h-2zM268.4,925.7h2.5v1.2h-2zM297.7,897.3h2.4v1.2h-2zM249.8,960.5h2.1v2.1h-2zM323.1,864.1h1.6v2.4h-2zM297.7,731.6h1.2v1.8h-2zM351.8,759.3h2.4v1.6h-2zM307.2,886.5h1.5v2.4h-2zM350.1,759.9h2.2v2.6h-2zM248.5,953.1h2.5v1.3h-2zM354.6,807.2h1.3v1.8h-2zM346.0,771.1h1.2v1.5h-2zM300.8,897.1h1.3v1.7h-2zM306.9,889.0h1.3v1.6h-2zM346.0,759.0h1.2v1.3h-2zM349.6,775.1h1.8v1.6h-2zM353.6,772.4h1.8v2.5h-2zM292.9,904.7h2.5v2.0h-2zM249.7,949.4h2.6v2.3h-2zM344.3,767.4h2.4v1.4h-2zM355.7,774.3h1.2v1.6h-2zM353.3,814.3h1.4v1.9h-2zM332.6,848.2h2.5v1.8h-2zM353.5,802.2h1.8v2.6h-2zM307.3,728.7h2.1v1.7h-2zM355.2,745.2h1.6v2.4h-2zM354.6,752.4h2.3v2.4h-2zM312.7,884.1h1.8v1.6h-2zM295.1,897.7h1.6v2.1h-2zM347.4,771.3h1.9v1.4h-2zM354.3,806.1h1.6v2.1h-2zM346.9,806.9h2.0v2.5h-2zM347.8,738.7h2.5v1.7h-2zM306.2,891.6h1.4v2.2h-2zM338.8,739.7h1.8v1.5h-2zM276.4,916.1h2.2v2.2h-2zM296.5,902.2h2.5v1.8h-2zM313.2,878.4h1.6v1.9h-2zM349.0,736.8h1.9v1.9h-2zM305.9,889.9h1.7v1.4h-2zM329.7,859.1h1.4v2.6h-2zM320.1,872.0h2.0v1.9h-2zM336.4,734.2h1.3v2.5h-2zM257.9,944.3h1.8v1.9h-2zM303.0,895.7h1.5v1.6h-2zM275.4,920.9h2.4v2.6h-2zM264.2,933.4h2.4v1.7h-2zM346.0,812.2h1.4v1.9h-2zM336.8,737.5h2.0v1.5h-2zM349.7,826.2h2.2v1.9h-2zM254.3,955.0h1.6v2.1h-2zM349.6,815.7h1.4v1.2h-2zM353.5,800.7h2.5v2.5h-2zM291.3,904.6h2.2v2.5h-2zM343.5,770.3h1.4v1.6h-2zM321.4,862.7h2.6v1.2h-2zM253.0,957.6h1.4v2.2h-2zM359.0,748.8h1.7v2.6h-2zM318.4,871.0h1.9v1.9h-2zM288.3,907.9h1.8v1.7h-2zM352.0,809.6h2.4v1.4h-2zM276.6,920.6h2.2v1.2h-2zM345.4,772.0h2.6v1.6h-2zM339.6,824.7h1.5v2.6h-2zM309.4,726.1h1.3v1.3h-2zM359.8,782.2h2.3v2.0h-2zM325.2,871.9h1.8v1.3h-2zM298.1,899.6h1.3v2.4h-2zM250.3,949.6h1.6v2.0h-2zM287.0,908.5h1.2v2.4h-2zM303.0,892.5h2.4v2.5h-2zM325.7,868.9h2.4v2.2h-2zM327.8,861.7h1.5v1.3h-2zM290.2,906.6h1.2v2.1h-2zM255.2,948.2h1.2v1.7h-2zM327.7,732.8h1.7v1.5h-2zM249.8,952.6h1.4v1.7h-2zM313.5,879.9h1.3v1.8h-2zM321.1,725.4h2.0v1.4h-2zM340.3,744.5h1.5v2.0h-2zM327.9,868.3h2.1v2.4h-2zM354.5,758.4h2.5v2.2h-2zM349.5,804.4h2.0v2.5h-2zM276.4,923.2h2.4v2.2h-2zM354.0,769.5h1.8v1.6h-2zM296.2,898.7h1.7v1.7h-2zM352.4,825.1h1.3v1.3h-2zM347.2,776.9h2.1v1.9h-2zM360.1,794.0h1.6v2.4h-2zM247.8,951.9h2.5v2.1h-2zM320.9,872.2h1.7v1.9h-2zM348.8,809.7h2.2v1.6h-2zM253.4,943.5h1.7v2.0h-2zM253.4,951.3h1.3v1.7h-2zM350.5,769.6h2.1v1.7h-2zM237.7,966.7h1.3v1.7h-2zM354.9,741.5h2.5v2.4h-2zM336.0,736.2h2.2v1.5h-2zM300.4,898.0h2.0v1.5h-2zM256.6,941.1h2.5v1.7h-2zM280.8,919.3h1.6v1.9h-2zM269.3,927.9h2.3v2.5h-2zM351.5,799.5h2.1v1.4h-2zM331.8,853.6h1.9v2.0h-2zM326.6,727.6h1.7v1.7h-2zM347.3,745.2h2.5v1.6h-2zM259.7,934.9h1.3v1.8h-2zM318.8,730.6h1.3v2.1h-2zM350.9,774.5h2.2v1.7h-2zM272.5,932.1h2.3v2.5h-2zM362.4,796.1h2.5v1.6h-2zM297.1,899.7h1.9v2.1h-2zM329.2,858.6h2.1v1.8h-2zM346.5,742.1h2.4v2.3h-2zM351.2,815.4h1.4v2.2h-2zM257.8,948.1h2.4v2.3h-2zM267.2,938.6h1.7v2.1h-2zM355.8,739.7h2.6v2.6h-2zM312.0,725.6h2.5v2.5h-2zM275.8,913.2h2.6v2.4h-2zM250.6,955.4h2.1v1.9h-2zM350.9,795.1h1.6v2.0h-2zM354.9,816.4h2.3v1.3h-2zM351.7,769.1h1.5v1.6h-2zM325.6,728.8h2.2v1.9h-2zM355.8,756.4h1.3v2.2h-2zM259.4,938.1h1.6v1.5h-2zM309.2,892.6h1.4v2.4h-2zM256.8,947.2h2.6v1.4h-2zM258.1,943.2h1.9v2.4h-2zM321.5,730.3h2.3v2.0h-2zM284.9,908.8h2.1v2.2h-2zM252.9,949.1h2.4v2.3h-2zM248.0,954.6h1.4v1.9h-2zM313.3,728.7h1.8v2.3h-2zM265.7,938.9h2.0v1.9h-2zM344.1,765.5h2.3v2.1h-2zM300.0,901.1h1.4v1.8h-2zM350.1,783.9h2.5v2.3h-2zM263.2,939.6h2.3v2.2h-2zM247.4,956.4h2.4v1.5h-2zM318.3,865.6h2.4v1.9h-2zM314.7,726.5h1.7v2.1h-2zM278.2,920.2h1.6v1.4h-2zM347.8,737.5h1.4v2.1h-2zM266.8,930.0h2.0v2.4h-2zM353.8,750.3h2.0v1.6h-2zM246.2,956.3h1.3v2.2h-2zM350.2,763.7h2.4v2.0h-2zM322.3,725.2h1.9v1.9h-2zM344.7,766.9h2.4v2.6h-2zM312.5,881.5h1.3v2.2h-2zM322.6,728.6h1.7v1.3h-2zM279.5,914.8h1.9v1.3h-2zM268.4,924.8h1.4v1.6h-2zM350.3,812.7h1.7v2.5h-2zM315.7,873.1h1.5v2.2h-2zM298.8,892.6h2.3v2.4h-2zM351.5,771.4h1.9v1.9h-2zM360.5,748.3h1.9v1.4h-2zM285.1,912.0h1.6v2.0h-2zM321.6,728.4h2.5v1.9h-2zM335.2,844.4h1.9v1.4h-2zM339.3,832.1h2.4v1.5h-2zM261.4,942.6h2.6v2.5h-2zM257.5,946.4h1.9v2.0h-2zM348.8,825.1h1.3v2.1h-2zM362.5,783.9h1.5v1.9h-2zM346.1,740.9h2.0v1.8h-2zM344.5,768.9h2.5v2.0h-2zM311.1,723.5h2.4v1.5h-2zM352.7,802.3h2.2v1.3h-2zM346.7,745.0h1.7v2.2h-2zM263.9,942.1h2.0v1.4h-2zM346.6,769.0h2.4v2.3h-2zM249.2,954.8h1.6v2.5h-2zM331.6,850.7h2.3v1.4h-2zM248.6,950.8h2.3v2.3h-2zM340.0,743.1h1.7v1.4h-2zM253.2,951.1h2.1v2.0h-2zM327.6,725.5h2.4v2.6h-2zM344.0,838.8h1.2v1.6h-2zM273.8,920.3h2.5v1.4h-2zM345.5,764.1h1.9v1.5h-2zM243.4,956.9h2.5v1.5h-2zM337.5,733.8h1.6v1.9h-2zM311.8,888.2h2.2v2.1h-2zM330.6,730.3h2.0v2.2h-2zM263.9,938.4h1.2v1.9h-2zM350.3,766.5h1.8v1.9h-2zM282.8,912.6h1.4v1.6h-2zM334.0,856.3h1.5v1.6h-2zM253.2,944.6h2.5v1.7h-2zM351.9,760.7h1.8v1.7h-2zM284.2,910.6h1.7v2.5h-2zM353.5,760.8h1.9v1.4h-2zM299.7,896.6h2.4v1.5h-2zM335.8,848.8h2.4v1.2h-2zM356.7,804.1h1.4v2.0h-2zM356.5,747.1h1.4v1.5h-2zM342.0,738.3h1.4v2.5h-2zM339.6,743.1h1.7v2.3h-2zM358.0,759.1h2.2v1.3h-2zM260.1,941.3h1.6v1.5h-2zM349.1,753.1h1.6v2.3h-2zM313.2,725.5h1.2v2.4h-2zM255.4,948.9h2.1v1.9h-2zM277.4,920.3h2.3v1.2h-2zM338.1,847.5h1.9v1.3h-2zM350.5,800.4h2.5v2.1h-2zM353.3,739.7h2.4v2.1h-2zM256.1,943.8h2.0v2.0h-2zM358.4,801.7h2.0v2.5h-2zM328.5,850.3h1.2v2.1h-2zM262.0,941.2h2.3v2.5h-2zM259.4,950.0h1.7v1.5h-2zM344.3,767.3h2.6v1.5h-2zM303.5,889.6h1.2v1.4h-2zM355.8,777.0h1.2v1.4h-2zM361.2,792.6h2.6v1.3h-2zM351.7,776.7h1.7v1.5h-2zM264.2,930.8h1.6v1.8h-2zM274.7,928.6h1.4v1.3h-2zM270.7,928.0h1.3v2.2h-2zM357.1,809.0h1.7v2.2h-2zM314.2,728.7h2.5v2.6h-2zM355.3,747.5h2.3v2.1h-2zM336.5,853.6h2.2v1.5h-2zM258.5,945.2h2.3v2.5h-2zM288.6,905.9h2.3v2.5h-2zM273.4,919.9h2.5v2.2h-2zM295.3,904.8h2.4v1.8h-2zM324.7,860.1h1.9v1.8h-2zM264.5,934.9h2.3v1.9h-2zM292.1,902.0h1.8v1.3h-2zM350.5,792.8h1.7v2.3h-2zM350.5,822.9h1.2v2.2h-2zM253.0,947.3h1.8v1.9h-2zM357.4,803.0h2.3v1.9h-2zM267.5,926.3h2.2v1.4h-2zM245.4,962.9h2.3v1.9h-2zM348.7,786.7h1.7v1.4h-2zM345.2,831.1h2.6v1.3h-2zM329.3,857.5h2.3v1.3h-2zM282.0,915.2h2.4v2.0h-2zM360.9,751.7h1.9v2.5h-2zM291.2,905.9h2.0v1.9h-2zM357.9,797.4h1.3v1.9h-2zM354.7,768.2h1.6v1.5h-2zM242.4,961.2h1.6v1.7h-2zM253.1,947.5h2.1v2.2h-2zM253.8,954.6h1.9v1.2h-2zM357.5,752.4h2.2v2.3h-2zM294.7,899.3h1.3v1.7h-2zM359.4,790.0h1.8v1.3h-2zM323.1,865.2h1.4v2.6h-2zM309.8,888.6h2.3v2.0h-2zM341.7,743.8h1.2v2.0h-2zM265.2,928.0h1.9v2.1h-2zM346.6,742.5h2.3v2.3h-2zM345.2,775.5h1.6v2.5h-2zM315.4,882.0h2.2v1.2h-2zM322.3,863.3h2.2v1.2h-2zM355.4,783.1h1.6v1.7h-2zM273.7,917.7h1.8v1.2h-2zM300.1,892.4h2.4v1.6h-2zM348.9,739.4h1.9v1.6h-2zM256.9,945.4h2.1v1.8h-2zM278.8,917.9h1.2v1.9h-2zM246.7,954.4h1.9v1.7h-2zM354.8,808.3h1.7v2.1h-2zM277.1,917.8h2.6v1.4h-2zM352.6,809.6h1.9v2.6h-2zM302.2,726.8h1.5v1.8h-2zM345.0,744.4h2.4v2.4h-2zM359.0,771.9h2.4v2.2h-2zM338.4,837.5h1.2v2.2h-2zM246.8,957.9h1.8v2.3h-2zM355.0,802.1h2.2v2.6h-2zM284.7,913.3h2.4v1.7h-2zM311.4,882.5h1.9v1.7h-2zM312.4,725.5h1.3v1.8h-2zM343.5,836.4h2.1v1.9h-2zM344.9,741.4h1.4v1.8h-2zM327.4,861.8h1.7v2.3h-2zM298.7,894.5h2.2v1.3h-2zM308.1,884.4h1.6v1.9h-2zM257.8,944.1h1.8v2.1h-2zM350.2,802.4h1.9v1.9h-2zM309.4,882.1h1.5v2.2h-2zM360.9,777.6h2.1v1.7h-2zM248.6,960.6h2.1v2.6h-2zM347.3,821.0h1.5v2.3h-2zM307.7,890.4h1.5v2.3h-2zM339.4,842.8h1.3v2.6h-2zM261.5,939.6h2.3v2.5h-2zM354.9,813.3h2.2v2.1h-2zM315.3,726.7h1.3v2.2h-2zM248.2,962.1h1.7v1.2h-2zM348.9,745.4h2.5v1.2h-2zM297.0,902.6h2.0v1.2h-2zM244.5,958.4h1.9v1.5h-2zM361.4,789.9h1.9v2.5h-2zM359.5,779.5h2.3v1.9h-2zM340.0,836.5h1.3v2.1h-2zM350.4,739.2h2.2v2.5h-2zM321.5,880.1h1.8v1.6h-2zM266.9,932.8h1.6v1.8h-2zM259.8,943.0h1.5v1.7h-2zM357.5,797.3h1.5v2.1h-2zM354.5,794.2h2.0v2.5h-2zM344.6,825.8h2.5v1.3h-2zM303.1,891.7h2.0v1.5h-2zM263.3,932.2h1.9v1.6h-2zM336.5,741.6h2.5v2.5h-2zM351.5,737.2h2.3v1.8h-2zM352.8,761.0h1.8v2.3h-2zM353.9,759.7h2.0v1.2h-2zM361.1,794.2h2.2v2.2h-2zM243.2,963.7h2.2v1.7h-2zM300.2,729.4h1.7v1.9h-2zM269.2,930.8h2.4v2.5h-2zM288.8,910.5h2.1v2.5h-2zM341.3,743.3h2.6v2.0h-2zM254.2,945.6h1.9v2.4h-2zM316.4,881.6h2.5v1.4h-2zM349.7,797.2h1.3v1.7h-2zM340.4,847.2h2.0v2.1h-2zM336.7,838.6h2.4v1.8h-2zM321.3,864.5h2.2v2.2h-2zM321.1,727.1h1.8v1.6h-2zM353.5,754.3h2.4v1.2h-2zM290.1,905.4h1.3v2.6h-2zM333.4,849.9h2.1v2.4h-2zM349.4,770.9h2.4v1.3h-2zM249.2,957.6h1.6v2.4h-2zM271.7,922.0h2.0v1.3h-2zM353.9,804.6h1.4v1.2h-2zM299.3,895.7h2.6v2.5h-2zM244.3,965.1h2.2v1.7h-2zM290.2,910.0h2.1v2.6h-2zM333.6,846.8h1.3v1.7h-2zM355.5,765.1h1.9v1.3h-2zM321.7,731.7h2.1v1.5h-2zM265.6,931.0h2.4v2.1h-2zM351.4,816.0h1.9v2.5h-2zM321.9,727.9h1.8v1.9h-2zM296.7,897.9h1.6v1.3h-2zM321.7,860.8h1.7v2.2h-2zM333.0,734.3h2.3v2.1h-2zM344.4,825.5h1.7v1.7h-2zM319.8,867.1h2.5v1.4h-2zM307.1,884.9h2.0v1.4h-2zM350.9,761.6h1.9v2.4h-2zM253.8,947.1h1.4v2.4h-2zM318.6,867.0h2.1v2.1h-2zM344.2,827.5h2.5v1.5h-2z" fill="#7c70d8" fill-opacity="0.55"/>
<path d="M253.0,956.9 L250.9,953.0 L249.0,949.0 L247.2,945.0 L245.4,940.9 L243.8,936.8 L242.3,932.6 L240.9,928.4 L239.5,924.2 L238.3,919.9 L237.2,915.6 L236.2,911.3 L235.3,907.0 L234.5,902.6 L233.8,898.3 L233.2,893.9 L232.8,889.5 L232.4,885.0 L232.2,880.6 L232.0,876.2 L232.0,871.8 L232.1,867.3 L232.3,862.9 L232.6,858.5 L233.0,854.1 L233.5,849.7 L234.1,845.3 L234.9,840.9 L235.7,836.6 L236.7,832.2 L237.7,827.9 L238.9,823.7 L240.1,819.4 L241.5,815.2 L243.0,811.0 L244.6,806.9 L246.2,802.8 L248.0,798.7 L249.9,794.7 L251.9,790.7 L254.0,786.8 L256.1,783.0 L258.4,779.2 L260.8,775.4 L263.2,771.7 L265.8,768.1 L268.4,764.5 L271.1,761.0 L273.9,757.6 L276.8,754.3 L279.8,751.0 L282.8,747.8 L286.0,744.6 L289.2,741.6 L292.5,738.6 L295.8,735.7 L299.2,732.9 L302.7,730.2 L306.3,727.5 L309.9,725.0 L313.6,722.5 L314.1,723.3 L311.0,726.5 L307.8,729.6 L304.6,732.7 L301.6,735.8 L298.5,738.9 L295.6,742.1 L292.7,745.4 L289.9,748.6 L287.2,752.0 L284.5,755.4 L281.9,758.8 L279.4,762.2 L277.0,765.8 L274.7,769.3 L272.4,772.9 L270.2,776.5 L268.1,780.2 L266.1,783.9 L264.1,787.6 L262.3,791.4 L260.5,795.2 L258.8,799.0 L257.1,802.9 L255.6,806.7 L254.1,810.6 L252.7,814.6 L251.4,818.5 L250.1,822.5 L249.0,826.5 L247.9,830.6 L246.9,834.6 L245.9,838.7 L245.1,842.8 L244.3,846.9 L243.7,851.0 L243.1,855.1 L242.5,859.3 L242.1,863.4 L241.7,867.6 L241.5,871.8 L241.3,876.0 L241.2,880.2 L241.2,884.4 L241.2,888.7 L241.4,892.9 L241.6,897.1 L242.0,901.4 L242.4,905.6 L242.9,909.9 L243.5,914.1 L244.1,918.3 L244.9,922.6 L245.8,926.8 L246.7,931.0 L247.8,935.3 L248.9,939.5 L250.1,943.7 L251.3,947.9 L252.6,952.1 L253.9,956.5 Z" fill="#3a00f6"/>
</g>
<ellipse cx="262.6" cy="822" rx="6.8" ry="12.5" fill="#e8682c" fill-opacity="0.62"/>
<path d="M244.5,807.5 q-2,5 -0.5,11" stroke="#e02020" stroke-width="2.5" fill="none"/>
<circle cx="576.5" cy="926.5" r="14.5" fill="#f2c955"/>
<path d="M576.5,912 a14.5,14.5 0 0,0 0,29 a8,14.5 0 0,1 0,-29 Z" fill="#f8ecc4"/>
<path d="M509.2,724.8L482.2,764.8" stroke="#a8a8a8" stroke-width="2.2" stroke-linecap="butt"/>
<path d="M411.7,991.8L412.0,1050.8" stroke="#a8a8a8" stroke-width="2.2" stroke-linecap="butt"/>
<path d="M413.0,649.3L412.2,739.8" stroke="#141414" stroke-width="4.0" stroke-linecap="butt"/>
<path d="M521.7,704.8L509.2,724.8" stroke="#141414" stroke-width="4.0" stroke-linecap="butt"/>
<path d="M588.2,930.3L677.2,959.8" stroke="#141414" stroke-width="4.0" stroke-linecap="butt"/>
<path d="M333.2,993.3L284.7,1068.3" stroke="#141414" stroke-width="4.0" stroke-linecap="butt"/>
<path d="M412.0,1050.8L412.0,1057.3" stroke="#141414" stroke-width="4.0" stroke-linecap="butt"/>
<path d="M225.0,811.7L243.0,818.0" stroke="#111" stroke-width="3"/>
<path d="M146.0,788.9L224.1,814.4L225.9,809.0L148.3,782.1Z" fill="#0fd83e"/>
<path d="M148.0,782.9L225.7,809.7" stroke="#0cc236" stroke-width="1.6"/>
<path d="M113.0,774.0L143.1,797.3L151.1,773.6Z" fill="#10d03c"/>
<path d="M113.0,774.0L143.1,797.3L146.2,788.3Z" fill="#0bb832"/>
<ellipse cx="147.1" cy="785.5" rx="3.2" ry="12.5" transform="rotate(18.6,147.1,785.5)" fill="#0fcf3c"/>
<text x="405.0" y="642.9" font-size="27" font-style="italic" fill="#111">M<tspan font-size="19" dy="8.5">z</tspan></text>
<text x="683.5" y="970.7" font-size="27" font-style="italic" fill="#111">M<tspan font-size="19" dy="8.5">y</tspan></text>
<text x="262.5" y="1100.7" font-size="27" font-style="italic" fill="#111">M<tspan font-size="19" dy="8.5">x</tspan></text>
<text x="114" y="748.8" font-size="27.5" font-style="italic" fill="#111">H<tspan font-size="18.5" font-style="normal" dx="1" dy="8">ext</tspan></text>
<circle cx="1124.6" cy="872.8" r="180.5" fill="#3a00f6"/>
<g clip-path="url(#clipE)"><g filter="url(#speckE)"><rect x="940" y="688" width="372" height="372" fill="url(#densE)"/><ellipse cx="1190" cy="725" rx="80" ry="60" fill="url(#densE2)"/></g></g>
<circle cx="1124.6" cy="872.8" r="180.5" fill="none" stroke="#3a00f6" stroke-width="3"/>
<ellipse cx="1296" cy="928" rx="10" ry="14" fill="#f0c658"/>
<path d="M947,808 q-4,8 0,16" stroke="#e02020" stroke-width="3" fill="none"/>
<path d="M963,815 l3,-8 l2,10 z" fill="#c85a40" opacity="0.7"/>
<path d="M1126.0,649.8L1126.0,737.8" stroke="#141414" stroke-width="4.0" stroke-linecap="butt"/>
<path d="M1237.0,702.8L1225.0,721.8" stroke="#141414" stroke-width="4.0" stroke-linecap="butt"/>
<path d="M1305.0,932.8L1393.0,961.8" stroke="#141414" stroke-width="4.0" stroke-linecap="butt"/>
<path d="M1045.0,996.8L995.0,1073.3" stroke="#141414" stroke-width="4.0" stroke-linecap="butt"/>
<path d="M1124.0,1053.8L1124.8,1060.8" stroke="#141414" stroke-width="4.0" stroke-linecap="butt"/>
<path d="M934.6,811.7L953.0,816.7" stroke="#111" stroke-width="3"/>
<path d="M855.8,788.2L933.7,814.4L935.5,809.0L858.2,781.4Z" fill="#0fd83e"/>
<path d="M857.9,782.2L935.3,809.7" stroke="#0cc236" stroke-width="1.6"/>
<path d="M823.0,773.0L852.9,796.6L861.1,773.0Z" fill="#10d03c"/>
<path d="M823.0,773.0L852.9,796.6L856.0,787.6Z" fill="#0bb832"/>
<ellipse cx="857.0" cy="784.8" rx="3.2" ry="12.5" transform="rotate(19.1,857.0,784.8)" fill="#0fcf3c"/>
<text x="1118.5" y="644.9" font-size="27" font-style="italic" fill="#111">M<tspan font-size="19" dy="8.5">z</tspan></text>
<text x="1397.0" y="974.5" font-size="27" font-style="italic" fill="#111">M<tspan font-size="19" dy="8.5">y</tspan></text>
<text x="977.0" y="1104.0" font-size="27" font-style="italic" fill="#111">M<tspan font-size="19" dy="8.5">x</tspan></text>
<circle cx="1854.0" cy="869.2" r="177.2" fill="url(#sphG)"/>
<circle cx="1854.0" cy="869.2" r="177.2" fill="url(#sphS)"/>
<circle cx="1854.0" cy="869.2" r="177.2" fill="url(#sphT)"/>
<g clip-path="url(#clipF)">
<path d="M2003,781 L2040,800 L2040,1060 L1900,1060 L1905.0,1040.0 L1903.6,1039.0 L1909.8,1035.2 L1907.5,1037.4 L1908.5,1034.7 L1912.9,1033.5 L1913.1,1033.2 L1915.4,1032.9 L1912.9,1028.5 L1917.5,1031.6 L1914.5,1031.0 L1915.2,1027.7 L1921.7,1028.1 L1922.0,1026.5 L1921.5,1021.4 L1920.4,1021.0 L1923.5,1017.5 L1926.1,1020.7 L1924.6,1015.2 L1926.1,1018.4 L1924.0,1013.2 L1923.5,1013.0 L1927.7,1009.6 L1923.8,1010.1 L1923.7,1007.9 L1929.2,1007.5 L1923.9,1006.5 L1924.8,1005.8 L1926.0,1000.0 L1925.5,997.8 L1926.4,998.8 L1929.5,996.3 L1925.6,994.1 L1925.1,993.8 L1924.9,992.7 L1925.5,992.1 L1929.9,987.3 L1928.5,985.4 L1926.6,986.0 L1929.0,981.8 L1925.6,984.7 L1929.6,980.2 L1927.1,981.5 L1928.8,974.7 L1928.0,973.5 L1927.7,972.9 L1932.0,969.4 L1931.2,973.6 L1928.7,969.9 L1928.1,970.1 L1931.0,967.1 L1930.9,966.5 L1930.7,964.3 L1932.3,962.8 L1930.0,960.8 L1927.6,957.7 L1930.9,959.0 L1929.5,954.5 L1930.0,951.3 L1932.2,952.6 L1928.8,950.9 L1927.7,947.6 L1929.9,944.7 L1930.6,944.1 L1931.4,942.7 L1931.3,938.6 L1932.2,939.5 L1928.2,940.1 L1928.4,934.0 L1929.7,937.9 L1933.8,932.4 L1928.3,933.5 L1931.2,930.4 L1930.0,929.6 L1932.6,929.6 L1931.9,925.2 L1934.1,921.1 L1931.5,922.2 L1934.0,919.1 L1931.1,917.6 L1930.7,914.4 L1930.5,916.7 L1930.1,915.2 L1929.5,913.9 L1929.3,910.5 L1934.0,910.8 L1933.7,909.7 L1932.9,903.1 L1932.0,905.5 L1930.8,900.7 L1932.9,899.3 L1933.2,898.3 L1934.1,895.5 L1931.1,898.3 L1930.5,894.2 L1931.1,890.4 L1936.1,889.0 L1933.2,892.3 L1934.4,886.5 L1934.9,888.4 L1931.3,885.2 L1935.4,885.7 L1936.0,878.4 L1934.7,878.4 L1936.7,876.9 L1934.3,876.9 L1937.2,875.4 L1937.0,874.9 L1932.3,869.8 L1935.4,871.2 L1933.9,871.0 L1937.0,866.4 L1938.0,867.8 L1933.2,862.3 L1935.4,859.7 L1934.5,858.7 L1938.2,855.7 L1938.1,856.7 L1934.1,857.1 L1939.1,851.6 L1936.3,850.5 L1939.6,850.4 L1940.3,849.4 L1937.2,850.2 L1940.4,848.5 L1939.3,845.2 L1940.1,841.8 L1936.0,842.8 L1937.7,837.0 L1938.1,838.3 L1938.4,838.7 L1937.6,832.6 L1940.0,833.7 L1937.9,832.0 L1939.7,831.2 L1939.3,828.0 L1940.5,829.4 L1936.2,822.3 L1941.9,822.4 L1938.5,820.8 L1938.1,819.0 L1941.0,820.5 L1940.3,814.7 L1935.9,814.7 L1938.6,814.6 L1939.5,813.1 L1940.6,812.3 L1939.4,806.5 L1939.7,805.0 L1935.5,802.2 L1936.3,803.2 L1936.9,802.0 L1934.7,802.6 L1934.8,800.3 L1939.4,796.0 L1936.6,792.9 L1933.7,792.6 L1938.6,792.7 L1939.2,791.8 L1934.5,786.1 L1937.7,785.6 L1936.3,783.0 L1932.7,783.2 L1935.6,780.8 L1937.2,780.9 L1933.6,781.0 L1935.9,777.5 L1933.0,777.1 L1934.8,775.4 L1934.7,777.2 L1935.5,774.8 L1941.5,772.1 L1941.3,774.1 L1940.2,772.3 L1945.0,772.1 L1946.6,770.0 L1945.7,769.2 L1948.5,772.6 L1950.5,771.3 L1950.9,770.5 L1951.0,767.6 L1955.4,769.2 L1955.6,765.4 L1956.3,765.4 L1957.9,767.8 L1959.0,767.5 L1963.9,762.8 L1963.0,765.3 L1962.9,765.4 L1968.9,764.2 L1969.0,764.6 L1970.5,768.9 L1970.3,764.8 L1971.3,767.8 L1972.6,765.9 L1976.7,770.5 L1977.9,768.4 L1980.7,767.3 L1982.1,768.1 L1983.9,772.5 L1982.8,770.9 L1987.2,769.4 L1987.2,774.0 L1992.5,770.1 L1992.5,775.3 L1991.6,774.6 L1992.0,774.3 L1996.6,776.5 L1998.6,774.9 L1997.9,779.8 L2000.5,778.8 L2001.1,782.4 L2003.0,781.0 Z" fill="#3a00f6"/>
<path d="M1926.6,935.1 L1925.0,933.9 L1923.9,935.6 L1926.0,935.6 L1924.9,937.2 L1925.8,935.4 L1924.0,936.4 L1922.3,935.4 L1923.4,937.1 L1921.6,938.0 L1920.3,939.5 L1921.6,941.0 L1921.7,943.0 L1923.4,944.1 L1924.8,942.6 L1922.8,942.6 L1920.8,942.4 L1921.2,940.4 L1920.5,938.6 L1919.9,940.5 L1921.4,939.2 L1919.6,938.5 L1921.6,937.9 L1921.3,939.9 L1920.1,941.5 L1922.0,942.3 L1922.7,940.5 L1921.3,939.0 L1922.1,937.2 L1920.7,938.6 L1922.4,937.6 L1922.5,935.6 L1923.3,933.8 L1925.3,934.2 L1926.2,932.4 L1928.1,931.8 L1927.9,929.9 L1926.1,930.5 L1924.7,929.2 L1924.4,931.2 L1925.1,933.1 L1926.7,931.8 L1925.5,930.3 L1926.9,928.9 L1927.1,930.9 L1925.4,931.9 L1926.3,930.1 L1927.6,931.7 L1925.7,931.4 L1923.8,932.0 L1924.0,934.0 L1924.0,932.0 L1923.0,930.3 L1921.4,931.5 L1921.6,929.5 L1923.6,929.2 L1925.3,930.2 L1927.3,930.2 L1927.1,932.2 L1925.3,933.0 L1925.9,935.0" stroke="#3a00f6" stroke-width="1.1" fill="none" opacity="0.95"/>
<path d="M1937.4,980.7 L1935.8,981.9 L1936.4,980.0 L1934.5,980.1 L1932.6,980.6 L1932.8,982.6 L1931.8,980.9 L1931.8,982.9 L1933.8,982.5 L1933.9,984.5 L1935.9,984.0 L1937.5,985.1 L1935.7,985.8 L1933.8,985.2 L1935.8,984.5 L1936.9,982.9 L1936.2,984.7 L1934.9,983.3 L1936.2,981.7 L1937.1,983.5 L1938.0,981.7 L1938.8,979.8 L1940.7,979.4 L1941.1,981.3 L1941.0,979.3 L1939.1,979.9 L1941.1,979.3 L1941.4,977.3 L1943.4,977.5 L1945.3,976.8 L1946.2,975.0 L1945.8,977.0 L1947.8,976.6 L1948.9,978.3 L1950.8,977.5 L1949.1,976.4 L1951.1,976.7 L1951.9,974.8 L1951.1,976.7 L1953.0,977.6 L1954.0,979.3 L1955.8,980.3 L1953.9,980.9 L1953.4,982.9 L1955.2,981.9 L1953.8,983.2 L1955.4,984.5 L1957.4,984.5 L1956.9,982.6 L1958.5,983.8 L1960.4,983.3 L1960.5,981.3 L1958.7,980.5 L1956.9,979.6 L1956.6,981.6 L1958.2,980.4 L1957.5,982.3 L1958.8,983.9 L1957.1,982.9 L1958.4,981.4 L1960.4,981.0" stroke="#3a00f6" stroke-width="1.1" fill="none" opacity="0.95"/>
<path d="M1936.2,966.1 L1938.2,965.6 L1936.3,965.2 L1934.5,964.5 L1932.5,964.8 L1933.3,966.7 L1935.3,967.1 L1933.7,968.3 L1931.7,968.3 L1932.1,966.3 L1931.0,968.0 L1933.0,967.6 L1934.6,968.9 L1933.5,967.3 L1935.5,967.6 L1935.9,969.6 L1937.3,971.0 L1939.3,970.7 L1938.5,968.9 L1936.7,968.3 L1938.0,966.8 L1939.9,966.2 L1938.5,967.6 L1939.8,966.0 L1939.4,968.0 L1938.8,966.1 L1939.8,964.3 L1938.4,965.7 L1937.3,964.0 L1937.1,962.0 L1938.8,963.1 L1939.0,961.1 L1939.7,963.0 L1939.2,964.9 L1939.4,966.9 L1939.0,968.9 L1940.9,968.2 L1939.1,969.0 L1940.4,967.4 L1941.7,968.9 L1941.7,970.9 L1943.8,971.1 L1941.8,971.4 L1943.8,970.8 L1941.8,970.5 L1941.5,968.6 L1942.5,970.3 L1944.4,971.0 L1944.8,973.0 L1946.7,972.4 L1946.1,970.5 L1947.9,969.7 L1948.3,967.7 L1948.2,969.7 L1948.9,971.6 L1947.4,970.3 L1948.7,971.8 L1946.8,972.0 L1944.8,971.5 L1944.8,973.5 L1946.8,973.2" stroke="#3a00f6" stroke-width="1.1" fill="none" opacity="0.95"/>
<path d="M1934.7,777.7 L1936.6,778.1 L1938.6,777.7 L1939.3,779.6 L1941.4,779.5 L1943.3,778.8 L1943.2,780.8 L1941.3,780.6 L1939.7,781.8 L1938.0,782.9 L1938.5,781.0 L1939.5,779.2 L1939.5,781.2 L1937.6,780.7 L1936.8,778.8 L1935.2,777.7 L1936.7,779.1 L1935.1,780.3 L1933.2,780.4 L1935.0,779.5 L1935.9,777.7 L1935.0,775.9 L1934.7,777.9 L1936.5,777.2 L1936.8,779.1 L1935.8,780.8 L1937.0,782.5 L1935.3,781.4 L1935.9,779.5 L1935.3,777.6 L1936.3,775.9 L1935.7,773.9 L1934.6,772.3 L1934.6,774.3 L1936.6,773.8 L1938.6,773.7 L1938.4,772.0 L1940.4,772.0 L1942.0,772.0 L1943.4,772.0 L1943.5,772.0 L1944.3,772.0 L1943.6,772.0 L1945.1,772.0 L1946.1,772.0 L1945.0,772.0 L1943.8,772.0 L1945.4,772.0 L1943.4,772.0 L1943.2,772.0 L1941.3,772.0 L1942.8,772.0 L1943.9,772.0 L1945.9,772.0 L1947.6,772.0 L1948.3,772.0 L1946.4,772.0 L1947.2,772.0 L1949.1,772.0 L1951.1,772.0 L1953.0,772.0" stroke="#3a00f6" stroke-width="1.1" fill="none" opacity="0.95"/>
<path d="M1928.6,1020.0 L1929.9,1021.5 L1928.2,1022.4 L1929.4,1020.8 L1927.5,1021.4 L1927.8,1023.4 L1926.8,1021.6 L1926.2,1023.5 L1924.5,1022.5 L1924.7,1024.5 L1924.9,1022.5 L1926.8,1023.1 L1926.3,1025.0 L1928.2,1024.2 L1929.9,1025.2 L1928.4,1026.5 L1929.2,1028.3 L1927.8,1029.7 L1926.0,1028.9 L1927.9,1028.3 L1929.8,1027.7 L1929.1,1029.5 L1929.3,1027.5 L1927.4,1028.1 L1929.1,1029.2 L1928.9,1031.2 L1928.1,1033.1 L1926.5,1034.3 L1928.5,1034.2 L1929.2,1032.3 L1930.9,1033.5 L1929.2,1032.5 L1928.7,1034.4 L1928.6,1036.4 L1930.0,1035.0 L1931.9,1035.8 L1931.7,1033.8 L1933.2,1032.5 L1935.3,1032.6 L1934.8,1034.5 L1935.3,1032.5 L1937.2,1033.1 L1935.9,1034.6 L1936.2,1036.6 L1937.7,1035.3 L1938.5,1033.5 L1938.7,1031.5 L1938.4,1033.4 L1939.9,1034.7 L1941.6,1033.6 L1942.0,1035.6 L1942.4,1037.5 L1944.2,1038.5 L1945.1,1036.7 L1943.3,1037.4 L1944.2,1039.2 L1946.2,1039.4 L1944.3,1040.0 L1946.2,1040.5 L1948.3,1040.5 L1946.3,1040.8" stroke="#3a00f6" stroke-width="1.1" fill="none" opacity="0.95"/>
<path d="M1910.2,1008.7 L1911.1,1010.6 L1909.3,1009.7 L1907.9,1008.3 L1907.5,1010.2 L1908.5,1012.0 L1908.9,1010.0 L1907.4,1008.7 L1908.2,1010.5 L1906.4,1009.7 L1905.8,1007.8 L1905.2,1005.9 L1906.1,1004.1 L1908.0,1003.6 L1907.3,1001.7 L1909.3,1001.4 L1907.3,1001.5 L1907.2,1003.5 L1909.0,1002.6 L1908.8,1004.6 L1910.0,1006.2 L1911.4,1007.6 L1909.5,1007.1 L1911.2,1006.1 L1910.1,1007.7 L1912.0,1007.1 L1913.5,1005.7 L1913.6,1007.7 L1911.6,1007.8 L1909.9,1006.7 L1908.8,1005.1 L1908.1,1003.2 L1909.9,1004.0 L1909.3,1002.1 L1910.4,1003.8 L1908.4,1003.9 L1906.5,1003.5 L1908.1,1004.8 L1906.8,1003.2 L1905.0,1002.4 L1905.2,1004.4 L1905.4,1002.4 L1906.6,1004.0 L1908.4,1003.0 L1910.2,1004.0 L1911.0,1002.1 L1909.1,1001.6 L1910.3,1003.2 L1910.1,1005.1 L1912.0,1004.7 L1911.1,1003.0 L1909.5,1001.8 L1909.0,999.9 L1910.1,1001.6 L1908.2,1001.2 L1909.7,999.9 L1909.1,1001.8 L1907.3,1002.5 L1909.3,1002.5 L1911.1,1001.4 L1910.4,1003.3" stroke="#3a00f6" stroke-width="1.1" fill="none" opacity="0.95"/>
<path d="M1902.4,894.3 L1900.7,895.2 L1898.7,894.8 L1899.5,896.7 L1899.7,894.7 L1900.2,896.6 L1899.9,894.7 L1898.5,896.1 L1897.6,894.3 L1898.0,892.3 L1900.0,892.8 L1901.9,892.1 L1903.8,892.8 L1905.5,891.6 L1907.3,892.5 L1908.7,891.0 L1906.9,890.1 L1905.3,888.9 L1904.2,887.2 L1906.2,886.9 L1904.6,887.9 L1906.4,887.0 L1908.2,887.8 L1908.1,889.8 L1906.5,888.6 L1905.0,887.3 L1905.9,885.5 L1906.0,883.5 L1905.6,885.5 L1904.7,887.2 L1903.1,888.4 L1903.5,890.4 L1905.0,889.0 L1906.5,887.6 L1904.6,887.2 L1902.6,886.8 L1904.6,886.9 L1905.7,885.2 L1903.8,885.0 L1904.4,886.9 L1905.1,885.0 L1903.2,884.4 L1905.1,885.1 L1903.2,885.1 L1903.9,887.0 L1905.8,887.5 L1905.6,889.5 L1903.8,888.5 L1905.0,886.9 L1906.1,888.6 L1904.6,889.9 L1904.3,888.0 L1905.1,889.8 L1906.8,888.7 L1904.9,888.6 L1903.9,886.8 L1905.9,887.3 L1904.0,886.9 L1904.4,888.9 L1905.6,890.5 L1903.6,890.5" stroke="#3a00f6" stroke-width="1.1" fill="none" opacity="0.95"/>
<path d="M1918.0,914.1 L1916.7,912.6 L1916.1,914.5 L1915.4,912.6 L1913.5,912.3 L1911.7,913.2 L1913.7,913.5 L1912.2,914.8 L1910.9,913.4 L1911.4,915.3 L1910.3,916.9 L1910.9,918.9 L1910.9,916.9 L1910.9,914.9 L1911.9,913.1 L1913.6,912.0 L1913.1,910.1 L1914.5,908.6 L1916.5,909.2 L1915.5,910.9 L1915.5,912.9 L1915.6,914.9 L1914.0,916.1 L1912.0,916.0 L1913.2,914.3 L1912.4,916.1 L1911.2,917.7 L1912.7,916.4 L1914.7,916.9 L1916.7,917.1 L1918.7,917.5 L1919.1,915.5 L1919.3,913.5 L1917.7,912.4 L1918.2,914.3 L1918.0,912.3 L1919.3,913.9 L1919.9,912.0 L1921.9,912.0 L1922.5,910.1 L1923.7,911.7 L1923.3,913.6 L1922.8,915.6 L1924.6,914.5 L1924.5,912.6 L1922.8,913.6 L1922.4,915.5 L1924.2,916.4 L1923.9,914.4 L1923.8,916.4 L1922.6,914.9 L1920.7,914.3 L1918.9,913.6 L1920.9,913.2 L1922.8,913.9 L1923.8,915.6 L1922.3,914.4 L1924.3,914.5 L1926.0,913.3 L1927.7,914.5 L1929.7,914.4" stroke="#3a00f6" stroke-width="1.1" fill="none" opacity="0.95"/>
<path d="M1932.2,773.5 L1933.0,775.3 L1935.0,774.9 L1933.8,776.5 L1934.4,774.6 L1934.2,776.6 L1932.4,777.4 L1933.7,775.8 L1935.5,774.8 L1937.0,773.5 L1935.2,774.3 L1936.2,776.1 L1934.4,775.3 L1936.1,776.4 L1938.0,777.1 L1938.0,779.1 L1936.7,777.6 L1935.9,775.8 L1934.0,776.1 L1932.5,774.8 L1930.8,775.8 L1932.5,774.8 L1930.6,775.2 L1928.7,774.5 L1928.7,776.5 L1927.1,777.6 L1927.3,775.6 L1925.4,775.5 L1925.1,777.5 L1925.9,779.4 L1927.8,778.7 L1925.9,779.4 L1924.9,781.1 L1923.0,781.1 L1922.4,779.1 L1922.0,779.4 L1922.0,781.4 L1922.0,783.0 L1922.0,784.0 L1922.0,783.1 L1922.0,782.4 L1922.0,780.7 L1922.0,782.7 L1922.0,784.4 L1922.0,783.0 L1922.0,781.0 L1922.0,782.9 L1922.0,782.6 L1922.0,783.9 L1922.0,782.1 L1922.0,782.3 L1922.0,783.5 L1922.7,783.2 L1922.0,781.5 L1923.8,781.2 L1923.1,783.1 L1925.0,782.2 L1923.5,780.9 L1923.4,782.9 L1922.0,781.9 L1922.0,780.5" stroke="#3a00f6" stroke-width="1.1" fill="none" opacity="0.95"/>
<path d="M1936.5,844.1 L1938.4,844.8 L1940.4,844.8 L1941.1,846.7 L1942.7,845.5 L1943.3,847.4 L1943.1,845.5 L1943.3,843.5 L1941.3,843.5 L1942.2,845.3 L1942.9,843.4 L1944.9,843.2 L1943.2,844.3 L1941.3,843.7 L1942.9,845.1 L1941.9,843.3 L1940.5,842.0 L1942.5,842.3 L1942.7,840.3 L1941.1,839.2 L1942.9,840.2 L1944.9,840.5 L1946.9,840.5 L1948.8,839.8 L1949.5,837.9 L1950.4,836.1 L1948.5,836.1 L1949.6,837.7 L1951.4,838.5 L1949.5,839.0 L1950.0,837.1 L1948.5,838.4 L1949.6,840.1 L1947.8,840.8 L1945.9,840.5 L1947.7,839.6 L1948.5,841.5 L1946.7,842.3 L1945.9,844.1 L1946.3,842.1 L1947.1,844.0 L1947.0,842.0 L1947.9,840.2 L1946.0,840.3 L1944.1,839.6 L1946.0,838.9 L1947.8,839.9 L1949.8,840.2 L1948.7,841.9 L1946.9,841.1 L1945.1,840.4 L1946.8,841.5 L1948.7,842.2 L1950.4,841.0 L1951.1,839.2 L1951.2,841.2 L1952.5,842.8 L1951.4,841.1 L1950.7,843.0 L1949.7,844.6 L1951.7,844.9" stroke="#3a00f6" stroke-width="1.1" fill="none" opacity="0.95"/>
<path d="M1900.3,972.9 L1898.5,972.3 L1899.3,974.1 L1899.2,976.1 L1898.7,978.1 L1897.1,977.0 L1898.4,975.6 L1896.5,975.2 L1897.0,973.3 L1896.3,975.1 L1894.5,976.1 L1894.4,974.1 L1895.6,972.4 L1896.7,974.1 L1896.1,976.0 L1897.4,977.6 L1897.9,979.5 L1896.7,978.0 L1897.8,979.7 L1897.3,977.8 L1898.2,976.0 L1900.2,975.5 L1899.2,973.8 L1897.3,973.0 L1896.7,974.9 L1895.9,973.0 L1894.5,974.5 L1894.1,976.4 L1892.1,976.8 L1893.8,977.9 L1895.8,978.5 L1897.5,979.6 L1898.0,977.7 L1899.8,976.8 L1897.8,977.1 L1897.9,975.1 L1897.7,973.1 L1896.0,974.1 L1896.7,972.2 L1896.3,974.2 L1894.7,973.1 L1892.7,973.1 L1890.8,973.2 L1888.8,973.6 L1887.7,972.0 L1886.1,970.8 L1884.9,972.4 L1886.7,971.5 L1886.4,969.5 L1887.6,971.1 L1887.0,969.2 L1885.0,969.4 L1887.0,969.0 L1885.0,968.9 L1886.7,970.0 L1887.4,968.1 L1887.2,966.2 L1888.8,965.1 L1887.0,964.5 L1887.3,962.5 L1885.9,961.2" stroke="#3a00f6" stroke-width="1.1" fill="none" opacity="0.95"/>
<path d="M1900.6,981.2 L1901.5,979.4 L1901.4,981.4 L1903.2,982.3 L1901.4,983.1 L1903.4,982.7 L1904.6,984.4 L1902.7,983.7 L1900.8,983.3 L1901.1,985.3 L1900.3,987.1 L1899.6,989.0 L1899.5,987.0 L1898.1,985.6 L1897.9,983.6 L1897.2,981.7 L1896.8,983.7 L1898.0,982.1 L1896.3,981.2 L1894.7,979.9 L1894.6,981.9 L1893.9,983.8 L1895.7,982.8 L1896.0,980.8 L1897.8,979.8 L1897.7,981.8 L1899.2,983.2 L1901.0,982.3 L1903.0,982.2 L1903.5,980.2 L1901.6,979.8 L1899.8,978.9 L1901.4,980.1 L1901.9,982.0 L1902.5,980.1 L1904.4,980.8 L1902.6,981.5 L1902.4,979.5 L1900.8,978.3 L1902.8,978.6 L1904.6,979.6 L1902.8,978.7 L1903.5,980.6 L1902.7,978.8 L1900.8,979.1 L1899.3,977.7 L1898.9,979.7 L1898.1,981.5 L1899.9,980.6 L1901.6,979.5 L1903.1,978.1 L1902.0,979.8 L1901.4,981.7 L1902.1,979.7 L1902.5,977.8 L1900.7,977.0 L1902.1,975.5 L1903.7,976.8 L1901.7,976.7 L1902.7,978.5 L1900.9,977.6" stroke="#3a00f6" stroke-width="1.1" fill="none" opacity="0.95"/>
<path d="M1894.7,933.6 L1893.6,932.0 L1892.5,930.3 L1894.5,930.7 L1895.7,932.3 L1897.7,932.0 L1898.5,933.9 L1897.7,932.0 L1895.9,932.7 L1897.9,932.3 L1897.2,930.5 L1896.2,932.2 L1897.4,933.8 L1896.6,935.7 L1897.8,934.1 L1899.9,934.0 L1900.1,932.1 L1901.1,933.8 L1900.8,931.8 L1900.8,933.8 L1901.4,931.9 L1901.1,933.9 L1901.7,935.8 L1902.6,937.6 L1904.4,936.6 L1904.5,938.5 L1906.0,939.9 L1907.3,941.5 L1906.6,943.3 L1904.8,944.0 L1905.5,945.9 L1904.3,944.4 L1906.3,944.3 L1907.2,942.5 L1906.5,940.7 L1907.6,942.4 L1906.3,940.8 L1904.7,939.7 L1905.4,941.6 L1906.7,940.0 L1907.3,941.9 L1907.2,939.9 L1906.5,938.0 L1905.7,936.2 L1907.4,935.2 L1907.9,937.1 L1907.2,939.0 L1906.7,937.1 L1907.0,935.1 L1905.0,935.0 L1903.6,933.6 L1902.4,935.1 L1903.4,933.4 L1903.8,931.5 L1905.9,931.5 L1907.6,930.5 L1909.2,929.2 L1911.0,930.2 L1911.1,928.2 L1912.9,927.3 L1912.4,929.2" stroke="#3a00f6" stroke-width="1.1" fill="none" opacity="0.95"/>
<path d="M1938.7,772.0 L1936.9,772.0 L1938.9,772.0 L1937.1,772.0 L1938.6,772.0 L1939.3,772.0 L1940.6,772.2 L1939.5,773.8 L1941.5,774.0 L1939.6,774.7 L1938.0,775.8 L1936.3,774.9 L1937.9,773.7 L1939.3,775.1 L1939.7,777.1 L1937.7,777.1 L1936.4,775.6 L1937.1,777.5 L1935.1,777.3 L1935.5,779.2 L1934.5,780.9 L1935.3,782.8 L1934.9,784.7 L1932.9,784.8 L1933.0,782.8 L1933.0,780.8 L1934.6,779.6 L1936.6,779.6 L1938.4,780.6 L1936.4,780.7 L1936.7,782.6 L1938.7,782.6 L1936.8,782.4 L1938.7,781.8 L1939.7,780.0 L1941.2,778.6 L1943.1,779.2 L1944.5,777.7 L1944.7,775.7 L1946.7,776.3 L1947.1,774.3 L1949.1,774.8 L1949.8,772.9 L1948.3,772.0 L1946.6,772.0 L1948.4,772.0 L1949.5,772.0 L1947.5,772.0 L1949.3,772.0 L1950.3,772.0 L1948.5,772.0 L1946.6,772.0 L1944.6,772.0 L1946.4,772.9 L1948.4,773.3 L1949.2,775.1 L1949.3,773.1 L1951.3,772.6 L1953.3,773.1 L1951.8,772.0 L1950.0,772.0" stroke="#3a00f6" stroke-width="1.1" fill="none" opacity="0.95"/>
<path d="M1908.4,825.5 L1909.1,827.4 L1910.7,828.7 L1912.7,828.7 L1911.3,827.3 L1911.6,829.3 L1912.1,831.2 L1910.2,830.6 L1908.4,831.2 L1907.1,829.7 L1907.9,831.5 L1909.5,832.8 L1909.6,834.8 L1911.6,835.2 L1911.8,837.1 L1911.8,839.1 L1912.3,841.1 L1911.2,842.7 L1912.0,840.9 L1910.1,840.7 L1908.3,839.9 L1908.7,841.8 L1907.7,843.5 L1906.2,844.7 L1908.1,844.2 L1906.8,842.7 L1908.0,844.3 L1909.9,845.0 L1908.1,845.7 L1906.7,844.3 L1904.7,843.9 L1906.7,843.5 L1904.8,843.0 L1906.8,843.5 L1908.5,844.6 L1906.6,844.9 L1905.7,843.1 L1903.7,843.3 L1905.3,844.6 L1907.1,845.7 L1906.3,847.5 L1904.9,846.1 L1903.4,847.3 L1902.3,849.0 L1900.6,847.9 L1901.6,846.2 L1901.3,848.1 L1903.2,848.7 L1903.5,850.7 L1904.2,852.6 L1906.2,852.8 L1904.4,853.5 L1903.8,855.4 L1902.8,857.1 L1904.8,857.2 L1906.7,858.0 L1908.2,856.7 L1907.1,855.0 L1906.9,857.0 L1906.0,858.8 L1904.4,859.9" stroke="#3a00f6" stroke-width="1.1" fill="none" opacity="0.95"/>
<path d="M1935.9,1030.3 L1934.3,1031.4 L1932.6,1032.4 L1934.6,1032.6 L1932.9,1031.6 L1934.8,1032.2 L1936.0,1033.9 L1936.0,1035.9 L1935.1,1034.1 L1936.8,1035.2 L1938.8,1035.6 L1940.5,1036.6 L1941.2,1038.5 L1939.2,1038.5 L1941.0,1037.5 L1942.7,1038.6 L1941.5,1037.0 L1942.1,1035.1 L1940.6,1036.4 L1938.9,1037.4 L1940.9,1037.9 L1939.0,1038.4 L1937.8,1036.9 L1937.6,1034.9 L1939.6,1035.4 L1940.7,1033.7 L1938.9,1033.1 L1940.3,1034.5 L1940.7,1036.5 L1942.7,1036.6 L1942.3,1038.6 L1943.5,1040.2 L1945.2,1041.3 L1944.2,1039.6 L1946.2,1039.9 L1945.1,1041.5 L1947.1,1041.4 L1948.1,1039.6 L1947.7,1041.6 L1949.7,1041.7 L1950.2,1039.8 L1950.9,1037.9 L1949.1,1037.2 L1949.3,1035.2 L1947.3,1035.6 L1947.4,1033.6 L1945.4,1034.0 L1947.3,1034.9 L1947.4,1032.9 L1949.4,1033.1 L1947.7,1033.9 L1948.4,1035.8 L1949.6,1037.5 L1948.5,1035.8 L1949.1,1033.9 L1947.9,1035.4 L1946.8,1037.1 L1947.8,1035.4 L1949.4,1036.6 L1947.9,1037.9 L1949.2,1036.3" stroke="#3a00f6" stroke-width="1.1" fill="none" opacity="0.95"/>
<path d="M1938.4,846.7 L1940.4,847.0 L1942.3,846.3 L1944.3,846.5 L1943.5,848.3 L1944.2,846.4 L1945.0,844.6 L1945.4,846.6 L1943.4,846.8 L1945.4,846.9 L1943.5,846.5 L1941.5,846.8 L1943.4,846.0 L1942.1,844.6 L1942.4,846.5 L1943.6,844.9 L1944.8,846.5 L1943.9,848.3 L1945.7,847.4 L1943.8,846.9 L1943.1,845.1 L1942.1,843.4 L1940.1,843.7 L1938.3,844.5 L1937.1,842.9 L1939.1,843.4 L1940.3,845.0 L1938.6,844.1 L1937.1,845.5 L1936.1,847.2 L1934.1,846.9 L1935.9,845.8 L1934.0,846.6 L1932.6,845.2 L1931.6,843.5 L1933.2,842.3 L1933.7,840.4 L1931.9,841.0 L1931.2,842.9 L1929.3,842.4 L1927.5,843.1 L1929.0,841.7 L1927.7,843.2 L1929.0,841.7 L1927.5,840.4 L1926.6,838.6 L1928.5,839.4 L1930.0,840.7 L1931.0,839.0 L1932.8,839.8 L1932.8,841.8 L1934.6,840.9 L1935.4,842.7 L1933.7,843.7 L1935.1,845.2 L1935.0,847.2 L1936.3,845.6 L1937.5,844.0 L1938.7,845.6 L1936.8,845.9 L1938.4,844.7" stroke="#3a00f6" stroke-width="1.1" fill="none" opacity="0.95"/>
<path d="M1923.4,912.9 L1921.4,913.4 L1920.9,911.4 L1919.4,912.8 L1920.1,914.7 L1918.2,914.0 L1917.7,912.0 L1915.9,912.8 L1915.5,914.8 L1914.6,916.5 L1914.5,918.5 L1912.5,918.7 L1913.7,917.0 L1915.5,916.1 L1917.3,915.1 L1919.1,915.9 L1917.1,915.9 L1916.7,913.9 L1915.4,915.4 L1914.8,917.3 L1915.5,919.2 L1917.5,919.4 L1919.5,919.0 L1919.6,917.0 L1919.8,915.0 L1920.1,913.0 L1921.5,911.6 L1923.3,912.5 L1925.2,913.0 L1926.3,914.7 L1924.7,913.5 L1922.8,913.0 L1923.7,911.2 L1923.7,913.2 L1925.4,914.4 L1924.3,916.1 L1925.0,918.0 L1925.2,916.0 L1926.9,917.0 L1928.6,915.8 L1927.4,917.4 L1929.2,916.6 L1928.8,918.5 L1930.8,917.9 L1928.8,918.2 L1929.9,916.5 L1930.9,914.7 L1932.4,913.5 L1932.4,911.5 L1931.3,913.1 L1933.1,913.9 L1932.6,912.0 L1934.1,913.4 L1936.1,913.1 L1938.1,913.1 L1937.0,914.7 L1936.3,912.9 L1936.0,910.9 L1936.7,912.8 L1937.2,914.7 L1938.3,913.1" stroke="#3a00f6" stroke-width="1.1" fill="none" opacity="0.95"/>
<path d="M1937.6,824.3 L1937.0,822.4 L1939.0,823.0 L1937.4,824.1 L1935.7,825.1 L1934.2,823.7 L1933.2,822.0 L1931.5,823.0 L1931.0,821.0 L1929.6,822.4 L1929.5,820.5 L1930.2,822.3 L1928.6,823.4 L1929.6,825.1 L1931.6,824.9 L1932.6,823.1 L1934.3,824.2 L1933.7,822.3 L1932.6,823.9 L1930.7,824.5 L1932.7,824.5 L1930.9,825.3 L1932.7,824.3 L1934.5,825.2 L1932.5,825.2 L1931.4,826.8 L1932.8,828.3 L1932.0,826.5 L1931.1,824.7 L1931.2,826.7 L1933.1,825.9 L1934.3,824.3 L1936.3,824.7 L1938.1,825.6 L1939.3,827.3 L1940.9,826.0 L1942.6,827.0 L1942.3,825.0 L1942.4,827.0 L1941.5,825.2 L1940.5,826.9 L1942.0,828.2 L1940.1,827.8 L1940.4,825.8 L1938.4,825.5 L1940.4,824.8 L1939.2,823.2 L1938.3,821.5 L1937.0,822.9 L1938.6,824.1 L1938.7,822.1 L1939.8,823.8 L1938.0,824.6 L1936.2,825.3 L1935.1,823.6 L1933.7,825.0 L1935.3,826.1 L1934.3,824.4 L1935.8,825.8 L1933.8,825.8 L1933.8,827.8" stroke="#3a00f6" stroke-width="1.1" fill="none" opacity="0.95"/>
<path d="M1938.3,953.0 L1939.2,954.8 L1941.0,953.8 L1941.5,951.9 L1939.6,951.4 L1938.1,950.1 L1936.5,949.0 L1935.1,947.6 L1935.6,949.5 L1935.5,947.5 L1937.1,948.8 L1936.3,947.0 L1938.1,946.1 L1940.0,945.4 L1940.4,943.5 L1938.8,942.3 L1939.8,944.1 L1939.7,942.1 L1940.3,944.0 L1942.3,943.5 L1940.6,942.4 L1939.0,941.2 L1941.0,941.3 L1939.1,941.4 L1941.0,940.7 L1939.0,940.8 L1937.7,942.2 L1936.1,943.4 L1937.9,942.5 L1939.8,943.2 L1937.9,943.1 L1939.9,943.0 L1938.0,943.4 L1938.7,945.2 L1937.2,946.5 L1937.9,948.4 L1936.0,947.8 L1935.6,945.8 L1936.8,947.5 L1936.7,949.5 L1934.9,948.8 L1936.5,947.5 L1938.3,946.7 L1937.1,945.2 L1939.0,944.4 L1938.2,946.2 L1937.9,944.3 L1937.3,942.3 L1938.2,940.5 L1936.4,941.5 L1934.5,941.5 L1936.3,940.5 L1936.3,942.5 L1938.2,941.9 L1937.4,943.7 L1938.6,942.1 L1938.2,940.2 L1940.2,940.3 L1938.3,940.0 L1938.7,938.0 L1938.9,936.0" stroke="#3a00f6" stroke-width="1.1" fill="none" opacity="0.95"/>
<path d="M1916.3,1006.8 L1914.4,1007.5 L1913.1,1006.1 L1911.3,1006.8 L1910.4,1008.6 L1908.7,1009.6 L1910.4,1010.7 L1908.5,1010.5 L1908.9,1008.6 L1907.7,1010.1 L1906.3,1008.7 L1904.5,1008.0 L1902.5,1008.3 L1903.5,1010.0 L1901.6,1010.3 L1899.6,1010.3 L1901.6,1010.6 L1902.9,1009.0 L1902.8,1007.1 L1901.4,1005.6 L1901.4,1007.6 L1900.0,1006.1 L1901.3,1004.6 L1899.4,1005.2 L1901.0,1003.9 L1902.1,1002.2 L1903.1,1003.9 L1901.4,1005.0 L1903.2,1006.0 L1901.4,1005.2 L1900.0,1003.8 L1898.2,1004.1 L1898.2,1005.5 L1898.2,1006.0 L1898.2,1007.9 L1898.2,1007.4 L1898.2,1006.0 L1898.2,1004.8 L1898.2,1006.2 L1898.2,1007.4 L1898.2,1009.2 L1898.2,1011.0 L1898.2,1012.3 L1898.2,1014.3 L1898.2,1015.2 L1898.2,1013.2 L1898.2,1014.1 L1898.2,1013.9 L1898.2,1014.6 L1898.2,1014.1 L1898.2,1012.1 L1898.2,1010.3 L1898.2,1008.8 L1898.2,1010.8 L1898.2,1009.4 L1898.2,1011.1 L1898.2,1012.5 L1898.2,1011.4 L1898.2,1013.4 L1898.2,1011.7 L1898.2,1009.9" stroke="#3a00f6" stroke-width="1.1" fill="none" opacity="0.95"/>
<path d="M1902.2,865.7 L1902.0,867.7 L1903.4,869.1 L1901.6,868.4 L1899.7,869.1 L1901.7,868.6 L1903.7,868.4 L1905.6,867.6 L1903.7,868.1 L1904.0,866.1 L1903.0,864.4 L1901.2,865.3 L1901.6,867.3 L1901.8,865.3 L1903.5,864.2 L1905.5,863.8 L1907.3,862.8 L1909.0,861.9 L1911.0,862.3 L1909.3,861.3 L1911.3,860.9 L1909.3,861.0 L1911.3,860.6 L1911.7,862.6 L1913.7,862.0 L1913.3,860.1 L1915.3,860.0 L1916.0,858.1 L1915.0,859.8 L1915.0,861.8 L1914.7,859.8 L1916.6,858.9 L1917.7,857.3 L1918.5,859.1 L1920.3,858.2 L1918.7,859.4 L1916.8,858.9 L1918.7,858.1 L1919.0,856.1 L1919.8,858.0 L1919.5,859.9 L1917.6,859.2 L1916.5,860.8 L1915.9,858.9 L1917.6,857.8 L1918.0,855.9 L1916.1,856.2 L1915.6,858.1 L1916.9,859.6 L1918.1,861.3 L1919.8,860.3 L1918.1,861.2 L1919.9,862.2 L1921.9,861.9 L1922.8,863.8 L1923.1,861.8 L1925.1,862.2 L1926.8,863.2 L1924.9,862.6 L1926.3,861.2 L1924.4,861.7" stroke="#3a00f6" stroke-width="1.1" fill="none" opacity="0.95"/>
<path d="M1902.5,808.6 L1903.9,807.2 L1904.8,805.3 L1903.0,806.3 L1904.9,807.1 L1904.5,809.1 L1906.6,808.9 L1907.7,810.6 L1908.5,812.4 L1906.6,811.9 L1907.4,810.0 L1907.7,812.0 L1908.0,814.0 L1908.5,815.9 L1909.6,814.2 L1908.4,815.7 L1909.5,814.1 L1907.6,814.4 L1906.3,812.9 L1907.8,811.6 L1909.4,810.3 L1907.5,810.9 L1908.2,809.0 L1907.7,811.0 L1907.8,809.0 L1908.5,807.1 L1909.1,805.2 L1909.7,803.2 L1910.1,801.3 L1912.1,800.7 L1912.7,798.8 L1911.1,797.7 L1912.5,799.1 L1912.8,801.1 L1912.7,799.1 L1914.6,798.5 L1916.6,798.8 L1916.3,800.8 L1916.0,798.8 L1914.2,799.7 L1912.3,799.5 L1913.7,798.1 L1911.8,797.6 L1911.0,799.4 L1910.0,797.7 L1912.0,797.9 L1912.0,799.9 L1913.9,799.2 L1913.0,797.5 L1913.4,795.5 L1914.5,797.1 L1915.2,795.3 L1916.1,797.0 L1917.5,798.5 L1919.5,798.4 L1921.4,799.1 L1923.1,797.9 L1923.6,795.9 L1922.2,794.5 L1923.8,795.8 L1925.0,797.3" stroke="#3a00f6" stroke-width="1.1" fill="none" opacity="0.95"/>
<path d="M1923.0,849.9 L1922.9,847.9 L1922.6,845.9 L1923.9,847.4 L1923.2,849.3 L1921.3,848.7 L1920.4,847.0 L1922.0,845.8 L1924.0,845.4 L1923.1,847.2 L1923.8,845.3 L1922.1,846.2 L1922.6,848.2 L1924.6,848.6 L1924.6,850.6 L1924.4,848.6 L1926.3,849.3 L1924.6,850.4 L1924.3,852.3 L1925.5,854.0 L1927.5,854.2 L1928.5,856.0 L1926.6,855.6 L1925.0,854.4 L1925.7,856.3 L1925.7,854.3 L1927.8,854.3 L1929.8,854.1 L1931.4,855.3 L1931.2,857.3 L1932.9,858.4 L1933.3,856.4 L1931.4,857.0 L1932.2,858.8 L1930.7,860.1 L1929.5,861.7 L1928.2,863.2 L1929.6,864.6 L1931.7,864.4 L1929.8,863.7 L1930.9,865.4 L1931.3,867.4 L1933.2,866.7 L1934.5,865.1 L1935.0,867.1 L1933.8,868.6 L1935.8,868.8 L1937.4,867.5 L1937.3,869.5 L1938.8,870.8 L1937.1,869.9 L1935.2,869.3 L1933.6,868.1 L1932.6,869.8 L1931.2,871.3 L1933.1,870.4 L1931.5,871.6 L1930.0,870.3 L1930.4,868.3 L1930.5,870.3 L1930.6,872.3" stroke="#3a00f6" stroke-width="1.1" fill="none" opacity="0.95"/>
<path d="M1936.8,772.0 L1935.1,772.0 L1934.7,772.0 L1936.7,772.0 L1934.8,772.0 L1932.9,772.0 L1933.8,772.0 L1935.7,772.0 L1935.5,772.0 L1936.3,772.0 L1935.2,772.0 L1934.0,773.5 L1932.6,772.0 L1931.1,773.2 L1932.4,772.0 L1930.6,772.0 L1931.2,772.0 L1932.4,772.0 L1930.5,772.0 L1931.9,772.0 L1932.5,772.0 L1932.1,772.0 L1933.3,772.0 L1932.3,772.0 L1934.2,772.0 L1936.2,772.0 L1938.1,772.0 L1936.6,772.0 L1936.9,772.0 L1937.9,772.0 L1938.1,772.0 L1938.7,772.0 L1940.7,772.0 L1940.1,772.0 L1939.2,772.0 L1941.2,772.0 L1940.2,772.0 L1941.2,772.0 L1941.3,772.0 L1941.2,772.0 L1940.5,772.0 L1942.5,772.0 L1940.6,772.0 L1941.7,772.0 L1941.6,772.0 L1942.9,772.0 L1944.9,772.0 L1945.2,772.0 L1943.6,772.0 L1942.3,772.0 L1943.7,772.0 L1943.2,772.0 L1943.3,772.0 L1943.5,772.0 L1945.3,772.0 L1947.0,772.0 L1948.9,772.0 L1950.3,772.0 L1951.5,772.0 L1951.1,772.0 L1949.8,772.0" stroke="#3a00f6" stroke-width="1.1" fill="none" opacity="0.95"/>
<path d="M1909.5,859.5 L1907.6,858.9 L1909.0,860.3 L1910.5,861.7 L1912.3,860.7 L1911.2,859.0 L1912.2,860.8 L1914.0,859.9 L1914.2,861.9 L1913.4,860.1 L1915.4,859.5 L1916.8,860.9 L1915.4,859.6 L1916.6,858.1 L1918.4,857.1 L1919.7,858.6 L1917.8,858.5 L1915.9,859.2 L1916.6,861.1 L1918.6,861.2 L1916.6,861.2 L1917.4,863.0 L1917.2,865.0 L1915.7,866.4 L1914.5,867.9 L1916.5,867.6 L1914.5,867.8 L1916.3,868.8 L1916.7,870.7 L1918.5,869.7 L1917.2,868.2 L1915.9,866.8 L1915.0,868.6 L1914.3,870.4 L1912.7,871.7 L1912.3,873.6 L1913.6,872.1 L1913.4,870.1 L1912.1,871.6 L1910.2,872.1 L1910.0,874.1 L1910.2,872.1 L1909.4,873.9 L1909.5,875.9 L1908.5,877.6 L1909.4,879.5 L1911.2,880.4 L1911.0,882.3 L1911.3,880.4 L1913.1,881.4 L1911.2,881.9 L1911.4,883.9 L1913.4,884.6 L1914.0,886.5 L1916.0,886.7 L1917.7,885.6 L1919.7,885.0 L1921.4,886.1 L1919.5,885.4 L1920.6,883.7 L1919.5,885.3" stroke="#3a00f6" stroke-width="1.1" fill="none" opacity="0.95"/>
<path d="M1916.7,986.9 L1918.3,988.1 L1917.7,990.0 L1918.4,988.1 L1916.7,989.2 L1918.7,988.8 L1920.4,989.9 L1920.2,991.9 L1918.3,991.8 L1919.3,993.6 L1917.9,995.0 L1916.7,996.6 L1917.1,994.6 L1918.3,993.0 L1918.7,991.0 L1918.0,992.9 L1917.6,994.8 L1919.5,995.4 L1917.6,995.6 L1916.0,996.8 L1916.9,995.0 L1918.8,994.3 L1917.0,994.9 L1919.0,995.2 L1917.5,996.6 L1919.5,996.0 L1919.7,998.0 L1917.8,998.2 L1915.9,997.5 L1916.3,999.5 L1914.4,999.4 L1912.6,998.7 L1913.2,1000.6 L1912.4,1002.4 L1910.8,1003.6 L1912.4,1002.4 L1910.7,1003.4 L1908.8,1003.9 L1907.8,1005.6 L1907.6,1003.6 L1905.7,1003.6 L1906.8,1001.9 L1905.2,1000.7 L1903.8,999.3 L1902.0,999.9 L1903.7,1000.9 L1903.4,1002.9 L1903.2,1004.9 L1903.8,1003.0 L1903.0,1001.1 L1901.1,1000.6 L1901.8,1002.5 L1900.0,1003.2 L1898.3,1004.2 L1898.9,1002.3 L1899.5,1004.2 L1897.7,1003.5 L1899.7,1003.8 L1901.2,1002.3 L1899.3,1001.8 L1900.8,1003.1" stroke="#3a00f6" stroke-width="1.1" fill="none" opacity="0.95"/>
<path d="M1917.5,853.7 L1918.9,852.2 L1919.9,850.5 L1918.1,851.1 L1917.9,849.2 L1917.8,847.2 L1919.0,848.8 L1919.6,846.8 L1919.4,844.8 L1920.9,846.2 L1921.8,848.0 L1922.1,850.0 L1924.0,850.6 L1926.0,850.8 L1927.2,852.5 L1927.6,854.4 L1927.3,856.4 L1929.3,856.7 L1931.0,855.6 L1929.8,854.0 L1928.1,852.9 L1928.6,851.0 L1927.0,849.9 L1925.5,851.2 L1925.0,849.2 L1926.9,850.0 L1925.0,850.5 L1924.6,848.5 L1926.5,849.2 L1928.0,847.8 L1928.6,845.9 L1928.7,843.9 L1927.3,842.4 L1925.5,843.1 L1926.9,841.6 L1926.5,839.7 L1924.6,839.0 L1922.7,838.7 L1924.0,837.2 L1923.2,839.0 L1924.8,837.7 L1926.2,839.2 L1924.7,840.5 L1924.5,838.5 L1924.9,840.5 L1925.7,838.6 L1924.0,837.6 L1922.1,837.3 L1920.7,835.9 L1921.4,837.8 L1923.4,837.8 L1921.9,836.5 L1923.8,835.9 L1925.4,837.2 L1923.4,837.1 L1922.1,835.7 L1920.1,835.8 L1922.0,836.4 L1920.8,834.9 L1922.8,835.0 L1924.2,836.5" stroke="#3a00f6" stroke-width="1.1" fill="none" opacity="0.95"/>
<path d="M1893.1,956.7 L1891.9,955.2 L1892.0,953.2 L1890.1,953.6 L1890.1,951.6 L1890.2,949.6 L1888.8,948.2 L1889.6,946.3 L1890.4,944.5 L1891.2,946.3 L1890.1,948.0 L1892.1,947.6 L1893.9,946.7 L1895.0,945.0 L1894.5,943.1 L1894.2,945.0 L1894.8,947.0 L1896.1,945.4 L1896.9,947.3 L1898.3,948.7 L1896.3,948.7 L1895.5,946.9 L1896.4,948.7 L1896.8,946.7 L1898.4,948.0 L1900.0,949.2 L1898.9,947.5 L1900.9,947.8 L1902.9,947.5 L1901.8,949.2 L1903.2,947.8 L1902.4,946.0 L1901.4,947.7 L1900.7,945.8 L1901.6,944.0 L1899.9,942.9 L1899.9,944.9 L1899.8,946.9 L1898.1,947.8 L1899.3,949.4 L1897.8,948.0 L1895.9,947.8 L1897.7,948.6 L1895.8,948.8 L1896.5,950.7 L1898.1,951.9 L1896.2,951.4 L1896.8,953.3 L1894.9,952.8 L1896.4,951.5 L1896.7,953.5 L1897.8,951.7 L1897.6,949.7 L1897.6,947.7 L1898.8,949.4 L1900.2,948.0 L1900.5,950.0 L1900.1,948.0 L1902.0,947.3 L1902.5,949.3 L1900.6,948.7" stroke="#3a00f6" stroke-width="1.1" fill="none" opacity="0.95"/>
<path d="M1908.6,1028.4 L1909.6,1026.6 L1908.9,1028.5 L1907.9,1030.2 L1906.4,1031.5 L1907.0,1033.4 L1907.5,1031.5 L1905.6,1031.7 L1906.3,1029.8 L1904.4,1029.5 L1906.3,1030.2 L1908.0,1031.3 L1909.5,1030.0 L1907.5,1030.0 L1909.5,1029.5 L1910.1,1031.5 L1910.5,1029.5 L1912.2,1030.6 L1913.7,1032.0 L1914.1,1034.0 L1915.5,1035.4 L1916.3,1033.6 L1916.3,1035.6 L1914.4,1035.9 L1916.0,1037.1 L1914.9,1038.7 L1915.9,1040.5 L1917.2,1038.9 L1915.3,1039.1 L1916.7,1037.7 L1916.3,1039.6 L1914.3,1039.6 L1915.2,1041.5 L1917.2,1042.0 L1915.3,1042.8 L1917.3,1042.4 L1919.4,1042.5 L1917.4,1042.6 L1919.3,1041.8 L1919.0,1039.9 L1921.0,1039.6 L1921.8,1041.4 L1922.1,1043.4 L1921.0,1041.8 L1919.7,1043.3 L1920.0,1041.3 L1921.9,1040.7 L1920.2,1039.7 L1918.6,1040.9 L1918.6,1042.9 L1919.5,1041.2 L1920.9,1039.6 L1922.1,1038.0 L1924.1,1038.1 L1923.9,1040.1 L1924.5,1042.0 L1925.9,1040.6 L1927.6,1039.5 L1929.6,1039.7 L1931.5,1038.9 L1932.5,1040.7" stroke="#3a00f6" stroke-width="1.1" fill="none" opacity="0.95"/>
<path d="M1932.6,968.7 L1934.5,968.1 L1933.1,966.7 L1934.9,965.9 L1933.3,967.1 L1935.3,967.3 L1933.9,966.0 L1932.9,967.7 L1934.4,966.3 L1933.1,964.9 L1934.0,963.1 L1935.5,964.4 L1937.3,965.5 L1938.0,963.6 L1938.1,965.6 L1939.3,964.0 L1941.3,964.3 L1939.6,963.5 L1941.5,964.1 L1943.4,964.8 L1945.1,963.8 L1945.1,961.8 L1945.1,959.8 L1945.4,961.8 L1943.6,960.9 L1944.9,959.4 L1943.0,959.1 L1944.6,957.9 L1946.5,957.1 L1944.6,956.5 L1945.6,958.2 L1944.0,957.0 L1945.7,955.9 L1944.6,957.5 L1946.6,957.4 L1947.0,955.4 L1949.0,955.7 L1947.5,957.0 L1946.0,955.7 L1944.7,954.2 L1944.9,952.2 L1943.0,952.0 L1941.1,951.4 L1941.6,953.4 L1941.9,951.4 L1942.5,949.5 L1944.5,949.1 L1943.0,950.4 L1945.0,950.8 L1943.9,952.4 L1942.3,953.6 L1943.2,955.4 L1944.4,953.8 L1945.0,951.9 L1947.0,951.7 L1945.1,951.2 L1944.7,949.3 L1946.3,950.5 L1948.4,950.7 L1950.2,949.8 L1948.8,948.3" stroke="#3a00f6" stroke-width="1.1" fill="none" opacity="0.95"/>
<path d="M1937.9,774.8 L1938.9,773.1 L1938.1,774.9 L1939.1,776.6 L1940.5,775.2 L1939.2,773.7 L1938.0,772.1 L1936.1,772.5 L1938.0,772.1 L1937.0,772.0 L1935.3,772.0 L1936.7,772.0 L1936.7,772.0 L1938.1,772.0 L1938.9,772.0 L1939.2,772.0 L1938.7,772.0 L1937.2,772.0 L1939.2,772.0 L1937.3,772.0 L1938.9,772.0 L1938.6,772.0 L1938.9,772.0 L1939.6,772.0 L1937.7,772.0 L1938.6,772.0 L1938.9,772.0 L1940.1,772.0 L1940.3,772.0 L1938.7,772.0 L1940.5,772.0 L1938.8,772.0 L1940.8,772.0 L1940.6,772.0 L1938.7,772.0 L1936.7,772.0 L1936.1,772.0 L1934.1,772.0 L1936.2,772.0 L1935.6,772.0 L1937.6,772.0 L1939.0,772.0 L1937.0,772.0 L1935.1,772.0 L1937.1,772.0 L1937.7,772.0 L1937.0,772.0 L1936.3,772.0 L1934.3,772.0 L1936.3,772.0 L1938.3,772.0 L1937.5,772.0 L1939.4,772.0 L1937.9,772.0 L1939.2,772.0 L1940.5,772.0 L1939.4,772.0 L1941.0,772.0 L1941.6,772.0 L1941.8,772.0 L1943.8,772.0" stroke="#3a00f6" stroke-width="1.1" fill="none" opacity="0.95"/>
<path d="M1920.8,867.0 L1920.9,869.0 L1918.9,868.7 L1917.2,867.7 L1916.6,865.8 L1915.1,867.1 L1917.1,867.1 L1916.7,865.1 L1916.9,867.1 L1915.3,865.9 L1916.2,867.7 L1916.9,869.6 L1917.3,867.6 L1918.6,866.1 L1916.7,865.7 L1915.2,867.1 L1914.9,865.1 L1916.9,864.8 L1918.9,864.8 L1917.1,864.2 L1915.7,865.7 L1917.5,864.7 L1916.3,863.1 L1918.0,864.2 L1916.1,864.3 L1914.2,863.5 L1915.5,865.0 L1914.7,863.2 L1915.1,865.2 L1913.7,863.8 L1911.8,863.3 L1911.4,865.3 L1909.7,864.3 L1911.5,863.5 L1909.6,863.1 L1908.1,861.8 L1910.1,861.3 L1909.4,859.5 L1908.1,861.0 L1907.1,859.3 L1905.1,859.7 L1903.3,860.3 L1902.7,858.4 L1904.7,858.8 L1903.4,857.3 L1904.8,858.7 L1903.5,860.1 L1905.0,858.8 L1905.2,856.8 L1906.2,855.0 L1907.6,853.5 L1906.6,855.3 L1907.0,853.3 L1909.0,853.5 L1909.2,855.5 L1907.9,856.9 L1906.4,858.2 L1908.4,857.9 L1909.0,859.9 L1911.0,860.1 L1910.5,858.2" stroke="#3a00f6" stroke-width="1.1" fill="none" opacity="0.95"/>
<path d="M1930.5,772.4 L1928.6,772.0 L1927.4,773.3 L1929.5,773.1 L1931.2,774.1 L1929.3,773.6 L1928.3,775.3 L1928.3,777.3 L1930.2,776.8 L1929.3,778.6 L1929.9,776.6 L1931.4,775.3 L1933.1,776.4 L1935.0,777.0 L1935.0,779.0 L1933.5,780.3 L1931.5,780.5 L1933.2,779.4 L1935.2,779.0 L1935.2,781.0 L1933.3,781.6 L1931.3,781.8 L1933.3,781.3 L1935.3,781.8 L1936.2,783.6 L1938.0,784.4 L1936.9,782.8 L1938.9,782.5 L1940.9,782.8 L1943.0,782.7 L1942.7,784.7 L1941.6,783.0 L1943.4,782.0 L1944.6,783.6 L1946.6,783.6 L1946.7,785.6 L1945.5,787.2 L1943.5,787.5 L1942.2,789.0 L1940.3,789.6 L1942.2,790.4 L1940.9,791.9 L1939.0,791.3 L1940.9,790.7 L1942.8,791.5 L1944.7,792.0 L1946.7,791.8 L1947.5,790.0 L1947.6,788.0 L1949.5,787.4 L1951.5,787.3 L1949.6,787.4 L1947.7,786.8 L1949.4,787.8 L1948.9,785.9 L1950.9,786.2 L1949.2,785.1 L1947.3,784.9 L1945.8,786.2 L1944.4,784.8 L1942.9,783.5" stroke="#3a00f6" stroke-width="1.1" fill="none" opacity="0.95"/>
<path d="M1938.2,817.9 L1940.0,817.0 L1938.2,816.4 L1939.8,815.2 L1938.1,816.1 L1936.8,817.7 L1935.7,819.3 L1936.1,817.3 L1936.7,819.3 L1937.7,817.5 L1938.0,815.6 L1936.3,816.5 L1936.1,814.5 L1934.1,814.1 L1934.6,816.1 L1932.8,816.8 L1934.5,817.9 L1935.7,819.6 L1937.5,818.6 L1937.4,820.6 L1938.8,819.1 L1937.2,817.9 L1937.8,816.0 L1939.0,817.6 L1937.0,817.9 L1939.0,818.2 L1940.2,816.6 L1941.5,818.2 L1940.0,816.8 L1942.0,816.5 L1942.6,818.5 L1941.8,820.3 L1943.8,820.4 L1941.9,821.0 L1942.4,822.9 L1941.0,824.3 L1942.5,822.9 L1944.1,821.7 L1942.6,820.3 L1941.0,821.5 L1940.1,819.7 L1942.1,820.4 L1940.1,820.3 L1938.8,818.8 L1937.0,817.9 L1936.4,819.8 L1938.5,820.0 L1937.5,821.7 L1939.5,822.4 L1937.7,821.5 L1939.8,821.4 L1941.8,821.2 L1941.4,819.3 L1942.5,821.0 L1944.2,820.0 L1942.8,821.3 L1940.8,821.1 L1942.0,822.7 L1941.0,824.4 L1942.3,822.9 L1940.9,821.5" stroke="#3a00f6" stroke-width="1.1" fill="none" opacity="0.95"/>
<path d="M1930.2,822.1 L1931.5,823.7 L1931.8,821.7 L1929.8,821.2 L1931.3,819.8 L1931.4,817.8 L1930.1,816.3 L1929.9,814.3 L1932.0,814.5 L1930.0,814.6 L1928.3,815.6 L1926.3,815.7 L1925.1,817.2 L1923.1,817.6 L1921.6,816.3 L1923.6,816.3 L1924.0,818.3 L1925.2,819.9 L1923.3,820.4 L1924.2,822.2 L1922.4,822.7 L1922.1,824.7 L1923.7,825.9 L1925.3,827.2 L1927.0,828.3 L1926.0,830.0 L1925.2,828.2 L1924.2,830.0 L1925.8,828.7 L1927.0,830.3 L1926.3,832.2 L1924.9,833.6 L1924.2,831.7 L1924.0,833.7 L1922.0,833.8 L1922.1,835.8 L1920.2,835.5 L1918.3,836.0 L1920.2,835.4 L1918.3,835.0 L1916.6,833.9 L1917.9,835.4 L1916.7,837.0 L1918.2,835.7 L1917.5,833.8 L1919.5,833.6 L1918.4,832.0 L1919.9,830.7 L1918.2,831.6 L1916.6,832.8 L1917.1,834.7 L1918.4,833.1 L1918.3,835.1 L1916.6,834.1 L1918.1,832.8 L1916.5,833.9 L1917.8,832.4 L1916.7,834.1 L1915.5,835.6 L1913.6,836.1 L1911.8,835.3" stroke="#3a00f6" stroke-width="1.1" fill="none" opacity="0.95"/>
<path d="M1938.1,1016.4 L1940.1,1016.4 L1940.2,1014.4 L1941.9,1013.4 L1943.2,1015.0 L1941.9,1016.5 L1943.9,1016.2 L1945.3,1014.8 L1946.7,1013.3 L1946.3,1011.3 L1944.3,1011.4 L1943.3,1013.1 L1943.4,1011.1 L1945.2,1012.1 L1943.4,1013.0 L1944.0,1011.0 L1944.9,1012.8 L1946.3,1011.4 L1948.4,1011.3 L1947.3,1013.0 L1948.0,1014.9 L1946.0,1014.5 L1944.7,1013.1 L1944.8,1015.1 L1946.8,1014.9 L1945.3,1016.2 L1943.5,1016.8 L1941.5,1016.9 L1940.2,1018.4 L1938.6,1019.6 L1939.0,1017.6 L1938.7,1015.7 L1940.5,1016.5 L1941.1,1014.6 L1939.2,1015.0 L1937.4,1015.9 L1938.3,1014.1 L1936.3,1014.0 L1936.7,1012.0 L1937.3,1013.9 L1935.9,1015.3 L1936.3,1017.2 L1936.7,1019.2 L1935.0,1020.2 L1933.8,1021.7 L1935.4,1020.4 L1935.1,1018.5 L1933.2,1019.0 L1931.7,1020.4 L1929.8,1020.1 L1929.0,1021.9 L1927.4,1023.1 L1925.5,1023.6 L1923.6,1023.7 L1922.3,1022.1 L1921.2,1023.8 L1922.3,1025.5 L1924.4,1025.6 L1922.4,1025.8 L1923.7,1024.2 L1925.7,1024.3" stroke="#3a00f6" stroke-width="1.1" fill="none" opacity="0.95"/>
<path d="M1911.3,861.3 L1911.9,863.2 L1913.0,861.5 L1911.7,863.0 L1913.8,863.2 L1911.8,862.8 L1911.8,864.8 L1910.0,865.6 L1908.6,867.0 L1909.9,865.4 L1909.4,863.5 L1909.6,865.5 L1911.3,866.6 L1912.9,865.5 L1914.1,867.2 L1912.4,866.2 L1912.3,864.2 L1910.7,863.1 L1909.7,861.3 L1908.2,860.0 L1908.9,862.0 L1907.0,862.6 L1905.1,863.0 L1903.1,862.8 L1901.3,862.1 L1902.9,860.8 L1900.9,861.3 L1899.1,860.6 L1898.5,862.5 L1898.7,864.5 L1900.7,864.2 L1901.8,862.5 L1900.2,861.3 L1899.0,862.9 L1900.8,862.1 L1901.5,864.0 L1903.1,862.7 L1901.2,863.3 L1900.8,865.2 L1902.1,866.7 L1903.9,865.8 L1905.5,864.6 L1903.9,863.5 L1905.9,863.9 L1904.9,865.6 L1905.5,867.5 L1907.3,868.5 L1907.9,870.4 L1908.7,868.6 L1907.2,869.9 L1907.9,868.0 L1907.4,866.1 L1908.1,864.2 L1907.7,862.2 L1908.2,860.3 L1907.3,858.5 L1908.9,857.2 L1908.1,859.0 L1908.5,857.0 L1907.5,855.3 L1909.0,853.9" stroke="#3a00f6" stroke-width="1.1" fill="none" opacity="0.95"/>
<path d="M1928.5,909.0 L1930.0,910.3 L1929.7,912.3 L1927.7,912.3 L1928.7,910.6 L1927.2,909.4 L1927.1,907.4 L1926.6,905.4 L1928.5,904.9 L1927.0,906.2 L1926.7,904.2 L1927.5,906.1 L1926.1,904.7 L1928.0,905.2 L1926.1,904.6 L1925.3,902.8 L1924.9,904.7 L1925.7,906.6 L1926.0,904.6 L1928.0,904.5 L1927.1,906.3 L1927.4,908.3 L1925.9,907.0 L1927.9,907.0 L1927.2,908.9 L1925.3,909.2 L1923.7,910.4 L1924.3,912.3 L1925.2,914.1 L1923.2,914.4 L1921.6,915.6 L1919.9,914.6 L1918.0,915.0 L1916.9,916.7 L1918.7,915.7 L1917.0,916.6 L1918.8,917.5 L1916.9,917.1 L1914.9,917.1 L1916.0,915.3 L1915.6,917.3 L1917.5,916.4 L1915.5,916.8 L1915.8,918.8 L1914.2,917.6 L1915.2,915.9 L1915.2,913.9 L1914.1,915.5 L1912.8,914.0 L1913.4,912.1 L1911.9,910.9 L1911.6,912.9 L1909.6,913.2 L1910.0,915.2 L1909.2,917.0 L1911.1,916.2 L1911.9,918.0 L1912.7,919.9 L1913.9,921.5 L1915.8,921.0 L1917.8,921.3" stroke="#3a00f6" stroke-width="1.1" fill="none" opacity="0.95"/>
<path d="M1937.5,798.6 L1938.8,800.2 L1940.8,799.9 L1939.5,798.4 L1937.7,799.0 L1935.7,799.0 L1935.7,797.0 L1937.5,797.9 L1935.9,796.8 L1933.9,797.1 L1935.9,797.8 L1937.2,796.3 L1938.1,794.5 L1939.7,793.3 L1941.4,792.2 L1940.0,793.5 L1941.1,795.2 L1942.6,793.8 L1941.5,795.5 L1943.3,796.4 L1943.8,794.4 L1942.6,792.9 L1944.4,792.0 L1946.4,791.8 L1947.8,790.4 L1948.7,792.2 L1947.0,793.1 L1945.9,791.5 L1946.1,789.6 L1946.3,791.5 L1944.5,792.2 L1945.4,794.0 L1947.5,793.8 L1948.5,792.1 L1946.5,792.1 L1946.7,790.1 L1948.4,789.1 L1947.7,787.2 L1948.4,789.1 L1946.7,790.2 L1945.8,788.4 L1945.8,790.4 L1945.9,792.4 L1946.7,794.3 L1947.1,792.4 L1948.7,791.2 L1949.9,792.8 L1951.5,794.1 L1949.6,794.4 L1950.2,792.5 L1948.7,791.2 L1946.8,791.9 L1948.6,792.8 L1947.7,791.0 L1946.3,789.7 L1947.5,791.3 L1948.8,792.9 L1947.4,794.3 L1946.3,792.6 L1944.9,793.9 L1946.6,795.0" stroke="#3a00f6" stroke-width="1.1" fill="none" opacity="0.95"/>
<path d="M1933.6,981.3 L1932.0,982.4 L1933.7,983.6 L1931.7,983.2 L1932.4,981.3 L1933.9,982.7 L1933.6,984.6 L1932.8,986.5 L1932.2,984.6 L1934.3,984.3 L1934.2,986.3 L1935.4,987.9 L1937.4,987.6 L1938.1,985.7 L1937.9,987.7 L1936.0,987.0 L1938.0,987.5 L1939.9,988.0 L1938.0,988.1 L1939.3,989.6 L1939.3,991.6 L1937.3,991.9 L1936.7,993.8 L1937.8,995.4 L1936.1,996.3 L1935.0,994.7 L1936.2,996.3 L1934.3,995.8 L1935.0,997.6 L1936.9,998.4 L1938.5,997.1 L1938.5,995.1 L1940.6,995.2 L1941.2,997.2 L1942.3,998.8 L1940.4,998.5 L1942.0,999.8 L1940.1,1000.1 L1941.0,998.3 L1943.0,997.9 L1944.4,996.5 L1943.3,998.1 L1945.2,999.0 L1946.4,1000.6 L1944.5,1001.2 L1946.4,1000.6 L1948.4,1000.2 L1950.2,999.2 L1951.4,997.6 L1950.1,999.0 L1952.0,998.5 L1952.6,996.6 L1954.6,997.3 L1954.0,995.4 L1952.0,995.4 L1952.5,993.5 L1950.9,994.7 L1952.4,996.0 L1953.7,997.5 L1952.1,998.6 L1950.4,999.6" stroke="#3a00f6" stroke-width="1.1" fill="none" opacity="0.95"/>
<path d="M1939.5,779.7 L1937.7,778.7 L1936.0,777.9 L1937.2,779.5 L1939.1,780.2 L1940.2,778.6 L1940.1,780.6 L1942.0,781.5 L1941.5,779.5 L1939.7,780.2 L1941.6,779.5 L1942.0,781.4 L1943.7,782.5 L1945.4,781.3 L1943.8,782.6 L1944.5,780.7 L1945.0,778.8 L1944.0,777.1 L1942.6,775.6 L1941.5,774.0 L1941.2,776.0 L1943.0,776.9 L1943.5,774.9 L1945.2,776.0 L1946.7,774.7 L1948.5,773.6 L1948.0,775.6 L1950.0,775.3 L1950.1,773.3 L1948.2,773.6 L1946.2,773.1 L1948.3,773.3 L1947.8,772.0 L1949.6,772.0 L1950.8,772.0 L1948.8,772.0 L1950.8,772.0 L1952.4,772.0 L1950.5,772.0 L1950.8,772.0 L1952.8,772.0 L1953.8,772.0 L1955.7,772.0 L1956.4,772.0 L1955.7,772.0 L1954.3,772.0 L1955.8,772.0 L1957.3,772.0 L1958.8,772.0 L1960.3,772.0 L1962.3,772.0 L1964.2,772.0 L1962.8,772.0 L1961.1,772.0 L1962.8,772.0 L1962.5,772.0 L1960.6,772.0 L1961.4,772.0 L1963.3,772.0 L1963.7,772.0 L1965.7,772.0" stroke="#3a00f6" stroke-width="1.1" fill="none" opacity="0.95"/>
<path d="M1933.4,794.2 L1934.9,795.5 L1933.2,794.5 L1935.0,795.4 L1933.1,795.6 L1933.1,793.6 L1935.1,793.2 L1933.2,793.0 L1935.2,793.0 L1937.2,793.4 L1935.2,793.2 L1933.3,792.7 L1933.7,790.7 L1935.7,791.1 L1935.9,789.1 L1935.1,787.3 L1935.9,785.4 L1937.1,783.9 L1938.0,785.7 L1940.0,785.9 L1942.0,785.6 L1941.4,787.5 L1940.3,785.9 L1938.6,784.9 L1939.4,783.1 L1941.5,783.3 L1942.9,781.9 L1941.2,780.8 L1942.4,779.3 L1940.7,778.3 L1940.8,780.3 L1939.1,781.3 L1940.1,783.0 L1939.4,784.9 L1937.5,784.4 L1936.0,785.6 L1937.3,784.1 L1938.6,785.6 L1940.1,786.9 L1939.3,785.1 L1938.4,786.9 L1938.9,784.9 L1937.5,786.3 L1935.8,787.4 L1934.6,785.9 L1934.4,783.9 L1935.2,782.1 L1936.6,783.5 L1935.8,781.7 L1936.7,783.5 L1934.8,783.8 L1936.7,784.5 L1938.0,786.0 L1939.5,787.4 L1941.4,786.7 L1941.0,784.8 L1940.9,786.8 L1939.6,788.3 L1937.7,788.0 L1936.2,789.3 L1937.7,787.9" stroke="#3a00f6" stroke-width="1.1" fill="none" opacity="0.95"/>
<path d="M1935.8,931.9 L1936.5,933.7 L1936.7,931.7 L1938.5,930.8 L1936.6,931.4 L1938.3,932.5 L1936.4,932.2 L1934.7,933.3 L1934.7,935.3 L1935.7,937.0 L1936.7,938.8 L1936.1,936.9 L1936.7,938.8 L1938.5,939.8 L1938.1,941.8 L1936.2,941.3 L1934.2,941.5 L1934.5,939.6 L1935.2,937.7 L1934.0,936.2 L1935.0,934.5 L1934.5,932.5 L1936.4,933.1 L1934.5,933.4 L1935.8,934.9 L1933.9,935.4 L1935.4,936.7 L1935.2,938.7 L1937.2,938.4 L1938.0,936.6 L1937.7,934.6 L1936.4,933.1 L1937.8,931.6 L1937.9,933.6 L1939.6,932.5 L1941.3,933.6 L1943.3,933.9 L1943.5,931.9 L1942.7,930.0 L1943.6,928.2 L1942.5,926.5 L1942.8,924.5 L1941.1,923.6 L1941.4,921.6 L1941.2,919.6 L1940.2,921.3 L1938.7,920.1 L1936.7,919.8 L1935.2,918.6 L1935.4,920.5 L1937.4,920.9 L1939.4,921.4 L1939.4,919.4 L1938.9,921.3 L1937.1,920.5 L1937.7,922.4 L1938.6,920.6 L1937.0,919.4 L1938.9,918.7 L1938.0,920.5 L1936.7,919.0" stroke="#3a00f6" stroke-width="1.1" fill="none" opacity="0.95"/>
<path d="M1936.6,860.1 L1935.2,861.5 L1936.9,862.7 L1938.4,861.4 L1940.1,860.3 L1941.9,859.4 L1941.1,857.6 L1939.6,856.3 L1938.7,858.1 L1937.0,859.2 L1936.1,857.5 L1936.0,859.5 L1934.2,858.6 L1932.5,859.7 L1932.8,861.6 L1931.5,863.1 L1931.5,861.1 L1931.6,859.1 L1930.4,857.6 L1931.9,858.9 L1933.9,859.0 L1932.7,860.6 L1934.7,860.2 L1935.4,858.3 L1935.0,856.3 L1934.6,854.4 L1934.5,856.4 L1932.6,856.1 L1932.5,858.1 L1934.2,859.3 L1935.4,857.7 L1937.2,858.8 L1935.4,858.0 L1936.5,856.3 L1935.7,854.5 L1936.5,852.7 L1937.9,851.2 L1939.5,852.5 L1941.4,853.0 L1943.5,852.9 L1945.2,853.9 L1947.0,852.9 L1948.9,853.5 L1950.0,855.2 L1950.0,857.2 L1948.1,856.6 L1948.4,858.6 L1946.5,858.1 L1947.1,856.2 L1945.2,856.0 L1945.6,857.9 L1947.1,859.2 L1949.0,859.9 L1947.6,861.3 L1945.7,861.5 L1947.3,860.3 L1946.4,862.1 L1948.3,861.3 L1949.2,863.1 L1948.4,864.9 L1946.5,865.3" stroke="#3a00f6" stroke-width="1.1" fill="none" opacity="0.95"/>
<path d="M1904.4,914.5 L1904.7,912.5 L1906.7,912.6 L1908.8,912.5 L1910.4,913.7 L1909.1,915.2 L1911.0,914.7 L1912.3,916.3 L1911.9,918.2 L1911.0,916.5 L1910.5,918.4 L1909.5,916.6 L1910.8,918.2 L1911.3,916.3 L1910.2,917.9 L1909.2,919.6 L1909.6,917.7 L1907.6,917.8 L1908.9,916.2 L1907.8,914.6 L1906.5,913.1 L1904.8,912.1 L1903.5,910.6 L1901.6,911.2 L1903.6,911.8 L1903.2,909.8 L1904.3,908.1 L1906.1,907.2 L1905.7,905.2 L1904.5,906.8 L1904.3,904.8 L1903.0,903.3 L1901.0,903.3 L1899.0,903.2 L1901.0,902.7 L1901.8,900.8 L1903.0,902.5 L1903.0,900.5 L1901.9,898.8 L1899.9,899.0 L1898.6,897.6 L1898.3,899.5 L1897.4,897.8 L1898.2,896.0 L1899.2,894.2 L1899.9,892.3 L1901.9,891.8 L1902.1,893.8 L1903.3,895.4 L1901.4,895.8 L1899.9,894.5 L1898.4,893.2 L1900.0,894.4 L1899.8,896.4 L1899.4,894.4 L1898.0,893.0 L1899.4,894.5 L1898.7,896.3 L1900.1,897.8 L1900.2,899.8 L1899.8,897.8" stroke="#3a00f6" stroke-width="1.1" fill="none" opacity="0.95"/>
<path d="M1904.3,854.0 L1902.5,853.2 L1901.0,852.0 L1902.9,851.2 L1904.4,852.6 L1905.3,850.8 L1903.4,850.4 L1905.3,849.8 L1903.4,850.4 L1904.6,852.1 L1906.2,853.3 L1908.1,852.6 L1906.3,853.5 L1908.0,854.6 L1907.0,856.3 L1909.0,856.9 L1907.8,858.5 L1906.2,859.7 L1907.0,857.9 L1905.4,856.8 L1903.4,856.7 L1903.1,858.7 L1901.3,859.4 L1900.6,861.3 L1898.7,861.2 L1897.9,859.3 L1896.0,859.9 L1897.6,861.1 L1897.4,859.1 L1898.3,857.3 L1896.4,857.7 L1897.6,856.1 L1896.7,857.9 L1895.3,859.3 L1896.4,861.0 L1898.3,860.4 L1896.8,859.2 L1897.5,861.1 L1896.5,862.8 L1894.6,863.5 L1896.5,864.2 L1894.6,864.5 L1892.6,864.5 L1894.7,864.4 L1893.4,866.0 L1894.9,867.4 L1896.1,865.8 L1897.0,867.6 L1895.2,866.7 L1893.4,866.0 L1892.3,867.6 L1892.4,865.6 L1891.1,867.1 L1893.0,867.7 L1893.5,865.8 L1891.9,864.5 L1892.1,866.5 L1890.2,866.3 L1891.4,864.6 L1892.7,866.1 L1893.8,864.4" stroke="#3a00f6" stroke-width="1.1" fill="none" opacity="0.95"/>
<path d="M1931.5,790.7 L1930.3,792.3 L1928.4,792.7 L1930.0,791.4 L1928.0,791.5 L1927.9,789.5 L1929.3,788.0 L1929.1,790.0 L1927.3,790.8 L1929.3,791.4 L1931.3,791.6 L1931.9,789.7 L1932.8,787.9 L1931.9,789.6 L1932.2,791.6 L1933.6,793.1 L1931.6,792.8 L1930.6,791.1 L1929.5,789.5 L1928.4,787.8 L1926.6,788.7 L1924.7,788.2 L1923.1,789.3 L1923.0,787.3 L1922.0,786.2 L1922.0,787.6 L1922.0,787.9 L1922.0,787.3 L1922.0,786.5 L1922.0,788.4 L1922.0,790.4 L1922.0,791.4 L1922.0,789.6 L1922.0,788.2 L1923.3,788.9 L1925.3,788.6 L1925.1,786.6 L1925.8,788.5 L1924.0,787.7 L1926.0,788.1 L1926.9,789.9 L1927.2,787.9 L1925.5,788.9 L1923.5,788.6 L1922.2,787.1 L1922.9,785.2 L1924.9,785.6 L1924.9,783.6 L1924.3,785.5 L1926.1,786.4 L1927.2,784.8 L1925.4,785.4 L1923.4,785.4 L1925.3,784.8 L1924.7,786.7 L1925.6,784.9 L1924.7,786.6 L1923.4,788.2 L1922.0,787.3 L1922.8,785.6 L1924.6,784.8" stroke="#3a00f6" stroke-width="1.1" fill="none" opacity="0.95"/>
<path d="M1939.8,952.6 L1941.3,951.2 L1941.5,949.2 L1942.4,951.0 L1942.5,953.0 L1943.7,951.4 L1945.4,952.5 L1947.4,952.3 L1949.2,951.4 L1951.3,951.4 L1953.3,951.5 L1951.5,952.3 L1950.8,950.4 L1949.6,951.9 L1951.6,952.1 L1949.8,951.3 L1951.5,952.4 L1949.6,952.9 L1949.0,951.0 L1947.1,951.4 L1948.0,953.2 L1947.9,951.3 L1946.0,951.8 L1944.2,951.0 L1946.0,950.2 L1947.7,949.1 L1946.1,947.9 L1944.3,947.2 L1943.2,945.5 L1944.2,943.8 L1946.2,943.4 L1946.6,941.4 L1945.4,942.9 L1947.2,943.7 L1945.7,942.4 L1943.7,942.7 L1944.6,944.5 L1945.4,942.7 L1947.3,942.0 L1949.1,943.1 L1947.1,942.7 L1946.1,941.0 L1944.2,941.4 L1944.5,943.4 L1942.5,943.2 L1940.7,943.8 L1941.4,945.7 L1939.6,945.1 L1941.6,945.3 L1943.6,945.5 L1945.6,945.7 L1946.4,943.9 L1947.5,942.1 L1949.1,940.9 L1950.7,942.2 L1949.1,941.0 L1951.1,941.3 L1949.1,941.4 L1947.2,941.8 L1947.0,939.8 L1948.3,938.2" stroke="#3a00f6" stroke-width="1.1" fill="none" opacity="0.95"/>
<path d="M1901.9,812.8 L1900.3,813.9 L1898.5,814.8 L1898.5,812.8 L1896.7,812.0 L1895.3,810.6 L1894.3,812.3 L1892.4,812.0 L1892.0,812.7 L1892.6,812.8 L1893.9,814.3 L1893.6,816.3 L1893.1,818.2 L1893.0,820.2 L1892.0,818.9 L1892.0,817.4 L1892.0,818.8 L1892.0,816.8 L1892.0,816.5 L1892.0,817.5 L1892.0,816.8 L1892.0,817.1 L1892.0,816.2 L1892.0,817.4 L1892.0,818.3 L1892.0,818.3 L1892.0,819.0 L1892.0,817.0 L1892.0,817.2 L1892.0,816.2 L1892.0,814.4 L1892.0,812.7 L1892.0,813.9 L1892.0,814.7 L1892.0,815.1 L1892.0,816.9 L1892.0,815.0 L1892.0,814.8 L1892.0,814.6 L1892.0,814.0 L1892.0,815.9 L1892.0,814.2 L1892.0,815.9 L1892.0,814.0 L1892.0,814.4 L1892.0,812.8 L1892.0,812.5 L1892.0,812.7 L1892.0,810.8 L1892.0,812.6 L1892.0,813.3 L1892.0,811.3 L1892.0,813.3 L1892.0,813.1 L1892.0,812.3 L1892.0,813.3 L1892.0,814.1 L1892.0,815.0 L1892.0,814.7 L1892.0,815.8 L1892.0,817.5" stroke="#3a00f6" stroke-width="1.1" fill="none" opacity="0.95"/>
<path d="M1925.1,1031.5 L1926.6,1030.2 L1927.3,1028.3 L1925.7,1029.5 L1924.8,1027.7 L1923.7,1026.1 L1925.7,1025.8 L1925.7,1023.8 L1926.7,1025.6 L1925.0,1024.5 L1924.5,1022.6 L1926.5,1022.1 L1924.6,1022.3 L1924.8,1024.3 L1924.9,1022.3 L1924.4,1024.2 L1923.0,1025.6 L1924.5,1024.3 L1926.3,1023.3 L1924.3,1023.6 L1922.4,1023.3 L1920.5,1023.7 L1919.7,1021.9 L1917.9,1022.7 L1917.6,1020.8 L1915.7,1020.2 L1915.2,1022.2 L1916.2,1024.0 L1917.8,1022.8 L1917.2,1024.7 L1917.8,1022.7 L1916.5,1024.2 L1915.8,1022.3 L1916.8,1020.6 L1918.7,1019.9 L1919.5,1021.7 L1920.3,1023.5 L1919.9,1021.6 L1921.9,1021.4 L1923.8,1022.1 L1922.8,1020.4 L1924.8,1020.0 L1922.8,1019.7 L1921.5,1021.1 L1923.5,1021.3 L1921.8,1022.2 L1921.8,1020.2 L1920.3,1021.6 L1920.2,1023.6 L1919.9,1021.6 L1917.9,1021.4 L1916.3,1020.3 L1914.3,1020.5 L1916.0,1021.6 L1918.0,1021.2 L1916.7,1022.7 L1918.5,1023.7 L1916.5,1023.7 L1916.4,1025.7 L1917.0,1023.7 L1915.3,1024.8" stroke="#3a00f6" stroke-width="1.1" fill="none" opacity="0.4"/>
<path d="M1903.9,877.6 L1905.2,876.0 L1903.5,875.1 L1902.6,876.9 L1902.4,878.9 L1904.4,878.9 L1903.9,880.8 L1902.0,881.3 L1902.4,883.3 L1900.5,883.7 L1900.7,885.7 L1900.6,883.7 L1899.6,882.0 L1900.9,880.4 L1900.7,878.4 L1902.7,877.8 L1902.8,875.8 L1901.8,877.4 L1903.5,876.4 L1901.5,876.6 L1903.3,877.7 L1905.2,878.1 L1903.4,878.9 L1903.9,880.8 L1902.0,880.8 L1901.7,882.8 L1902.8,884.5 L1901.0,885.3 L1902.9,884.6 L1903.4,886.6 L1902.0,885.2 L1902.5,883.2 L1902.0,885.2 L1900.2,884.3 L1902.0,883.3 L1900.7,884.8 L1902.7,884.5 L1904.7,884.3 L1905.7,886.0 L1906.4,888.0 L1908.2,887.1 L1909.3,888.7 L1910.5,890.4 L1912.3,891.1 L1910.5,890.5 L1910.6,892.5 L1908.6,892.9 L1907.1,894.2 L1908.5,892.7 L1909.6,891.0 L1911.5,891.6 L1912.6,893.2 L1912.2,891.3 L1912.1,893.3 L1911.4,895.2 L1909.5,894.9 L1908.8,893.0 L1909.9,891.3 L1911.9,890.8 L1912.7,892.7 L1914.3,891.5" stroke="#3a00f6" stroke-width="1.1" fill="none" opacity="0.4"/>
<path d="M1931.0,927.4 L1932.5,926.1 L1933.8,927.7 L1935.7,928.5 L1937.7,928.1 L1939.0,929.7 L1941.0,929.6 L1939.1,930.0 L1939.6,931.9 L1939.1,933.9 L1939.0,931.9 L1940.8,932.7 L1941.9,934.4 L1942.7,936.2 L1942.2,938.2 L1940.5,939.2 L1938.6,938.6 L1940.2,939.8 L1939.5,941.7 L1940.9,943.2 L1938.9,942.9 L1940.5,941.7 L1938.7,942.5 L1939.8,944.2 L1939.1,942.3 L1941.1,942.0 L1939.5,940.9 L1937.7,941.7 L1938.9,940.1 L1937.7,938.5 L1939.2,937.1 L1938.7,939.0 L1938.3,941.0 L1937.2,942.6 L1937.1,940.6 L1936.2,942.4 L1934.4,941.5 L1936.4,941.3 L1938.4,940.9 L1940.0,942.2 L1940.0,944.2 L1941.8,945.0 L1942.6,943.2 L1941.4,944.7 L1942.1,942.8 L1943.9,942.0 L1943.5,940.1 L1942.5,941.8 L1942.3,939.8 L1943.7,938.4 L1944.3,936.4 L1943.7,938.3 L1944.8,936.7 L1946.7,935.8 L1948.7,936.1 L1947.1,934.9 L1946.5,933.0 L1948.0,931.7 L1946.3,932.7 L1948.3,932.9 L1950.3,933.3" stroke="#3a00f6" stroke-width="1.1" fill="none" opacity="0.4"/>
<path d="M1911.5,890.8 L1913.1,891.9 L1911.7,893.3 L1911.4,891.3 L1909.8,890.2 L1908.2,891.4 L1909.8,892.6 L1908.1,891.7 L1906.6,893.0 L1905.7,891.2 L1905.9,889.2 L1907.9,888.8 L1908.5,890.7 L1907.7,892.5 L1907.1,894.4 L1906.1,896.1 L1906.2,894.1 L1904.7,895.5 L1904.9,893.5 L1906.2,891.9 L1908.3,891.9 L1906.4,892.6 L1906.2,894.6 L1905.1,893.0 L1903.1,893.1 L1904.3,891.4 L1904.1,893.4 L1903.1,891.7 L1904.8,890.5 L1902.9,889.9 L1901.1,889.2 L1899.1,889.6 L1901.1,889.9 L1901.3,887.9 L1903.3,887.4 L1903.7,885.4 L1905.7,885.6 L1903.8,885.7 L1905.6,884.7 L1904.4,883.1 L1902.5,882.7 L1904.0,881.4 L1906.0,881.8 L1904.1,881.4 L1904.8,879.6 L1903.8,877.9 L1902.1,876.8 L1900.2,876.7 L1901.8,878.0 L1901.6,876.0 L1903.6,875.6 L1902.9,873.7 L1901.0,874.4 L1902.9,873.6 L1901.9,875.3 L1901.6,873.3 L1900.7,875.1 L1900.1,873.2 L1900.5,871.2 L1902.2,872.2 L1900.5,871.3" stroke="#3a00f6" stroke-width="1.1" fill="none" opacity="0.4"/>
<path d="M1939.2,784.8 L1939.6,786.7 L1941.4,787.7 L1943.1,788.9 L1943.3,786.9 L1942.0,785.4 L1944.0,785.4 L1943.4,787.3 L1943.6,789.3 L1942.6,787.6 L1940.8,788.5 L1941.8,790.2 L1942.9,788.5 L1942.5,790.5 L1944.1,789.3 L1942.1,789.5 L1941.7,791.5 L1940.0,790.5 L1940.4,792.5 L1939.7,790.6 L1938.3,789.2 L1938.0,787.3 L1938.1,789.3 L1936.5,788.1 L1934.6,788.4 L1934.1,786.5 L1935.3,784.8 L1936.3,786.6 L1934.7,785.5 L1933.2,784.2 L1935.2,784.4 L1935.5,786.3 L1937.1,787.6 L1935.2,787.1 L1934.2,785.4 L1932.3,785.9 L1932.2,783.9 L1930.6,782.7 L1931.0,780.8 L1931.0,782.8 L1932.9,782.1 L1934.6,783.2 L1933.3,784.7 L1935.2,785.2 L1933.3,784.9 L1933.6,786.9 L1931.7,786.2 L1932.2,784.3 L1932.0,782.3 L1933.7,783.4 L1935.7,782.8 L1933.8,782.4 L1935.3,781.1 L1934.3,782.8 L1936.2,783.5 L1934.3,783.6 L1933.0,782.0 L1931.8,780.5 L1929.9,781.0 L1928.7,782.6 L1928.0,784.5" stroke="#3a00f6" stroke-width="1.1" fill="none" opacity="0.4"/>
<path d="M1934.9,778.7 L1936.0,780.4 L1934.6,779.0 L1933.6,780.7 L1935.5,781.4 L1933.7,780.6 L1931.7,780.2 L1933.3,781.4 L1935.3,780.9 L1933.8,782.2 L1933.4,780.2 L1931.7,779.1 L1929.7,779.3 L1930.2,777.3 L1931.6,775.8 L1932.3,773.9 L1931.4,775.7 L1933.5,775.5 L1932.3,777.0 L1932.8,775.1 L1931.8,776.8 L1933.7,777.6 L1931.8,777.2 L1933.7,777.7 L1933.4,779.7 L1935.1,778.7 L1937.2,778.8 L1936.1,777.1 L1934.9,775.5 L1936.8,774.6 L1937.8,776.3 L1939.8,776.4 L1937.9,776.8 L1937.3,774.9 L1939.2,774.0 L1939.9,775.9 L1938.0,775.1 L1936.4,776.3 L1938.2,777.3 L1937.5,779.1 L1938.4,777.3 L1936.9,776.0 L1937.2,774.0 L1937.6,772.0 L1936.6,773.7 L1934.8,774.6 L1936.4,773.4 L1934.8,774.5 L1933.8,776.2 L1932.6,777.8 L1931.1,779.1 L1931.2,781.1 L1933.1,781.7 L1931.2,782.2 L1932.8,780.9 L1932.8,782.9 L1934.4,784.1 L1933.0,782.7 L1931.4,783.7 L1931.9,785.6 L1930.1,784.8" stroke="#3a00f6" stroke-width="1.1" fill="none" opacity="0.4"/>
<path d="M1908.8,992.2 L1907.6,990.6 L1905.7,990.9 L1905.6,992.9 L1903.8,993.7 L1902.0,994.4 L1900.1,993.7 L1900.9,995.5 L1899.9,997.2 L1898.1,998.2 L1897.4,996.3 L1896.1,997.4 L1896.1,999.0 L1896.1,1000.3 L1896.1,1002.2 L1896.1,1004.2 L1896.1,1004.1 L1896.1,1002.2 L1896.1,1003.9 L1896.1,1002.1 L1896.1,1002.3 L1896.1,1000.4 L1896.1,1000.8 L1896.1,1000.9 L1896.1,1002.6 L1896.1,1000.7 L1896.1,998.9 L1896.1,999.4 L1896.1,999.6 L1896.1,997.6 L1896.1,996.9 L1896.1,996.9 L1896.1,997.2 L1896.1,995.7 L1896.1,996.1 L1896.1,995.7 L1896.1,997.1 L1896.1,995.3 L1896.1,997.3 L1896.1,995.3 L1896.1,995.8 L1896.1,997.6 L1896.1,995.8 L1896.1,997.8 L1896.1,998.6 L1896.1,1000.5 L1896.1,998.8 L1896.1,1000.7 L1896.1,1001.0 L1896.1,1002.8 L1896.1,1000.8 L1896.1,1000.1 L1896.1,1001.6 L1896.1,1002.8 L1896.1,1003.0 L1896.1,1004.2 L1896.1,1004.0 L1896.1,1006.0 L1896.1,1008.0 L1896.1,1006.0 L1896.1,1007.3" stroke="#3a00f6" stroke-width="1.1" fill="none" opacity="0.4"/>
<path d="M1937.6,963.9 L1938.4,965.7 L1940.3,964.9 L1942.1,965.7 L1943.9,964.7 L1943.7,966.7 L1941.8,966.2 L1942.1,968.2 L1940.5,969.3 L1938.8,970.3 L1939.9,971.9 L1941.9,972.5 L1941.0,974.3 L1939.1,974.5 L1940.6,975.8 L1938.7,976.4 L1937.0,977.4 L1939.0,977.3 L1940.7,978.3 L1941.2,980.3 L1942.9,981.4 L1942.5,979.4 L1941.4,977.8 L1939.6,977.0 L1941.0,975.5 L1939.2,974.6 L1938.3,976.5 L1940.1,977.4 L1941.6,978.8 L1943.5,978.2 L1945.1,979.5 L1947.1,979.4 L1949.1,979.1 L1951.1,979.1 L1950.4,977.2 L1952.4,977.3 L1953.7,978.8 L1954.8,977.1 L1954.1,975.2 L1954.5,973.2 L1955.4,975.0 L1955.8,977.0 L1954.1,975.9 L1955.2,977.6 L1955.4,979.6 L1956.4,981.3 L1955.6,983.1 L1955.6,981.1 L1955.9,979.2 L1954.0,979.6 L1955.0,977.8 L1953.0,977.7 L1954.7,978.8 L1953.0,979.9 L1954.9,980.6 L1953.5,979.3 L1955.4,979.8 L1957.3,979.0 L1959.1,978.0 L1959.2,980.0 L1960.9,981.1" stroke="#3a00f6" stroke-width="1.1" fill="none" opacity="0.4"/>
<path d="M1929.1,937.1 L1929.3,935.1 L1929.4,937.1 L1927.9,938.3 L1927.2,940.2 L1928.0,942.0 L1929.7,943.2 L1930.9,944.7 L1930.2,942.9 L1930.5,944.9 L1928.7,945.5 L1929.5,943.7 L1930.5,945.4 L1928.6,945.0 L1926.9,944.0 L1928.2,945.5 L1930.1,946.4 L1928.3,947.2 L1929.1,949.1 L1929.8,951.0 L1931.8,950.7 L1933.4,952.0 L1934.2,950.1 L1932.2,950.1 L1934.0,949.2 L1933.3,951.1 L1934.9,949.8 L1934.1,951.6 L1932.2,952.3 L1931.2,950.5 L1929.3,950.4 L1927.9,951.8 L1927.8,953.8 L1929.6,954.8 L1931.6,955.4 L1929.8,954.5 L1928.0,955.4 L1926.2,954.5 L1927.9,953.4 L1930.0,953.2 L1928.6,951.7 L1926.6,952.1 L1928.1,953.4 L1929.6,954.8 L1931.6,954.3 L1933.3,953.2 L1935.3,952.9 L1935.8,954.8 L1934.7,953.2 L1935.0,951.2 L1936.9,951.9 L1934.9,952.0 L1936.9,952.3 L1938.1,950.7 L1940.1,951.0 L1939.0,952.6 L1937.1,952.1 L1938.0,953.9 L1940.0,954.4 L1941.0,952.6 L1939.1,952.4" stroke="#3a00f6" stroke-width="1.1" fill="none" opacity="0.4"/>
<path d="M1934.3,798.3 L1936.0,799.4 L1934.1,799.3 L1932.4,798.3 L1933.7,796.8 L1933.2,798.7 L1931.5,799.7 L1933.5,800.0 L1935.2,801.1 L1936.0,799.2 L1937.5,797.9 L1939.5,798.3 L1940.0,796.4 L1941.4,794.9 L1943.3,795.7 L1944.7,794.2 L1945.9,795.8 L1944.2,794.8 L1943.9,792.9 L1942.9,791.1 L1941.5,792.5 L1942.3,794.4 L1942.9,792.4 L1942.0,790.6 L1944.1,790.4 L1943.3,788.6 L1941.9,790.0 L1939.9,789.7 L1941.0,788.0 L1940.4,786.1 L1942.4,786.5 L1943.9,785.2 L1943.0,783.4 L1942.2,781.6 L1942.6,779.6 L1944.2,780.8 L1945.6,782.2 L1945.5,780.3 L1947.5,780.3 L1945.6,780.5 L1946.5,778.7 L1945.3,777.1 L1944.6,775.3 L1944.1,777.2 L1942.8,775.7 L1944.9,776.0 L1942.9,776.2 L1941.7,777.8 L1943.1,776.4 L1941.7,777.8 L1939.7,777.7 L1941.4,776.5 L1943.0,777.7 L1944.5,779.0 L1943.5,780.6 L1945.4,780.0 L1943.5,779.4 L1941.7,778.7 L1943.7,779.0 L1943.6,777.0 L1942.0,778.2" stroke="#3a00f6" stroke-width="1.1" fill="none" opacity="0.4"/>
<path d="M1933.8,809.6 L1935.6,808.6 L1934.9,810.5 L1936.7,809.5 L1938.4,810.5 L1939.0,812.4 L1940.2,814.0 L1941.9,812.9 L1943.7,813.8 L1944.6,812.0 L1946.5,812.8 L1948.0,814.2 L1948.3,812.2 L1946.4,812.7 L1944.5,812.2 L1945.4,810.5 L1944.0,811.8 L1942.0,812.0 L1944.1,812.0 L1945.3,813.6 L1944.0,815.1 L1944.6,817.0 L1946.1,815.6 L1946.2,813.6 L1945.1,812.0 L1946.9,811.2 L1947.6,813.1 L1945.8,814.0 L1945.2,815.9 L1943.8,814.5 L1944.9,816.1 L1943.0,815.6 L1942.0,817.3 L1941.0,819.0 L1942.1,820.7 L1941.0,819.1 L1942.6,820.4 L1940.8,821.3 L1942.3,822.6 L1943.2,824.4 L1941.9,825.8 L1942.6,824.0 L1943.3,825.8 L1942.3,824.1 L1943.6,822.7 L1944.0,824.6 L1945.7,825.7 L1943.8,825.9 L1944.2,823.9 L1942.5,822.8 L1942.3,820.8 L1942.9,818.9 L1940.9,818.9 L1941.0,816.9 L1941.1,814.9 L1939.3,815.6 L1939.2,813.6 L1938.2,811.9 L1939.5,813.5 L1941.5,813.9 L1939.8,814.8" stroke="#3a00f6" stroke-width="1.1" fill="none" opacity="0.4"/>
<path d="M1916.8,848.1 L1918.5,847.1 L1919.9,848.5 L1920.2,846.6 L1918.6,847.8 L1920.2,846.5 L1922.0,845.6 L1921.9,843.6 L1923.3,845.1 L1924.3,846.8 L1926.0,845.7 L1924.5,844.3 L1923.2,845.9 L1921.6,844.8 L1920.9,846.7 L1922.9,847.0 L1921.0,846.5 L1922.8,847.3 L1922.3,849.3 L1923.4,847.6 L1923.9,845.6 L1925.4,844.3 L1927.4,844.0 L1928.8,842.6 L1927.0,841.8 L1926.4,843.7 L1927.5,841.9 L1925.6,841.5 L1926.0,843.5 L1924.1,843.4 L1924.8,845.3 L1923.6,843.7 L1921.6,843.9 L1922.4,845.8 L1924.4,846.1 L1922.4,845.8 L1920.7,844.8 L1920.1,846.7 L1919.3,848.5 L1917.3,848.2 L1918.5,849.8 L1917.6,851.6 L1916.1,852.9 L1916.7,854.9 L1914.7,855.1 L1915.1,853.1 L1916.2,851.4 L1916.1,853.4 L1916.6,855.4 L1916.6,853.4 L1917.8,855.0 L1919.1,853.5 L1921.1,853.7 L1919.9,852.2 L1919.9,854.2 L1920.3,856.1 L1919.6,858.0 L1920.5,856.2 L1921.3,858.0 L1923.1,857.0 L1923.5,859.0" stroke="#3a00f6" stroke-width="1.1" fill="none" opacity="0.4"/>
<path d="M1935.3,1034.8 L1935.5,1032.8 L1933.6,1032.5 L1932.1,1031.2 L1930.8,1032.7 L1930.9,1034.7 L1929.8,1033.1 L1931.8,1032.7 L1929.8,1032.5 L1928.5,1031.0 L1928.4,1029.0 L1927.6,1030.8 L1929.2,1029.6 L1929.1,1031.5 L1927.7,1033.0 L1926.1,1031.9 L1926.3,1033.9 L1924.7,1035.0 L1922.9,1034.1 L1924.8,1034.7 L1926.8,1035.2 L1925.0,1034.5 L1927.0,1034.2 L1928.1,1035.9 L1926.1,1036.1 L1924.4,1035.1 L1926.4,1035.5 L1928.3,1036.0 L1930.3,1035.7 L1932.2,1034.8 L1932.3,1036.8 L1933.7,1038.3 L1935.7,1038.7 L1937.3,1039.9 L1938.5,1041.6 L1939.7,1040.0 L1937.7,1039.9 L1936.0,1039.0 L1937.5,1040.3 L1937.2,1038.4 L1937.6,1036.4 L1936.0,1037.5 L1934.2,1038.4 L1932.7,1039.7 L1931.5,1038.1 L1933.0,1039.4 L1935.0,1039.6 L1935.8,1041.5 L1933.9,1042.2 L1933.9,1044.2 L1932.6,1045.7 L1934.7,1045.6 L1936.4,1044.6 L1938.1,1045.7 L1938.5,1043.7 L1937.1,1045.1 L1937.6,1043.2 L1935.9,1042.1 L1937.8,1042.8 L1939.6,1041.8 L1938.8,1043.7" stroke="#3a00f6" stroke-width="1.1" fill="none" opacity="0.4"/>
<path d="M1922.5,1028.6 L1922.9,1026.7 L1923.8,1024.9 L1921.9,1024.5 L1921.3,1026.4 L1923.1,1027.4 L1924.4,1025.8 L1922.7,1026.8 L1922.9,1024.9 L1924.2,1026.4 L1923.9,1024.4 L1922.6,1026.0 L1923.2,1027.9 L1924.0,1026.0 L1924.4,1028.0 L1922.5,1028.5 L1921.6,1026.8 L1922.9,1028.3 L1923.9,1026.5 L1925.9,1026.2 L1924.1,1027.0 L1925.3,1028.6 L1924.2,1030.3 L1922.6,1029.1 L1924.6,1029.1 L1922.9,1028.1 L1922.8,1030.1 L1924.3,1028.7 L1924.3,1026.7 L1925.3,1028.5 L1926.1,1030.3 L1928.0,1029.7 L1929.9,1029.0 L1931.6,1030.2 L1932.6,1028.5 L1934.3,1029.6 L1932.9,1028.2 L1934.9,1027.6 L1936.9,1027.7 L1935.0,1027.1 L1934.6,1029.1 L1933.1,1030.4 L1932.2,1032.1 L1933.5,1033.6 L1932.5,1035.3 L1933.6,1037.0 L1932.7,1035.2 L1931.5,1036.8 L1930.4,1035.2 L1931.2,1037.0 L1933.1,1037.8 L1931.7,1039.1 L1931.4,1037.2 L1929.5,1037.7 L1928.9,1035.8 L1927.5,1034.4 L1928.0,1032.5 L1929.9,1031.8 L1928.4,1030.4 L1929.0,1028.5 L1927.1,1029.1" stroke="#3a00f6" stroke-width="1.1" fill="none" opacity="0.4"/>
<path d="M1926.3,899.4 L1926.8,897.4 L1928.5,898.5 L1930.3,897.6 L1931.9,896.3 L1932.7,898.1 L1933.0,900.1 L1931.1,899.7 L1929.9,898.1 L1930.6,900.0 L1932.3,898.8 L1931.8,896.9 L1932.6,895.1 L1932.8,893.1 L1932.4,891.1 L1934.4,891.0 L1934.3,889.0 L1936.4,889.0 L1937.6,890.6 L1938.9,892.2 L1939.1,890.2 L1939.5,892.2 L1937.7,892.9 L1935.8,892.5 L1936.8,890.7 L1934.9,891.4 L1936.9,891.1 L1937.9,892.8 L1939.8,893.4 L1941.5,892.3 L1941.5,890.3 L1939.8,891.2 L1938.2,890.0 L1937.4,888.2 L1939.4,887.9 L1937.8,886.8 L1939.4,888.0 L1938.0,886.7 L1936.0,886.3 L1935.5,888.3 L1936.5,886.5 L1935.7,884.6 L1937.0,886.1 L1937.5,888.1 L1939.5,888.0 L1940.0,890.0 L1938.2,889.2 L1939.2,887.5 L1938.6,885.6 L1938.0,887.5 L1936.4,886.2 L1936.3,888.2 L1937.1,890.1 L1937.1,892.1 L1938.7,890.8 L1938.6,892.8 L1940.6,893.4 L1940.7,895.4 L1939.0,894.4 L1940.2,892.7 L1941.0,894.6" stroke="#3a00f6" stroke-width="1.1" fill="none" opacity="0.4"/>
<path d="M1904.4,896.9 L1903.6,895.2 L1905.4,894.2 L1905.6,892.2 L1905.1,894.2 L1905.9,896.1 L1904.4,897.4 L1902.9,898.7 L1901.0,898.0 L1903.0,898.4 L1903.2,896.4 L1905.2,896.6 L1903.4,897.3 L1901.8,896.1 L1901.4,898.1 L1899.9,899.4 L1899.8,897.4 L1898.1,896.3 L1898.6,898.2 L1897.4,896.6 L1898.5,894.9 L1899.0,893.0 L1898.2,894.8 L1900.2,895.3 L1901.4,896.9 L1900.4,898.7 L1898.5,898.2 L1898.7,900.2 L1899.3,898.3 L1897.5,897.4 L1899.5,897.1 L1900.9,898.5 L1901.2,896.6 L1902.4,898.2 L1904.5,898.2 L1903.3,899.8 L1901.3,899.7 L1902.7,898.2 L1902.8,896.2 L1900.9,896.4 L1902.8,895.9 L1901.6,897.5 L1903.5,896.9 L1904.5,898.7 L1902.9,899.8 L1904.8,900.5 L1902.9,901.1 L1901.3,902.3 L1902.4,904.1 L1902.9,906.0 L1904.7,905.0 L1903.2,906.3 L1903.3,908.3 L1903.4,906.3 L1903.5,904.3 L1901.8,905.3 L1900.9,903.6 L1902.6,902.5 L1903.9,904.1 L1902.0,904.3 L1904.0,904.3" stroke="#3a00f6" stroke-width="1.1" fill="none" opacity="0.4"/>
<path d="M1899.7,877.0 L1901.6,877.8 L1901.3,875.9 L1902.7,877.2 L1900.8,876.9 L1900.0,875.1 L1899.0,876.8 L1900.1,878.5 L1901.0,876.7 L1902.2,878.3 L1900.3,878.9 L1902.1,879.8 L1904.0,879.1 L1905.1,880.8 L1905.1,882.8 L1906.4,884.4 L1908.1,885.4 L1908.8,887.3 L1910.6,888.3 L1910.6,890.3 L1909.1,891.5 L1911.0,890.8 L1912.0,889.0 L1910.6,890.4 L1909.2,891.9 L1910.5,890.3 L1912.2,891.3 L1912.9,889.4 L1914.9,889.6 L1914.0,891.4 L1912.4,890.3 L1914.1,891.4 L1914.6,889.5 L1912.7,889.0 L1911.5,890.6 L1909.7,891.3 L1908.0,892.4 L1910.0,892.5 L1911.8,893.6 L1913.7,893.2 L1914.5,891.4 L1914.9,889.4 L1913.8,891.1 L1913.4,893.0 L1911.7,894.0 L1909.8,894.6 L1908.9,892.8 L1908.2,894.7 L1910.0,893.7 L1911.7,892.8 L1911.9,894.7 L1913.9,894.4 L1916.0,894.4 L1917.3,895.9 L1918.5,897.5 L1918.8,895.5 L1916.9,896.1 L1916.7,894.1 L1914.9,894.9 L1913.0,894.3 L1913.6,892.4" stroke="#3a00f6" stroke-width="1.1" fill="none" opacity="0.4"/>
<path d="M1939.5,869.9 L1941.4,870.3 L1939.5,870.0 L1941.2,868.8 L1943.2,869.0 L1944.2,867.3 L1946.3,867.2 L1948.3,867.2 L1947.6,869.1 L1948.7,867.4 L1946.9,868.1 L1947.8,866.3 L1946.7,864.6 L1948.7,864.9 L1949.0,866.9 L1947.1,867.5 L1945.2,868.0 L1944.9,870.0 L1946.6,868.9 L1945.2,870.2 L1946.1,872.0 L1945.6,873.9 L1947.2,875.2 L1947.0,873.2 L1949.0,872.7 L1950.4,871.3 L1952.4,870.9 L1950.5,870.8 L1952.5,871.2 L1951.6,872.9 L1950.9,874.8 L1950.5,876.8 L1948.6,876.2 L1950.2,877.4 L1948.9,876.0 L1949.5,874.1 L1951.4,874.9 L1953.0,873.6 L1952.1,875.4 L1953.9,876.4 L1952.0,876.1 L1953.7,874.9 L1954.7,876.7 L1956.7,876.0 L1957.1,877.9 L1957.0,876.0 L1958.9,876.8 L1960.7,877.7 L1962.7,877.5 L1961.0,878.6 L1959.5,877.3 L1957.5,877.3 L1958.6,875.6 L1960.0,874.1 L1960.1,872.1 L1958.2,872.0 L1957.4,873.9 L1959.3,874.6 L1961.3,874.1 L1962.0,876.0 L1960.5,874.8" stroke="#3a00f6" stroke-width="1.1" fill="none" opacity="0.4"/>
<path d="M1928.0,1024.4 L1929.4,1023.0 L1927.7,1022.0 L1929.7,1022.4 L1931.5,1021.6 L1933.2,1022.8 L1931.7,1021.6 L1930.2,1020.2 L1929.9,1022.2 L1931.9,1021.7 L1930.9,1023.5 L1929.4,1024.8 L1931.5,1024.6 L1931.4,1022.6 L1929.7,1023.6 L1930.4,1021.7 L1929.6,1019.8 L1927.7,1020.0 L1929.7,1020.0 L1929.9,1022.0 L1927.9,1022.3 L1929.3,1023.8 L1927.3,1023.9 L1925.6,1023.0 L1927.4,1022.1 L1925.7,1023.2 L1925.6,1025.2 L1927.5,1025.8 L1925.8,1024.9 L1923.8,1025.0 L1925.8,1024.7 L1925.2,1022.9 L1923.3,1022.1 L1921.5,1021.4 L1919.6,1021.0 L1917.6,1020.7 L1916.0,1021.9 L1914.3,1020.9 L1913.5,1019.1 L1912.9,1021.0 L1913.0,1019.0 L1913.7,1020.9 L1915.5,1021.9 L1916.6,1020.2 L1914.7,1019.8 L1912.7,1019.8 L1911.2,1021.0 L1909.4,1020.2 L1910.4,1018.4 L1910.7,1016.4 L1911.9,1018.1 L1913.1,1016.5 L1911.2,1016.8 L1910.8,1014.9 L1911.5,1013.0 L1912.0,1011.1 L1914.0,1011.0 L1912.5,1009.7 L1911.0,1008.4 L1911.2,1006.5 L1909.3,1005.9" stroke="#3a00f6" stroke-width="1.1" fill="none" opacity="0.4"/>
<path d="M1906.4,902.3 L1906.7,900.3 L1908.7,900.2 L1910.4,899.1 L1912.3,898.5 L1912.5,900.5 L1914.5,900.9 L1912.7,901.7 L1910.7,901.4 L1911.9,899.8 L1913.9,899.3 L1915.4,897.9 L1916.9,896.6 L1915.1,895.9 L1916.0,894.1 L1914.8,895.7 L1915.9,897.4 L1917.9,897.4 L1917.6,895.5 L1915.8,896.3 L1915.5,894.3 L1914.3,892.7 L1912.4,892.2 L1914.0,891.0 L1914.6,889.1 L1916.3,890.2 L1917.7,888.7 L1919.7,888.7 L1920.0,890.6 L1918.4,891.8 L1920.2,891.0 L1918.3,891.3 L1918.9,893.2 L1919.0,891.2 L1918.9,893.2 L1917.8,894.8 L1916.4,893.3 L1918.4,893.3 L1917.2,894.8 L1915.5,895.8 L1917.5,895.6 L1915.6,895.1 L1916.9,896.7 L1915.0,895.9 L1916.9,896.6 L1918.9,897.0 L1917.8,895.4 L1916.5,896.9 L1914.5,896.8 L1912.8,895.8 L1911.5,897.3 L1913.3,896.4 L1912.2,894.7 L1910.3,895.1 L1908.8,896.4 L1910.8,896.9 L1909.1,895.9 L1908.5,897.8 L1910.3,898.7 L1910.5,900.7 L1910.2,902.7" stroke="#3a00f6" stroke-width="1.1" fill="none" opacity="0.4"/>
<path d="M1928.4,800.5 L1930.0,799.8 L1930.3,801.5 L1930.4,799.8 L1929.5,798.2 L1928.9,796.5 L1928.6,794.8 L1930.3,795.3 L1928.6,796.0 L1926.9,795.4 L1925.2,795.1 L1926.5,793.9 L1926.2,792.2 L1924.5,791.4 L1922.8,791.9 L1922.0,793.5 L1921.0,795.0 L1919.2,794.7 L1919.7,796.4 L1918.0,795.8 L1916.3,796.0 L1916.3,797.8 L1917.6,799.0 L1916.0,799.6 L1915.0,801.1 L1916.0,799.6 L1914.2,799.3 L1915.6,800.5 L1915.0,798.8 L1916.7,798.3 L1918.2,799.3 L1916.5,800.1 L1918.3,800.4 L1917.4,801.9 L1919.1,802.5 L1919.7,800.8 L1921.5,800.8 L1920.4,799.4 L1921.1,797.7 L1920.9,799.5 L1919.3,798.6 L1920.4,800.0 L1919.9,801.8 L1919.2,800.1 L1917.5,799.6 L1916.9,797.9 L1915.4,796.8 L1913.7,796.8 L1915.5,796.6 L1914.0,797.7 L1912.6,798.8" stroke="#3a00f6" stroke-width="1.2" fill="none"/>
<path d="M1937.9,975.1 L1936.3,975.8 L1935.8,977.6 L1934.2,976.7 L1932.9,977.8 L1933.0,976.0 L1932.9,977.8 L1932.5,976.1 L1934.3,975.7 L1933.5,977.4 L1932.4,976.0 L1931.0,977.1 L1929.5,978.1 L1928.5,976.6 L1926.9,975.9 L1926.3,974.2 L1924.5,974.2 L1925.9,975.4 L1924.6,976.6 L1926.0,977.8 L1924.9,979.2 L1926.4,980.3 L1928.2,980.5 L1929.1,978.9 L1927.4,978.4 L1925.7,978.1 L1925.2,979.8 L1924.8,978.0 L1923.1,978.7 L1924.8,978.0 L1923.5,979.2 L1924.7,977.8 L1926.5,977.9 L1925.1,976.8 L1923.9,975.4 L1922.8,974.0 L1924.3,975.1 L1924.1,973.3 L1925.9,973.2 L1925.7,971.4 L1924.0,971.2 L1922.9,972.6 L1922.3,970.9 L1920.7,971.7 L1922.5,971.2 L1921.7,972.9 L1920.0,972.9 L1919.8,971.1 L1921.5,970.6 L1919.8,970.6 L1918.8,969.1" stroke="#3a00f6" stroke-width="1.2" fill="none"/>
<path d="M1936.6,869.1 L1938.4,868.9 L1937.3,867.5 L1935.9,868.5 L1937.6,869.2 L1939.2,868.4 L1938.4,866.8 L1936.7,866.4 L1937.3,868.1 L1935.5,867.9 L1933.7,867.7 L1933.9,865.9 L1932.4,864.9 L1931.7,863.2 L1930.0,863.6 L1930.6,861.9 L1929.7,860.4 L1930.5,862.0 L1930.0,863.7 L1929.7,861.9 L1929.8,860.1 L1929.6,861.9 L1930.0,863.6 L1931.0,862.1 L1931.7,863.8 L1932.9,862.4 L1931.2,862.9 L1932.2,864.4 L1930.4,864.8 L1929.9,866.5 L1928.5,865.4 L1927.0,864.6 L1925.9,866.0 L1924.7,864.6 L1923.3,865.7 L1923.2,867.5 L1924.8,868.2 L1923.1,867.6 L1924.9,867.9 L1924.2,866.2 L1926.0,865.9 L1926.2,867.6 L1928.0,867.8 L1929.8,867.6 L1930.5,869.3 L1930.6,867.5 L1929.4,868.8 L1928.1,867.6 L1926.4,867.9 L1924.6,867.6 L1924.3,869.3" stroke="#3a00f6" stroke-width="1.2" fill="none"/>
<path d="M1935.1,973.3 L1936.9,973.7 L1935.9,972.3 L1935.4,974.0 L1936.2,975.7 L1936.8,977.3 L1935.4,978.4 L1937.0,979.3 L1937.0,981.1 L1937.0,982.9 L1938.4,981.7 L1937.2,983.1 L1938.8,984.0 L1938.7,982.3 L1938.1,984.0 L1939.9,983.8 L1941.6,984.5 L1942.7,983.1 L1944.4,983.9 L1944.9,982.2 L1943.2,982.5 L1942.1,981.1 L1943.5,979.9 L1943.2,978.1 L1943.4,976.3 L1945.1,975.7 L1946.8,975.1 L1945.8,976.6 L1946.2,978.4 L1944.5,977.8 L1944.6,976.0 L1946.0,974.9 L1946.1,976.6 L1947.2,978.1 L1948.9,977.5 L1947.5,978.6 L1947.2,980.4 L1946.5,982.0 L1945.6,980.5 L1944.1,981.3 L1943.1,982.9 L1943.9,981.2 L1945.7,981.7 L1946.1,983.5 L1947.8,982.9 L1949.6,983.2 L1947.9,982.7 L1949.6,983.5 L1948.5,982.1 L1948.4,980.3 L1950.1,979.9" stroke="#3a00f6" stroke-width="1.2" fill="none"/>
<path d="M1936.2,945.3 L1935.7,943.6 L1937.2,942.6 L1936.9,944.3 L1935.5,945.4 L1937.0,944.4 L1938.8,944.3 L1939.7,942.7 L1941.4,943.3 L1939.6,943.4 L1941.4,943.2 L1939.6,943.0 L1937.8,943.1 L1936.5,944.4 L1934.8,944.6 L1934.1,946.2 L1934.2,944.4 L1932.4,944.6 L1933.7,945.9 L1935.1,944.9 L1935.1,946.7 L1935.7,948.3 L1934.3,947.3 L1935.6,946.0 L1937.2,946.8 L1938.0,945.2 L1937.1,943.7 L1938.8,944.3 L1939.3,946.0 L1940.6,947.3 L1942.4,947.4 L1940.8,946.6 L1939.2,945.8 L1938.9,947.6 L1938.1,949.2 L1937.5,950.9 L1939.3,951.1 L1939.2,952.9 L1937.9,951.7 L1939.3,950.6 L1937.8,951.5 L1936.6,952.8 L1934.8,952.7 L1933.1,953.1 L1932.2,954.7 L1930.4,954.6 L1930.8,952.8 L1929.9,954.3 L1928.3,955.0 L1930.1,955.0 L1931.1,953.6" stroke="#3a00f6" stroke-width="1.2" fill="none"/>
<path d="M1935.3,869.6 L1934.6,867.9 L1933.6,869.4 L1931.8,869.0 L1930.5,867.8 L1931.7,869.1 L1932.9,870.5 L1934.5,869.7 L1936.3,870.2 L1937.7,869.0 L1936.7,870.5 L1938.3,869.6 L1936.7,868.9 L1937.8,867.4 L1936.8,866.0 L1935.1,865.7 L1936.7,865.0 L1935.0,865.5 L1936.4,866.7 L1937.8,865.6 L1936.1,865.0 L1937.8,864.2 L1937.9,866.0 L1936.7,864.7 L1938.5,865.1 L1938.5,866.9 L1940.1,866.2 L1941.5,867.4 L1942.3,865.7 L1943.0,864.1 L1942.6,865.8 L1941.7,864.3 L1940.4,863.1 L1941.9,862.1 L1941.5,863.8 L1939.9,863.1 L1941.6,862.6 L1940.6,864.1 L1942.1,865.1 L1943.0,863.5 L1944.5,864.5 L1945.7,863.1 L1947.1,861.9 L1946.1,860.4 L1944.8,859.3 L1946.3,858.2 L1947.6,859.5 L1946.1,860.5 L1947.7,859.7 L1947.0,858.1 L1948.5,859.2" stroke="#3a00f6" stroke-width="1.2" fill="none"/>
<path d="M1931.8,848.8 L1933.6,848.8 L1935.4,848.7 L1935.8,847.0 L1937.4,847.8 L1937.0,846.0 L1936.6,847.8 L1935.7,849.3 L1934.8,850.8 L1933.0,850.5 L1934.0,852.0 L1935.0,853.5 L1936.4,854.8 L1937.9,853.8 L1936.9,852.3 L1935.2,852.9 L1933.7,853.8 L1935.2,852.8 L1934.7,851.1 L1935.0,849.3 L1933.3,849.0 L1935.1,849.3 L1933.9,847.9 L1933.7,846.2 L1935.4,845.7 L1936.9,846.7 L1935.8,845.3 L1934.0,845.3 L1932.3,845.7 L1931.8,847.4 L1930.3,846.5 L1928.5,846.7 L1928.2,848.5 L1929.6,847.2 L1931.3,847.7 L1930.0,848.9 L1930.2,847.1 L1932.0,847.6 L1932.2,849.4 L1931.7,851.1 L1933.3,852.0 L1932.4,853.5 L1933.1,851.8 L1932.6,853.6 L1933.5,852.0 L1935.3,851.5 L1937.0,851.1 L1938.7,850.4 L1937.0,851.0 L1936.0,849.5 L1937.7,850.2" stroke="#3a00f6" stroke-width="1.2" fill="none"/>
<path d="M1935.1,972.0 L1934.5,970.3 L1936.3,970.9 L1937.3,972.3 L1936.9,974.1 L1935.2,974.4 L1934.6,972.7 L1935.5,974.3 L1933.7,974.6 L1934.7,976.1 L1934.2,974.4 L1934.6,976.1 L1936.3,976.6 L1934.8,977.5 L1936.6,977.0 L1934.8,976.9 L1936.4,977.7 L1935.1,976.5 L1933.3,976.2 L1933.5,978.0 L1931.8,977.9 L1931.4,979.6 L1930.6,978.0 L1931.8,976.7 L1930.6,975.4 L1931.4,973.7 L1931.9,972.0 L1933.3,973.1 L1933.9,974.8 L1935.7,974.5 L1937.4,974.0 L1937.3,972.2 L1937.5,974.0 L1937.2,975.8 L1937.0,974.0 L1937.5,972.3 L1937.8,974.1 L1939.3,973.1 L1938.5,974.7 L1937.5,976.1 L1936.1,975.0 L1937.8,974.3 L1938.4,976.1 L1937.2,977.4 L1938.5,976.2 L1940.3,976.4 L1941.9,977.3 L1942.1,979.1 L1942.1,977.3 L1942.4,979.1 L1943.3,980.6" stroke="#3a00f6" stroke-width="1.2" fill="none"/>
<path d="M1939.1,852.1 L1938.1,850.6 L1939.1,849.1 L1939.8,850.8 L1941.6,851.3 L1943.3,850.8 L1942.2,849.4 L1941.8,847.6 L1943.6,847.2 L1945.1,846.3 L1946.7,845.4 L1947.8,846.8 L1947.1,848.5 L1947.3,850.3 L1949.1,850.0 L1950.2,851.4 L1948.6,852.1 L1947.2,853.2 L1948.2,854.8 L1948.9,856.4 L1950.5,855.6 L1949.1,854.4 L1949.1,852.6 L1948.8,854.3 L1948.6,856.1 L1949.8,854.8 L1949.8,853.0 L1949.2,851.3 L1949.9,849.7 L1950.0,851.5 L1948.9,852.8 L1950.2,854.1 L1949.4,855.7 L1950.5,857.1 L1951.6,858.6 L1949.8,858.8 L1951.2,857.7 L1949.5,857.6 L1949.3,859.4 L1948.1,860.7 L1947.2,859.1 L1948.5,860.4 L1948.6,858.6 L1949.4,857.0 L1949.8,855.2 L1948.4,854.2 L1950.2,854.5 L1950.7,856.3 L1949.2,857.2 L1948.0,858.5 L1946.2,858.5" stroke="#3a00f6" stroke-width="1.2" fill="none"/>
<path d="M1933.3,941.7 L1933.8,943.5 L1932.4,944.5 L1933.1,942.9 L1933.3,944.7 L1933.5,942.9 L1933.0,944.6 L1931.8,945.9 L1933.6,945.8 L1931.8,945.7 L1932.0,947.5 L1930.7,946.2 L1931.3,944.5 L1933.0,943.9 L1934.7,944.6 L1933.3,943.4 L1931.9,944.6 L1932.1,946.4 L1932.5,944.6 L1930.8,944.3 L1932.5,944.8 L1934.3,944.2 L1932.7,943.4 L1931.5,944.7 L1932.7,946.0 L1934.3,945.0 L1934.1,946.8 L1934.7,948.5 L1934.0,946.9 L1935.2,948.2 L1934.7,950.0 L1935.2,948.2 L1935.1,950.0 L1936.9,950.2 L1935.1,950.0 L1934.2,948.5 L1935.3,949.9 L1934.0,948.7 L1935.2,950.0 L1937.0,950.1 L1936.1,951.6 L1936.7,953.3 L1936.6,955.1 L1937.1,953.4 L1938.9,953.6 L1937.3,952.8 L1935.9,953.9 L1935.6,955.7 L1935.4,957.5 L1934.3,956.0 L1932.5,955.9" stroke="#3a00f6" stroke-width="1.2" fill="none"/>
<path d="M1932.8,780.9 L1931.5,779.7 L1929.8,780.2 L1928.7,778.8 L1927.3,777.6 L1927.1,779.4 L1928.4,780.6 L1927.7,779.0 L1928.9,780.3 L1929.6,782.0 L1930.2,783.7 L1929.4,782.1 L1931.1,782.8 L1932.0,781.3 L1933.4,782.4 L1932.5,784.0 L1934.1,783.1 L1935.1,781.6 L1936.2,780.1 L1934.9,781.4 L1933.2,782.1 L1933.5,783.9 L1932.6,785.4 L1930.9,784.6 L1929.6,783.5 L1929.9,785.3 L1931.4,784.4 L1931.0,786.1 L1931.8,784.5 L1931.3,786.2 L1930.7,784.5 L1929.2,783.5 L1927.7,782.5 L1929.4,783.2 L1928.4,784.6 L1930.0,785.5 L1931.2,784.1 L1932.1,785.7 L1933.5,784.5 L1934.1,782.8 L1935.9,782.8 L1935.9,781.0 L1935.4,779.3 L1937.1,780.1 L1935.6,779.1 L1935.9,780.9 L1934.3,780.2 L1936.0,779.6 L1936.7,777.9 L1935.5,779.3 L1935.3,777.5" stroke="#3a00f6" stroke-width="1.2" fill="none"/>
<path d="M1934.7,841.2 L1933.0,841.7 L1934.6,840.7 L1935.8,839.4 L1937.0,840.7 L1937.9,842.3 L1936.1,842.1 L1936.3,843.9 L1936.6,842.1 L1935.9,840.5 L1937.4,839.4 L1935.7,838.8 L1937.2,837.8 L1937.7,839.6 L1938.9,840.9 L1938.9,839.1 L1938.4,840.9 L1939.7,842.0 L1939.6,843.8 L1939.7,845.6 L1940.1,843.9 L1941.8,844.6 L1941.0,846.2 L1940.7,844.4 L1939.0,845.1 L1940.7,845.8 L1940.3,847.5 L1938.5,847.7 L1939.6,849.2 L1940.3,847.5 L1939.4,849.0 L1937.6,849.2 L1936.0,848.4 L1935.8,850.2 L1936.8,848.7 L1937.8,850.2 L1936.8,851.7 L1937.2,853.4 L1936.8,855.2 L1935.1,854.9 L1934.4,853.2 L1936.2,852.8 L1935.1,851.5 L1935.7,853.2 L1934.2,854.1 L1934.8,855.8 L1936.2,854.7 L1937.7,853.6 L1939.3,854.4 L1937.8,855.4 L1936.0,855.4" stroke="#3a00f6" stroke-width="1.2" fill="none"/>
<path d="M1937.1,894.7 L1935.3,894.4 L1936.7,893.2 L1936.1,894.9 L1934.4,894.2 L1933.3,892.8 L1931.5,892.5 L1933.3,892.8 L1933.9,891.0 L1932.6,889.8 L1934.1,888.7 L1932.3,888.4 L1930.6,888.0 L1929.1,887.0 L1928.4,888.6 L1928.1,886.9 L1929.5,885.6 L1931.2,886.1 L1933.1,886.1 L1931.4,886.7 L1931.5,888.5 L1929.7,888.9 L1929.4,890.7 L1930.5,892.2 L1932.1,892.8 L1930.7,891.8 L1932.5,891.8 L1934.0,892.8 L1932.2,892.9 L1933.2,891.4 L1933.0,893.1 L1931.7,894.4 L1933.6,894.5 L1935.1,895.5 L1934.3,897.1 L1934.1,895.4 L1935.1,896.9 L1934.5,895.2 L1934.2,893.4 L1934.7,891.7 L1936.6,891.7 L1937.7,890.2 L1939.4,890.7 L1938.5,889.2 L1938.2,890.9 L1937.9,889.2 L1938.2,890.9 L1937.0,889.6 L1935.4,889.0 L1933.6,889.2 L1932.0,889.9" stroke="#3a00f6" stroke-width="1.2" fill="none"/>
<path d="M1936.8,941.2 L1938.3,942.2 L1936.5,942.4 L1936.4,940.6 L1938.3,940.6 L1937.5,938.9 L1936.6,940.5 L1938.3,939.8 L1937.0,941.0 L1936.3,939.3 L1936.2,937.5 L1937.0,939.1 L1937.1,937.3 L1938.8,936.5 L1940.6,936.9 L1938.8,936.7 L1938.7,934.9 L1939.4,936.6 L1940.9,937.5 L1939.2,937.8 L1940.6,938.9 L1942.2,938.0 L1944.0,938.6 L1945.8,938.7 L1944.6,940.1 L1944.4,941.8 L1943.9,940.1 L1945.7,939.7 L1944.6,941.1 L1945.6,942.6 L1944.6,941.1 L1943.5,939.7 L1943.8,941.5 L1945.0,940.1 L1945.4,941.9 L1947.0,942.7 L1945.5,943.6 L1944.3,945.0 L1942.5,945.1 L1940.8,944.7 L1942.6,944.8 L1941.3,946.0 L1940.8,947.7 L1940.3,946.0 L1939.4,947.6 L1941.2,947.1 L1941.4,945.3 L1940.6,946.9 L1939.1,945.9 L1939.1,947.7 L1940.9,948.1" stroke="#3a00f6" stroke-width="1.2" fill="none"/>
<path d="M1934.3,865.7 L1936.0,866.3 L1936.6,864.6 L1936.5,862.8 L1937.3,861.2 L1938.1,862.8 L1937.2,864.4 L1938.9,865.2 L1937.8,863.7 L1936.7,865.1 L1936.0,863.5 L1935.2,861.8 L1934.2,860.3 L1933.2,861.8 L1931.6,862.5 L1930.7,864.1 L1932.5,864.5 L1930.9,863.8 L1932.5,862.9 L1930.8,862.4 L1930.8,864.2 L1932.5,863.9 L1932.3,865.7 L1931.0,864.5 L1930.9,866.3 L1929.9,867.8 L1929.6,869.5 L1929.5,867.7 L1931.3,867.5 L1929.6,867.4 L1931.2,866.6 L1930.7,868.4 L1929.8,866.8 L1931.3,867.8 L1933.0,867.2 L1932.3,868.9 L1932.7,867.1 L1932.7,865.3 L1932.2,867.0 L1933.9,867.8 L1932.2,867.0 L1933.2,865.5 L1931.4,865.6 L1930.6,864.0 L1932.4,864.1 L1931.7,865.8 L1932.5,864.2 L1934.1,863.3 L1934.8,861.6 L1933.4,860.5 L1933.4,858.7" stroke="#3a00f6" stroke-width="1.2" fill="none"/>
<path d="M1937.3,963.9 L1938.1,965.5 L1938.6,963.8 L1936.9,964.0 L1937.8,962.4 L1938.4,960.7 L1936.8,961.5 L1935.1,961.5 L1934.4,963.1 L1936.2,962.7 L1934.4,963.0 L1935.1,964.7 L1935.1,962.9 L1936.7,963.8 L1938.5,963.5 L1937.1,962.3 L1936.3,960.7 L1935.7,959.0 L1936.2,957.3 L1934.6,958.1 L1936.3,957.3 L1934.6,958.1 L1933.7,956.6 L1934.2,954.8 L1932.4,954.7 L1933.1,956.4 L1934.5,955.2 L1935.3,956.8 L1936.8,955.9 L1936.9,954.1 L1937.0,955.9 L1937.4,957.6 L1939.0,956.8 L1939.9,955.2 L1940.8,953.6 L1942.1,954.9 L1940.4,954.3 L1939.8,955.9 L1938.7,957.4 L1937.8,958.9 L1939.5,958.3 L1937.9,959.0 L1937.6,960.7 L1937.1,959.0 L1936.9,960.8 L1938.6,960.2 L1938.6,962.0 L1938.7,960.2 L1939.6,961.8 L1939.1,960.1 L1939.3,961.9" stroke="#3a00f6" stroke-width="1.2" fill="none"/>
<path d="M1937.5,866.2 L1936.8,864.6 L1938.5,864.1 L1940.3,863.9 L1940.9,862.2 L1942.7,862.1 L1941.1,861.5 L1939.3,861.1 L1938.0,859.8 L1936.6,858.8 L1934.8,858.5 L1936.6,858.3 L1937.9,859.7 L1936.8,861.1 L1935.9,862.6 L1937.5,861.8 L1935.7,862.0 L1935.4,863.8 L1933.7,864.3 L1933.4,862.5 L1931.8,863.3 L1932.5,864.9 L1930.8,864.4 L1932.6,864.0 L1933.2,865.7 L1933.1,863.9 L1931.4,863.5 L1931.4,865.3 L1931.3,863.5 L1930.4,862.0 L1929.6,863.6 L1931.2,864.5 L1931.5,862.7 L1930.2,864.0 L1932.0,863.5 L1931.2,861.9 L1930.0,860.6 L1931.1,859.2 L1931.6,860.9 L1933.4,860.6 L1933.2,858.9 L1931.8,860.0 L1930.1,860.3 L1928.5,859.6 L1926.8,859.1 L1927.4,860.7 L1927.4,862.5 L1925.6,863.0 L1925.8,861.2 L1927.1,862.5 L1925.4,862.2" stroke="#3a00f6" stroke-width="1.2" fill="none"/>
<path d="M1935.0,997.2 L1936.2,995.8 L1934.4,995.6 L1935.9,994.6 L1937.7,994.1 L1939.4,994.6 L1938.4,993.2 L1939.3,991.6 L1938.0,992.8 L1936.5,991.8 L1935.2,993.1 L1935.4,991.3 L1934.1,992.5 L1933.4,994.1 L1935.3,994.0 L1934.4,995.6 L1932.9,994.5 L1931.6,993.3 L1933.3,992.7 L1932.4,994.2 L1933.7,992.9 L1934.4,994.6 L1935.8,995.8 L1934.0,995.4 L1934.8,997.0 L1934.7,998.8 L1935.0,1000.6 L1936.7,999.9 L1936.7,1001.7 L1938.1,1002.8 L1938.8,1004.5 L1938.9,1006.3 L1937.2,1006.2 L1939.0,1006.0 L1937.7,1007.2 L1936.0,1006.6 L1935.3,1004.9 L1936.6,1003.6 L1934.8,1003.8 L1936.5,1003.2 L1935.8,1001.6 L1935.4,1003.4 L1933.8,1002.5 L1932.1,1002.7 L1932.0,1000.9 L1930.4,1000.2 L1929.9,1001.9 L1930.5,1000.2 L1929.4,998.9 L1928.8,1000.6 L1930.1,999.3" stroke="#3a00f6" stroke-width="1.2" fill="none"/>
<path d="M1939.3,1024.0 L1940.6,1022.7 L1939.4,1021.3 L1939.1,1019.6 L1940.2,1021.0 L1940.1,1019.2 L1938.5,1020.1 L1937.2,1021.3 L1935.6,1022.0 L1934.0,1022.9 L1932.6,1024.0 L1933.8,1022.6 L1935.6,1022.8 L1934.5,1024.2 L1934.1,1022.5 L1932.4,1023.1 L1931.2,1021.8 L1932.8,1022.7 L1934.5,1023.2 L1932.8,1023.8 L1934.6,1023.2 L1935.8,1024.6 L1935.5,1022.8 L1935.8,1024.6 L1937.3,1023.6 L1936.8,1025.3 L1938.3,1024.3 L1938.8,1022.5 L1940.6,1022.4 L1942.3,1021.9 L1941.0,1020.6 L1942.8,1020.9 L1942.3,1022.6 L1942.8,1024.3 L1942.1,1022.7 L1940.5,1023.3 L1942.1,1022.7 L1941.0,1024.0 L1942.6,1023.2 L1941.3,1022.0 L1939.8,1023.1 L1938.3,1024.1 L1940.1,1023.5 L1941.2,1022.1 L1939.5,1022.5 L1940.3,1021.0 L1939.2,1022.4 L1938.2,1023.8 L1940.0,1023.8 L1939.6,1025.6 L1939.1,1023.9" stroke="#3a00f6" stroke-width="1.2" fill="none"/>
<path d="M1932.5,908.6 L1931.7,907.0 L1931.6,905.2 L1931.2,906.9 L1929.5,906.2 L1929.7,908.0 L1930.8,909.5 L1932.6,909.2 L1930.9,909.5 L1932.6,908.9 L1931.1,909.9 L1932.9,910.5 L1931.6,909.2 L1933.1,908.2 L1934.9,908.8 L1934.2,910.4 L1935.7,911.4 L1935.4,909.6 L1935.5,911.4 L1936.3,909.8 L1937.7,908.6 L1937.8,910.4 L1938.1,912.2 L1939.3,910.8 L1941.1,910.2 L1941.1,912.0 L1941.9,910.4 L1941.1,912.0 L1942.5,910.9 L1942.7,912.7 L1942.9,914.4 L1944.0,915.9 L1943.8,914.1 L1942.4,913.0 L1941.3,914.4 L1943.1,914.0 L1943.8,915.7 L1942.1,916.3 L1940.6,917.3 L1941.6,918.8 L1940.9,917.2 L1939.9,918.6 L1941.7,919.1 L1943.4,918.6 L1943.6,916.8 L1945.2,915.9 L1944.5,917.6 L1942.8,917.4 L1941.4,918.6 L1940.3,920.0 L1942.0,919.4" stroke="#3a00f6" stroke-width="1.2" fill="none"/>
<path d="M1937.4,819.9 L1936.0,818.8 L1934.5,819.8 L1935.6,821.2 L1936.3,822.9 L1934.9,821.8 L1933.1,821.6 L1933.2,823.4 L1931.4,823.2 L1933.0,824.1 L1934.4,823.0 L1935.8,821.8 L1934.1,821.1 L1934.3,822.9 L1934.7,824.7 L1933.4,825.9 L1934.3,827.4 L1933.7,829.1 L1932.6,827.7 L1932.7,825.9 L1933.4,827.6 L1932.9,829.4 L1931.9,830.8 L1933.5,831.7 L1935.0,832.8 L1933.3,832.3 L1931.8,831.3 L1931.3,829.6 L1932.4,831.0 L1931.5,832.5 L1930.5,833.9 L1928.7,833.7 L1928.7,835.5 L1927.0,835.7 L1925.9,837.1 L1926.4,838.9 L1924.7,838.3 L1924.3,836.5 L1924.8,838.2 L1923.3,839.2 L1923.4,841.0 L1924.0,842.7 L1925.8,843.1 L1926.8,844.6 L1925.5,843.3 L1927.1,844.2 L1926.8,845.9 L1927.5,844.3 L1929.4,844.3 L1931.1,843.8 L1929.8,842.5" stroke="#3a00f6" stroke-width="1.2" fill="none"/>
<path d="M1931.6,1014.2 L1933.4,1014.0 L1932.4,1015.5 L1931.0,1016.5 L1929.6,1015.4 L1931.4,1015.6 L1930.4,1014.1 L1930.6,1012.3 L1929.5,1010.8 L1931.3,1011.3 L1929.9,1010.1 L1930.4,1011.9 L1928.9,1010.9 L1928.0,1012.5 L1927.6,1010.7 L1927.9,1008.9 L1926.3,1009.7 L1924.8,1010.6 L1923.2,1009.9 L1924.6,1010.9 L1922.9,1010.7 L1923.8,1009.1 L1923.7,1010.9 L1922.9,1009.3 L1921.3,1008.7 L1921.9,1007.0 L1920.9,1005.6 L1919.8,1007.0 L1918.8,1005.5 L1918.1,1003.9 L1919.7,1002.9 L1919.0,1004.6 L1917.4,1003.7 L1916.7,1002.1 L1915.3,1000.9 L1916.6,1002.1 L1918.3,1002.9 L1919.6,1001.5 L1920.4,1003.2 L1919.3,1004.6 L1917.8,1005.6 L1919.2,1004.4 L1920.9,1003.7 L1921.5,1002.0 L1922.5,1000.5 L1924.2,999.8 L1922.6,1000.7 L1922.8,998.9 L1923.9,1000.3 L1925.7,1000.5 L1925.0,1002.2" stroke="#3a00f6" stroke-width="1.2" fill="none"/>
<path d="M1935.5,952.2 L1937.2,952.8 L1938.9,952.0 L1940.5,951.2 L1938.7,951.3 L1939.3,953.0 L1939.8,954.7 L1941.5,955.5 L1941.6,957.3 L1943.4,957.0 L1944.8,958.2 L1946.1,959.5 L1947.7,958.8 L1947.0,960.4 L1948.7,959.8 L1948.6,958.0 L1947.0,958.7 L1948.2,957.3 L1946.5,958.0 L1946.3,956.2 L1947.6,955.0 L1946.9,953.3 L1947.0,951.5 L1948.5,950.4 L1948.6,948.6 L1950.4,948.2 L1948.9,949.2 L1948.1,950.8 L1947.0,952.2 L1945.6,951.0 L1944.9,949.4 L1943.4,950.3 L1943.1,952.1 L1941.3,952.5 L1940.0,951.4 L1938.6,950.2 L1939.6,951.7 L1938.0,952.5 L1938.8,950.9 L1940.5,951.5 L1940.6,953.3 L1942.5,953.3 L1942.2,951.5 L1942.8,949.8 L1941.9,948.2 L1942.5,946.5 L1940.8,947.1 L1939.2,947.8 L1940.3,949.3 L1941.9,950.1 L1943.4,949.2" stroke="#3a00f6" stroke-width="1.2" fill="none"/>
<path d="M1926.7,962.0 L1927.5,960.4 L1928.5,961.9 L1927.3,963.2 L1927.3,961.4 L1928.5,960.0 L1929.3,958.4 L1931.1,957.9 L1930.6,956.2 L1932.2,957.1 L1932.5,955.3 L1932.9,953.6 L1933.6,951.9 L1935.0,950.7 L1936.1,949.3 L1934.4,949.8 L1934.6,951.6 L1935.5,950.0 L1937.0,951.1 L1935.8,949.8 L1934.0,949.8 L1935.7,950.4 L1937.5,950.7 L1935.8,950.1 L1937.1,948.9 L1938.7,949.7 L1937.7,948.3 L1938.4,946.6 L1936.9,945.8 L1938.1,947.1 L1939.8,947.7 L1941.2,946.4 L1942.0,948.0 L1941.3,946.4 L1940.8,948.1 L1940.7,946.3 L1942.5,945.9 L1942.8,947.7 L1944.5,947.1 L1943.0,946.2 L1941.4,945.4 L1939.8,944.6 L1938.7,945.9 L1940.2,946.9 L1941.9,946.3 L1941.0,947.9 L1942.8,947.8 L1943.0,946.0 L1944.7,946.6 L1946.5,946.4 L1945.4,947.8" stroke="#3a00f6" stroke-width="1.2" fill="none"/>
<path d="M1933.3,974.7 L1931.7,973.9 L1930.7,975.5 L1932.4,976.2 L1931.0,977.3 L1931.0,979.1 L1929.7,977.8 L1931.5,978.3 L1932.2,979.9 L1931.4,981.5 L1930.6,979.9 L1932.1,981.0 L1933.8,981.6 L1932.1,981.1 L1930.4,981.7 L1928.7,982.3 L1930.4,983.1 L1932.0,982.3 L1933.4,983.4 L1932.5,981.8 L1934.2,982.7 L1935.2,981.2 L1933.4,981.3 L1935.2,981.2 L1936.9,981.9 L1938.7,981.8 L1937.9,980.2 L1937.3,978.5 L1938.2,977.0 L1940.0,976.7 L1941.1,975.2 L1940.7,973.4 L1942.1,974.7 L1940.6,973.7 L1938.8,973.8 L1937.3,974.6 L1938.8,973.7 L1937.0,973.8 L1938.4,972.7 L1939.6,971.3 L1937.8,971.3 L1938.5,973.0 L1936.8,972.4 L1938.5,971.8 L1938.9,970.1 L1940.6,970.7 L1940.8,972.5 L1940.2,970.8 L1941.4,969.4 L1943.1,969.9 L1942.8,968.2" stroke="#3a00f6" stroke-width="1.2" fill="none"/>
<path d="M1930.7,945.7 L1932.6,945.7 L1934.1,946.7 L1935.9,946.4 L1935.5,944.7 L1937.3,944.6 L1936.0,945.9 L1936.9,944.3 L1936.3,946.0 L1934.6,945.3 L1936.2,946.3 L1937.8,945.5 L1939.5,946.1 L1941.3,945.7 L1942.7,946.7 L1944.6,946.6 L1945.4,945.0 L1943.6,945.3 L1942.0,944.5 L1943.8,944.1 L1943.5,942.3 L1942.6,940.8 L1941.7,942.3 L1941.0,944.0 L1940.4,945.6 L1938.9,944.7 L1938.8,942.9 L1937.3,943.9 L1938.1,945.5 L1938.2,943.7 L1939.8,944.5 L1939.0,942.9 L1938.5,941.2 L1940.1,942.0 L1939.2,943.6 L1939.3,941.8 L1937.5,942.0 L1938.2,940.3 L1940.0,940.1 L1941.0,938.6 L1940.2,940.2 L1940.3,942.0 L1942.1,941.8 L1942.4,943.6 L1943.0,941.9 L1942.0,943.4 L1940.3,942.8 L1938.8,941.9 L1937.1,942.2 L1938.0,940.7 L1936.4,941.4" stroke="#3a00f6" stroke-width="1.2" fill="none"/>
<path d="M1936.4,935.2 L1935.3,933.8 L1936.4,932.3 L1937.1,930.6 L1935.9,932.0 L1937.7,931.6 L1936.3,930.4 L1934.6,930.1 L1936.3,929.5 L1934.9,928.5 L1934.2,930.1 L1935.2,931.6 L1936.6,932.8 L1936.0,934.5 L1937.1,935.9 L1938.3,937.3 L1936.5,937.3 L1938.2,936.6 L1939.9,936.1 L1940.2,934.3 L1941.7,933.4 L1940.0,933.5 L1938.4,932.6 L1940.0,933.6 L1940.7,932.0 L1941.4,930.3 L1940.9,928.5 L1942.0,930.0 L1943.2,928.6 L1944.9,929.2 L1946.6,928.5 L1947.7,929.9 L1947.7,928.1 L1945.9,928.2 L1944.2,928.6 L1944.1,930.4 L1942.5,931.1 L1940.8,931.5 L1941.0,933.3 L1939.3,932.7 L1939.6,931.0 L1938.9,929.3 L1938.6,931.1 L1939.9,929.7 L1941.2,931.0 L1940.3,929.4 L1939.9,931.1 L1939.4,929.4 L1937.6,929.4 L1936.2,930.5 L1937.6,931.6" stroke="#3a00f6" stroke-width="1.2" fill="none"/>
<path d="M1935.5,938.5 L1934.4,937.1 L1935.6,938.4 L1937.1,937.3 L1937.8,939.0 L1937.3,940.7 L1935.9,942.0 L1937.8,941.9 L1936.8,940.4 L1937.8,938.9 L1936.9,937.3 L1937.5,939.0 L1937.8,940.8 L1939.3,939.8 L1939.9,938.1 L1941.6,937.4 L1940.0,938.2 L1938.3,937.8 L1936.5,937.8 L1938.0,938.8 L1938.2,937.0 L1936.5,936.4 L1937.7,935.0 L1936.8,933.5 L1938.0,934.9 L1939.7,935.4 L1939.3,937.1 L1940.3,938.6 L1939.8,940.3 L1938.3,941.3 L1937.3,939.9 L1937.8,938.1 L1936.5,939.4 L1938.3,939.0 L1940.0,938.6 L1940.2,940.4 L1938.8,941.5 L1938.9,943.3 L1937.1,943.0 L1936.3,941.4 L1938.0,940.8 L1939.8,940.4 L1941.6,940.6 L1941.6,938.8 L1940.0,937.9 L1941.3,936.7 L1940.6,938.3 L1940.7,940.1 L1942.1,939.0 L1943.7,939.8 L1945.3,938.8" stroke="#3a00f6" stroke-width="1.2" fill="none"/>
<path d="M1926.6,785.0 L1926.0,786.7 L1924.2,786.2 L1924.6,784.4 L1926.3,783.8 L1928.0,783.3 L1928.2,785.1 L1927.8,786.9 L1926.0,786.5 L1927.5,787.6 L1927.3,789.4 L1928.8,788.2 L1929.5,789.9 L1930.3,791.5 L1931.2,790.0 L1932.3,791.4 L1932.1,789.6 L1932.4,787.9 L1934.2,787.6 L1935.2,789.2 L1935.4,787.4 L1933.8,788.2 L1932.3,787.3 L1930.6,786.8 L1931.8,785.4 L1933.5,784.9 L1935.2,784.3 L1934.0,783.1 L1934.5,781.4 L1936.3,780.8 L1937.3,779.3 L1935.6,778.8 L1936.8,777.5 L1937.8,779.0 L1936.4,777.9 L1935.4,779.4 L1934.6,777.8 L1934.2,776.1 L1933.7,777.8 L1934.5,779.4 L1935.5,777.9 L1937.3,777.4 L1936.4,778.9 L1935.5,780.5 L1936.3,778.9 L1936.2,780.7 L1934.8,781.7 L1933.2,780.9 L1932.1,779.4 L1930.5,780.1 L1931.2,781.8" stroke="#3a00f6" stroke-width="1.2" fill="none"/>
<path d="M1934.4,889.1 L1935.0,890.8 L1936.7,891.6 L1937.1,889.8 L1938.6,888.7 L1940.2,889.4 L1938.8,888.3 L1937.2,889.0 L1939.0,888.7 L1937.9,890.2 L1937.7,892.0 L1936.2,891.0 L1936.4,892.8 L1938.2,892.8 L1939.2,891.3 L1938.1,892.7 L1939.2,891.2 L1939.8,892.9 L1941.4,892.0 L1940.0,890.9 L1941.7,891.5 L1943.1,890.4 L1942.9,888.7 L1944.5,889.5 L1944.9,891.2 L1946.5,890.4 L1948.3,890.6 L1949.3,889.1 L1949.2,890.9 L1950.7,889.9 L1949.3,891.0 L1947.7,891.9 L1946.1,891.1 L1947.6,890.0 L1946.0,890.8 L1947.8,891.3 L1946.0,891.4 L1944.3,891.6 L1943.0,892.9 L1944.8,893.2 L1945.2,894.9 L1944.3,893.4 L1946.0,893.9 L1946.8,892.2 L1945.1,892.8 L1946.7,891.9 L1945.3,893.1 L1947.1,893.1 L1948.8,893.7 L1947.4,892.6 L1947.9,890.9" stroke="#3a00f6" stroke-width="1.2" fill="none"/>
<path d="M1935.0,833.2 L1936.7,832.7 L1937.3,830.9 L1935.5,831.3 L1935.6,829.5 L1935.5,831.3 L1933.8,830.6 L1934.1,832.4 L1934.0,834.2 L1935.7,833.7 L1936.6,835.2 L1935.1,836.1 L1936.9,836.1 L1938.0,834.6 L1937.5,836.3 L1938.9,837.4 L1940.5,836.5 L1939.7,838.1 L1941.0,836.9 L1942.5,837.9 L1942.9,839.7 L1942.2,841.3 L1941.4,842.9 L1943.2,842.6 L1942.5,841.0 L1941.4,839.6 L1941.2,837.8 L1942.9,837.1 L1943.4,838.8 L1942.0,839.9 L1942.2,841.7 L1941.9,839.9 L1942.9,841.4 L1943.2,839.7 L1942.1,838.3 L1940.3,838.0 L1942.0,837.3 L1940.3,836.8 L1940.3,835.0 L1940.7,836.8 L1941.7,835.3 L1940.9,833.7 L1939.1,833.6 L1940.7,834.5 L1939.3,833.4 L1937.6,833.9 L1938.9,835.1 L1938.2,836.8 L1937.8,835.0 L1937.5,836.8 L1937.5,835.0" stroke="#3a00f6" stroke-width="1.2" fill="none"/>
<path d="M1924.7,937.0 L1925.3,935.3 L1923.9,936.4 L1922.3,935.8 L1923.4,934.3 L1921.7,935.0 L1923.5,934.9 L1922.9,936.6 L1923.8,938.2 L1922.1,937.7 L1922.1,939.5 L1921.1,940.9 L1920.6,939.2 L1920.2,937.5 L1921.8,938.3 L1920.2,939.1 L1921.8,938.3 L1920.1,938.8 L1920.5,937.1 L1922.0,938.0 L1922.6,939.7 L1920.9,940.2 L1921.6,938.6 L1920.8,937.0 L1922.1,935.8 L1923.9,935.5 L1922.3,934.7 L1921.0,933.5 L1922.0,932.0 L1921.0,930.6 L1919.2,930.3 L1919.1,932.1 L1920.7,931.5 L1920.6,933.2 L1919.9,931.6 L1921.6,932.0 L1919.9,931.8 L1921.6,931.3 L1919.9,931.0 L1918.5,929.9 L1918.9,928.1 L1920.6,928.7 L1919.3,929.9 L1917.6,929.4 L1916.2,930.7 L1915.7,932.4 L1914.0,931.9 L1915.0,933.4 L1913.3,934.0 L1914.1,935.6 L1915.1,937.1" stroke="#3a00f6" stroke-width="1.2" fill="none"/>
<path d="M1927.6,896.8 L1925.8,896.7 L1927.3,897.8 L1929.1,897.6 L1927.3,897.5 L1927.1,895.7 L1925.5,896.7 L1926.9,897.9 L1928.7,898.1 L1930.5,898.1 L1931.7,899.5 L1933.1,900.6 L1933.5,902.4 L1934.1,900.7 L1933.7,902.4 L1934.2,904.2 L1934.5,905.9 L1935.1,904.3 L1936.9,903.6 L1938.3,904.7 L1937.2,906.1 L1937.6,907.9 L1939.4,908.0 L1939.6,906.2 L1941.4,905.8 L1942.8,904.7 L1943.7,903.1 L1945.5,902.9 L1945.1,904.6 L1946.6,905.5 L1944.9,905.6 L1944.9,903.8 L1944.2,905.4 L1945.9,904.9 L1945.4,906.6 L1943.7,907.2 L1944.9,905.8 L1946.3,907.0 L1947.7,905.9 L1949.1,904.7 L1949.3,902.9 L1948.9,904.7 L1950.4,905.7 L1949.4,904.2 L1950.9,903.1 L1950.6,904.9 L1949.7,906.4 L1950.1,904.6 L1948.4,904.2 L1949.1,902.5 L1947.3,902.6" stroke="#3a00f6" stroke-width="1.2" fill="none"/>
<path d="M1926.1,791.6 L1924.4,791.3 L1925.2,792.9 L1923.4,792.9 L1922.5,791.4 L1921.1,790.2 L1921.7,791.9 L1920.9,793.5 L1922.5,794.4 L1921.6,792.8 L1920.0,792.2 L1919.8,790.4 L1918.3,791.3 L1919.9,790.5 L1921.7,790.5 L1922.1,788.8 L1920.4,788.6 L1919.7,786.9 L1920.8,788.4 L1920.2,786.7 L1921.3,788.1 L1919.8,789.0 L1920.3,790.7 L1918.8,789.8 L1919.9,788.4 L1920.7,786.7 L1922.2,785.7 L1923.0,787.2 L1921.7,788.4 L1920.4,789.6 L1918.8,790.4 L1918.6,792.2 L1918.6,790.4 L1920.4,790.2 L1921.1,791.9 L1922.1,793.4 L1920.5,792.7 L1922.2,792.3 L1922.1,790.5 L1923.5,791.5 L1922.2,792.7 L1920.8,793.8 L1922.1,792.6 L1920.4,792.5 L1921.1,794.2 L1920.7,792.4 L1922.5,792.1 L1921.9,793.8 L1920.1,793.7 L1919.0,792.3 L1919.6,790.6" stroke="#3a00f6" stroke-width="1.2" fill="none"/>
<path d="M1926.9,858.0 L1925.2,858.4 L1927.0,858.4 L1928.6,859.3 L1928.5,861.1 L1927.7,862.6 L1926.0,862.0 L1924.9,863.4 L1923.5,862.3 L1922.4,861.0 L1921.1,859.7 L1922.9,859.4 L1922.3,857.7 L1922.1,859.5 L1921.8,857.7 L1923.0,856.4 L1922.3,854.8 L1920.6,854.3 L1921.4,852.7 L1920.7,854.4 L1920.2,852.6 L1918.9,853.9 L1917.7,852.7 L1918.6,851.1 L1920.4,850.9 L1921.6,852.2 L1923.1,853.3 L1923.0,851.5 L1922.5,849.7 L1921.2,848.5 L1919.5,848.0 L1918.3,849.3 L1920.0,849.7 L1918.2,849.8 L1918.8,848.1 L1919.0,846.3 L1917.3,846.6 L1915.8,847.6 L1915.8,849.4 L1914.5,848.1 L1912.8,847.9 L1911.8,846.4 L1910.6,845.1 L1909.2,846.2 L1907.6,847.0 L1907.1,845.3 L1908.9,845.5 L1907.1,845.1 L1906.3,843.6 L1906.6,845.3 L1905.0,845.7" stroke="#3a00f6" stroke-width="1.2" fill="none"/>
<path d="M1924.6,826.7 L1925.4,825.1 L1925.1,823.3 L1923.8,824.5 L1923.0,826.1 L1921.2,826.1 L1919.4,826.3 L1917.9,827.2 L1916.2,827.7 L1914.5,826.9 L1915.1,825.2 L1913.3,825.6 L1914.6,826.9 L1916.3,826.1 L1918.0,825.7 L1918.7,827.4 L1918.4,825.6 L1920.1,826.0 L1921.2,827.5 L1922.3,826.1 L1923.9,825.2 L1925.4,826.2 L1926.2,824.6 L1928.0,824.6 L1926.3,825.2 L1927.9,826.2 L1926.1,826.2 L1925.3,824.5 L1924.8,826.3 L1923.7,824.9 L1922.1,825.8 L1920.9,824.5 L1921.7,822.9 L1921.1,821.2 L1919.6,820.3 L1921.3,820.9 L1922.9,820.1 L1924.4,819.0 L1922.7,819.5 L1922.1,821.2 L1920.3,820.9 L1918.5,821.1 L1920.3,820.7 L1920.8,822.4 L1922.2,823.5 L1921.8,821.8 L1923.2,822.9 L1924.8,821.9 L1923.1,822.5 L1924.8,822.0 L1926.7,822.0" stroke="#3a00f6" stroke-width="1.2" fill="none"/>
<path d="M1930.1,895.3 L1931.1,896.8 L1932.8,896.0 L1934.5,895.3 L1936.2,895.7 L1936.8,897.4 L1935.0,897.7 L1934.7,895.9 L1935.1,897.7 L1933.7,898.8 L1932.2,899.8 L1931.0,901.2 L1932.8,900.8 L1933.4,902.5 L1934.3,900.9 L1936.1,900.9 L1936.6,902.6 L1936.8,900.8 L1938.4,899.9 L1938.2,901.7 L1937.0,900.4 L1935.4,901.2 L1934.2,899.9 L1935.6,898.7 L1934.4,900.1 L1934.6,898.3 L1933.7,896.7 L1934.3,898.4 L1936.2,898.3 L1935.9,900.0 L1935.4,898.3 L1933.6,898.6 L1932.6,897.1 L1932.1,898.9 L1932.8,900.6 L1931.0,900.7 L1930.1,899.1 L1928.5,900.0 L1928.2,901.8 L1927.7,900.0 L1928.8,901.5 L1930.6,901.9 L1929.5,900.5 L1927.7,900.3 L1926.5,899.1 L1926.9,900.8 L1925.4,901.9 L1925.5,900.1 L1927.2,900.7 L1925.6,899.9 L1925.1,898.2" stroke="#3a00f6" stroke-width="1.2" fill="none"/>
<path d="M1933.4,932.2 L1931.7,931.8 L1930.5,930.4 L1929.1,929.3 L1927.6,928.5 L1925.8,928.1 L1924.1,927.9 L1925.2,929.4 L1923.4,929.4 L1922.7,927.8 L1921.8,926.2 L1921.2,924.5 L1921.7,926.2 L1920.4,925.1 L1921.8,926.2 L1923.4,925.2 L1921.6,925.4 L1923.2,926.1 L1921.6,925.5 L1920.4,926.8 L1922.2,927.1 L1922.7,925.4 L1921.8,923.9 L1923.5,923.3 L1924.7,922.0 L1926.4,922.8 L1927.9,921.7 L1926.2,921.1 L1927.7,919.9 L1929.5,919.6 L1931.1,920.4 L1932.1,918.9 L1932.6,917.2 L1931.4,918.4 L1932.6,919.8 L1930.8,919.7 L1932.2,918.5 L1930.6,919.2 L1932.3,918.5 L1932.4,916.7 L1934.2,916.4 L1936.0,916.7 L1936.7,915.0 L1937.2,913.3 L1939.0,912.9 L1939.6,914.6 L1940.0,912.9 L1938.3,913.3 L1940.1,913.1 L1941.8,912.5 L1943.4,913.5" stroke="#3a00f6" stroke-width="1.2" fill="none"/>
<path d="M1938.5,837.9 L1936.8,838.5 L1935.5,839.8 L1934.8,838.2 L1933.6,836.9 L1935.2,836.2 L1936.7,835.1 L1935.8,836.6 L1937.4,835.8 L1938.8,834.6 L1940.1,835.8 L1941.9,835.6 L1943.5,834.8 L1945.2,834.3 L1944.3,835.7 L1943.5,837.4 L1942.7,835.7 L1944.1,836.9 L1945.8,837.5 L1944.1,838.1 L1945.3,839.4 L1946.4,840.8 L1944.8,840.2 L1946.5,839.8 L1947.9,841.0 L1946.6,839.8 L1944.8,839.6 L1943.2,838.9 L1941.6,839.7 L1941.5,841.5 L1943.3,841.3 L1942.7,839.6 L1943.9,838.3 L1942.2,837.7 L1942.7,839.4 L1942.6,841.2 L1943.7,842.7 L1941.9,842.7 L1943.7,842.9 L1943.9,841.1 L1943.3,839.5 L1943.1,841.2 L1944.9,840.9 L1943.1,841.2 L1942.6,839.5 L1941.5,840.9 L1943.3,840.6 L1945.1,840.7 L1945.4,839.0 L1944.0,840.2 L1945.8,840.6" stroke="#3a00f6" stroke-width="1.2" fill="none"/>
<path d="M1930.5,778.2 L1932.1,777.3 L1933.2,778.7 L1933.4,780.5 L1934.9,781.5 L1934.0,780.0 L1933.3,778.3 L1932.4,779.9 L1932.6,778.1 L1932.2,779.8 L1930.5,779.8 L1929.3,778.5 L1928.3,780.0 L1927.6,781.6 L1925.9,782.1 L1927.7,782.2 L1929.3,781.3 L1931.0,781.7 L1929.3,781.2 L1927.6,781.6 L1927.8,783.4 L1926.0,783.2 L1924.9,784.5 L1924.0,786.1 L1924.9,787.6 L1925.2,785.9 L1923.6,785.0 L1924.0,786.8 L1922.4,786.0 L1922.5,787.8 L1924.0,786.7 L1923.3,785.0 L1924.3,786.5 L1924.0,788.3 L1925.3,787.1 L1926.9,786.1 L1926.9,784.3 L1927.0,782.6 L1928.1,781.1 L1926.6,782.0 L1927.0,783.8 L1928.6,782.9 L1930.0,784.1 L1931.8,784.3 L1933.3,785.3 L1935.1,785.6 L1936.1,784.1 L1937.8,784.5 L1939.7,784.5 L1940.2,782.8 L1939.2,784.2" stroke="#3a00f6" stroke-width="1.2" fill="none"/>
</g>
<ellipse cx="1703" cy="818" rx="11" ry="13.5" fill="#9a3a3a" fill-opacity="0.7"/>
<path d="M1687,812 a13,13 0 0,0 1,13" stroke="#e02020" stroke-width="3" fill="none"/>
<ellipse cx="2022.5" cy="923.8" rx="10" ry="14.5" fill="#f2c958"/>
<path d="M1952.0,722.2L1925.0,762.2" stroke="#a8a8a8" stroke-width="2.2" stroke-linecap="butt"/>
<path d="M1854.0,986.2L1853.0,1046.2" stroke="#a8a8a8" stroke-width="2.2" stroke-linecap="butt"/>
<path d="M1856.0,647.7L1856.0,737.2" stroke="#141414" stroke-width="4.0" stroke-linecap="butt"/>
<path d="M1964.0,702.7L1952.0,722.2" stroke="#141414" stroke-width="4.0" stroke-linecap="butt"/>
<path d="M2031.0,928.2L2119.4,957.9" stroke="#141414" stroke-width="4.0" stroke-linecap="butt"/>
<path d="M1775.0,988.2L1727.0,1062.7" stroke="#141414" stroke-width="4.0" stroke-linecap="butt"/>
<path d="M1853.0,1046.2L1853.0,1052.7" stroke="#141414" stroke-width="4.0" stroke-linecap="butt"/>
<path d="M1667.0,810.0L1684.0,813.0" stroke="#111" stroke-width="3"/>
<path d="M1589.8,786.9L1666.1,812.7L1667.9,807.3L1592.2,780.1Z" fill="#0fd83e"/>
<path d="M1591.9,781.0L1667.7,808.0" stroke="#0cc236" stroke-width="1.6"/>
<path d="M1557.0,771.7L1586.9,795.3L1595.1,771.7Z" fill="#10d03c"/>
<path d="M1557.0,771.7L1586.9,795.3L1590.0,786.4Z" fill="#0bb832"/>
<ellipse cx="1591.0" cy="783.5" rx="3.2" ry="12.5" transform="rotate(19.2,1591.0,783.5)" fill="#0fcf3c"/>
<text x="1850.0" y="642.5" font-size="27" font-style="italic" fill="#111">M<tspan font-size="19" dy="8.5">z</tspan></text>
<text x="2129.0" y="971.5" font-size="27" font-style="italic" fill="#111">M<tspan font-size="19" dy="8.5">y</tspan></text>
<text x="1708.0" y="1100.0" font-size="27" font-style="italic" fill="#111">M<tspan font-size="19" dy="8.5">x</tspan></text></svg>
</body></html>
